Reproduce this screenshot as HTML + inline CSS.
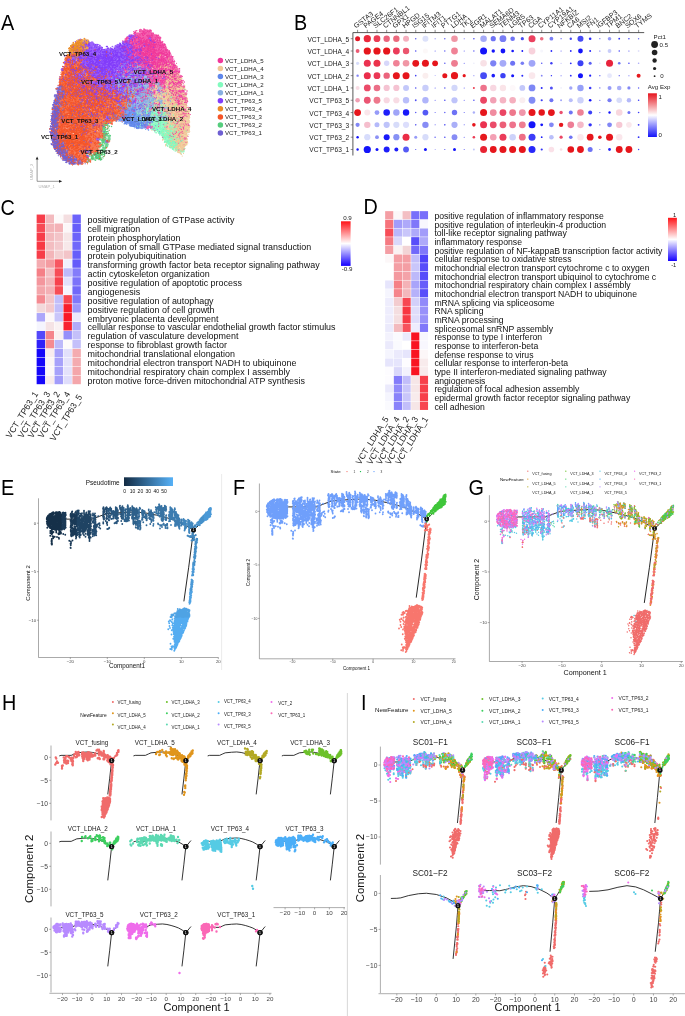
<!DOCTYPE html>
<html><head><meta charset="utf-8"><title>Figure</title>
<style>html,body{margin:0;padding:0;background:#fff}svg{display:block}text{font-family:"Liberation Sans",sans-serif}</style>
</head><body>
<svg width="685" height="1016" viewBox="0 0 685 1016">
<defs>
<linearGradient id="gB" x1="0" y1="0" x2="0" y2="1"><stop offset="0" stop-color="#e6141e"/><stop offset="0.5" stop-color="#ffffff"/><stop offset="1" stop-color="#1414fa"/></linearGradient>
<linearGradient id="gC" x1="0" y1="0" x2="0" y2="1"><stop offset="0" stop-color="#ff1418"/><stop offset="0.5" stop-color="#ffffff"/><stop offset="1" stop-color="#1400ff"/></linearGradient>
<linearGradient id="gE" x1="0" y1="0" x2="1" y2="0"><stop offset="0" stop-color="#132b43"/><stop offset="1" stop-color="#56b1f7"/></linearGradient>
</defs>
<rect width="685" height="1016" fill="#fff"/>
<text transform="translate(1.05 30) scale(0.9 1)" font-size="22">A</text>
<text transform="translate(294 30) scale(0.9 1)" font-size="22">B</text>
<text transform="translate(0.6 214.6) scale(0.9 1)" font-size="22">C</text>
<text transform="translate(363.4 213.8) scale(0.9 1)" font-size="22">D</text>
<text transform="translate(1 495) scale(0.9 1)" font-size="22">E</text>
<text transform="translate(232.9 495) scale(0.9 1)" font-size="22">F</text>
<text transform="translate(468.5 495.1) scale(0.9 1)" font-size="22">G</text>
<text transform="translate(2.1 710.1) scale(0.9 1)" font-size="22">H</text>
<text transform="translate(361.1 710) scale(0.9 1)" font-size="22">I</text>
<g id="pB">
<path d="M352.9 155.5V32.6H644.2" stroke="#444" stroke-width="0.9" fill="none"/>
<path d="M357.6 32.6v-2.8M367.29 32.6v-2.8M376.98 32.6v-2.8M386.67 32.6v-2.8M396.36 32.6v-2.8M406.05 32.6v-2.8M415.74 32.6v-2.8M425.43 32.6v-2.8M435.12 32.6v-2.8M444.81 32.6v-2.8M454.5 32.6v-2.8M464.19 32.6v-2.8M473.88 32.6v-2.8M483.57 32.6v-2.8M493.26 32.6v-2.8M502.95 32.6v-2.8M512.64 32.6v-2.8M522.33 32.6v-2.8M532.02 32.6v-2.8M541.71 32.6v-2.8M551.4 32.6v-2.8M561.09 32.6v-2.8M570.78 32.6v-2.8M580.47 32.6v-2.8M590.16 32.6v-2.8M599.85 32.6v-2.8M609.54 32.6v-2.8M619.23 32.6v-2.8M628.92 32.6v-2.8M638.61 32.6v-2.8M352.9 38.7h-2.2M352.9 51.01h-2.2M352.9 63.32h-2.2M352.9 75.63h-2.2M352.9 87.94h-2.2M352.9 100.25h-2.2M352.9 112.56h-2.2M352.9 124.87h-2.2M352.9 137.18h-2.2M352.9 149.49h-2.2" stroke="#444" stroke-width="0.6" fill="none"/>
<g font-size="7" fill="#222">
<text transform="translate(356.1 28.6) rotate(-38)">GSTA3</text>
<text transform="translate(365.79 28.6) rotate(-38)">PAGE4</text>
<text transform="translate(375.48 28.6) rotate(-38)">SLC26F1</text>
<text transform="translate(385.17 28.6) rotate(-38)">CTNNBL1</text>
<text transform="translate(394.86 28.6) rotate(-38)">GPX1</text>
<text transform="translate(404.55 28.6) rotate(-38)">HPGD</text>
<text transform="translate(414.24 28.6) rotate(-38)">ISG15</text>
<text transform="translate(423.93 28.6) rotate(-38)">IFITM3</text>
<text transform="translate(433.62 28.6) rotate(-38)">IFIT1</text>
<text transform="translate(443.31 28.6) rotate(-38)">PTTG1</text>
<text transform="translate(453 28.6) rotate(-38)">LDHA</text>
<text transform="translate(462.69 28.6) rotate(-38)">TK1</text>
<text transform="translate(472.38 28.6) rotate(-38)">EGR1</text>
<text transform="translate(482.07 28.6) rotate(-38)">MALAT1</text>
<text transform="translate(491.76 28.6) rotate(-38)">SEMA6D</text>
<text transform="translate(501.45 28.6) rotate(-38)">TENM3</text>
<text transform="translate(511.14 28.6) rotate(-38)">LGR5</text>
<text transform="translate(520.83 28.6) rotate(-38)">TP63</text>
<text transform="translate(530.52 28.6) rotate(-38)">CGA</text>
<text transform="translate(540.21 28.6) rotate(-38)">CYP11A1</text>
<text transform="translate(549.9 28.6) rotate(-38)">CYP19A1</text>
<text transform="translate(559.59 28.6) rotate(-38)">NFKBIZ</text>
<text transform="translate(569.28 28.6) rotate(-38)">CA6</text>
<text transform="translate(578.97 28.6) rotate(-38)">MSI2</text>
<text transform="translate(588.66 28.6) rotate(-38)">FN1</text>
<text transform="translate(598.35 28.6) rotate(-38)">IGFBP3</text>
<text transform="translate(608.04 28.6) rotate(-38)">TPM1</text>
<text transform="translate(617.73 28.6) rotate(-38)">BNC2</text>
<text transform="translate(627.42 28.6) rotate(-38)">SOX6</text>
<text transform="translate(637.11 28.6) rotate(-38)">TYMS</text>
</g>
<g font-size="6.6" text-anchor="end" fill="#222">
<text x="349.2" y="41.7">VCT_LDHA_5</text>
<text x="349.2" y="54.01">VCT_LDHA_4</text>
<text x="349.2" y="66.32">VCT_LDHA_3</text>
<text x="349.2" y="78.63">VCT_LDHA_2</text>
<text x="349.2" y="90.94">VCT_LDHA_1</text>
<text x="349.2" y="103.25">VCT_TP63_5</text>
<text x="349.2" y="115.56">VCT_TP63_4</text>
<text x="349.2" y="127.87">VCT_TP63_3</text>
<text x="349.2" y="140.18">VCT_TP63_2</text>
<text x="349.2" y="152.49">VCT_TP63_1</text>
</g>
<circle cx="357.6" cy="38.7" r="2.5" fill="#e11928"/>
<circle cx="367.29" cy="38.7" r="3.6" fill="#eb283c"/>
<circle cx="376.98" cy="38.7" r="3.4" fill="#eb3c55"/>
<circle cx="386.67" cy="38.7" r="3.2" fill="#eb647d"/>
<circle cx="396.36" cy="38.7" r="3.2" fill="#eb697d"/>
<circle cx="406.05" cy="38.7" r="3" fill="#f5afbe"/>
<circle cx="415.74" cy="38.7" r="0.7" fill="#5050f2"/>
<circle cx="425.43" cy="38.7" r="3" fill="#dce1fa"/>
<circle cx="435.12" cy="38.7" r="0.5" fill="#5050f2"/>
<circle cx="444.81" cy="38.7" r="0.7" fill="#5050f2"/>
<circle cx="454.5" cy="38.7" r="3.3" fill="#f096a5"/>
<circle cx="464.19" cy="38.7" r="0.5" fill="#5050f2"/>
<circle cx="473.88" cy="38.7" r="0.8" fill="#5050f2"/>
<circle cx="483.57" cy="38.7" r="3.3" fill="#a5aaf8"/>
<circle cx="493.26" cy="38.7" r="2.6" fill="#6e73f5"/>
<circle cx="502.95" cy="38.7" r="3.4" fill="#787df5"/>
<circle cx="512.64" cy="38.7" r="2.3" fill="#6e73f5"/>
<circle cx="522.33" cy="38.7" r="1.6" fill="#464bf5"/>
<circle cx="532.02" cy="38.7" r="3.5" fill="#eb415f"/>
<circle cx="541.71" cy="38.7" r="1.8" fill="#ee6e82"/>
<circle cx="551.4" cy="38.7" r="1.9" fill="#787df5"/>
<circle cx="561.09" cy="38.7" r="0.6" fill="#5050f2"/>
<circle cx="570.78" cy="38.7" r="1.2" fill="#4646f5"/>
<circle cx="580.47" cy="38.7" r="3" fill="#464bf5"/>
<circle cx="590.16" cy="38.7" r="1.3" fill="#2828fa"/>
<circle cx="599.85" cy="38.7" r="0.6" fill="#6464f5"/>
<circle cx="609.54" cy="38.7" r="1.8" fill="#969bf8"/>
<circle cx="619.23" cy="38.7" r="0.9" fill="#3232f8"/>
<circle cx="628.92" cy="38.7" r="0.7" fill="#3232f8"/>
<circle cx="638.61" cy="38.7" r="0.7" fill="#6e6ef5"/>
<circle cx="357.6" cy="51.01" r="1.9" fill="#eb5a73"/>
<circle cx="367.29" cy="51.01" r="3.6" fill="#e6161c"/>
<circle cx="376.98" cy="51.01" r="3.6" fill="#e6161c"/>
<circle cx="386.67" cy="51.01" r="3.6" fill="#e6161c"/>
<circle cx="396.36" cy="51.01" r="3.4" fill="#eb3c5a"/>
<circle cx="406.05" cy="51.01" r="3.2" fill="#eb556e"/>
<circle cx="415.74" cy="51.01" r="0.8" fill="#5050f2"/>
<circle cx="425.43" cy="51.01" r="2.5" fill="#fcf8f8"/>
<circle cx="435.12" cy="51.01" r="0.5" fill="#5050f2"/>
<circle cx="444.81" cy="51.01" r="0.7" fill="#5050f2"/>
<circle cx="454.5" cy="51.01" r="3.4" fill="#f08296"/>
<circle cx="464.19" cy="51.01" r="0.5" fill="#5050f2"/>
<circle cx="473.88" cy="51.01" r="0.7" fill="#5050f2"/>
<circle cx="483.57" cy="51.01" r="3.5" fill="#1414fa"/>
<circle cx="493.26" cy="51.01" r="1.7" fill="#1414fa"/>
<circle cx="502.95" cy="51.01" r="2.4" fill="#1414fa"/>
<circle cx="512.64" cy="51.01" r="1.3" fill="#1414fa"/>
<circle cx="522.33" cy="51.01" r="0.9" fill="#1414fa"/>
<circle cx="532.02" cy="51.01" r="3.4" fill="#f8d2dc"/>
<circle cx="541.71" cy="51.01" r="1.5" fill="#f6f6fc"/>
<circle cx="551.4" cy="51.01" r="0.9" fill="#2828fa"/>
<circle cx="561.09" cy="51.01" r="0.5" fill="#5050f2"/>
<circle cx="570.78" cy="51.01" r="0.9" fill="#2828fa"/>
<circle cx="580.47" cy="51.01" r="2.4" fill="#1414fa"/>
<circle cx="590.16" cy="51.01" r="1" fill="#2828fa"/>
<circle cx="599.85" cy="51.01" r="0.6" fill="#5050f2"/>
<circle cx="609.54" cy="51.01" r="1.9" fill="#c8cdfa"/>
<circle cx="619.23" cy="51.01" r="0.7" fill="#3232f8"/>
<circle cx="628.92" cy="51.01" r="0.6" fill="#5050f2"/>
<circle cx="638.61" cy="51.01" r="0.9" fill="#e1e1fa"/>
<circle cx="357.6" cy="63.32" r="1.6" fill="#d7dcfa"/>
<circle cx="367.29" cy="63.32" r="3.5" fill="#eb3250"/>
<circle cx="376.98" cy="63.32" r="3.5" fill="#eb324b"/>
<circle cx="386.67" cy="63.32" r="2.7" fill="#d7d7fa"/>
<circle cx="396.36" cy="63.32" r="3.3" fill="#f08296"/>
<circle cx="406.05" cy="63.32" r="3.3" fill="#f096a5"/>
<circle cx="415.74" cy="63.32" r="3.4" fill="#e6161c"/>
<circle cx="425.43" cy="63.32" r="3.5" fill="#e6161c"/>
<circle cx="435.12" cy="63.32" r="2.9" fill="#e6161c"/>
<circle cx="444.81" cy="63.32" r="0.8" fill="#6464f0"/>
<circle cx="454.5" cy="63.32" r="3.4" fill="#ee7d91"/>
<circle cx="464.19" cy="63.32" r="0.5" fill="#5050f2"/>
<circle cx="473.88" cy="63.32" r="0.8" fill="#ebebfa"/>
<circle cx="483.57" cy="63.32" r="3.3" fill="#f8e1e6"/>
<circle cx="493.26" cy="63.32" r="3.1" fill="#7d82f5"/>
<circle cx="502.95" cy="63.32" r="3.4" fill="#a5aaf8"/>
<circle cx="512.64" cy="63.32" r="2.5" fill="#6e73f5"/>
<circle cx="522.33" cy="63.32" r="1.8" fill="#787df5"/>
<circle cx="532.02" cy="63.32" r="3.4" fill="#a0a5f8"/>
<circle cx="541.71" cy="63.32" r="0.8" fill="#5a5af5"/>
<circle cx="551.4" cy="63.32" r="1.2" fill="#3c3cf5"/>
<circle cx="561.09" cy="63.32" r="0.5" fill="#aaaaf8"/>
<circle cx="570.78" cy="63.32" r="0.9" fill="#2828fa"/>
<circle cx="580.47" cy="63.32" r="3" fill="#3c41f5"/>
<circle cx="590.16" cy="63.32" r="1.5" fill="#5a5ff5"/>
<circle cx="599.85" cy="63.32" r="0.7" fill="#dcdcfa"/>
<circle cx="609.54" cy="63.32" r="3.5" fill="#e8233c"/>
<circle cx="619.23" cy="63.32" r="1.3" fill="#6e73f5"/>
<circle cx="628.92" cy="63.32" r="0.8" fill="#4646f8"/>
<circle cx="638.61" cy="63.32" r="0.8" fill="#aaaaf8"/>
<circle cx="357.6" cy="75.63" r="1.2" fill="#8282f5"/>
<circle cx="367.29" cy="75.63" r="3.5" fill="#eb2d4b"/>
<circle cx="376.98" cy="75.63" r="3.4" fill="#eb3755"/>
<circle cx="386.67" cy="75.63" r="3.2" fill="#eb647d"/>
<circle cx="396.36" cy="75.63" r="3.5" fill="#e6161c"/>
<circle cx="406.05" cy="75.63" r="3.5" fill="#e6161c"/>
<circle cx="415.74" cy="75.63" r="0.8" fill="#3c3cf0"/>
<circle cx="425.43" cy="75.63" r="3" fill="#faeeee"/>
<circle cx="435.12" cy="75.63" r="0.4" fill="#5050f2"/>
<circle cx="444.81" cy="75.63" r="2.5" fill="#e6161c"/>
<circle cx="454.5" cy="75.63" r="3.6" fill="#e6161c"/>
<circle cx="464.19" cy="75.63" r="1.6" fill="#e6161c"/>
<circle cx="473.88" cy="75.63" r="0.6" fill="#9696f6"/>
<circle cx="483.57" cy="75.63" r="3.4" fill="#464bf5"/>
<circle cx="493.26" cy="75.63" r="1.8" fill="#1e1efa"/>
<circle cx="502.95" cy="75.63" r="2.7" fill="#3c41f5"/>
<circle cx="512.64" cy="75.63" r="1.5" fill="#1414fa"/>
<circle cx="522.33" cy="75.63" r="1" fill="#2828fa"/>
<circle cx="532.02" cy="75.63" r="3.3" fill="#fae8ec"/>
<circle cx="541.71" cy="75.63" r="0.9" fill="#8282f5"/>
<circle cx="551.4" cy="75.63" r="0.7" fill="#2828fa"/>
<circle cx="561.09" cy="75.63" r="0.5" fill="#5050f2"/>
<circle cx="570.78" cy="75.63" r="0.9" fill="#2828fa"/>
<circle cx="580.47" cy="75.63" r="2.5" fill="#1414fa"/>
<circle cx="590.16" cy="75.63" r="1.1" fill="#1e1efa"/>
<circle cx="599.85" cy="75.63" r="0.6" fill="#5050f2"/>
<circle cx="609.54" cy="75.63" r="2.4" fill="#e6e8fc"/>
<circle cx="619.23" cy="75.63" r="0.6" fill="#5050f2"/>
<circle cx="628.92" cy="75.63" r="0.5" fill="#5050f2"/>
<circle cx="638.61" cy="75.63" r="2" fill="#e6191e"/>
<circle cx="357.6" cy="87.94" r="2" fill="#f8dce4"/>
<circle cx="367.29" cy="87.94" r="3.4" fill="#eb4b69"/>
<circle cx="376.98" cy="87.94" r="3.3" fill="#eb6e87"/>
<circle cx="386.67" cy="87.94" r="3.1" fill="#f5c3d2"/>
<circle cx="396.36" cy="87.94" r="3.1" fill="#f5c3d2"/>
<circle cx="406.05" cy="87.94" r="3" fill="#c3c8fa"/>
<circle cx="415.74" cy="87.94" r="0.8" fill="#5050f2"/>
<circle cx="425.43" cy="87.94" r="3.2" fill="#c8cdfa"/>
<circle cx="435.12" cy="87.94" r="0.5" fill="#5050f2"/>
<circle cx="444.81" cy="87.94" r="0.8" fill="#6464f0"/>
<circle cx="454.5" cy="87.94" r="3.1" fill="#d2d7fa"/>
<circle cx="464.19" cy="87.94" r="0.5" fill="#5050f2"/>
<circle cx="473.88" cy="87.94" r="1" fill="#eb3c50"/>
<circle cx="483.57" cy="87.94" r="3.3" fill="#ee738c"/>
<circle cx="493.26" cy="87.94" r="3.2" fill="#f8d7e1"/>
<circle cx="502.95" cy="87.94" r="3.2" fill="#fae4e8"/>
<circle cx="512.64" cy="87.94" r="3" fill="#fdf8fa"/>
<circle cx="522.33" cy="87.94" r="2.9" fill="#c3c8fa"/>
<circle cx="532.02" cy="87.94" r="3.4" fill="#7d87f5"/>
<circle cx="541.71" cy="87.94" r="1" fill="#2828fa"/>
<circle cx="551.4" cy="87.94" r="1.5" fill="#5050f5"/>
<circle cx="561.09" cy="87.94" r="0.9" fill="#f0f0fc"/>
<circle cx="570.78" cy="87.94" r="1.7" fill="#a0a5f8"/>
<circle cx="580.47" cy="87.94" r="3.2" fill="#96a0f8"/>
<circle cx="590.16" cy="87.94" r="1.3" fill="#3c3cf8"/>
<circle cx="599.85" cy="87.94" r="0.6" fill="#5050f2"/>
<circle cx="609.54" cy="87.94" r="2" fill="#969bf8"/>
<circle cx="619.23" cy="87.94" r="2.3" fill="#aaaff8"/>
<circle cx="628.92" cy="87.94" r="1.6" fill="#8287f5"/>
<circle cx="638.61" cy="87.94" r="0.7" fill="#5a5af5"/>
<circle cx="357.6" cy="100.25" r="2.3" fill="#f0a0b4"/>
<circle cx="367.29" cy="100.25" r="3.4" fill="#eb5573"/>
<circle cx="376.98" cy="100.25" r="3.4" fill="#ee788c"/>
<circle cx="386.67" cy="100.25" r="3.1" fill="#f8d7e1"/>
<circle cx="396.36" cy="100.25" r="3.1" fill="#f8dce4"/>
<circle cx="406.05" cy="100.25" r="3.2" fill="#b9befa"/>
<circle cx="415.74" cy="100.25" r="0.9" fill="#5050f2"/>
<circle cx="425.43" cy="100.25" r="3.2" fill="#afb4fa"/>
<circle cx="435.12" cy="100.25" r="0.5" fill="#5050f2"/>
<circle cx="444.81" cy="100.25" r="0.8" fill="#5050f2"/>
<circle cx="454.5" cy="100.25" r="3.1" fill="#bec3fa"/>
<circle cx="464.19" cy="100.25" r="0.5" fill="#5050f2"/>
<circle cx="473.88" cy="100.25" r="0.8" fill="#5a5af5"/>
<circle cx="483.57" cy="100.25" r="3.4" fill="#eb4664"/>
<circle cx="493.26" cy="100.25" r="3.2" fill="#f2a0b4"/>
<circle cx="502.95" cy="100.25" r="3.3" fill="#f5b4c3"/>
<circle cx="512.64" cy="100.25" r="3.3" fill="#f5afbe"/>
<circle cx="522.33" cy="100.25" r="3" fill="#faeef0"/>
<circle cx="532.02" cy="100.25" r="3.4" fill="#828cf5"/>
<circle cx="541.71" cy="100.25" r="1.1" fill="#3c3cf5"/>
<circle cx="551.4" cy="100.25" r="2" fill="#6e73f5"/>
<circle cx="561.09" cy="100.25" r="1" fill="#a0a5f8"/>
<circle cx="570.78" cy="100.25" r="2" fill="#b9befa"/>
<circle cx="580.47" cy="100.25" r="3.2" fill="#cdd2fa"/>
<circle cx="590.16" cy="100.25" r="1.3" fill="#1414fa"/>
<circle cx="599.85" cy="100.25" r="0.6" fill="#5050f2"/>
<circle cx="609.54" cy="100.25" r="2.1" fill="#787df5"/>
<circle cx="619.23" cy="100.25" r="2.8" fill="#d7dcfa"/>
<circle cx="628.92" cy="100.25" r="2.2" fill="#b4b9fa"/>
<circle cx="638.61" cy="100.25" r="0.8" fill="#3c3cf8"/>
<circle cx="357.6" cy="112.56" r="3.4" fill="#e6161c"/>
<circle cx="367.29" cy="112.56" r="3" fill="#fae6eb"/>
<circle cx="376.98" cy="112.56" r="2.4" fill="#969bf8"/>
<circle cx="386.67" cy="112.56" r="3.3" fill="#1e1efa"/>
<circle cx="396.36" cy="112.56" r="3.2" fill="#a0a5f8"/>
<circle cx="406.05" cy="112.56" r="3.2" fill="#1919fa"/>
<circle cx="415.74" cy="112.56" r="0.7" fill="#5050f2"/>
<circle cx="425.43" cy="112.56" r="2.9" fill="#555af5"/>
<circle cx="435.12" cy="112.56" r="0.5" fill="#5050f2"/>
<circle cx="444.81" cy="112.56" r="0.7" fill="#5050f2"/>
<circle cx="454.5" cy="112.56" r="2.7" fill="#6e73f5"/>
<circle cx="464.19" cy="112.56" r="0.5" fill="#5050f2"/>
<circle cx="473.88" cy="112.56" r="1.2" fill="#aaaff8"/>
<circle cx="483.57" cy="112.56" r="3.5" fill="#e6161c"/>
<circle cx="493.26" cy="112.56" r="3.4" fill="#f08ca0"/>
<circle cx="502.95" cy="112.56" r="3.4" fill="#eb4664"/>
<circle cx="512.64" cy="112.56" r="3.4" fill="#ee788c"/>
<circle cx="522.33" cy="112.56" r="3.4" fill="#f096aa"/>
<circle cx="532.02" cy="112.56" r="3.5" fill="#e6161c"/>
<circle cx="541.71" cy="112.56" r="3.2" fill="#e6161c"/>
<circle cx="551.4" cy="112.56" r="3.4" fill="#e6161c"/>
<circle cx="561.09" cy="112.56" r="1.7" fill="#eb506e"/>
<circle cx="570.78" cy="112.56" r="2" fill="#6e73f5"/>
<circle cx="580.47" cy="112.56" r="3.3" fill="#ee8296"/>
<circle cx="590.16" cy="112.56" r="2" fill="#3c41f8"/>
<circle cx="599.85" cy="112.56" r="0.6" fill="#5050f2"/>
<circle cx="609.54" cy="112.56" r="1.2" fill="#1414fa"/>
<circle cx="619.23" cy="112.56" r="3.3" fill="#f8d7de"/>
<circle cx="628.92" cy="112.56" r="1.5" fill="#6e73f5"/>
<circle cx="638.61" cy="112.56" r="0.8" fill="#3c3cf8"/>
<circle cx="357.6" cy="124.87" r="2.1" fill="#8287f5"/>
<circle cx="367.29" cy="124.87" r="3.2" fill="#f5becd"/>
<circle cx="376.98" cy="124.87" r="2.5" fill="#b4b9fa"/>
<circle cx="386.67" cy="124.87" r="3.1" fill="#bec3fa"/>
<circle cx="396.36" cy="124.87" r="3.1" fill="#d7dcfa"/>
<circle cx="406.05" cy="124.87" r="3.1" fill="#dcdefc"/>
<circle cx="415.74" cy="124.87" r="0.8" fill="#5a5af0"/>
<circle cx="425.43" cy="124.87" r="3.2" fill="#878cf5"/>
<circle cx="435.12" cy="124.87" r="0.5" fill="#5050f2"/>
<circle cx="444.81" cy="124.87" r="0.8" fill="#5050f2"/>
<circle cx="454.5" cy="124.87" r="3.1" fill="#aaaff8"/>
<circle cx="464.19" cy="124.87" r="0.5" fill="#5050f2"/>
<circle cx="473.88" cy="124.87" r="1.8" fill="#e6161c"/>
<circle cx="483.57" cy="124.87" r="3.5" fill="#eb3250"/>
<circle cx="493.26" cy="124.87" r="3.4" fill="#eb4b69"/>
<circle cx="502.95" cy="124.87" r="3.4" fill="#ec5f78"/>
<circle cx="512.64" cy="124.87" r="3.4" fill="#ee738c"/>
<circle cx="522.33" cy="124.87" r="3.4" fill="#ee7d91"/>
<circle cx="532.02" cy="124.87" r="3.5" fill="#1414fa"/>
<circle cx="541.71" cy="124.87" r="1.4" fill="#1414fa"/>
<circle cx="551.4" cy="124.87" r="2.4" fill="#8287f5"/>
<circle cx="561.09" cy="124.87" r="2.2" fill="#e6161c"/>
<circle cx="570.78" cy="124.87" r="3.3" fill="#ee7d96"/>
<circle cx="580.47" cy="124.87" r="3.3" fill="#f5b9c8"/>
<circle cx="590.16" cy="124.87" r="1.7" fill="#3232f8"/>
<circle cx="599.85" cy="124.87" r="0.6" fill="#5050f2"/>
<circle cx="609.54" cy="124.87" r="2.4" fill="#8287f5"/>
<circle cx="619.23" cy="124.87" r="3.2" fill="#f6c8d4"/>
<circle cx="628.92" cy="124.87" r="2.8" fill="#fae8ec"/>
<circle cx="638.61" cy="124.87" r="0.9" fill="#3c3cf8"/>
<circle cx="357.6" cy="137.18" r="1.2" fill="#1414fa"/>
<circle cx="367.29" cy="137.18" r="3.1" fill="#d7dcfc"/>
<circle cx="376.98" cy="137.18" r="1.9" fill="#8c91f5"/>
<circle cx="386.67" cy="137.18" r="3" fill="#1919fa"/>
<circle cx="396.36" cy="137.18" r="3.1" fill="#8791f5"/>
<circle cx="406.05" cy="137.18" r="3.5" fill="#eb2d46"/>
<circle cx="415.74" cy="137.18" r="1.5" fill="#969bf8"/>
<circle cx="425.43" cy="137.18" r="3.1" fill="#d7dcfa"/>
<circle cx="435.12" cy="137.18" r="0.8" fill="#6e6ef5"/>
<circle cx="444.81" cy="137.18" r="0.8" fill="#5050f2"/>
<circle cx="454.5" cy="137.18" r="2.9" fill="#878cf5"/>
<circle cx="464.19" cy="137.18" r="0.5" fill="#5050f2"/>
<circle cx="473.88" cy="137.18" r="1.3" fill="#eb3c55"/>
<circle cx="483.57" cy="137.18" r="3.5" fill="#e6191e"/>
<circle cx="493.26" cy="137.18" r="3.3" fill="#f3a0b4"/>
<circle cx="502.95" cy="137.18" r="3.5" fill="#eb3c5a"/>
<circle cx="512.64" cy="137.18" r="3.3" fill="#cdd2fa"/>
<circle cx="522.33" cy="137.18" r="3.4" fill="#ee6e87"/>
<circle cx="532.02" cy="137.18" r="3.5" fill="#3c3cf8"/>
<circle cx="541.71" cy="137.18" r="0.9" fill="#1e1efa"/>
<circle cx="551.4" cy="137.18" r="2.3" fill="#b9befa"/>
<circle cx="561.09" cy="137.18" r="1.6" fill="#eb4664"/>
<circle cx="570.78" cy="137.18" r="1.8" fill="#6e73f5"/>
<circle cx="580.47" cy="137.18" r="3.2" fill="#fae8ec"/>
<circle cx="590.16" cy="137.18" r="3.4" fill="#e6161c"/>
<circle cx="599.85" cy="137.18" r="1.8" fill="#e6161c"/>
<circle cx="609.54" cy="137.18" r="3.5" fill="#e6161c"/>
<circle cx="619.23" cy="137.18" r="3.2" fill="#fae6eb"/>
<circle cx="638.61" cy="137.18" r="0.9" fill="#3232f8"/>
<circle cx="357.6" cy="149.49" r="1.2" fill="#1414fa"/>
<circle cx="367.29" cy="149.49" r="3.6" fill="#1414fa"/>
<circle cx="376.98" cy="149.49" r="1.5" fill="#1414fa"/>
<circle cx="386.67" cy="149.49" r="3" fill="#1e1efa"/>
<circle cx="396.36" cy="149.49" r="2" fill="#1e1efa"/>
<circle cx="406.05" cy="149.49" r="2.9" fill="#555af5"/>
<circle cx="415.74" cy="149.49" r="0.6" fill="#5050f2"/>
<circle cx="425.43" cy="149.49" r="1.5" fill="#1414fa"/>
<circle cx="435.12" cy="149.49" r="0.4" fill="#5050f2"/>
<circle cx="444.81" cy="149.49" r="0.6" fill="#5050f2"/>
<circle cx="454.5" cy="149.49" r="1.5" fill="#1414fa"/>
<circle cx="464.19" cy="149.49" r="0.5" fill="#5050f2"/>
<circle cx="473.88" cy="149.49" r="1" fill="#c3c8fa"/>
<circle cx="483.57" cy="149.49" r="3.5" fill="#e82332"/>
<circle cx="493.26" cy="149.49" r="3.4" fill="#e6161c"/>
<circle cx="502.95" cy="149.49" r="3.5" fill="#e6161c"/>
<circle cx="512.64" cy="149.49" r="3.5" fill="#e6161c"/>
<circle cx="522.33" cy="149.49" r="3.5" fill="#e6161c"/>
<circle cx="532.02" cy="149.49" r="3.5" fill="#2828fa"/>
<circle cx="541.71" cy="149.49" r="1.1" fill="#3232f8"/>
<circle cx="551.4" cy="149.49" r="2.8" fill="#fae1e8"/>
<circle cx="561.09" cy="149.49" r="1.3" fill="#fadce4"/>
<circle cx="570.78" cy="149.49" r="3.3" fill="#e6161c"/>
<circle cx="580.47" cy="149.49" r="3.4" fill="#e6161c"/>
<circle cx="590.16" cy="149.49" r="2.5" fill="#6e73f5"/>
<circle cx="599.85" cy="149.49" r="0.5" fill="#5050f2"/>
<circle cx="609.54" cy="149.49" r="1.4" fill="#2828fa"/>
<circle cx="619.23" cy="149.49" r="3.4" fill="#e6161c"/>
<circle cx="628.92" cy="149.49" r="3.4" fill="#e6161c"/>
<circle cx="638.61" cy="149.49" r="0.7" fill="#4646f8"/>
<text x="653.6" y="38.6" font-size="6.1" fill="#222">Pct1</text>
<circle cx="654.6" cy="44.5" r="3.4" fill="#222"/>
<circle cx="654.6" cy="52.5" r="2.8" fill="#222"/>
<circle cx="654.6" cy="60.5" r="2.2" fill="#222"/>
<circle cx="654.6" cy="68.5" r="1.6" fill="#222"/>
<circle cx="654.6" cy="76.2" r="0.9" fill="#222"/>
<text x="659.6" y="46.6" font-size="6.1" fill="#222">0.5</text>
<text x="660.2" y="78.3" font-size="6.1" fill="#222">0</text>
<text x="647.8" y="88.5" font-size="6.1" fill="#222">Avg Exp</text>
<rect x="648" y="93.3" width="8.9" height="43.7" fill="url(#gB)"/>
<text x="658.6" y="98.8" font-size="6.1" fill="#222">1</text>
<text x="658.6" y="136.9" font-size="6.1" fill="#222">0</text>
</g>
<g id="pC">
<rect x="36.65" y="214.55" width="8.44" height="8.46" fill="#f73d49"/>
<rect x="45.59" y="214.55" width="8.44" height="8.46" fill="#f3babe"/>
<rect x="54.53" y="214.55" width="8.44" height="8.46" fill="#fdfafa"/>
<rect x="63.47" y="214.55" width="8.44" height="8.46" fill="#f4dee0"/>
<rect x="72.41" y="214.55" width="8.44" height="8.46" fill="#6c62fa"/>
<rect x="36.65" y="223.51" width="8.44" height="8.46" fill="#f74a55"/>
<rect x="45.59" y="223.51" width="8.44" height="8.46" fill="#f3b5b9"/>
<rect x="54.53" y="223.51" width="8.44" height="8.46" fill="#f4b2b7"/>
<rect x="63.47" y="223.51" width="8.44" height="8.46" fill="#fcf7f8"/>
<rect x="72.41" y="223.51" width="8.44" height="8.46" fill="#675dfa"/>
<rect x="36.65" y="232.46" width="8.44" height="8.46" fill="#f73d49"/>
<rect x="45.59" y="232.46" width="8.44" height="8.46" fill="#f3babe"/>
<rect x="54.53" y="232.46" width="8.44" height="8.46" fill="#f3c4c8"/>
<rect x="63.47" y="232.46" width="8.44" height="8.46" fill="#f6e6e7"/>
<rect x="72.41" y="232.46" width="8.44" height="8.46" fill="#6c62fa"/>
<rect x="36.65" y="241.42" width="8.44" height="8.46" fill="#f83844"/>
<rect x="45.59" y="241.42" width="8.44" height="8.46" fill="#f3bdc1"/>
<rect x="54.53" y="241.42" width="8.44" height="8.46" fill="#f3c9cd"/>
<rect x="63.47" y="241.42" width="8.44" height="8.46" fill="#f7e8e9"/>
<rect x="72.41" y="241.42" width="8.44" height="8.46" fill="#7168fa"/>
<rect x="36.65" y="250.37" width="8.44" height="8.46" fill="#f73d49"/>
<rect x="45.59" y="250.37" width="8.44" height="8.46" fill="#f3b5b9"/>
<rect x="54.53" y="250.37" width="8.44" height="8.46" fill="#f3cfd1"/>
<rect x="63.47" y="250.37" width="8.44" height="8.46" fill="#f3c4c8"/>
<rect x="72.41" y="250.37" width="8.44" height="8.46" fill="#675dfa"/>
<rect x="36.65" y="259.32" width="8.44" height="8.46" fill="#f4abb0"/>
<rect x="45.59" y="259.32" width="8.44" height="8.46" fill="#f49ca1"/>
<rect x="54.53" y="259.32" width="8.44" height="8.46" fill="#f75761"/>
<rect x="63.47" y="259.32" width="8.44" height="8.46" fill="#f0effd"/>
<rect x="72.41" y="259.32" width="8.44" height="8.46" fill="#655bfa"/>
<rect x="36.65" y="268.28" width="8.44" height="8.46" fill="#f58087"/>
<rect x="45.59" y="268.28" width="8.44" height="8.46" fill="#f3bfc3"/>
<rect x="54.53" y="268.28" width="8.44" height="8.46" fill="#f74d57"/>
<rect x="63.47" y="268.28" width="8.44" height="8.46" fill="#bdb9fa"/>
<rect x="72.41" y="268.28" width="8.44" height="8.46" fill="#847cfa"/>
<rect x="36.65" y="277.24" width="8.44" height="8.46" fill="#f4969d"/>
<rect x="45.59" y="277.24" width="8.44" height="8.46" fill="#f3b5b9"/>
<rect x="54.53" y="277.24" width="8.44" height="8.46" fill="#f7424d"/>
<rect x="63.47" y="277.24" width="8.44" height="8.46" fill="#e2e0fb"/>
<rect x="72.41" y="277.24" width="8.44" height="8.46" fill="#7b72fa"/>
<rect x="36.65" y="286.19" width="8.44" height="8.46" fill="#f4a6ab"/>
<rect x="45.59" y="286.19" width="8.44" height="8.46" fill="#f4b0b5"/>
<rect x="54.53" y="286.19" width="8.44" height="8.46" fill="#f74d57"/>
<rect x="63.47" y="286.19" width="8.44" height="8.46" fill="#f5f5fe"/>
<rect x="72.41" y="286.19" width="8.44" height="8.46" fill="#7168fa"/>
<rect x="36.65" y="295.14" width="8.44" height="8.46" fill="#f58a91"/>
<rect x="45.59" y="295.14" width="8.44" height="8.46" fill="#f3c4c8"/>
<rect x="54.53" y="295.14" width="8.44" height="8.46" fill="#c2befa"/>
<rect x="63.47" y="295.14" width="8.44" height="8.46" fill="#f74752"/>
<rect x="72.41" y="295.14" width="8.44" height="8.46" fill="#8077fa"/>
<rect x="36.65" y="304.1" width="8.44" height="8.46" fill="#f2d9db"/>
<rect x="45.59" y="304.1" width="8.44" height="8.46" fill="#f3c9cd"/>
<rect x="54.53" y="304.1" width="8.44" height="8.46" fill="#c2befa"/>
<rect x="63.47" y="304.1" width="8.44" height="8.46" fill="#f81f2c"/>
<rect x="72.41" y="304.1" width="8.44" height="8.46" fill="#9d97fa"/>
<rect x="36.65" y="313.06" width="8.44" height="8.46" fill="#aca6fa"/>
<rect x="45.59" y="313.06" width="8.44" height="8.46" fill="#fcf7f8"/>
<rect x="54.53" y="313.06" width="8.44" height="8.46" fill="#c9c6fa"/>
<rect x="63.47" y="313.06" width="8.44" height="8.46" fill="#f91927"/>
<rect x="72.41" y="313.06" width="8.44" height="8.46" fill="#ebeafc"/>
<rect x="36.65" y="322.01" width="8.44" height="8.46" fill="#f5f5fe"/>
<rect x="45.59" y="322.01" width="8.44" height="8.46" fill="#f5e3e5"/>
<rect x="54.53" y="322.01" width="8.44" height="8.46" fill="#faf2f3"/>
<rect x="63.47" y="322.01" width="8.44" height="8.46" fill="#f82431"/>
<rect x="72.41" y="322.01" width="8.44" height="8.46" fill="#b1abfa"/>
<rect x="36.65" y="330.97" width="8.44" height="8.46" fill="#5448fa"/>
<rect x="45.59" y="330.97" width="8.44" height="8.46" fill="#f5858c"/>
<rect x="54.53" y="330.97" width="8.44" height="8.46" fill="#faf0f1"/>
<rect x="63.47" y="330.97" width="8.44" height="8.46" fill="#968ffa"/>
<rect x="72.41" y="330.97" width="8.44" height="8.46" fill="#c4c0fa"/>
<rect x="36.65" y="339.92" width="8.44" height="8.46" fill="#2f21fa"/>
<rect x="45.59" y="339.92" width="8.44" height="8.46" fill="#f58a91"/>
<rect x="54.53" y="339.92" width="8.44" height="8.46" fill="#bdb9fa"/>
<rect x="63.47" y="339.92" width="8.44" height="8.46" fill="#fdfafa"/>
<rect x="72.41" y="339.92" width="8.44" height="8.46" fill="#c4c0fa"/>
<rect x="36.65" y="348.88" width="8.44" height="8.46" fill="#1607fa"/>
<rect x="45.59" y="348.88" width="8.44" height="8.46" fill="#f9edee"/>
<rect x="54.53" y="348.88" width="8.44" height="8.46" fill="#a7a1fa"/>
<rect x="63.47" y="348.88" width="8.44" height="8.46" fill="#e2e0fb"/>
<rect x="72.41" y="348.88" width="8.44" height="8.46" fill="#f4abb0"/>
<rect x="36.65" y="357.83" width="8.44" height="8.46" fill="#1607fa"/>
<rect x="45.59" y="357.83" width="8.44" height="8.46" fill="#fbf5f5"/>
<rect x="54.53" y="357.83" width="8.44" height="8.46" fill="#a7a1fa"/>
<rect x="63.47" y="357.83" width="8.44" height="8.46" fill="#e4e2fb"/>
<rect x="72.41" y="357.83" width="8.44" height="8.46" fill="#f4abb0"/>
<rect x="36.65" y="366.79" width="8.44" height="8.46" fill="#1607fa"/>
<rect x="45.59" y="366.79" width="8.44" height="8.46" fill="#fcf7f8"/>
<rect x="54.53" y="366.79" width="8.44" height="8.46" fill="#a7a1fa"/>
<rect x="63.47" y="366.79" width="8.44" height="8.46" fill="#e4e2fb"/>
<rect x="72.41" y="366.79" width="8.44" height="8.46" fill="#f4a6ab"/>
<rect x="36.65" y="375.74" width="8.44" height="8.46" fill="#1607fa"/>
<rect x="45.59" y="375.74" width="8.44" height="8.46" fill="#f8ebec"/>
<rect x="54.53" y="375.74" width="8.44" height="8.46" fill="#a29cfa"/>
<rect x="63.47" y="375.74" width="8.44" height="8.46" fill="#dfddfb"/>
<rect x="72.41" y="375.74" width="8.44" height="8.46" fill="#f4a6ab"/>
<g font-size="8.94" fill="#111">
<text x="87.6" y="223">positive regulation of GTPase activity</text>
<text x="87.6" y="231.96">cell migration</text>
<text x="87.6" y="240.91">protein phosphorylation</text>
<text x="87.6" y="249.87">regulation of small GTPase mediated signal transduction</text>
<text x="87.6" y="258.82">protein polyubiquitination</text>
<text x="87.6" y="267.77">transforming growth factor beta receptor signaling pathway</text>
<text x="87.6" y="276.73">actin cytoskeleton organization</text>
<text x="87.6" y="285.69">positive regulation of apoptotic process</text>
<text x="87.6" y="294.64">angiogenesis</text>
<text x="87.6" y="303.59">positive regulation of autophagy</text>
<text x="87.6" y="312.55">positive regulation of cell growth</text>
<text x="87.6" y="321.5">embryonic placenta development</text>
<text x="87.6" y="330.46">cellular response to vascular endothelial growth factor stimulus</text>
<text x="87.6" y="339.42">regulation of vasculature development</text>
<text x="87.6" y="348.37">response to fibroblast growth factor</text>
<text x="87.6" y="357.32">mitochondrial translational elongation</text>
<text x="87.6" y="366.28">mitochondrial electron transport NADH to ubiquinone</text>
<text x="87.6" y="375.24">mitochondrial respiratory chain complex I assembly</text>
<text x="87.6" y="384.19">proton motive force-driven mitochondrial ATP synthesis</text>
</g>
<g font-size="8.7" fill="#222" text-anchor="end">
<text transform="translate(38.5 394) rotate(-58)">VCT_TP63_1</text>
<text transform="translate(50.5 394) rotate(-58)">VCT_TP63_3</text>
<text transform="translate(60.3 394) rotate(-58)">VCT_TP63_2</text>
<text transform="translate(70.5 394) rotate(-58)">VCT_TP63_4</text>
<text transform="translate(82.5 397) rotate(-58)">VCT_TP63_5</text>
</g>
<rect x="341" y="221.3" width="9.6" height="44.6" fill="url(#gC)"/>
<text x="343.2" y="220.2" font-size="6.2" fill="#222">0.9</text>
<text x="341.8" y="271.4" font-size="6.2" fill="#222">-0.9</text>
</g>
<g id="pD">
<rect x="385.15" y="211.15" width="8.18" height="8.16" fill="#f49ea4"/>
<rect x="393.83" y="211.15" width="8.18" height="8.16" fill="#fcf7f8"/>
<rect x="402.51" y="211.15" width="8.18" height="8.16" fill="#f3bfc3"/>
<rect x="411.19" y="211.15" width="8.18" height="8.16" fill="#786ffa"/>
<rect x="419.87" y="211.15" width="8.18" height="8.16" fill="#786ffa"/>
<rect x="385.15" y="219.81" width="8.18" height="8.16" fill="#f6737b"/>
<rect x="393.83" y="219.81" width="8.18" height="8.16" fill="#a29cfa"/>
<rect x="402.51" y="219.81" width="8.18" height="8.16" fill="#aea9fa"/>
<rect x="411.19" y="219.81" width="8.18" height="8.16" fill="#8077fa"/>
<rect x="419.87" y="219.81" width="8.18" height="8.16" fill="#f8f7fe"/>
<rect x="385.15" y="228.48" width="8.18" height="8.16" fill="#f74d57"/>
<rect x="393.83" y="228.48" width="8.18" height="8.16" fill="#bab6fa"/>
<rect x="402.51" y="228.48" width="8.18" height="8.16" fill="#c9c6fa"/>
<rect x="411.19" y="228.48" width="8.18" height="8.16" fill="#aea9fa"/>
<rect x="419.87" y="228.48" width="8.18" height="8.16" fill="#a29cfa"/>
<rect x="385.15" y="237.15" width="8.18" height="8.16" fill="#f57a82"/>
<rect x="393.83" y="237.15" width="8.18" height="8.16" fill="#dad8fa"/>
<rect x="402.51" y="237.15" width="8.18" height="8.16" fill="#ffffff"/>
<rect x="411.19" y="237.15" width="8.18" height="8.16" fill="#584efa"/>
<rect x="419.87" y="237.15" width="8.18" height="8.16" fill="#aea9fa"/>
<rect x="385.15" y="245.81" width="8.18" height="8.16" fill="#f49ea4"/>
<rect x="393.83" y="245.81" width="8.18" height="8.16" fill="#faf2f3"/>
<rect x="402.51" y="245.81" width="8.18" height="8.16" fill="#f2d4d6"/>
<rect x="411.19" y="245.81" width="8.18" height="8.16" fill="#7168fa"/>
<rect x="419.87" y="245.81" width="8.18" height="8.16" fill="#8077fa"/>
<rect x="385.15" y="254.47" width="8.18" height="8.16" fill="#fcf7f8"/>
<rect x="393.83" y="254.47" width="8.18" height="8.16" fill="#f49ea4"/>
<rect x="402.51" y="254.47" width="8.18" height="8.16" fill="#f49ea4"/>
<rect x="411.19" y="254.47" width="8.18" height="8.16" fill="#c2befa"/>
<rect x="419.87" y="254.47" width="8.18" height="8.16" fill="#4f43fa"/>
<rect x="385.15" y="263.14" width="8.18" height="8.16" fill="#ffffff"/>
<rect x="393.83" y="263.14" width="8.18" height="8.16" fill="#f49ea4"/>
<rect x="402.51" y="263.14" width="8.18" height="8.16" fill="#f49ea4"/>
<rect x="411.19" y="263.14" width="8.18" height="8.16" fill="#c9c6fa"/>
<rect x="419.87" y="263.14" width="8.18" height="8.16" fill="#584efa"/>
<rect x="385.15" y="271.81" width="8.18" height="8.16" fill="#ffffff"/>
<rect x="393.83" y="271.81" width="8.18" height="8.16" fill="#f4999f"/>
<rect x="402.51" y="271.81" width="8.18" height="8.16" fill="#f4a3a9"/>
<rect x="411.19" y="271.81" width="8.18" height="8.16" fill="#bdb9fa"/>
<rect x="419.87" y="271.81" width="8.18" height="8.16" fill="#584efa"/>
<rect x="385.15" y="280.47" width="8.18" height="8.16" fill="#e6e5fc"/>
<rect x="393.83" y="280.47" width="8.18" height="8.16" fill="#f58087"/>
<rect x="402.51" y="280.47" width="8.18" height="8.16" fill="#f4b2b7"/>
<rect x="411.19" y="280.47" width="8.18" height="8.16" fill="#a9a4fa"/>
<rect x="419.87" y="280.47" width="8.18" height="8.16" fill="#675dfa"/>
<rect x="385.15" y="289.13" width="8.18" height="8.16" fill="#f5f5fe"/>
<rect x="393.83" y="289.13" width="8.18" height="8.16" fill="#f5858c"/>
<rect x="402.51" y="289.13" width="8.18" height="8.16" fill="#f3b8bc"/>
<rect x="411.19" y="289.13" width="8.18" height="8.16" fill="#b6b1fa"/>
<rect x="419.87" y="289.13" width="8.18" height="8.16" fill="#584efa"/>
<rect x="385.15" y="297.8" width="8.18" height="8.16" fill="#eeedfd"/>
<rect x="393.83" y="297.8" width="8.18" height="8.16" fill="#f3cccf"/>
<rect x="402.51" y="297.8" width="8.18" height="8.16" fill="#f74752"/>
<rect x="411.19" y="297.8" width="8.18" height="8.16" fill="#d3d0fa"/>
<rect x="419.87" y="297.8" width="8.18" height="8.16" fill="#918afa"/>
<rect x="385.15" y="306.47" width="8.18" height="8.16" fill="#eeedfd"/>
<rect x="393.83" y="306.47" width="8.18" height="8.16" fill="#f4dee0"/>
<rect x="402.51" y="306.47" width="8.18" height="8.16" fill="#f83641"/>
<rect x="411.19" y="306.47" width="8.18" height="8.16" fill="#dfddfb"/>
<rect x="419.87" y="306.47" width="8.18" height="8.16" fill="#9891fa"/>
<rect x="385.15" y="315.13" width="8.18" height="8.16" fill="#eeedfd"/>
<rect x="393.83" y="315.13" width="8.18" height="8.16" fill="#f4dee0"/>
<rect x="402.51" y="315.13" width="8.18" height="8.16" fill="#f73b46"/>
<rect x="411.19" y="315.13" width="8.18" height="8.16" fill="#dfddfb"/>
<rect x="419.87" y="315.13" width="8.18" height="8.16" fill="#9891fa"/>
<rect x="385.15" y="323.79" width="8.18" height="8.16" fill="#ebeafc"/>
<rect x="393.83" y="323.79" width="8.18" height="8.16" fill="#f3babe"/>
<rect x="402.51" y="323.79" width="8.18" height="8.16" fill="#f7525c"/>
<rect x="411.19" y="323.79" width="8.18" height="8.16" fill="#eeedfd"/>
<rect x="419.87" y="323.79" width="8.18" height="8.16" fill="#8077fa"/>
<rect x="385.15" y="332.46" width="8.18" height="8.16" fill="#f3f2fd"/>
<rect x="393.83" y="332.46" width="8.18" height="8.16" fill="#fafafe"/>
<rect x="402.51" y="332.46" width="8.18" height="8.16" fill="#ebeafc"/>
<rect x="411.19" y="332.46" width="8.18" height="8.16" fill="#f91422"/>
<rect x="419.87" y="332.46" width="8.18" height="8.16" fill="#f8f7fe"/>
<rect x="385.15" y="341.12" width="8.18" height="8.16" fill="#ebeafc"/>
<rect x="393.83" y="341.12" width="8.18" height="8.16" fill="#fafafe"/>
<rect x="402.51" y="341.12" width="8.18" height="8.16" fill="#ffffff"/>
<rect x="411.19" y="341.12" width="8.18" height="8.16" fill="#f91422"/>
<rect x="419.87" y="341.12" width="8.18" height="8.16" fill="#f8f7fe"/>
<rect x="385.15" y="349.79" width="8.18" height="8.16" fill="#f5f5fe"/>
<rect x="393.83" y="349.79" width="8.18" height="8.16" fill="#ebeafc"/>
<rect x="402.51" y="349.79" width="8.18" height="8.16" fill="#e6e5fc"/>
<rect x="411.19" y="349.79" width="8.18" height="8.16" fill="#f91422"/>
<rect x="419.87" y="349.79" width="8.18" height="8.16" fill="#fcf7f8"/>
<rect x="385.15" y="358.45" width="8.18" height="8.16" fill="#e6e5fc"/>
<rect x="393.83" y="358.45" width="8.18" height="8.16" fill="#e6e5fc"/>
<rect x="402.51" y="358.45" width="8.18" height="8.16" fill="#fdfcff"/>
<rect x="411.19" y="358.45" width="8.18" height="8.16" fill="#f91422"/>
<rect x="419.87" y="358.45" width="8.18" height="8.16" fill="#f8ebec"/>
<rect x="385.15" y="367.12" width="8.18" height="8.16" fill="#fdfcff"/>
<rect x="393.83" y="367.12" width="8.18" height="8.16" fill="#dad8fa"/>
<rect x="402.51" y="367.12" width="8.18" height="8.16" fill="#f3f2fd"/>
<rect x="411.19" y="367.12" width="8.18" height="8.16" fill="#f91422"/>
<rect x="419.87" y="367.12" width="8.18" height="8.16" fill="#f8ebec"/>
<rect x="385.15" y="375.78" width="8.18" height="8.16" fill="#fdfcff"/>
<rect x="393.83" y="375.78" width="8.18" height="8.16" fill="#847cfa"/>
<rect x="402.51" y="375.78" width="8.18" height="8.16" fill="#c2befa"/>
<rect x="411.19" y="375.78" width="8.18" height="8.16" fill="#f6e6e7"/>
<rect x="419.87" y="375.78" width="8.18" height="8.16" fill="#f7404b"/>
<rect x="385.15" y="384.45" width="8.18" height="8.16" fill="#ebeafc"/>
<rect x="393.83" y="384.45" width="8.18" height="8.16" fill="#918afa"/>
<rect x="402.51" y="384.45" width="8.18" height="8.16" fill="#c9c6fa"/>
<rect x="411.19" y="384.45" width="8.18" height="8.16" fill="#f6e6e7"/>
<rect x="419.87" y="384.45" width="8.18" height="8.16" fill="#f7404b"/>
<rect x="385.15" y="393.12" width="8.18" height="8.16" fill="#f5f5fe"/>
<rect x="393.83" y="393.12" width="8.18" height="8.16" fill="#8982fa"/>
<rect x="402.51" y="393.12" width="8.18" height="8.16" fill="#c9c6fa"/>
<rect x="411.19" y="393.12" width="8.18" height="8.16" fill="#f8ebec"/>
<rect x="419.87" y="393.12" width="8.18" height="8.16" fill="#f7404b"/>
<rect x="385.15" y="401.78" width="8.18" height="8.16" fill="#fafafe"/>
<rect x="393.83" y="401.78" width="8.18" height="8.16" fill="#8982fa"/>
<rect x="402.51" y="401.78" width="8.18" height="8.16" fill="#c2befa"/>
<rect x="411.19" y="401.78" width="8.18" height="8.16" fill="#f6e6e7"/>
<rect x="419.87" y="401.78" width="8.18" height="8.16" fill="#f74550"/>
<g font-size="8.66" fill="#111">
<text x="434.4" y="218.9">positive regulation of inflammatory response</text>
<text x="434.4" y="227.56">positive regulation of interleukin-4 production</text>
<text x="434.4" y="236.23">toll-like receptor signaling pathway</text>
<text x="434.4" y="244.9">inflammatory response</text>
<text x="434.4" y="253.56">positive regulation of NF-kappaB transcription factor activity</text>
<text x="434.4" y="262.23">cellular response to oxidative stress</text>
<text x="434.4" y="270.89">mitochondrial electron transport cytochrome c to oxygen</text>
<text x="434.4" y="279.56">mitochondrial electron transport ubiquinol to cytochrome c</text>
<text x="434.4" y="288.22">mitochondrial respiratory chain complex I assembly</text>
<text x="434.4" y="296.88">mitochondrial electron transport NADH to ubiquinone</text>
<text x="434.4" y="305.55">mRNA splicing via spliceosome</text>
<text x="434.4" y="314.22">RNA splicing</text>
<text x="434.4" y="322.88">mRNA processing</text>
<text x="434.4" y="331.54">spliceosomal snRNP assembly</text>
<text x="434.4" y="340.21">response to type I interferon</text>
<text x="434.4" y="348.88">response to interferon-beta</text>
<text x="434.4" y="357.54">defense response to virus</text>
<text x="434.4" y="366.2">cellular response to interferon-beta</text>
<text x="434.4" y="374.87">type II interferon-mediated signaling pathway</text>
<text x="434.4" y="383.53">angiogenesis</text>
<text x="434.4" y="392.2">regulation of focal adhesion assembly</text>
<text x="434.4" y="400.87">epidermal growth factor receptor signaling pathway</text>
<text x="434.4" y="409.53">cell adhesion</text>
</g>
<g font-size="8.6" fill="#222" text-anchor="end">
<text transform="translate(389 419) rotate(-58)">VCT_LDHA_5</text>
<text transform="translate(400 419) rotate(-58)">VCT_LDHA_4</text>
<text transform="translate(409.5 419) rotate(-58)">VCT_LDHA_2</text>
<text transform="translate(418.5 419) rotate(-58)">VCT_LDHA_3</text>
<text transform="translate(428.5 419) rotate(-58)">VCT_LDHA_1</text>
</g>
<rect x="668" y="217.8" width="8.9" height="43.2" fill="url(#gC)"/>
<text x="672.9" y="216.8" font-size="5.8" fill="#222">1</text>
<text x="671.2" y="267.4" font-size="5.8" fill="#222">-1</text>
</g>
<g id="pA">
<path transform="scale(0.5)" d="M270 72h0m0-5h0m4 5h0m2-4h0m4 3h0m1-3h0m0-7h0m4 12h0m1-5h0m0-5h0m3 10h0m0-6h0m2-4h0m3 4h0m0-5h0m1 10h0m4-5h0m1 5h0m0-10h0m3 11h0m1-5h0m4 4h0m5 0h0m10 14h0m-4-4h0m0-6h0m-1 10h0m-3-4h0m-2 5h0m0-11h0m-4 0h0m0 11h0m-1-6h0m-3-4h0m-1 5h0m-1 4h0m-3-5h0m-1 5h0m-4 1h0m-1-9h0m0 4h0m-4-5h0m0 9h0m-1-4h0m-4-1h0m0-5h0m-1 11h0m-4-5h0m0 4h0m-1-9h0m-3 9h0m-1-5h0m0-5h0m-5 11h0m0-5h0m0-6h0m-4 0h0m-1 11h0m0-6h0m-4 1h0m-1 5h0m-5-11h0m-3 5h0m-6 15h0m9 6h0m6-6h0m4-6h0m5 11h0m1-11h0m0 6h0m4-5h0m1 5h0m4-4h0m1 4h0m3 5h0m0-10h0m2 6h0m4-1h0m0 4h0m4 1h0m0-6h0m1-5h0m4 6h0m1 6h0m0-12h0m3 6h0m2-5h0m0 9h0m4-9h0m1 9h0m0-3h0m4-5h0m0 3h0m1 5h0m3-5h0m0-3h0m0 9h0m4 1h0m1-7h0m1-4h0m3 10h0m1-11h0m0 7h0m5 4h0m10 14h0m0 4h0m-5-13h0m-1 8h0m0-4h0m-3 6h0m-1-6h0m0-5h0m-1 14h0m-4-10h0m-1 6h0m0 4h0m0-14h0m-4 10h0m0-10h0m-1 5h0m-4 9h0m0-14h0m0 11h0m-4-10h0m0 9h0m0-5h0m-5 1h0m0-5h0m-1 10h0m-4-6h0m0 9h0m0-14h0m0 11h0m-4-9h0m0 3h0m0 9h0m-1-3h0m-5 3h0m0-8h0m0-5h0m-4 9h0m0-10h0m0 4h0m-4-3h0m-1 4h0m-1 5h0m-4 0h0m0-5h0m0-4h0m-4 4h0m-1-4h0m-5 0h0m0 4h0m-4-5h0m0 6h0m-5 4h0m-4 4h0m-1-14h0m-4 15h0m4 9h0m5-4h0m4 9h0m0-5h0m5-4h0m0-5h0m5 6h0m6 4h0m3 0h0m1-10h0m0 4h0m4 10h0m0-5h0m1-9h0m5 10h0m0-5h0m3 1h0m1 3h0m4 4h0m1-3h0m1-5h0m3-4h0m0 9h0m0 4h0m1-10h0m4 6h0m0-5h0m1-5h0m4 4h0m1 6h0m4-10h0m1 10h0m0-5h0m5-1h0m0 6h0m3-5h0m1 6h0m5-1h0m0-10h0m0 4h0m0 9h0m4-8h0m0 9h0m1-5h0m3-4h0m1 4h0m5 5h0m5 10h0m-5 4h0m0-10h0m-1 5h0m-4-3h0m-1 3h0m0-8h0m-3 5h0m0 9h0m-1-5h0m-4 0h0m0-6h0m0 11h0m-5-6h0m-1 6h0m0-10h0m-3 9h0m0-8h0m-1 5h0m-4-2h0m0 6h0m-1-10h0m-4 0h0m0-4h0m-5 0h0m0 9h0m-1 4h0m0-8h0m-4 0h0m-1 8h0m0-3h0m-3 0h0m-2-5h0m-4 8h0m0-3h0m-1-7h0m-3-3h0m0 9h0m-1 4h0m-4 0h0m-6-13h0m-5 4h0m-13 5h0m-10-9h0m-1 9h0m-3 1h0m0-6h0m-6 10h0m-9-5h0m15 10h0m19 9h0m14-9h0m1 4h0m3 5h0m10-4h0m0-6h0m1 10h0m4-9h0m0 9h0m1-4h0m4 4h0m0-5h0m1-5h0m3 6h0m1-5h0m1 8h0m3-12h0m0 9h0m1 3h0m0-8h0m3-1h0m1 5h0m1 6h0m4-6h0m1 5h0m4-9h0m0 4h0m5-3h0m3 4h0m2 4h0m4-13h0m0 4h0m1 9h0m3-4h0m2-5h0m3 10h0m1-10h0m4-1h0m1 10h0m5 11h0m-6-6h0m-4 1h0m0 3h0m-5 1h0m-1-5h0m-3 1h0m0 3h0m-1 5h0m-4-10h0m-5 2h0m-9 3h0m-1 5h0m-1-9h0m-4 0h0m0 4h0m-4-5h0m-9 1h0m-2 4h0m-4 1h0m-1-4h0m-3 3h0m0-5h0m-5 12h0m-1-12h0m-8 10h0m-2-10h0m-4 11h0m-4 0h0m-6-6h0m-5-4h0m-4 5h0m-10 5h0m0-10h0m10 18h0m6 1h0m8-5h0m4 6h0m10-5h0m6 0h0m0 4h0m4 0h0m0-5h0m9 6h0m1-6h0m9 6h0m10 4h0m15-9h0m0 4h0m4 5h0m1-10h0m3 0h0m1 4h0m4-3h0m1 10h0m0-6h0m4 4h0m0-8h0m1 4h0m4 6h0m0-10h0m5 5h0m1 13h0m-1-4h0m-4 0h0m-5 9h0m0-10h0m-5 1h0m0 9h0m-4 0h0m0-5h0m-2-5h0m-14 6h0m-19 4h0m-10 1h0m-18-10h0m-5 5h0m0-6h0m-15 2h0m-24 23h0m19-1h0m20-8h0m5 3h0m3-3h0m6 9h0m5-4h0m5 4h0m5-10h0m0 4h0m4-3h0m1 4h0m10 4h0m9-5h0m32 6h0m1 9h0m-5 5h0m-28 0h0m-4-10h0m-15 1h0m-1 5h0m-28 18h0m9 2h0m1 2h0m4 1h0m29 0h0m19-4h0m4-10h0m6 10h0m4 4h0m9-5h0m-14 16h0m-14 3h0m-9 1h0m-43-14h0m43 18h0m29 5h0m4-1h0" stroke="#f0389a" stroke-width="7.2" stroke-linecap="round" fill="none" stroke-opacity="0.8"/>
<path transform="scale(0.5)" d="M319 110h0m4 24h0m5 0h0m28 15h0m-23-14h0m0 29h0m5-1h0m0-5h0m4-4h0m5 5h0m6 5h0m3-6h0m5 0h0m6 19h0m-5 1h0m-1-5h0m-3 4h0m-5 0h0m-10-5h0m-1 5h0m-4-4h0m0 4h0m-4 1h0m0-6h0m-2-5h0m-8 10h0m-10-5h0m-1 5h0m-4 0h0m-9 1h0m4 3h0m4 11h0m6-9h0m0 8h0m1-4h0m3 5h0m6-9h0m0 4h0m0 4h0m4-4h0m1-5h0m3 1h0m1 4h0m0 4h0m4 2h0m0-7h0m0-4h0m5 10h0m6-5h0m3 4h0m15-3h0m4 4h0m1 14h0m-5-5h0m0 6h0m-5-5h0m-5-1h0m-8 1h0m0 5h0m-1-11h0m-5 5h0m0 5h0m-4-8h0m0 8h0m-4 0h0m-1-10h0m-1 5h0m-3 6h0m0-10h0m-1 4h0m-5-4h0m-4 0h0m-5 8h0m0-7h0m-1 4h0m-13 5h0m9 4h0m9 10h0m5-9h0m0 4h0m6-5h0m3 1h0m0 9h0m5-9h0m1 9h0m4 0h0m0-5h0m1-4h0m3-1h0m1 5h0m1 4h0m3 1h0m0-5h0m1-5h0m4 10h0m1-5h0m0-5h0m4 0h0m0 9h0m0-5h0m5-3h0m1 10h0m0-5h0m4-1h0m0-5h0m6 10h0m0 14h0m0-5h0m-1-4h0m-5 10h0m-1-10h0m-3-1h0m0 4h0m-1 10h0m-4-8h0m0-5h0m-1 9h0m-4 0h0m0-10h0m0 4h0m-4 6h0m0 4h0m-1-14h0m0 6h0m-5 5h0m0-10h0m0 4h0m-4 6h0m-1-11h0m-1 5h0m-3-5h0m-1 5h0m0 9h0m-3-4h0m-6-6h0m-43 1h0m48 19h0m4 1h0m1-5h0m4-5h0m0 6h0m1 3h0m3-3h0m0 4h0m1-10h0m5 14h0m4-9h0m0 5h0m5-10h0m1 5h0m4-1h0m1 5h0m5 5h0m0-14h0m0 9h0m0-3h0m4-5h0m1 13h0m0-10h0m0 19h0m-1-5h0m-4 6h0m-1-5h0m-4 1h0m-1 3h0m0 6h0m-4-14h0m-1 14h0m0-10h0m-5-1h0m0 11h0m0-14h0m0 9h0m-4-1h0m0 6h0m-4-14h0m0 9h0m-10-9h0m0 4h0m-6 0h0m10 24h0m1-9h0m8 0h0m1 5h0m0 4h0m4-6h0m0-3h0m2 9h0m4 0h0m0-5h0m1-4h0m3 8h0m1-8h0m4 0h0m1-4h0m0 14h0m-1 4h0m-4 5h0m0-5h0m-1 10h0m-4-1h0m0-5h0m-1-4h0m-4 10h0m-1-10h0m0 4h0m-3 5h0m-1-5h0m-11 1h0m16 10h0m4-1h0" stroke="#f0c896" stroke-width="7.2" stroke-linecap="round" fill="none" stroke-opacity="0.8"/>
<path transform="scale(0.5)" d="M257 201h0m-21 0h0m2 10h0m8 5h0m5 5h0m6-9h0m0 8h0m3-4h0m1 6h0m5-5h0m0-5h0m4 3h0m1 5h0m19 0h0m13 6h0m-3 9h0m-1-9h0m-1 4h0m-3 0h0m0 5h0m-5-10h0m-1 5h0m-9 1h0m-5 4h0m0-5h0m-4-4h0m-1 5h0m0 4h0m-4-5h0m0 6h0m-1-11h0m-3 5h0m0 9h0m-1-13h0m-1 9h0m-4-4h0m0 8h0m0-14h0m-1 11h0m-3-10h0m-2 5h0m0 4h0m-9 0h0m-10-5h0m-4 5h0m-10 0h0m24 5h0m6 0h0m4 0h0m1 5h0m3-1h0m6 6h0m0-5h0m4-5h0m1 5h0m0 5h0m4-10h0m0 10h0m1-6h0m4 6h0m1-10h0m0 4h0m3 0h0m1 10h0m0-14h0m0 9h0m5 1h0m4-4h0m1 8h0m0-13h0m3 5h0m1 3h0m1-8h0m4 4h0m5-1h0m-20 11h0m-8 0h0" stroke="#5f87eb" stroke-width="7.2" stroke-linecap="round" fill="none" stroke-opacity="0.8"/>
<path transform="scale(0.5)" d="M342 196h0m-25 6h0m-22 19h0m0-5h0m4-4h0m6 9h0m4-6h0m4 6h0m10 0h0m9 9h0m-4-4h0m0 13h0m-6 0h0m0-4h0m-4 4h0m0-3h0m-4-11h0m0 5h0m-1 5h0m-4 4h0m0-3h0m-1-10h0m-4 5h0m-1 5h0m0 3h0m-3 0h0m-5-13h0m-19 0h0m8 15h0m0 3h0m19 5h0m6-4h0m1 5h0m3 4h0m0-5h0m1-5h0m4 6h0m1-4h0m0 8h0m4-9h0m1 5h0m4-1h0m1-5h0m0 10h0m3-10h0m9 10h0m12-9h0m-1 14h0m-5-1h0m-4 6h0m0-5h0m-5 5h0m-4-1h0m-1 6h0m-4-9h0m-2 4h0m-3 5h0m0-14h0m-1 5h0m0 4h0m-4-6h0m0 6h0m-5-5h0m-5 0h0m0-4h0m19 15h0m1 4h0m3 4h0m1-5h0m0 10h0m4-4h0m0 4h0m5-13h0m1 8h0m3 4h0m0-3h0m2-6h0m4 15h0m-4 0h0m-2 5h0m-4-4h0m-4-2h0m28 15h0" stroke="#82fabe" stroke-width="7.2" stroke-linecap="round" fill="none" stroke-opacity="0.8"/>
<path transform="scale(0.5)" d="M271 134h0m3-5h0m21 11h0m-15-5h0m-4 3h0m-1-3h0m-1 8h0m-4 1h0m-8 4h0m-2-5h0m-4-4h0m-10 5h0m-4-9h0m-5 13h0m-6 10h0m5 5h0m6 1h0m0-5h0m4-6h0m1 11h0m10-6h0m0-5h0m3 5h0m1-5h0m0 11h0m4-5h0m6-6h0m4 10h0m4-4h0m5 3h0m6-9h0m0 6h0m4-1h0m0-5h0m1 11h0m24 13h0m-1-4h0m-5-6h0m-9 10h0m-9-5h0m-5 0h0m0-4h0m-1 10h0m-9-9h0m0 4h0m-5 0h0m-4 4h0m-4-4h0m-1 5h0m-6 0h0m-4-4h0m-1-5h0m0 9h0m-14-5h0m-4-1h0m0 6h0m-1-10h0m-10 5h0m10 9h0m11 1h0m4 10h0m10-11h0m0 9h0m5-8h0m4 0h0m0 4h0m1 4h0m4 0h0m4 2h0m5-6h0m1 5h0m0-10h0m4 9h0m2-3h0m4 4h0m5 0h0m3 1h0m1-7h0m19 16h0m-1 4h0m-13-5h0m0-3h0m-4 0h0m0 5h0m-1 3h0m-5-5h0m0-3h0m-4 9h0m0-5h0m-1-5h0m-4 5h0m-1 3h0m-5 2h0m-3-5h0m-1-4h0m0 8h0m-4-5h0m0-4h0m0 9h0m-6 1h0m-4-5h0m-1-6h0m-4 1h0m-4 9h0m-16 15h0m14-5h0m6-5h0m9 0h0m5 5h0m0-6h0m1 11h0m4-5h0m0 6h0m5-6h0m0 4h0m5-9h0m9 4h0m6-4h0m23 5h0m4 0h0m1 23h0m-6-4h0m-3-10h0m-2 6h0m-9 8h0m-3-9h0m-20 5h0m-5-10h0m-1 10h0m-4 1h0m-1-11h0" stroke="#87afe1" stroke-width="7.2" stroke-linecap="round" fill="none" stroke-opacity="0.8"/>
<path transform="scale(0.5)" d="M260 72h0m6 1h0m33 3h0m-38 1h0m-4 6h0m-2 4h0m-3-1h0m-5-1h0m-63 1h0m-5 1h0m-10-1h0m-18 14h0m13 2h0m6-1h0m0-10h0m4 10h0m0-10h0m5 1h0m1 5h0m0 4h0m3-11h0m1 6h0m0 4h0m4-10h0m1 12h0m1-6h0m3 5h0m0-10h0m0 4h0m5 0h0m0 7h0m4-6h0m2 5h0m4 0h0m6 0h0m4-1h0m5 0h0m4 1h0m4 1h0m1-6h0m4-5h0m1 6h0m0 4h0m5-5h0m0 4h0m0-8h0m4 9h0m1-10h0m4 5h0m0 4h0m1-10h0m3 6h0m1-4h0m5-1h0m1 10h0m3 0h0m1-6h0m9 5h0m4 0h0m10-10h0m5 25h0m-14 4h0m-5-4h0m-5 1h0m-4-1h0m-1 4h0m-3-14h0m-1 5h0m-5 1h0m-1 4h0m-4-4h0m0-5h0m0 8h0m-4-9h0m0 4h0m-2 6h0m-4 1h0m0-10h0m0 4h0m-4 0h0m0-5h0m-1 10h0m-3-4h0m-1-6h0m-1 9h0m-4-3h0m0-6h0m-1 10h0m-4-4h0m-1-6h0m0 9h0m-3-3h0m-1-4h0m0 9h0m-4-1h0m0-5h0m-1-4h0m0 13h0m-4-9h0m-1-4h0m0 9h0m-3-5h0m0 9h0m-1-3h0m0-11h0m-4 10h0m-1-4h0m0-5h0m-4 9h0m0-6h0m-1-2h0m-4-1h0m0 9h0m0-5h0m-5 5h0m0-5h0m0-5h0m-4 10h0m-1-10h0m0 6h0m-4 4h0m0-10h0m0 4h0m-1 10h0m-4-13h0m-1 5h0m0 4h0m-3 1h0m-2-6h0m-3 1h0m-1-6h0m0 11h0m-4-2h0m-6 1h0m-4 1h0m-15 9h0m5-5h0m4 1h0m0 3h0m1 7h0m5-6h0m0-5h0m3 1h0m2 4h0m8-5h0m1 14h0m5-13h0m0 8h0m1-3h0m3 4h0m0-5h0m1-4h0m5 13h0m0-5h0m0-5h0m3 6h0m1 3h0m1-13h0m0 6h0m4-1h0m0-5h0m0 9h0m4-4h0m1 5h0m1-9h0m3 8h0m0-4h0m1-5h0m4 0h0m1 5h0m0 9h0m0-5h0m4 5h0m0-5h0m1-4h0m3-5h0m1 10h0m0-6h0m4 1h0m0 4h0m5-8h0m0 4h0m1 9h0m0-4h0m4-5h0m0-5h0m1 14h0m0-4h0m4 0h0m0 4h0m0-10h0m1-3h0m3-1h0m1 14h0m1-4h0m0-5h0m3 1h0m0-5h0m1 13h0m1-5h0m3-8h0m0 4h0m1 5h0m4 0h0m0-5h0m0 8h0m1-13h0m4 5h0m1 5h0m0 4h0m5-10h0m4 10h0m0-5h0m0-8h0m5 4h0m5 5h0m5-9h0m4 4h0m9 0h0m11 9h0m18 10h0m-14 4h0m-14-4h0m0-6h0m-4 11h0m-1-10h0m-1 6h0m-4 4h0m0-5h0m-5 4h0m-4-9h0m-1 10h0m-5-11h0m-4 2h0m-5 9h0m-4 0h0m-6-10h0m-4 1h0m0 4h0m-4-5h0m-5 10h0m-1-4h0m-1-6h0m-3 6h0m0 4h0m-1-9h0m-4 0h0m0 9h0m-1-4h0m-4-2h0m0-5h0m-5-3h0m0 14h0m0-10h0m-1 5h0m-3-6h0m-1-3h0m0 9h0m-1 4h0m-3-9h0m-1 4h0m-4 1h0m0-5h0m-1 10h0m-4 0h0m-1-4h0m0-5h0m-3 4h0m-1-9h0m0 13h0m-1-9h0m-3 10h0m-1-9h0m0-5h0m-4 13h0m0-10h0m-1 7h0m-8-2h0m0-4h0m-2 10h0m0-14h0m-5 9h0m0 4h0m-5 1h0m0-10h0m-3 10h0m-1-9h0m-4 8h0m-2-5h0m-4-4h0m-20 0h0m1 20h0m16-5h0m4 0h0m1 5h0m8 4h0m1-4h0m4-5h0m0 4h0m5-4h0m5 4h0m5-3h0m8 8h0m1-10h0m5 11h0m1-11h0m3 1h0m1 9h0m3-5h0m2 5h0m4 1h0m0-14h0m1 7h0m3 1h0m1-4h0m1 9h0m3-4h0m1 4h0m4 1h0m0-14h0m1 9h0m0-5h0m4 8h0m1-9h0m0 6h0m4-5h0m0 4h0m1 6h0m3-1h0m1-9h0m5 4h0m0-5h0m4-3h0m1 4h0m5 5h0m4 4h0m0-4h0m15-6h0m0 9h0m1-12h0m3 9h0m5 0h0m0-5h0m4 9h0m2-9h0m48 0h0m-44 19h0m-10-5h0m-5-1h0m-9 2h0m-9 4h0m-6 0h0m0-4h0m-1 8h0m-3-10h0m0 11h0m-9 0h0m-1-4h0m0-6h0m-4 1h0m-1 8h0m-4-4h0m-1 5h0m0-11h0m-3 10h0m-1-5h0m0-4h0m-4 4h0m-1 6h0m-1-10h0m-3 10h0m-5-11h0m0 6h0m-5 0h0m0-5h0m-1 10h0m-3-6h0m-1 6h0m-1-9h0m-4 8h0m-1-9h0m-4-1h0m-1 6h0m-5 0h0m-7 4h0m-7-4h0m-4 5h0m-4 0h0m-14-9h0m9 22h0m9-8h0m10 3h0m5 1h0m8-5h0m6 5h0m4 6h0m0-5h0m1-5h0m10 0h0m5 4h0m0 4h0m4 1h0m5-10h0m5 10h0m0-5h0m0-6h0m10 11h0m4-4h0m5-5h0m0 9h0m4-6h0m6 2h0m4 0h0m19-1h0m4-4h0m39-1h0m-48 20h0m-5 4h0m-8-8h0m-10-2h0m-5 5h0m-1-4h0m-5 8h0m-5-4h0m-51-5h0m-6 5h0m-10 0h0m-8 10h0m23 5h0m14-6h0m1 12h0m9 0h0m0-10h0m19 4h0m20-5h0m39 1h0m-55 14h0m-8 0h0m-1 13h0m-4-5h0m0-4h0m-20 1h0m-24 13h0m24 6h0m20-10h0m-38 23h0m-11 11h0m16 9h0m14-5h0m3 0h0m16 5h0m-39 20h0m1 10h0" stroke="#823cfa" stroke-width="7.2" stroke-linecap="round" fill="none" stroke-opacity="0.8"/>
<path transform="scale(0.5)" d="M175 86h0m0-4h0m-4 0h0m-7 0h0m0 4h0m-4-4h0m0 5h0m-5-1h0m-14 15h0m4 0h0m1-11h0m0 6h0m4 0h0m1-4h0m3 9h0m1-10h0m0 5h0m5 1h0m0-7h0m0 11h0m5-6h0m1-4h0m4 5h0m4 0h0m-9 9h0m-10 5h0m-4-3h0m0 4h0m-6-5h0m0 4h0m-3-5h0m-5 6h0" stroke="#eb8c28" stroke-width="7.2" stroke-linecap="round" fill="none" stroke-opacity="0.8"/>
<path transform="scale(0.5)" d="M156 119h0m-1-13h0m-14 9h0m0-5h0m-6 5h0m-3 4h0m-1 15h0m1-5h0m4 0h0m0-5h0m4 10h0m5-4h0m5-1h0m1 5h0m4-10h0m1 6h0m4-1h0m0-5h0m5 10h0m28 0h0m-10 10h0m-8 4h0m-1-9h0m0 4h0m-9-4h0m-5 4h0m-4-8h0m0 8h0m-5-3h0m-5-5h0m-1 13h0m0-5h0m-3-4h0m-1 10h0m-1-5h0m-3 1h0m0-10h0m-1 14h0m0-11h0m-5 6h0m0-5h0m-5 4h0m-1 6h0m-4 15h0m0-6h0m5-4h0m1 10h0m4-5h0m0-5h0m1 10h0m0-14h0m4 3h0m1 6h0m0 5h0m5-1h0m0-5h0m4 4h0m5 2h0m0-10h0m0 4h0m5-4h0m5 9h0m3-5h0m2 4h0m4-8h0m1 9h0m3-1h0m1-4h0m4 5h0m1-9h0m0 5h0m5 0h0m5-1h0m3-1h0m5-4h0m4 1h0m10-1h0m45 11h0m-48 8h0m-2-4h0m-3 10h0m-16-5h0m-4 4h0m-4-9h0m-1 9h0m-4-4h0m0-4h0m-1 8h0m-3-10h0m-1 5h0m-5-3h0m-1 8h0m-4-9h0m-1 4h0m-4 1h0m0-5h0m-4 10h0m-1-5h0m0-5h0m-4 6h0m0 4h0m0-10h0m-4 4h0m-2 6h0m-3-6h0m0-3h0m-1 9h0m-4-5h0m-2-5h0m0 9h0m-4 1h0m-1-9h0m0 3h0m-4-3h0m-5 23h0m1-6h0m4 1h0m1 4h0m9-8h0m0 9h0m1-5h0m4 6h0m0-5h0m0-5h0m4 4h0m0 4h0m2-9h0m3 10h0m0-5h0m1-5h0m4 0h0m4 0h0m2 10h0m4 1h0m0-6h0m5 5h0m0-6h0m0-5h0m5 1h0m0 9h0m4-8h0m1 10h0m4-10h0m0 9h0m0-5h0m5 0h0m0 4h0m4-8h0m0 9h0m10-10h0m1 11h0m0-6h0m4 0h0m1 5h0m5-11h0m3 6h0m2-4h0m3 10h0m0-6h0m10 5h0m0-5h0m0-5h0m4 4h0m2-4h0m3 10h0m6-4h0m4 5h0m6-10h0m3 10h0m0-11h0m11 10h0m-5 10h0m-1 4h0m-8 0h0m0-5h0m-1-5h0m-5 11h0m0-5h0m-5 4h0m-3-9h0m-6 1h0m0 8h0m-5-10h0m0 10h0m0-5h0m-4 1h0m-1 4h0m-1-9h0m-2 10h0m-1-10h0m-1 5h0m-3 4h0m-1-4h0m0-5h0m-4 5h0m-1 5h0m-1-11h0m-3 6h0m-1 4h0m0-10h0m-4 10h0m-1-4h0m-4-5h0m-1 10h0m0-5h0m-3 0h0m-1-5h0m0 9h0m-4-4h0m0-5h0m-1 9h0m-4-4h0m-2 4h0m-3-10h0m-1 11h0m-4-11h0m0 7h0m-1 4h0m-4-9h0m-1 9h0m-3-10h0m-2 4h0m-4 6h0m0-5h0m0-6h0m-4 5h0m0-5h0m-1 10h0m-4-8h0m0 9h0m0-5h0m-5 0h0m0 4h0m-1-9h0m-3 5h0m-1 4h0m-1-9h0m-4 10h0m0-5h0m0-6h0m-4 11h0m0-6h0m0-5h0m-5 5h0m-10 10h0m5 1h0m4 4h0m1 5h0m4-6h0m0-3h0m1 9h0m4-5h0m1 6h0m0-10h0m3-2h0m1 7h0m1 3h0m3-5h0m1-5h0m1 11h0m3-1h0m0-9h0m1 6h0m4-1h0m0 4h0m1-9h0m5 4h0m0 7h0m3 0h0m1-6h0m0-5h0m4 5h0m0-5h0m1 9h0m5-10h0m0 11h0m0-5h0m3-6h0m1 7h0m0 3h0m5 2h0m0-10h0m4 0h0m1 4h0m0 5h0m5-10h0m1 5h0m0 4h0m3-3h0m5-1h0m0-5h0m0 9h0m5-4h0m5-5h0m1 5h0m0 4h0m3-5h0m1-5h0m0 12h0m4-5h0m1 5h0m0-12h0m5 1h0m0 9h0m3-10h0m1 6h0m1 4h0m4 1h0m0-5h0m0-5h0m5 9h0m1-4h0m3 0h0m6-4h0m4-1h0m1 6h0m-5 18h0m-1-9h0m0 4h0m-4 1h0m0-5h0m-5 5h0m0-5h0m-1 10h0m-4 0h0m0-10h0m-5 5h0m-4 0h0m0-4h0m-2 8h0m-4-5h0m-5-5h0m-4 10h0m0-5h0m0-5h0m-4 1h0m0 9h0m-1-5h0m-4 6h0m0-11h0m-1 6h0m-4 4h0m0-10h0m-5 6h0m0 4h0m-1-8h0m-3 7h0m-1-8h0m-4 10h0m0-6h0m0-5h0m-5 6h0m-1 4h0m0-10h0m-4 9h0m0-8h0m-1 5h0m-3-5h0m0 9h0m-1-5h0m-4-4h0m0 4h0m-1 6h0m-4-1h0m-1-5h0m0-5h0m-4 11h0m0-6h0m-2-5h0m-3 9h0m-1-3h0m0-5h0m-4 5h0m0-5h0m0 9h0m-4 0h0m-1 4h0m0-14h0m-1 6h0m-3 5h0m-1-5h0m-1-5h0m-3 5h0m0 4h0m-1-10h0m-1 14h0m-2-9h0m-6 9h0m-1-9h0m-3 5h0m-6 14h0m9-3h0m1 4h0m4 4h0m1-13h0m0 9h0m0-5h0m4 5h0m1-5h0m3-1h0m1 6h0m0 4h0m1-14h0m4 10h0m0-5h0m5 5h0m0-5h0m1-5h0m3 5h0m1 5h0m0-10h0m3 0h0m1 4h0m1 6h0m4 0h0m0 4h0m1-9h0m0-5h0m3 0h0m1 4h0m1 6h0m0 4h0m4-4h0m0-5h0m0-5h0m4 9h0m1 5h0m0-14h0m4 10h0m0-5h0m1-5h0m3 4h0m1-3h0m1 9h0m4 0h0m0 4h0m1-9h0m0-5h0m3 14h0m0-14h0m0 4h0m5 10h0m1-9h0m0-5h0m4 4h0m0-3h0m0 9h0m0 4h0m5-4h0m0-10h0m1 6h0m0 8h0m4-10h0m1-3h0m0 9h0m4-5h0m5-1h0m4 1h0m1-4h0m3-1h0m6 0h0m-24 29h0m-4 0h0m-1-10h0m-1 4h0m-3 2h0m0-5h0m-2 9h0m-4-11h0m0 7h0m-4 0h0m0-6h0m0 9h0m-4-8h0m-1 4h0m-4-5h0m-1 10h0m0-14h0m0 9h0m-4 5h0m-1-9h0m0-5h0m-5 10h0m0 4h0m-4-5h0m0 4h0m-4-5h0m-1-4h0m-4 4h0m0-5h0m-1 10h0m-4 1h0m0-10h0m-1-4h0m0 9h0m-4-9h0m-1 8h0m0-5h0m-4-3h0m0 13h0m0-10h0m-1 5h0m-3-3h0m0-5h0m-1 14h0m0-5h0m-4-1h0m-1-3h0m-4 3h0m0-8h0m-1 4h0m-4 1h0m0 9h0m-1-5h0m-4-4h0m0 4h0m-4-4h0m4 10h0m0 8h0m5 6h0m0-5h0m0-5h0m3-1h0m1 9h0m1-4h0m3-5h0m1 11h0m0-5h0m5 0h0m0-5h0m1 10h0m3-10h0m0 4h0m1 5h0m4-13h0m1 3h0m0 10h0m0-5h0m4-4h0m0 4h0m1 6h0m4 0h0m0-5h0m0-5h0m5 5h0m0-5h0m1-4h0m0 13h0m3 0h0m1-6h0m4 6h0m1-4h0m0-5h0m4 5h0m0 5h0m1-11h0m3 5h0m1-4h0m4 4h0m0 4h0m2-8h0m0-4h0m3 4h0m1 4h0m1 5h0m3-10h0m1-3h0m1 13h0m4-10h0m4 1h0m4 5h0m1-6h0m9 9h0m-18 10h0m0-5h0m-5 11h0m0-5h0m-1-5h0m-4 5h0m-1 4h0m0-10h0m-4 1h0m0 9h0m-1-4h0m-4 1h0m-1-6h0m0 11h0m-3-7h0m0-5h0m-1 11h0m-5 0h0m0-5h0m0-4h0m-3 8h0m-1-8h0m0 3h0m-4 5h0m-1-9h0m-1 5h0m-4 0h0m0-6h0m0 11h0m-4-1h0m-1-9h0m0 4h0m-4 6h0m0-5h0m0-5h0m-4 5h0m-1-5h0m0 9h0m-5-9h0m0 9h0m-1-4h0m-3-5h0m-1 6h0m-1 4h0m-3-1h0m-4 0h0m-2-4h0m0-6h0m-4 1h0m-1 5h0m1 9h0m19 5h0m1-5h0m4 5h0m0-5h0m5 5h0m0-5h0m0 9h0m5-8h0m0 4h0m0 4h0m4-9h0m0 11h0m0-6h0m5 6h0m1-10h0m0 5h0m3-1h0m0-5h0m1 10h0m4 0h0m0-6h0m11 1h0m3-4h0m5-2h0m2 6h0m3-4h0m6 5h0m-20 13h0m-5-4h0m-4 4h0m-1-4h0m-4 5h0m-1-5h0m0 9h0m-4-10h0m-4 10h0m0-5h0m-1-5h0m-9 10h0m-10-5h0m-1-5h0" stroke="#f55528" stroke-width="7.2" stroke-linecap="round" fill="none" stroke-opacity="0.8"/>
<path transform="scale(0.5)" d="M212 249h0m1 20h0m-5-5h0m0-4h0m0-5h0m-1 27h0m11-4h0m0-5h0m-4 16h0m-1 3h0m-5 5h0m-24 15h0m10-5h0m4 4h0m10-8h0m-10 14h0m-13-1h0" stroke="#55cd7d" stroke-width="7.2" stroke-linecap="round" fill="none" stroke-opacity="0.8"/>
<path transform="scale(0.5)" d="M122 177h0m-1-5h0m-5 5h0m-5 15h0m6-9h0m4-1h0m5 10h0m1-9h0m0 4h0m22 1h0m6 0h0m43 8h0m-37 11h0m-39 0h0m-1-11h0m-4 0h0m0 6h0m-1 4h0m-3-9h0m-1 4h0m-1 6h0m0 13h0m0-4h0m6-1h0m0 6h0m5-11h0m62 21h0m-63-5h0m0 9h0m-4 0h0m0-10h0m-4 6h0m-1-6h0m-4 0h0m0 4h0m-1 6h0m0 10h0m0 9h0m1-14h0m3 1h0m1 3h0m0 9h0m1-4h0m51 5h0m24-5h0m-19 10h0m-4-1h0m-39 11h0m-9-14h0m-4 13h0m-2-3h0m-4-6h0m0 5h0m-1 5h0m1 9h0m1 5h0m0-10h0m3 6h0m0-5h0m2 10h0m3-10h0m1 10h0m14-14h0m-4 23h0m-1-5h0m-9 10h0m-4-9h0m-1 3h0m-4-5h0m13 16h0m1 4h0m4-5h0m0 9h0m0-3h0m5-5h0m0 8h0m1-4h0m3 6h0m5-1h0m30-10h0m9 1h0m-19 19h0m0 4h0m-9-9h0m-1 9h0m0-5h0m-4-4h0m0 4h0m-4 0h0m-1-3h0m-1 8h0m-9-10h0" stroke="#6e5fd2" stroke-width="7.2" stroke-linecap="round" fill="none" stroke-opacity="0.8"/>
<path transform="scale(0.25)" d="M576 116h0m-34 14h0m5-7h0m12 4h0m8 6h0m8-4h0m4 5h0m5-3h0m6-6h0m7 0h0m16 8h0m22 15h0m-1-7h0m-6 3h0m-2-1h0m-17 1h0m-10 3h0m-8-2h0m-18-3h0m-3-6h0m-15 10h0m-5-3h0m-7 1h0m-22 0h0m-15 11h0m19 3h0m13-1h0m1 1h0m4-2h0m9-5h0m1 5h0m1-1h0m2-4h0m5-1h0m1 14h0m1 0h0m2-7h0m1 6h0m7-12h0m1 10h0m7 3h0m3 0h0m3-5h0m7-9h0m3 9h0m4 3h0m5-11h0m1 8h0m2 4h0m5-3h0m2 4h0m41 13h0m-8 2h0m-7-7h0m0-1h0m-8 1h0m-8 5h0m-5 1h0m-4-1h0m-2-9h0m0 3h0m-2-6h0m0 13h0m-2-10h0m-3-1h0m-1 9h0m-2-3h0m-4 4h0m-1-12h0m-1 0h0m-3 8h0m-6 6h0m-1-12h0m-2 5h0m-1 4h0m-1 3h0m0-2h0m-2-10h0m-1 6h0m0-1h0m-3-5h0m-6 2h0m-3 5h0m-1-5h0m-2 5h0m-1-6h0m-3 9h0m0-5h0m-8-7h0m-2 11h0m-2-9h0m-12 0h0m-7 7h0m-1 1h0m-2-8h0m-8-1h0m-15 0h0m-4 2h0m-8 18h0m5-1h0m25 3h0m7 4h0m6-5h0m10 3h0m12 2h0m1 0h0m1 1h0m8-5h0m8-6h0m1 11h0m4-13h0m5 3h0m3-1h0m2 8h0m0 4h0m4 0h0m5-13h0m1 9h0m0-1h0m0-1h0m2-6h0m0 4h0m4 0h0m0 7h0m7-8h0m1 8h0m5-6h0m2 1h0m15 3h0m2-9h0m2 0h0m3 7h0m0-5h0m9 6h0m0-2h0m9-3h0m3 7h0m11 12h0m-1 2h0m-14-10h0m-16 2h0m-5 3h0m-6-5h0m-16 12h0m0-5h0m-2-3h0m0 8h0m-4 1h0m-3-10h0m-1 9h0m-3-8h0m-3 6h0m-1-1h0m-3-3h0m-3-2h0m-2-1h0m-1 4h0m-3-6h0m-3 8h0m-3-2h0m-11-7h0m-5 7h0m-1-2h0m-2-3h0m-2 6h0m0 4h0m-5 0h0m-1-3h0m-1 0h0m-5-10h0m-3 12h0m-2-4h0m0-1h0m-4 1h0m-12-2h0m-16 7h0m-1-9h0m-4-4h0m-3 14h0m-9-2h0m9 13h0m25-8h0m0 8h0m1 1h0m3-8h0m7 9h0m3-6h0m7-5h0m0 2h0m1 6h0m1 1h0m3 0h0m2-6h0m4-1h0m1-3h0m0 4h0m7-3h0m4 11h0m0-7h0m2 3h0m1 2h0m1-1h0m2-5h0m1 1h0m2 8h0m2-10h0m0 2h0m8 7h0m1-2h0m4-2h0m1 2h0m4-7h0m1 1h0m1 0h0m0 3h0m2 4h0m4-7h0m0 9h0m1-10h0m3 6h0m3-8h0m3 11h0m0-10h0m4 4h0m3 4h0m4 2h0m0-10h0m1 4h0m0 3h0m2 3h0m4-8h0m1-3h0m5-1h0m3 6h0m1-2h0m1 0h0m5 0h0m5 7h0m4 2h0m0-5h0m2 1h0m10-9h0m0 9h0m2-5h0m5 7h0m-6 16h0m-7-6h0m-2-5h0m-15 10h0m-7-8h0m-2 10h0m-5-10h0m-3 9h0m-2 2h0m-1-8h0m-13 1h0m-2-5h0m-5 6h0m-1 6h0m-1-12h0m-2 8h0m0-10h0m-3 10h0m0 4h0m0-7h0m-2-1h0m-4 1h0m-8-1h0m-3-3h0m-1-1h0m-2-1h0m-12 10h0m-7-4h0m-2-1h0m-2-5h0m-3 1h0m-6 11h0m-21-13h0m-3 6h0m-2-3h0m-2 1h0m-9 0h0m-5-3h0m-4 12h0m-17 10h0m6 1h0m9-7h0m20 12h0m4-4h0m5-9h0m14 1h0m0 4h0m1 1h0m7 3h0m5 2h0m7-12h0m3 12h0m0-8h0m7-2h0m1 10h0m0-5h0m1 7h0m5-5h0m1 5h0m0-8h0m6 4h0m2-2h0m6-6h0m3 8h0m6-1h0m2 0h0m0-1h0m5-1h0m2 4h0m3 2h0m1-1h0m6 0h0m6 0h0m3-4h0m3 1h0m2-8h0m0 11h0m3-7h0m8-2h0m2 9h0m5-11h0m2 12h0m1 0h0m0-2h0m1 2h0m9-6h0m0-6h0m1 1h0m11 7h0m10-5h0m4 17h0m0 1h0m-5 5h0m-3-5h0m-9-3h0m-3 9h0m0-3h0m-15-6h0m-4 4h0m-2-3h0m-1 7h0m-3-9h0m-1 10h0m-2-8h0m-13-5h0m-1 5h0m-1 4h0m-6 4h0m-2-6h0m-3 5h0m-4-2h0m-10-9h0m-1 0h0m-10 9h0m-2-2h0m-5-3h0m-3 7h0m-2-2h0m-3-7h0m-2 1h0m-32 4h0m-4-6h0m-66-2h0m-1 7h0m22 16h0m15 3h0m10 3h0m16-1h0m10-10h0m10 11h0m15 0h0m3-9h0m21 2h0m18-6h0m0 10h0m13-5h0m2 3h0m1-3h0m9-5h0m1 2h0m2 10h0m11-9h0m3 9h0m4-12h0m2 13h0m8-1h0m11-2h0m1 1h0m4-4h0m4-1h0m0-6h0m12 5h0m1 8h0m7-9h0m-5 15h0m-5 5h0m-1-3h0m-1 1h0m-7-8h0m-9 14h0m-11-7h0m-2-7h0m0 8h0m-2-6h0m0 5h0m-2-5h0m-1 9h0m-1-2h0m-1-7h0m-9 4h0m-3 0h0m-10 8h0m-10-13h0m-9 11h0m-2-8h0m-5 2h0m-15 0h0m0-2h0m-5-3h0m0 8h0m-6 4h0m-5-10h0m-7 9h0m-8-4h0m-15-7h0m-20 6h0m-15 1h0m-33-4h0m-12-1h0m-32 11h0m57 6h0m24 2h0m31-7h0m27 14h0m9-6h0m9 4h0m0-11h0m4 13h0m3-11h0m1-2h0m4 11h0m6-7h0m0 2h0m8-6h0m11 2h0m3 4h0m5 5h0m3-5h0m1-2h0m6 3h0m1-1h0m1 5h0m4-10h0m1 0h0m5 10h0m3-2h0m4 3h0m0-4h0m4 1h0m1-1h0m3-2h0m3 2h0m3-9h0m0 5h0m1 7h0m2-6h0m3 7h0m6 0h0m14-4h0m17 19h0m-5-6h0m-16 7h0m-5-9h0m-12-3h0m-1 2h0m-1 5h0m-11-1h0m-10 4h0m-15-9h0m-1 7h0m-12 4h0m-8-7h0m-4-1h0m-2-4h0m-7-2h0m-1 11h0m-1-4h0m-2 4h0m-10-9h0m-1 7h0m-3 3h0m-24-9h0m-13 9h0m-3-9h0m-4 0h0m-8-1h0m-19 10h0m-2-11h0m-15 7h0m-8-7h0m-20 9h0m0 6h0m1 1h0m4 10h0m39-7h0m12 9h0m1-8h0m28-4h0m4-1h0m18 5h0m1 7h0m6 1h0m0-5h0m10 4h0m15 1h0m8-12h0m16 0h0m1 11h0m1 1h0m28-12h0m5 10h0m3-9h0m6 3h0m0-6h0m3 1h0m16 11h0m4 2h0m0-6h0m16 21h0m-5-9h0m-27-5h0m-4 10h0m-1-3h0m-7-2h0m-3 6h0m0-7h0m-4 1h0m-4 7h0m-3 0h0m-2-11h0m-1 13h0m-1-7h0m-1-3h0m-1 3h0m-4 0h0m-22 3h0m-50-3h0m-7-3h0m-3 5h0m-24-2h0m-2 3h0m-23-8h0m-1 9h0m-21 2h0m-7-3h0m-20-8h0m-20 19h0m37 1h0m23-6h0m25 8h0m37 5h0m9-6h0m17 3h0m15-2h0m25-8h0m1 3h0m8 8h0m13-8h0m7-1h0m3 2h0m8 5h0m2 3h0m2-6h0m0-1h0m1 8h0m14-8h0m5-4h0m9 0h0m16 2h0m-23 19h0m-9 0h0m0-4h0m-7 7h0m-3-6h0m-3 2h0m-8-2h0m0 9h0m-1-14h0m-2 1h0m-2 3h0m-5 3h0m-29 7h0m-47-3h0m-28-2h0m-30-5h0m-19-3h0m-10 8h0m-4 0h0m-3-9h0m34 21h0m17-3h0m3-3h0m56 1h0m11 12h0m35-3h0m10-4h0m6-1h0m6-5h0m2 4h0m6 8h0m10 1h0m3-9h0m7 5h0m9-1h0m8 2h0m12 5h0m-3 6h0m-6-2h0m0 9h0m-2-8h0m-11-3h0m-6 11h0m-9-7h0m-3 7h0m-19-1h0m-40-5h0m-12 0h0m-14 3h0m0 3h0m-68-8h0m-17 21h0m18-8h0m7 4h0m14 3h0m25-8h0m1 8h0m2 2h0m23-2h0m57-2h0m28-4h0m17 2h0m1 6h0m22-1h0m0-1h0m-15 7h0m-22 7h0m-3 3h0m-7-12h0m-21 14h0m-26-5h0m-4-2h0m-41 1h0m-11-3h0m-118 4h0m104 16h0m43-8h0m52 10h0m15-8h0m30-4h0m7 10h0m16-6h0m-28 23h0m-7-8h0m-4 8h0m-8-3h0m-60-7h0m-47 25h0m70 1h0m33-12h0m7 6h0m1 3h0m28-6h0m3 2h0m0 8h0m14 8h0m-17 0h0m-19 4h0m-4-5h0m-6 7h0m-8-3h0m-48-7h0m-97-1h0m46 17h0m13-2h0m4 10h0m79-12h0m25 4h0m1 1h0m9-2h0m0 20h0m-28 18h0m6-9h0m8 10h0m4 14h0m-20 3h0m-32-4h0m31 6h0m6 5h0m6-4h0m21 7h0m-21 21h0" stroke="#f0389a" stroke-width="6" stroke-linecap="round" fill="none"/>
<path transform="scale(0.25)" d="M675 238h0m-37-8h0m-2-2h0m1 26h0m34 0h0m7-11h0m3 15h0m-19-1h0m-27 17h0m19 9h0m1-8h0m23-3h0m18 5h0m-1 19h0m-9-5h0m-2 7h0m-1-7h0m-32-6h0m-2 10h0m-24 6h0m15-1h0m31 3h0m6-3h0m1 14h0m1-7h0m7-6h0m3 10h0m4-8h0m11 5h0m11 5h0m2 4h0m-11 5h0m-6 4h0m-3 3h0m-3-10h0m-12 5h0m-1-1h0m-4-5h0m-3 8h0m-88-5h0m26 17h0m40 4h0m21-4h0m13 6h0m2-10h0m2 5h0m11-3h0m1-1h0m8 8h0m2-2h0m8-2h0m8-5h0m-2 14h0m0-2h0m-4 6h0m-21 0h0m-5 3h0m-3 0h0m0-5h0m-1-1h0m-4 10h0m-2-3h0m-4-5h0m-9-2h0m-3 2h0m0 1h0m-8 7h0m-29-9h0m-9 0h0m-15 6h0m-11 0h0m27 18h0m5-11h0m3 3h0m11-3h0m3 5h0m14 6h0m6-6h0m1-3h0m18 3h0m6 0h0m9 0h0m4 6h0m4-14h0m8 12h0m0-2h0m26-10h0m-11 20h0m-19 9h0m-4-9h0m-3 0h0m-6 4h0m-7 3h0m-3-7h0m-7-1h0m-3-4h0m-1 6h0m-1 6h0m-2-8h0m-3 10h0m-1-14h0m-2 10h0m0-10h0m-4 6h0m-9-5h0m-3 2h0m-19 9h0m-4 2h0m-3-10h0m-8 6h0m-31 2h0m7 17h0m29-3h0m9-2h0m0-5h0m7-3h0m4 4h0m4-1h0m11 3h0m10-7h0m1 1h0m3 7h0m1-2h0m18 6h0m1-6h0m1 2h0m2-1h0m2-1h0m11-3h0m0-3h0m4 5h0m2 9h0m11-2h0m8-1h0m2-1h0m11-1h0m1-6h0m-9 25h0m-7-1h0m-2-3h0m-3 2h0m-10-8h0m-5 10h0m-3-3h0m-9-3h0m-5 4h0m-3 1h0m-4-10h0m0-2h0m-6 7h0m-4 2h0m-27 1h0m0 4h0m0-14h0m-19 2h0m-3 2h0m-13-4h0m-16 10h0m-5 6h0m3 1h0m21 11h0m21-7h0m14 2h0m2-3h0m8 2h0m11-1h0m1 7h0m0-7h0m4 1h0m5-1h0m2 8h0m2-6h0m8-3h0m4-5h0m7 4h0m7 0h0m7 9h0m3-1h0m0-3h0m3-1h0m10-6h0m2 1h0m5 7h0m6 1h0m-7 16h0m-12-12h0m-3 8h0m-2-3h0m-1 3h0m-2 2h0m-2-1h0m-3-6h0m-7 10h0m-3-2h0m-12-8h0m-1 0h0m-5-3h0m0 13h0m-2-12h0m-2 0h0m-1 4h0m-1 8h0m-4-12h0m-4 6h0m-5-7h0m-4 12h0m-1-12h0m0 12h0m-3-5h0m-1-5h0m-1 3h0m-10 0h0m-2-2h0m-11 2h0m-35 1h0m-29 13h0m44 6h0m50-2h0m8 1h0m3-7h0m5 10h0m2-8h0m1 9h0m3-1h0m8-8h0m2 3h0m1 7h0m0-11h0m1 2h0m1-5h0m0 13h0m12-1h0m0-1h0m2-5h0m0-1h0m2 8h0m3-8h0m0 4h0m21 5h0m8-5h0m-15 17h0m-3 2h0m-2-6h0m-6 2h0m-8-6h0m-3 0h0m-9 8h0m-6-6h0m-2 3h0m0-5h0m-10 4h0m0-5h0m-1 12h0m-1-8h0m-17 1h0m-2 7h0m0-8h0m-2-3h0m-22 8h0m-1 1h0m-2 15h0m20-5h0m19-6h0m4 12h0m8-3h0m0-5h0m1 3h0m6-1h0m1 6h0m13-8h0m10 1h0m5 6h0m2-9h0m6 2h0m2-1h0m9 20h0m-5-9h0m-10 9h0m-1-1h0m-5-1h0m-1 1h0m-9-1h0m-3 2h0m0-3h0m-6 1h0m-2 3h0m-1-8h0m-10-2h0m-1 8h0m-1-5h0m-2-1h0m-27 8h0m-25-2h0m-61-8h0m86 23h0m6-6h0m8 1h0m4 3h0m4-6h0m7 4h0m9-2h0m0 10h0m6 2h0m6-12h0m2 7h0m6-2h0m1-7h0m3 4h0m1 8h0m1-1h0m9 0h0m2-8h0m6 1h0m1 8h0m10-10h0m1 8h0m-12 18h0m-4-1h0m-1-8h0m-4-4h0m-1 7h0m-3 0h0m-7 5h0m-1-11h0m-4 9h0m-5 3h0m-1-7h0m-1-3h0m-1 2h0m-2 3h0m-4 4h0m-13-11h0m-3 11h0m-9-11h0m-9 11h0m-12 4h0m26 9h0m2-2h0m13-6h0m3 12h0m4 0h0m7-6h0m0 1h0m2-2h0m5-2h0m4 4h0m1-7h0m4 9h0m1-8h0m3 4h0m11 6h0m3-9h0m-1 14h0m-4 8h0m-13-7h0m-1 10h0m-1-5h0m-1-4h0m-7 8h0m-3-9h0m-3 10h0m-3-5h0m-1-1h0m-2-3h0m0 3h0m-2-5h0m0 9h0m0-1h0m0 3h0m0-10h0m-4-3h0m-2 5h0m-1 6h0m-7-3h0m-41-4h0m12 23h0m3-11h0m18-1h0m10 7h0m14 5h0m2-10h0m7 8h0m1-7h0m3 3h0m1 6h0m7-6h0m0 6h0m1-6h0m4 7h0m8-3h0m3-7h0m4-4h0m-11 15h0m-1 12h0m-2-12h0m-13 2h0m-4 12h0m-4-12h0m-3-1h0m-1 2h0m0 8h0m-3-10h0m-11 2h0m-1-3h0m8 16h0m5 1h0m23 1h0m-6 14h0" stroke="#f0c896" stroke-width="6" stroke-linecap="round" fill="none"/>
<path transform="scale(0.25)" d="M594 377h0m-12 2h0m17 32h0m-39 8h0m-9-5h0m-41 1h0m-34-7h0m80 26h0m85-6h0m4 9h0m-41 10h0m-12 0h0m-20-3h0m-15-7h0m-20 10h0m0-8h0m-2 1h0m-6-3h0m-11 12h0m-15-6h0m-2 6h0m-19-6h0m-25 18h0m1-5h0m31 5h0m11 2h0m8-2h0m6-1h0m2-5h0m2-1h0m3 1h0m17 6h0m2-3h0m0 1h0m10 2h0m52-11h0m46 9h0m7 9h0m-24 1h0m-20 3h0m-12 0h0m-4-4h0m-6 1h0m-20 6h0m-4-1h0m-4 1h0m-23-5h0m-3-2h0m-10 11h0m-4-3h0m-5 3h0m-1-12h0m-4 2h0m-3 7h0m-1 1h0m0 2h0m-3-8h0m0-6h0m-16 1h0m-12 13h0m-23-6h0m-11 1h0m-3-1h0m27 11h0m36 7h0m0-6h0m8 3h0m12 6h0m3 0h0m1-7h0m5-1h0m6 5h0m7-10h0m0-1h0m3 11h0m3 2h0m1-5h0m2-1h0m2 7h0m8-4h0m2-1h0m2 4h0m0-10h0m5 9h0m4-6h0m1-2h0m4-3h0m15 10h0m6-5h0m20 17h0m-41 5h0m-3-7h0m-2-4h0m-2-2h0m-5 8h0m-12 3h0m-2-11h0m-2 6h0m-2-2h0m-1-2h0m-12 8h0m0-6h0m-4 7h0m-7-3h0m-5-2h0m-2-1h0m24 10h0m3 3h0m1-3h0m46 10h0m18-4h0m26 12h0" stroke="#5f87eb" stroke-width="6" stroke-linecap="round" fill="none"/>
<path transform="scale(0.25)" d="M574 343h0m110 30h0m-74 11h0m74 24h0m-41 3h0m-84-3h0m22 21h0m4 5h0m12-14h0m30 0h0m17 5h0m3-5h0m45 1h0m-42 19h0m-4 8h0m-4-11h0m-18 2h0m-25-2h0m-22 5h0m-29-4h0m58 16h0m3 0h0m15 2h0m1 5h0m16-3h0m7 5h0m1-7h0m6 3h0m1-5h0m4-3h0m3 3h0m31 6h0m-27 8h0m-24 1h0m-6-2h0m-7 3h0m-17 4h0m-4-6h0m-12 11h0m-49-7h0m-21 8h0m35 2h0m45-2h0m5 1h0m9 0h0m9 8h0m13-1h0m0 2h0m1-10h0m24 7h0m5 3h0m45 14h0m-18-6h0m-45 3h0m-18 8h0m-3-1h0m0-1h0m-3-4h0m-15-5h0m-4 3h0m-52 5h0m51 11h0m2-6h0m12 6h0m14-4h0m10 5h0m11-6h0m9 11h0m3 0h0m8-2h0m0 1h0m20-7h0m22-5h0m-9 21h0m-14-3h0m-3-2h0m-3 8h0m-10-5h0m-1-3h0m-1 3h0m-3 4h0m-3 6h0m0-14h0m-1 14h0m-2-6h0m-1-6h0m-2 3h0m-5-5h0m-3 10h0m-7 0h0m-1 3h0m0-12h0m-1 11h0m-4-8h0m-2-4h0m-10 5h0m-6-5h0m-6 6h0m-5-4h0m30 16h0m1 6h0m3 5h0m0-10h0m4 4h0m1-3h0m2 6h0m3-1h0m10-9h0m1 5h0m2 2h0m5 4h0m6-7h0m6 9h0m1-6h0m3 4h0m0-5h0m10 7h0m2-13h0m11 6h0m2 19h0m-6 3h0m-1-12h0m-11 12h0m-6-3h0m-3 0h0m-4 1h0m-4 0h0m-4-6h0m-2 3h0m-1-3h0m-4-6h0m-2 11h0m-2-5h0m-11 5h0m-3 3h0m13 15h0m2-12h0m3 4h0m2 0h0m3-6h0m3 12h0m2-8h0m2-2h0m3-1h0m1 3h0m0 9h0m0-8h0m6-5h0m3 11h0m4-6h0m4 3h0m0 2h0m-2 10h0m-4-3h0m-1 5h0m-8-2h0m-1-4h0m-1 11h0m-2-10h0m-1 8h0m-8-4h0m-3-3h0" stroke="#82fabe" stroke-width="6" stroke-linecap="round" fill="none"/>
<path transform="scale(0.25)" d="M522 262h0m-35 2h0m-7-7h0m0 24h0m53-3h0m53 3h0m31 0h0m-6 14h0m-14-3h0m-38 7h0m-11-4h0m-11 4h0m-11-4h0m-2 4h0m-28-10h0m-49 24h0m35-3h0m7-1h0m0 5h0m33-10h0m9 10h0m5-9h0m15-4h0m13 8h0m3-4h0m32 1h0m13 23h0m-2-13h0m-12 7h0m-5-8h0m-2 13h0m-14-8h0m-23 0h0m-1 2h0m-1 2h0m-10 5h0m-2-11h0m-17-2h0m-7-1h0m-8 1h0m-11 9h0m-11 0h0m-1 0h0m2 14h0m16 3h0m1-7h0m25 4h0m1-3h0m1 2h0m8 2h0m2-10h0m3 14h0m14-1h0m0 1h0m7-2h0m24-6h0m45-4h0m1 6h0m36 10h0m-22 5h0m-39-6h0m-32 3h0m-11 7h0m-6-6h0m-10-1h0m-1-3h0m-5 9h0m-8-6h0m-10 8h0m-10 0h0m-2 0h0m-2-12h0m-4 3h0m-6 8h0m-30 2h0m9 2h0m23 6h0m9 5h0m3-3h0m11 3h0m3-12h0m1 13h0m1-10h0m5 7h0m1 1h0m3-1h0m1-9h0m1-1h0m5 4h0m8 6h0m0-8h0m6 11h0m7-4h0m6-7h0m1 10h0m3-7h0m5 6h0m0 1h0m2-1h0m9-11h0m3 5h0m6 0h0m1 2h0m24 5h0m5-6h0m12 0h0m33 11h0m-76-1h0m-2 4h0m-7 2h0m-1-1h0m0 4h0m-5-9h0m-2 2h0m-10 6h0m-1 3h0m-9-12h0m-2 12h0m-6-3h0m-3-7h0m-11 7h0m-10-7h0m-8 4h0m-9-5h0m-8 1h0m-3 10h0m-3-6h0m-3-5h0m0 1h0m-8 1h0m-36 0h0m25 21h0m48-3h0m5 1h0m0 3h0m8-8h0m7 1h0m3 2h0m3 0h0m20 6h0m5-6h0m2 9h0m7-9h0m0-5h0m4 3h0m2 11h0m11-4h0m6-1h0m0 2h0m20 2h0m1-2h0m5-8h0m8 11h0m30-9h0m-30 14h0m-11-3h0m-13 13h0m-20-12h0m-18 0h0m-12 2h0m-4 5h0m-2-3h0m-13-3h0m-12 11h0m-8-2h0m-11-5h0m-4 3h0m-18-5h0m-21 15h0m35 6h0m7-3h0m55 2h0m1-2h0m2 0h0m9-8h0m7 12h0m7-1h0m2-4h0m6 5h0m25-3h0m39 20h0m-38-5h0m-14-8h0m-27 13h0m-19-5h0m-4-9h0m-3 14h0m-10-7h0m-2 2h0m-2 2h0m33 16h0m6-7h0m2 5h0m6-9h0m28 12h0m16-10h0m19 1h0m42 20h0m-37-7h0m-108 9h0m0 5h0m20 11h0m20-7h0m64-5h0m-27 15h0" stroke="#87afe1" stroke-width="6" stroke-linecap="round" fill="none"/>
<path transform="scale(0.25)" d="M527 141h0m-9 5h0m-198 15h0m198-6h0m84 7h0m18 7h0m-24 10h0m-40-11h0m-11 6h0m-19 4h0m-9-1h0m-12-10h0m0 6h0m-1-8h0m-5 14h0m-2 0h0m0-1h0m-16-1h0m-1-4h0m-124 1h0m-2 3h0m-30 7h0m1 0h0m1 2h0m6 5h0m21-7h0m5 10h0m1-2h0m8 0h0m13-8h0m29 7h0m17-5h0m3 0h0m2 8h0m11-2h0m16 2h0m3-10h0m16 2h0m2-6h0m5 1h0m5 8h0m3-3h0m1 6h0m8-1h0m3-2h0m0 2h0m4-10h0m2-1h0m14 12h0m12-3h0m30 2h0m11-9h0m2 3h0m15-1h0m-4 22h0m-28-9h0m-1 0h0m-4 1h0m-11 3h0m-3-1h0m-13 8h0m-3-3h0m-8-5h0m-14 7h0m-2-6h0m-4 3h0m-4-4h0m-4 5h0m-23 3h0m-4-7h0m-3 4h0m-5-3h0m-5-5h0m-1 11h0m-1-12h0m-1 3h0m-5 5h0m-12 4h0m-8 0h0m-4-1h0m-3 0h0m-6 2h0m-6-6h0m-7-4h0m-5 5h0m-1-1h0m0-5h0m-5 10h0m-2-10h0m-3 6h0m-1 2h0m-1-5h0m-14 1h0m-8 4h0m-9-2h0m-18-3h0m-9-1h0m-19-3h0m0 4h0m0 8h0m-43 15h0m35-1h0m0-5h0m5 4h0m5-1h0m12-8h0m4-2h0m3 4h0m6 7h0m1-2h0m8-9h0m3 2h0m7 6h0m1-2h0m4-3h0m1 0h0m2-2h0m9 11h0m17-6h0m5 7h0m15-4h0m0-1h0m13 4h0m1-13h0m4 10h0m1 0h0m0-3h0m3-2h0m0 9h0m1-14h0m1 5h0m1 6h0m7 0h0m7-10h0m1 3h0m3 4h0m5-3h0m2-3h0m1 2h0m1 7h0m0-5h0m6-6h0m1 11h0m2 2h0m0-5h0m3 1h0m1 4h0m3-12h0m2 13h0m10-14h0m2 11h0m0-5h0m1 0h0m4 5h0m1-1h0m12 3h0m3-3h0m6-3h0m1 4h0m0-8h0m4 7h0m21-9h0m46 16h0m-5 12h0m-17-3h0m-2-7h0m-11 3h0m-5 5h0m-22-4h0m-4 6h0m-3-9h0m-5-3h0m-2 6h0m-4 5h0m-6-6h0m-12-5h0m-6-1h0m-1 8h0m-1-6h0m-3 3h0m-7-6h0m-16 11h0m0-5h0m0-1h0m-1 2h0m-2-3h0m-1-2h0m-2 10h0m0-6h0m-1 3h0m-5-6h0m-4 3h0m-2 8h0m-3-10h0m-2 6h0m0-2h0m-4 1h0m-2-3h0m-1 2h0m-4-2h0m-2-2h0m0 1h0m-1 3h0m-1-1h0m-3 4h0m-1-8h0m-8-1h0m-2 1h0m-3 6h0m-2-6h0m-2 11h0m-1-5h0m0-2h0m0 4h0m-2-1h0m0-7h0m-2-2h0m-9 12h0m-1-5h0m0 4h0m-1-7h0m0 9h0m-5-11h0m-3-2h0m-1 0h0m-1 7h0m-2 1h0m-1 3h0m-4-1h0m-2-2h0m-1-8h0m-2 1h0m0 6h0m-10 3h0m-8-3h0m0 2h0m-9-3h0m-3-3h0m-2 2h0m-2-5h0m-4 5h0m-11-4h0m-1 5h0m-2-6h0m-1 6h0m-9 6h0m-16-2h0m3 16h0m6-9h0m26-1h0m25 10h0m23 0h0m0-11h0m1 8h0m3-4h0m4 1h0m2-5h0m3 10h0m1-3h0m11-7h0m1 6h0m3-4h0m3 2h0m3 5h0m2 4h0m0-6h0m17-6h0m4 11h0m0-5h0m1-3h0m2-3h0m2 4h0m0 5h0m3-7h0m1-1h0m3 3h0m6-5h0m2 11h0m0 2h0m1-7h0m1 4h0m1-4h0m0-1h0m1-4h0m5-1h0m1 10h0m3 1h0m1-5h0m0 3h0m0-10h0m5 2h0m12 7h0m5-6h0m2-3h0m4 4h0m1 4h0m7-1h0m3 2h0m11-6h0m7-3h0m17 2h0m5 1h0m2-2h0m4 13h0m2-13h0m29 0h0m1 2h0m28-3h0m11 28h0m-13-8h0m-3 4h0m-11 0h0m-25-7h0m-13 9h0m-4 2h0m-3-7h0m-10-4h0m-6 10h0m-7-4h0m-10 6h0m-2-5h0m-12-6h0m-11-2h0m-7 10h0m-1-2h0m-1-8h0m-3 10h0m-8-4h0m-1-4h0m-2 3h0m-2 5h0m-2 3h0m-1-6h0m-2-2h0m0-1h0m-4-5h0m-1 2h0m-1 2h0m-6 0h0m-2 3h0m-1-3h0m-11 9h0m-1-13h0m-8 5h0m-14 2h0m-2 4h0m-8-10h0m0 7h0m0-1h0m-2 1h0m0-4h0m-4 3h0m-2-6h0m-15 3h0m0 1h0m-1 5h0m-4 4h0m-3-1h0m-3-4h0m0-8h0m-1 2h0m-1 9h0m0-5h0m-5-4h0m0-1h0m-5 10h0m0 1h0m-5-1h0m-2-7h0m-1-5h0m-12 2h0m-1 3h0m-2 2h0m-26 4h0m-2-8h0m-6 5h0m-31 4h0m-3 14h0m33-9h0m6 2h0m3 4h0m10 5h0m14-7h0m4-2h0m8 5h0m3-7h0m8 0h0m5 10h0m11-9h0m3 0h0m2 2h0m5-2h0m3 4h0m4 4h0m2 1h0m2-11h0m2 5h0m2 0h0m0 2h0m4-4h0m0 3h0m7 4h0m6-11h0m1 13h0m2-13h0m0 1h0m1 10h0m2 3h0m1-9h0m3 2h0m2-2h0m0 1h0m1 5h0m5-2h0m4 2h0m1-11h0m1 1h0m9 12h0m3-11h0m7-1h0m2 5h0m5-1h0m2 8h0m2-5h0m0 4h0m30 2h0m9-13h0m2 4h0m10 1h0m11 1h0m1 3h0m15 1h0m0-3h0m4-4h0m18 1h0m78 14h0m-34-1h0m-16 0h0m-7-3h0m-11 8h0m-1-5h0m-24 3h0m-4 4h0m-15-6h0m-10 6h0m-15-7h0m-3 2h0m-3-4h0m-5 12h0m-2-5h0m-6 4h0m-2-11h0m-13 5h0m-6-1h0m-3 3h0m-2-5h0m-1 6h0m-9-8h0m-1 10h0m0-5h0m-1 6h0m-11-1h0m-3-11h0m-1 2h0m-1 3h0m-1 7h0m-4-1h0m-5-2h0m0-7h0m-1 2h0m-3 6h0m-1-10h0m-10 7h0m-3-4h0m-6 3h0m-2 0h0m-12-3h0m0 9h0m-11-3h0m-7 2h0m-30 0h0m-61 3h0m-23 9h0m42-6h0m20 6h0m2-8h0m6 1h0m2 13h0m0-9h0m10 1h0m13 5h0m2 3h0m20 0h0m1-2h0m12-5h0m1 3h0m2-6h0m1-2h0m6-1h0m5 11h0m1 2h0m4-6h0m8-2h0m14 3h0m2-4h0m5 1h0m11 6h0m11-8h0m12-4h0m3 10h0m1 4h0m2-1h0m8-10h0m2 8h0m6 3h0m5-1h0m1-10h0m5 8h0m4 1h0m8-3h0m1-2h0m6-6h0m7 13h0m6-2h0m4-3h0m3-7h0m10 0h0m22-1h0m10 20h0m-29 7h0m-6-12h0m-21 2h0m-22 1h0m-4 8h0m-26-1h0m-2-6h0m-1-3h0m-10 2h0m-2-1h0m-2-1h0m-1 0h0m-9 8h0m-7-3h0m-2 6h0m-2-7h0m-6-4h0m0 9h0m-8-11h0m-8 1h0m-3 12h0m-9-2h0m-1-7h0m-1 8h0m-19-7h0m-2 9h0m-13 0h0m-14-4h0m-3-8h0m-5 4h0m-11-4h0m-2 8h0m-1-1h0m-8-6h0m-4 5h0m-18-3h0m-7 3h0m-38-5h0m34 20h0m5-5h0m8 10h0m4-8h0m2 5h0m22-9h0m10 0h0m6 6h0m2 6h0m41-8h0m0 8h0m3-6h0m6 3h0m0-6h0m1 1h0m9-1h0m3 1h0m16 5h0m35-10h0m5 0h0m11 12h0m12-9h0m13 3h0m9 1h0m5 0h0m1 3h0m21-3h0m8 1h0m19-8h0m23 23h0m-30-7h0m-19 5h0m0 8h0m-5-4h0m-2-2h0m-18-8h0m-29 8h0m-7 2h0m-3 3h0m-18-6h0m-8-2h0m-14-2h0m-4 8h0m-28 3h0m-1-10h0m-4 7h0m-18 2h0m-3-9h0m-11 9h0m-5-7h0m-9 2h0m-4-3h0m-1 3h0m-7-2h0m-7 6h0m-2-8h0m-25 6h0m-3-6h0m-1 8h0m-26-3h0m-31 18h0m22-12h0m25 11h0m12 3h0m9-5h0m2-7h0m2-1h0m3 9h0m3 1h0m1-11h0m6 3h0m0 1h0m1 3h0m28-3h0m6 1h0m2-1h0m1 4h0m2-1h0m2-4h0m9 5h0m1 5h0m14 1h0m4-1h0m2-8h0m14-5h0m7 3h0m14 4h0m28-3h0m9 3h0m4 5h0m9-7h0m11-5h0m17 11h0m19-9h0m25 12h0m84-13h0m-24 23h0m-97-7h0m0 12h0m-4-3h0m-15 2h0m-5 0h0m-16-5h0m-21 4h0m-17-8h0m-11 4h0m-2 0h0m-10 3h0m-27-7h0m-8 0h0m-8 2h0m-8 1h0m-6 4h0m-14-3h0m-9 1h0m-2-1h0m-3 6h0m-33-7h0m-34-3h0m79 15h0m19-3h0m17 6h0m5 0h0m3 1h0m0 6h0m9-8h0m6-6h0m3 5h0m11 5h0m7-5h0m12-3h0m8-1h0m7-1h0m23 3h0m2 5h0m10 6h0m100-4h0m3 18h0m-43-13h0m-58 4h0m-8-4h0m-15 11h0m-10 3h0m-27-14h0m-7 6h0m-6 6h0m-10-7h0m-1-5h0m-34 5h0m-6-5h0m-6 7h0m-100-5h0m85 26h0m11 0h0m6-6h0m23-7h0m11 0h0m3 4h0m1-4h0m19 1h0m3 5h0m5-2h0m0 1h0m80 7h0m47-9h0m19 11h0m8-9h0m-127 20h0m-18 2h0m-16-2h0m-64 4h0m-4-5h0m13 13h0m14-4h0m80 4h0m48 12h0m-23 8h0m-4-7h0m-37 3h0m-78 6h0m-25-5h0m-28 9h0m42 9h0m25 0h0m2-7h0m14 5h0m15 11h0m-1 6h0m-24-5h0m-44-2h0m0 4h0m-26-3h0m-42-5h0m54 18h0m25 6h0m3-8h0m22 23h0m-19 1h0m-16 3h0m3 18h0m12 40h0m-24 7h0" stroke="#823cfa" stroke-width="6" stroke-linecap="round" fill="none"/>
<path transform="scale(0.25)" d="M316 164h0m1-2h0m4 1h0m5-4h0m11-5h0m9 14h0m-20 11h0m-2-2h0m-1-4h0m-1 5h0m-4-7h0m-2-1h0m-2 3h0m-5-4h0m-1 5h0m-2 5h0m-3-2h0m0-5h0m-8 4h0m-2-6h0m-18 24h0m3-3h0m2 2h0m3-10h0m1 5h0m4-5h0m2-2h0m0 2h0m4-2h0m1-1h0m1 0h0m1 3h0m0 9h0m1 1h0m7-9h0m1 3h0m1 3h0m9-8h0m1 9h0m7 1h0m2-6h0m13 15h0m-6 6h0m-9-2h0m-5-6h0m-4-4h0m-2 1h0m0 2h0m-1 11h0m-2-4h0m-5-10h0m-6 6h0m-4-3h0m-1 10h0m-5-6h0m-1-4h0m-2 2h0m-2-5h0m-4 9h0m-1 5h0m-8 9h0m2 4h0m12-4h0m7-6h0m5-1h0m1 3h0m9 10h0m12-8h0m-49 16h0" stroke="#eb8c28" stroke-width="6" stroke-linecap="round" fill="none"/>
<path transform="scale(0.25)" d="M345 175h0m-25 14h0m106 19h0m-46-8h0m-51 3h0m-18 5h0m-29 2h0m10 13h0m4-5h0m4 3h0m3-6h0m13 9h0m110 0h0m-92 1h0m-56 1h0m0 4h0m-15 3h0m-9 17h0m11-8h0m17-2h0m7 11h0m0-7h0m30 1h0m8-3h0m21 3h0m-33 11h0m-3 5h0m-14-3h0m-9 10h0m-14-10h0m-7 1h0m-17 7h0m1 9h0m5-4h0m3 7h0m0-3h0m2 1h0m2-1h0m1 9h0m3-3h0m2-9h0m4 2h0m2 5h0m5-7h0m2 8h0m1 4h0m2-12h0m3 1h0m3-2h0m6 4h0m6 0h0m3 4h0m2-4h0m1-1h0m14-4h0m16 3h0m1 6h0m16 3h0m19 0h0m32-7h0m25 13h0m-7 7h0m-26 3h0m-39-7h0m-10-5h0m-29 4h0m-3 0h0m-6-4h0m-2 12h0m-4 0h0m-2-8h0m-11 7h0m-7 0h0m-2-3h0m-2 5h0m-7-5h0m-1-3h0m-7-4h0m-14 6h0m-5 14h0m1 0h0m15 3h0m4 3h0m3-12h0m1 0h0m3 13h0m1-5h0m10-4h0m1 2h0m8 2h0m9 4h0m3-5h0m40-4h0m3 6h0m1-2h0m6 3h0m7-10h0m6 8h0m21 3h0m27 2h0m26-8h0m-17 13h0m-2 5h0m-39-6h0m0 11h0m-3-3h0m-8-4h0m-3-6h0m-15 2h0m-3 0h0m0 3h0m0 3h0m-13-3h0m-1 2h0m-21 6h0m-3-2h0m0-8h0m-5 5h0m-2-9h0m-3 0h0m-2 6h0m0 7h0m-2-8h0m-4-1h0m-1 5h0m-1 0h0m-7-4h0m-2 9h0m-5 0h0m-3-11h0m-1 5h0m-8-2h0m-8-6h0m-4 11h0m-5-2h0m-6-4h0m-3-1h0m-2 10h0m-3-6h0m-1 14h0m4-2h0m0 4h0m6 1h0m1 1h0m8 2h0m2-9h0m1-1h0m4 0h0m6 8h0m4-5h0m0 5h0m2-7h0m2-3h0m0 1h0m2 1h0m9 7h0m3-7h0m2-2h0m2 12h0m1-9h0m5 7h0m2 3h0m10-4h0m1 3h0m1-3h0m2-2h0m7 4h0m5-9h0m3 1h0m11 4h0m0 4h0m2 1h0m6-8h0m4 1h0m4-2h0m3 1h0m4 8h0m6-2h0m1 1h0m1-3h0m3 0h0m6 4h0m7-2h0m12-10h0m3 7h0m101 11h0m-14-3h0m-15 5h0m-17-6h0m-20 4h0m-22-4h0m-6 4h0m-2 5h0m-5 5h0m-2-7h0m-6 5h0m-13 2h0m-9-1h0m-1-12h0m-8 8h0m-18-3h0m0 8h0m-4-12h0m-10 3h0m-2-3h0m-5 12h0m-1-5h0m-2 1h0m-8-6h0m-2 9h0m-5-11h0m0-1h0m0 12h0m-1-1h0m-5-4h0m0 5h0m-3-2h0m-3 3h0m-4-3h0m-1-9h0m-5 11h0m-5-6h0m-1 7h0m-1-10h0m-2-3h0m-3 0h0m-4 9h0m-11-3h0m-1-2h0m-1-5h0m0 12h0m-5-9h0m-9-3h0m-8 12h0m-14-2h0m27 8h0m10 8h0m0-11h0m1 0h0m2 5h0m3-4h0m4 8h0m2 0h0m4 4h0m7-11h0m7 6h0m2 2h0m4-10h0m1 14h0m3-8h0m6 6h0m1-10h0m8 5h0m6 0h0m3 6h0m2-9h0m3 1h0m1 2h0m2-2h0m1 6h0m4-10h0m1 3h0m3 2h0m1-6h0m0 12h0m4 1h0m8-8h0m0-1h0m3 5h0m8 5h0m2-1h0m0-5h0m5-6h0m4 12h0m1-3h0m14-5h0m12 4h0m12-3h0m6-5h0m2 12h0m4-1h0m2 0h0m19-1h0m7-7h0m3 9h0m53 0h0m0 3h0m-5 7h0m-2 0h0m-12 1h0m-8-10h0m-5 3h0m-37 6h0m-2-4h0m-8 7h0m-1-6h0m-6 5h0m-6-7h0m-1 8h0m-2-11h0m-1 8h0m-1-9h0m-7 8h0m-2 4h0m-11-12h0m0 13h0m-5 1h0m-4-5h0m0 3h0m-9-5h0m-10-4h0m-1 4h0m-2-6h0m-6 3h0m-3-4h0m-6 11h0m-1-3h0m-1 1h0m-12-6h0m-1 8h0m0-10h0m0 11h0m-5-5h0m-7 4h0m-1 1h0m-2-3h0m-1 4h0m-4-5h0m-3 1h0m-1-5h0m-2 0h0m-2-4h0m-4 9h0m-13-9h0m0 2h0m-7 4h0m-2 3h0m-6-5h0m-6 4h0m-6-4h0m-3 7h0m-3-3h0m-5-2h0m-4 3h0m-1-8h0m-7 1h0m-18 20h0m1 4h0m6 1h0m3-12h0m1 6h0m22 0h0m2-3h0m6 1h0m12 10h0m3-14h0m1 0h0m3 10h0m0-10h0m7 11h0m6-9h0m1 2h0m4 4h0m4 0h0m2-8h0m10 14h0m5-12h0m3 1h0m5 7h0m4 3h0m3-11h0m5-2h0m1 14h0m6-9h0m8-2h0m2 10h0m4-1h0m2 2h0m7-14h0m4 10h0m2-8h0m2 10h0m1 0h0m1-4h0m22-2h0m11 2h0m3-4h0m7 2h0m1 4h0m6-3h0m3 1h0m13 3h0m0-4h0m1-2h0m1-1h0m5 0h0m7 1h0m4 1h0m5-4h0m50 12h0m2-1h0m-21 3h0m-14 0h0m-27 0h0m-26 1h0m-11 3h0m-9 5h0m-2 4h0m0-4h0m0-1h0m-1-3h0m-3-2h0m0-1h0m-7-3h0m-3 12h0m0-3h0m-5-2h0m-1 4h0m-5 1h0m0-3h0m-9-2h0m0-4h0m-3 5h0m-4 1h0m-4 0h0m-4-3h0m-3 7h0m-1-2h0m-3-8h0m-1 4h0m-9-4h0m-2 4h0m-4-6h0m-1 9h0m-4-1h0m-10-2h0m-4-1h0m-6-5h0m0 2h0m-2 5h0m-12-1h0m-11 0h0m-4-3h0m-1 7h0m-1-5h0m-6-4h0m-3-2h0m-4 12h0m-3 0h0m-2-6h0m-2 1h0m-1 1h0m0-2h0m-6-1h0m-3 1h0m-7 3h0m-6-2h0m-6-3h0m-7 4h0m-18 19h0m24 0h0m13-12h0m6 1h0m1 3h0m8 2h0m1-2h0m1 8h0m7-4h0m6 6h0m1-6h0m3-3h0m0 6h0m7-8h0m2 4h0m2-5h0m3 8h0m2-1h0m4 2h0m3-5h0m4-2h0m6 9h0m1-9h0m4-3h0m1-1h0m2 9h0m1-3h0m4-2h0m0 5h0m0-8h0m6 10h0m3-3h0m3 1h0m1-9h0m1 3h0m0 3h0m4 5h0m1-1h0m2 1h0m2-2h0m3-4h0m2 3h0m3-1h0m4 4h0m2-10h0m1 0h0m1 3h0m0 6h0m1-9h0m1 2h0m3 4h0m1-5h0m3-1h0m4 8h0m4-7h0m13 4h0m0 7h0m3-5h0m3-7h0m5 2h0m2 2h0m3-4h0m7 1h0m11 1h0m10 4h0m3 6h0m3-8h0m7 4h0m1 2h0m1-7h0m1-4h0m1 13h0m17-7h0m2 0h0m3 8h0m2-4h0m35-10h0m2 5h0m4-1h0m-24 11h0m-18 5h0m-6 5h0m-18-10h0m-6 5h0m0 8h0m-9-9h0m-4 2h0m-6-6h0m-1 5h0m-1 5h0m-10-6h0m-8 3h0m-7-6h0m-7 9h0m-4-5h0m0-3h0m-10-1h0m-6 13h0m0-7h0m-2-2h0m-2-3h0m-1 0h0m-2 12h0m-17-6h0m-9 5h0m-3-2h0m-1-3h0m-5 1h0m-2 3h0m-3 2h0m-2-8h0m-3-5h0m-5 7h0m-2 3h0m-2-3h0m-4 1h0m-1-7h0m0 9h0m-3-8h0m-7 7h0m-1 2h0m-3-4h0m-5 0h0m0 1h0m0-5h0m-3-1h0m-1 8h0m-1-7h0m-3 5h0m0-2h0m-2 6h0m-3-7h0m-5-4h0m0 4h0m-1 2h0m-4-5h0m-8 6h0m-1-4h0m-4 3h0m0 1h0m-8 3h0m-3 0h0m0-11h0m-1 12h0m0-1h0m-2-1h0m-5-5h0m-2-3h0m-5 5h0m-1-2h0m-8 1h0m-7-3h0m-4-1h0m2 17h0m2 4h0m19-1h0m3-1h0m3 5h0m3-8h0m1 0h0m2 0h0m2 1h0m1 9h0m8-14h0m2 12h0m3-6h0m3 5h0m4-6h0m2 7h0m2-8h0m6 9h0m1-9h0m1 6h0m3-10h0m0 2h0m4 3h0m2-2h0m0 6h0m0-8h0m8 5h0m0-3h0m5 6h0m3 0h0m3 2h0m6 3h0m1-5h0m0 3h0m1 0h0m3-10h0m0 2h0m1 6h0m1-10h0m7 14h0m3-10h0m4 8h0m8 1h0m1-2h0m2 0h0m3-5h0m19 7h0m1-13h0m13 11h0m6-8h0m1-3h0m1 9h0m1-2h0m14-6h0m6 2h0m2 7h0m1 4h0m1-1h0m3 1h0m2 0h0m0-10h0m1 5h0m3-5h0m3 2h0m2-4h0m1 1h0m2 2h0m20 1h0m2 7h0m1-13h0m9 3h0m10 10h0m17-6h0m-14 12h0m-9 5h0m0 3h0m-3-7h0m-4 5h0m-5 4h0m-10-4h0m-47 1h0m-5-8h0m-17 5h0m0 2h0m-2-6h0m-2 7h0m-21-6h0m-10-4h0m-9 8h0m-1-4h0m-2-4h0m-2 6h0m-2 7h0m-4-13h0m-1 12h0m-1-8h0m0-5h0m-1 8h0m0-8h0m-6 2h0m-2 6h0m-1-4h0m-2 7h0m-5-4h0m-3 4h0m-1-1h0m-3 0h0m-1 1h0m0-6h0m-5 2h0m-1-2h0m-1-5h0m-3 8h0m-2-5h0m-1 3h0m-5-3h0m-2 4h0m-6 4h0m-3-7h0m0-2h0m-1 9h0m-1-4h0m-3-7h0m-3 11h0m-1-6h0m-3 8h0m-4-12h0m0 1h0m-1 0h0m-1 5h0m-1 5h0m-2-7h0m-1 8h0m-8-10h0m0-2h0m-1 12h0m-2 1h0m-2-7h0m-8 1h0m-4 5h0m0 1h0m-8-12h0m-1 12h0m8 10h0m12 1h0m2-10h0m2 11h0m5-3h0m9-1h0m0-3h0m1 1h0m3 0h0m3 9h0m3-4h0m7 1h0m1 1h0m5-9h0m2 8h0m1-11h0m0 9h0m1 3h0m2-10h0m7-2h0m0 3h0m2 5h0m9-8h0m0 3h0m2 6h0m0 2h0m1-1h0m4-6h0m0 3h0m1-5h0m0 1h0m1 6h0m1 1h0m7-10h0m6 7h0m2 1h0m1-4h0m8-4h0m3 4h0m4 6h0m1-3h0m2-2h0m6 1h0m1 6h0m7 0h0m1-1h0m0-10h0m1 12h0m7-12h0m3 9h0m4 1h0m2 2h0m6-13h0m4 6h0m0-4h0m45 12h0m2-8h0m2-4h0m7 1h0m13 0h0m0 13h0m-52 7h0m-1 5h0m-10 1h0m-2-9h0m-10-5h0m-2 1h0m-12 10h0m0-8h0m-7 3h0m-6 7h0m-1-8h0m0 4h0m-1 5h0m-1-6h0m0-7h0m-8 9h0m-2 2h0m-1-4h0m-6 0h0m0-7h0m-3 5h0m-1-2h0m0 1h0m-3 3h0m-8-4h0m-2 4h0m-3-5h0m0-3h0m-8 13h0m-12-8h0m-2 3h0m-6 0h0m-5 2h0m-2 1h0m0-7h0m-3 0h0m-6-3h0m-4 10h0m-1 1h0m-6-2h0m0-7h0m-4 5h0m0-4h0m-4 4h0m-3 5h0m-1 0h0m-19-11h0m-2 7h0m-20 12h0m7 6h0m1-3h0m7-8h0m7 13h0m5-14h0m5 13h0m0-9h0m0 3h0m3-2h0m5 9h0m5-8h0m2 7h0m1-2h0m2-9h0m8 10h0m3-3h0m9 2h0m0-11h0m8 8h0m5 1h0m2 2h0m2-2h0m4 4h0m2-13h0m2 10h0m2 2h0m0-5h0m1-6h0m8 11h0m3 2h0m0-7h0m6 5h0m0-7h0m0 6h0m2-8h0m1-1h0m2 11h0m6-6h0m0 3h0m0 4h0m3-1h0m2-12h0m5 9h0m5 1h0m0-5h0m5-6h0m0 2h0m0 7h0m1 4h0m11-7h0m16 6h0m15-4h0m42-4h0m-18 20h0m-15 5h0m-10-7h0m-10-2h0m-10 7h0m-4-3h0m-19-9h0m-4 13h0m-1-11h0m-1 4h0m0-5h0m-1 5h0m-4-6h0m-2 14h0m0-9h0m0 3h0m-9-6h0m-1 5h0m-4-2h0m-6 6h0m-5-7h0m-1 2h0m-1-4h0m0 4h0m-3 4h0m-2-5h0m-1 7h0m-7-9h0m-8 6h0m-1-9h0m-9 1h0m-6-1h0m-4 8h0m-1 2h0m-1 3h0m-2-1h0m-1-5h0m-4-3h0m-1 2h0m-1 5h0m-1-9h0m-1 9h0m-1-1h0m-2-3h0m0-5h0m-1 0h0m-3 5h0m-4-3h0m0-3h0m-3 10h0m-3-6h0m-7-2h0m-6 9h0m-1-7h0m-3 5h0m-8-6h0m-4-2h0m1 21h0m12 2h0m2-3h0m10 4h0m2-9h0m0 3h0m3-5h0m2 6h0m5 7h0m1-13h0m0 9h0m2 1h0m2 2h0m0 2h0m4-14h0m4 3h0m2 7h0m0-6h0m3 9h0m1-5h0m4 1h0m4-3h0m1-2h0m1-4h0m1 4h0m3-1h0m0-3h0m1 11h0m3-10h0m0 2h0m2 7h0m2-1h0m2-7h0m2 4h0m1 0h0m1 4h0m2-1h0m1 2h0m6 1h0m2-9h0m0 3h0m3 7h0m4-13h0m2 13h0m2-6h0m4-4h0m5 7h0m0 3h0m7-8h0m1 4h0m3-7h0m1 4h0m1 3h0m0-9h0m0 4h0m2 3h0m3-2h0m4 8h0m11-2h0m3-1h0m6 0h0m4-10h0m9 10h0m9-4h0m17 1h0m11-3h0m16 21h0m-63-8h0m-4 8h0m-9-8h0m0-2h0m-3 6h0m-1 0h0m-7 1h0m-3-6h0m-1 10h0m-2-8h0m-2-3h0m0 13h0m0-7h0m-3-1h0m-4 3h0m-1-3h0m-1 0h0m-1 7h0m-4 2h0m-7-8h0m-1 0h0m-1 1h0m0 7h0m-9-14h0m-4 12h0m-2 2h0m-1-10h0m-5 5h0m0 5h0m-8-7h0m-1-7h0m0 12h0m-1-8h0m-2 9h0m0-9h0m-2 0h0m-3 4h0m-3 0h0m-1 6h0m-1-7h0m-2 1h0m-2 1h0m-2 0h0m-6-3h0m-1 4h0m-2-2h0m-5 1h0m-1-3h0m-4-1h0m-1 4h0m-1-2h0m-9 3h0m-15-8h0m-4 11h0m2 11h0m0 3h0m14-12h0m1 2h0m3 2h0m2-1h0m11 9h0m2 2h0m3-2h0m4-4h0m5-6h0m2 11h0m2-7h0m4 0h0m4 5h0m0-8h0m1 2h0m1 5h0m2 1h0m1-6h0m6-1h0m2 8h0m2 2h0m2-3h0m3-9h0m1 8h0m3-7h0m3 1h0m2-1h0m2-3h0m3 10h0m4-10h0m0 12h0m2-11h0m3 11h0m0-9h0m2-1h0m4 9h0m2-7h0m3 1h0m0-5h0m3 0h0m0 1h0m2 1h0m5 3h0m1 0h0m1 3h0m1 1h0m1 5h0m0-8h0m4 1h0m1-2h0m4-4h0m2 5h0m0 2h0m0-4h0m8 2h0m24-6h0m45 21h0m-31-3h0m-5 10h0m-27-1h0m-6-12h0m-2 5h0m-7 3h0m-3 6h0m-1-14h0m-5 2h0m-1-1h0m-4 12h0m-1-6h0m-5-4h0m-14 11h0m-5-5h0m-2-3h0m-4 1h0m-3 2h0m-4-8h0m-1 13h0m-1-8h0m-12-5h0m-4 3h0m-7 6h0m-1-5h0m-4-2h0m-1 5h0m-6 2h0m0 2h0m-2-8h0m-2 9h0m-8-3h0m-30-2h0m19 15h0m8 4h0m3-10h0m3 8h0m1 1h0m1-1h0m9 4h0m1-4h0m4 1h0m11-11h0m11 1h0m1 2h0m4 5h0m6-8h0m2 4h0m5 9h0m1-10h0m1 5h0m4-7h0m1 11h0m10-7h0m4 4h0m2-2h0m1 2h0m5-4h0m6 9h0m6-5h0m29 0h0m8-3h0m13 3h0m-16 11h0m-13 2h0m-10-4h0m-15 3h0m-7 3h0m-2-4h0m-17 2h0m-10-6h0m-1 13h0m-1 0h0m-2-11h0m-6 9h0m-4-12h0m0 14h0m-5-10h0m0 6h0m-3 0h0m-15-6h0m-1 3h0m-3-2h0m-24-5h0m-5 2h0m15 13h0m11 2h0m16-2h0m4 3h0m13 5h0m31 4h0m1-4h0m7-7h0m17 3h0m0-1h0m51 1h0m-41 14h0m-12 2h0m-6-5h0m-4 5h0m-11-1h0m-15 0h0m-1 10h0m-28-7h0m-2-3h0" stroke="#f55528" stroke-width="6" stroke-linecap="round" fill="none"/>
<path transform="scale(0.25)" d="M446 506h0m-15-9h0m-10 14h0m7 7h0m6 15h0m-2 1h0m-1-8h0m-10 1h0m-3 2h0m-1 5h0m3 15h0m-8 10h0m-4-1h0m-1 4h0m-5-6h0m-5 19h0m1 2h0m4-3h0m9-3h0m0 6h0m5-7h0m2 5h0m-6 14h0m-4 9h0m-19 0h0m-10 13h0m4 3h0m5-1h0m11 0h0m4 1h0m5-12h0m2-1h0m0 6h0m8 6h0m0 5h0m0 5h0m-2-6h0m-10 2h0m-4 3h0m-3-7h0m-2 12h0m-7-6h0m-2 8h0m-1-2h0m-1-7h0m-1-2h0m-1 0h0m-1 11h0m-1-14h0m-1 6h0m-10 4h0m-14-1h0m8 11h0m4-3h0m11 0h0m2 9h0m4-10h0m6 0h0m4 2h0m3 3h0m3 4h0m0-7h0m4 5h0m-54 10h0m-5 1h0" stroke="#55cd7d" stroke-width="6" stroke-linecap="round" fill="none"/>
<path transform="scale(0.25)" d="M319 266h0m-13 7h0m16 4h0m-25 40h0m-42 0h0m16 24h0m-21 6h0m-11 1h0m-5 7h0m-5 10h0m5 4h0m15-4h0m2 8h0m0-5h0m4-3h0m14 7h0m38-6h0m93-6h0m-79 24h0m-70 1h0m-1-6h0m-6 9h0m-2-9h0m-3 7h0m-6-6h0m-6 0h0m-7 0h0m-3 22h0m11-10h0m13 3h0m0 2h0m13 0h0m9-6h0m125 8h0m-72 18h0m-74-2h0m-6-6h0m-1 1h0m-4 3h0m0-4h0m-5 8h0m-5-3h0m-4-8h0m-1 4h0m-1 7h0m-5 16h0m2-12h0m1 7h0m4-3h0m1 4h0m1-4h0m2 7h0m2 1h0m72 11h0m-61-3h0m-2-3h0m-2 2h0m0 3h0m-2 3h0m-1-11h0m-2 8h0m-1-1h0m0 6h0m-1-12h0m-2 4h0m-2 7h0m-7-3h0m-1 7h0m2 13h0m1-3h0m5-6h0m0 4h0m1 4h0m1-8h0m1-2h0m1 2h0m1 2h0m1-7h0m0 14h0m2-10h0m1 1h0m4-2h0m1 6h0m1-7h0m13 9h0m86-10h0m-62 27h0m-39-6h0m-2 5h0m-5 0h0m-2-5h0m0-3h0m-3 9h0m-1-3h0m0-7h0m0-3h0m-2 4h0m-5-1h0m-5 0h0m-2 11h0m0 15h0m1-14h0m3 5h0m0 9h0m2-14h0m0 11h0m2-8h0m1 7h0m0-5h0m1 0h0m0 8h0m2-8h0m0 8h0m0-3h0m2-10h0m0 3h0m3 11h0m1-14h0m0 11h0m3-9h0m2 12h0m3-13h0m1 11h0m57 1h0m25-5h0m95 14h0m-70-6h0m-109 8h0m-4 2h0m-1 1h0m0-1h0m-4-7h0m-1 9h0m0-5h0m-4 1h0m-2 4h0m-2 0h0m-4-1h0m-1-10h0m-3 7h0m-2 3h0m4 8h0m2 1h0m2 0h0m3 5h0m3-10h0m1 10h0m2 3h0m1-2h0m7-2h0m0-1h0m2-5h0m107 5h0m2 5h0m86 12h0m-172-1h0m-27-2h0m-9 3h0m0-10h0m0 13h0m-4-14h0m-2 4h0m-7 8h0m0-5h0m-1-3h0m-1 1h0m-1-3h0m13 19h0m5-1h0m6-5h0m3 13h0m19 1h0m-9 8h0m-8 0h0m-8-7h0m0 2h0m-3 1h0m0-3h0m-1 8h0m-1 4h0m-1-3h0m-4-9h0m-6 20h0m1 3h0m6-7h0m8 4h0m0-3h0m0 6h0m1-3h0m4-3h0m1 10h0m0-12h0m0 2h0m2 10h0m1 2h0m0-13h0m1 13h0m4-10h0m1 9h0m2-9h0m1 5h0m8-4h0m14-1h0m-5 22h0m-2 1h0m-5-10h0m-3-2h0m0 11h0m-2 2h0m-3-2h0m-1-3h0m-2-3h0m-3 6h0m-1-3h0m-3-8h0m-2 9h0m-1-8h0m-2 4h0m-2 3h0m0-3h0m-1 7h0m-1 1h0m-1-13h0m-2 6h0m6 14h0m2 0h0m3 8h0m1-10h0m4 10h0m0-2h0m1-2h0m0 3h0m1 2h0m2-10h0m1 9h0m1-13h0m1 13h0m3-9h0m2 10h0m3-6h0m1-2h0m2 6h0m8-2h0m8-1h0m80 12h0m-60 0h0m-18-2h0m-7 6h0m-8-3h0m-2 1h0m-1-2h0m-1 4h0m-8 3h0m-1-9h0m-4-4h0m13 25h0m4-10h0m1 10h0m2-6h0m1-2h0m0 9h0m2 1h0m1-9h0m2 1h0m5 6h0m3 1h0m1 3h0m2-5h0m3 4h0m4-5h0m0 2h0m1-3h0m0-3h0m1 6h0m4-4h0m3 2h0m7 2h0m0-3h0m7 2h0m1 1h0m13-5h0m-21 16h0m-2 2h0m-1 3h0m-3 0h0m-1-10h0m-1 8h0m-3-4h0m-20 0h0" stroke="#6e5fd2" stroke-width="6" stroke-linecap="round" fill="none"/>
<path transform="scale(0.25)" d="M535 126h0m2 7h0m4-7h0m32 0h0m0 7h0m5-9h0m25-2h0m0-1h0m1 1h0m1 6h0m7 11h0m-4 2h0m-2-6h0m-2 14h0m0-6h0m-5-2h0m-8-1h0m-3 3h0m-3-1h0m0 1h0m-15-7h0m-29 9h0m-8 2h0m-2 2h0m-22 2h0m22 5h0m4-4h0m4 10h0m2 0h0m18 2h0m3-9h0m0 9h0m5-11h0m2 1h0m2-1h0m7 5h0m8 2h0m1 4h0m0-1h0m1 1h0m0-2h0m1-2h0m2-1h0m18-7h0m3 10h0m1 2h0m1-3h0m1 3h0m1-5h0m5-9h0m6 2h0m2-1h0m1 7h0m0 4h0m1-3h0m0-8h0m4 0h0m5 9h0m3-9h0m8 14h0m0 2h0m-4 3h0m-7-3h0m-6 11h0m-2-8h0m-6 6h0m-1-1h0m-3-7h0m-7 1h0m-5 10h0m0-1h0m-4 1h0m-2-13h0m-1 4h0m-5 5h0m-2-6h0m-6 9h0m-1-8h0m-4-3h0m-5 10h0m-3 2h0m-2-2h0m-1-12h0m-16 11h0m-14 1h0m0-2h0m-12-1h0m-1-2h0m-6 5h0m-1-12h0m-7 6h0m-7 0h0m-13-3h0m42 16h0m1 4h0m6-8h0m4 8h0m0 4h0m8-4h0m0-6h0m8 3h0m1-2h0m3 10h0m1-10h0m2 1h0m9-1h0m0 1h0m4-3h0m1 7h0m1 5h0m3 0h0m4-11h0m0 9h0m0-5h0m3-1h0m3-3h0m1 2h0m1 4h0m0-1h0m1-1h0m1 0h0m7 8h0m0-14h0m6 1h0m3 0h0m3-1h0m15 3h0m3-1h0m8-2h0m4 3h0m4 6h0m4 0h0m14 14h0m-8-3h0m-3 7h0m-2-9h0m0 4h0m-2 7h0m-1-1h0m-5-2h0m-2-5h0m-4 7h0m-16-4h0m-1-1h0m-8-2h0m-2 6h0m-1-7h0m-2-2h0m-2 9h0m-1 1h0m0-11h0m-9 9h0m-2-7h0m-3-4h0m-1 7h0m0-6h0m-1 9h0m-2-3h0m-4-6h0m-3 1h0m0 9h0m0 2h0m-5-2h0m-2-3h0m-2 4h0m-1-12h0m-1 4h0m-1-2h0m-1 8h0m-3-4h0m-1 8h0m-2-12h0m-1 4h0m-5-4h0m-3 9h0m-2-5h0m-2-3h0m-15 9h0m-6-4h0m0 3h0m-3-4h0m-1 6h0m-2-12h0m-10 12h0m-16-10h0m-2 8h0m2 18h0m28-5h0m11 1h0m14 0h0m1-4h0m4 3h0m1-1h0m6-4h0m0-1h0m0 4h0m1 2h0m1-2h0m0-6h0m1 4h0m6 5h0m0-5h0m3 0h0m1-5h0m8 1h0m2 1h0m1-2h0m1 11h0m3-11h0m0 4h0m1 4h0m7 4h0m3 0h0m3 1h0m3-2h0m1-11h0m4 0h0m1 13h0m0-1h0m1-9h0m5 1h0m5 9h0m0 1h0m1-8h0m0-3h0m2 3h0m1-6h0m2 2h0m5-1h0m1 10h0m1-7h0m5 0h0m1 1h0m6 4h0m8-9h0m0 13h0m5-5h0m6-7h0m6 5h0m9 10h0m-2 2h0m-17 0h0m-1-1h0m-1-2h0m-6 5h0m-5 7h0m-4-2h0m-1-3h0m0-6h0m0 8h0m-1 1h0m-3 4h0m-2-11h0m-3 6h0m-7 5h0m-3-8h0m-12 0h0m-1 7h0m-2-11h0m-1 5h0m0-5h0m-4 4h0m-3 4h0m0-10h0m-3 9h0m-2-9h0m-9 3h0m-2-1h0m-2-2h0m-5 5h0m-5 1h0m-2-4h0m-9 5h0m-1-1h0m-1 4h0m-4-7h0m-5 9h0m-5-3h0m-22-8h0m-2 6h0m-3-6h0m-3 6h0m-3 1h0m0 4h0m10 10h0m2 2h0m1-9h0m7 4h0m7-3h0m7 2h0m3-1h0m1 6h0m0-8h0m4 1h0m4 13h0m1-10h0m9-3h0m1 9h0m2-4h0m2 5h0m10-11h0m1 7h0m1 3h0m0-1h0m6 1h0m1-2h0m6 4h0m6-12h0m2 7h0m2 1h0m13-4h0m0 6h0m5 3h0m4-11h0m12 4h0m5 1h0m0 7h0m5-5h0m5-1h0m3-8h0m2 0h0m4 4h0m3 7h0m7 3h0m2-12h0m0 4h0m6 16h0m-3-4h0m-4 11h0m-21-13h0m-5 0h0m-5 4h0m-2-1h0m-6 3h0m0 3h0m-2-9h0m0 10h0m-9-7h0m-16 10h0m-1-10h0m-1-3h0m-1 0h0m-1 8h0m-2 0h0m-6-5h0m-1 8h0m-1-7h0m-2 4h0m-5-1h0m-2 4h0m-2-9h0m-11-2h0m-2 0h0m-9 2h0m-12 4h0m-21 5h0m-4-1h0m-5 0h0m-13-8h0m-5 11h0m-11-8h0m-13 12h0m5 8h0m9-3h0m6 2h0m9-8h0m35 4h0m7-4h0m1 2h0m13 2h0m10-5h0m5 8h0m12-6h0m5 8h0m5-4h0m2-4h0m1 0h0m3 11h0m1-12h0m10 10h0m1-8h0m3 4h0m0 3h0m8-6h0m2-1h0m6 4h0m2-5h0m12 10h0m0-10h0m13 4h0m5 3h0m0-1h0m6-5h0m4 2h0m1 8h0m10-13h0m14 9h0m-1 5h0m-7 4h0m-12 9h0m-6-4h0m-6-6h0m-3 5h0m-3-3h0m0-1h0m-6 1h0m-3-1h0m-2 0h0m-1 5h0m-10-1h0m-2-7h0m0-1h0m-3 12h0m-12-10h0m0 9h0m-1-7h0m-2 7h0m-12-4h0m-5 3h0m-7-10h0m-2 4h0m-21 9h0m-7 1h0m-15-14h0m-39 8h0m-7-3h0m-1 2h0m-9 5h0m-10-8h0m-12-2h0m-20 0h0m-35 17h0m60-1h0m9 3h0m21 2h0m58-7h0m11 6h0m9 4h0m6 2h0m7-1h0m8 2h0m4-7h0m37 0h0m7-4h0m15 8h0m3 1h0m8 2h0m0-3h0m2 3h0m13-2h0m15-7h0m-4 16h0m-6-3h0m-6 5h0m-10-3h0m-15-1h0m-1 4h0m-8 5h0m-1-13h0m0 3h0m-6 5h0m-6 6h0m-8-12h0m-7 3h0m-3 8h0m-4-5h0m-3-1h0m-1 5h0m-2-11h0m0-1h0m-18 7h0m-9-1h0m-8-6h0m-5 3h0m-6 6h0m-13 3h0m-31 2h0m-10-9h0m-23-1h0m-10 7h0m-8-10h0m-3 7h0m-44-6h0m64 23h0m9 3h0m0-1h0m12 2h0m12-8h0m31-3h0m23 8h0m11 0h0m1-7h0m13-2h0m14 6h0m3-3h0m13-4h0m9 5h0m7 4h0m7-9h0m15-1h0m1 5h0m8 8h0m6-10h0m6-3h0m7 4h0m4-4h0m7 5h0m-9 10h0m-26 13h0m-8-7h0m-2-5h0m-2 6h0m-11-2h0m-16-5h0m-3 5h0m-40 0h0m-3 8h0m-7-1h0m-8-4h0m-4 6h0m-16 0h0m-9-1h0m-12 0h0m-29-7h0m-143 23h0m101 0h0m22-14h0m14 12h0m22-9h0m3 11h0m2-13h0m9 4h0m11 4h0m23-8h0m3 3h0m15 6h0m32 3h0m3-12h0m5 2h0m3 4h0m8-1h0m16 0h0m8 6h0m6-7h0m17 5h0m15-8h0m9 16h0m-16 0h0m-2-3h0m-11 6h0m0-1h0m-24 8h0m-14-9h0m-42 1h0m-18 0h0m-19 1h0m-5 3h0m-7 2h0m-4-6h0m-28 6h0m-6-4h0m-7 8h0m12 4h0m1 9h0m19-11h0m2 10h0m26-10h0m8 7h0m23-4h0m53-1h0m31-2h0m13 6h0m3-6h0m10 4h0m1 22h0m-6-4h0m-6 2h0m-2-11h0m0 8h0m-2 3h0m0-2h0m-3 1h0m-2 3h0m-15-3h0m-6 4h0m-3-10h0m-29 5h0m-23 4h0m-12 1h0m-20-8h0m-4 6h0m-15 0h0m-9-2h0m-46-10h0m-50 8h0m99 11h0m20 9h0m32-1h0m5-3h0m21 5h0m13 0h0m22-13h0m19 1h0m15 4h0m1-1h0m20-5h0m3 9h0m-11 8h0m-16 5h0m-17-5h0m-14-2h0m-6 0h0m-2 3h0m-15 6h0m-35 3h0m-41-3h0m-13-9h0m-7 7h0m-5 4h0m-82 17h0m10-12h0m122 12h0m13-1h0m11-11h0m31 4h0m3 5h0m27 3h0m3-7h0m19 1h0m4-3h0m6 1h0m2-3h0m8 1h0m1 3h0m-48 12h0m-105 5h0m-10 14h0m52 5h0m69-8h0m13-3h0m15 4h0m8 7h0m1 0h0m2 3h0m-1 0h0m-5 1h0m-22 8h0m-56 3h0m52 8h0m9-1h0m5 2h0m11 1h0m-13 14h0m-16-1h0m-4 3h0m-1-6h0m-7 10h0m-1 9h0m17 4h0m3-6h0m5 3h0m10-1h0m10 6h0m2 0h0m4 2h0m8-8h0m-30 14h0m-7 11h0m29-1h0" stroke="#f0389a" stroke-width="4.8" stroke-linecap="round" fill="none"/>
<path transform="scale(0.25)" d="M675 232h0m-30 20h0m47 0h0m14 11h0m-26-1h0m-15 7h0m-7-1h0m-10-4h0m-6-1h0m-34 7h0m16 14h0m73-3h0m4-5h0m7-1h0m1 15h0m-9 3h0m-28 3h0m-4-7h0m-7 0h0m-11 4h0m-57 16h0m12-7h0m45 7h0m31 1h0m8-9h0m5 11h0m20-5h0m16 20h0m-11-6h0m-10-2h0m-13 5h0m-3-4h0m-8 6h0m-1 2h0m-11-1h0m-5-2h0m-2-3h0m-28 2h0m-11 10h0m10 9h0m31-8h0m3-3h0m1-2h0m10 7h0m3 7h0m42-11h0m14 24h0m-8-6h0m-4 1h0m-6-7h0m-5 6h0m-2 7h0m-9-11h0m-1 11h0m-1-5h0m-5-5h0m-2 10h0m-4-13h0m-5 10h0m-5-4h0m-1 3h0m-3-8h0m0 8h0m-1 0h0m-6-7h0m-3 12h0m-3-6h0m-35-4h0m-21 7h0m-23 8h0m43 4h0m17 1h0m0 3h0m9-3h0m6 2h0m0-3h0m1-8h0m4 1h0m8 11h0m0-9h0m1-1h0m5 12h0m0-1h0m1-8h0m2 0h0m10 9h0m5-3h0m10-4h0m2 2h0m26 4h0m-12 3h0m-6 0h0m-12-1h0m-2 7h0m-5-7h0m0 3h0m-29-3h0m0 2h0m-1 12h0m-36-3h0m-2-10h0m-16 9h0m-9 2h0m-12-2h0m23 16h0m20 1h0m16-6h0m1-3h0m9-1h0m4 2h0m1 10h0m5-2h0m3-10h0m1 1h0m2 5h0m9-4h0m21 4h0m1-1h0m4 2h0m5-3h0m0-2h0m4-1h0m0-1h0m1 3h0m2 9h0m1 6h0m-1 8h0m-4-3h0m-2 4h0m-11 0h0m-5-3h0m-10-1h0m-4 3h0m-2-11h0m0 4h0m0-1h0m-2-5h0m-2 4h0m-3 3h0m-3 0h0m-1-7h0m-5 3h0m-2-1h0m-5-1h0m-5 7h0m-4-5h0m-1 0h0m-14 4h0m-10-1h0m-1 2h0m-52 16h0m2-3h0m52-2h0m0-2h0m14 6h0m9-3h0m6 0h0m3 7h0m7-11h0m1 10h0m3 1h0m4 2h0m3-1h0m1-12h0m3 10h0m2 0h0m1-4h0m0-5h0m1 10h0m0-10h0m3 6h0m1 0h0m2-6h0m4 8h0m4 2h0m2-9h0m0-1h0m4 8h0m2 0h0m1-5h0m6 1h0m2 8h0m23-13h0m1 0h0m13 24h0m-6 4h0m-17-7h0m-10 3h0m-1 2h0m-2-3h0m-1-8h0m-5 7h0m-16 6h0m-4-4h0m-8-10h0m-7 6h0m-2-6h0m-1 13h0m0-2h0m-1-5h0m-4 5h0m-1 2h0m-9-3h0m-7-6h0m-2 3h0m-1 4h0m-12-9h0m-3 11h0m-22-3h0m-22 0h0m-25 7h0m37 7h0m31 0h0m10-6h0m8 6h0m5-6h0m4 3h0m1 0h0m2 1h0m10 0h0m6 2h0m3-7h0m5 2h0m4 3h0m5-4h0m0 7h0m1-4h0m1 8h0m2-2h0m2-8h0m0-1h0m1 7h0m3-2h0m1-3h0m1 8h0m0-11h0m7 3h0m3 6h0m2-1h0m3-10h0m16 8h0m7 2h0m5 5h0m-11 3h0m-3 6h0m-7 5h0m-19 0h0m-1-4h0m-3-1h0m-1 3h0m-4-7h0m-1 2h0m-2 5h0m-1 0h0m0-10h0m-5 12h0m-3-7h0m-2-3h0m-5 0h0m-2 5h0m-9 5h0m-6-14h0m-19 4h0m11 17h0m20 1h0m3 3h0m1 4h0m0-5h0m3 4h0m6-3h0m4-10h0m15 14h0m9-5h0m6-2h0m9 5h0m2 10h0m-4-3h0m-2 2h0m-8-2h0m-2 0h0m-1 0h0m-1-4h0m-3 5h0m-1-5h0m-1 14h0m-7 0h0m-1-5h0m-1 1h0m-2 0h0m-1-6h0m-7-4h0m-16 2h0m-17 6h0m-9 3h0m-50 16h0m72-1h0m5-6h0m4 4h0m0-2h0m5 4h0m0 3h0m2-7h0m3-1h0m4 8h0m7-11h0m4 10h0m3-13h0m2 2h0m3 12h0m4-4h0m1-1h0m1 2h0m3-4h0m9-3h0m1 9h0m0-12h0m1 9h0m0-5h0m13 24h0m-8-5h0m-9-3h0m-6 0h0m-3 3h0m0-5h0m-1 0h0m-3 10h0m-3-1h0m-3 1h0m-3-5h0m-3 3h0m-1-5h0m-2 4h0m-3 3h0m-11-13h0m-12 4h0m-5 8h0m-14 1h0m-14-11h0m23 14h0m5 12h0m11-1h0m5-12h0m0 12h0m5-9h0m8 6h0m1-10h0m2 4h0m4 2h0m4-2h0m3 8h0m7 1h0m5-8h0m15 19h0m0 4h0m-2-2h0m-3-7h0m-4-4h0m-1 10h0m-3 2h0m-1-9h0m0-1h0m-2 2h0m-3-1h0m-1 1h0m-1-1h0m-13-1h0m-2 12h0m0-1h0m0-2h0m-4 3h0m-2-1h0m-1-12h0m0-1h0m-1 3h0m-1 6h0m-5-8h0m-4-1h0m-1 14h0m-3-8h0m-5 5h0m-5 0h0m-5-10h0m-24 2h0m50 18h0m3 4h0m1-5h0m1 4h0m4 1h0m1 4h0m2-5h0m3-7h0m3 7h0m1 2h0m1-6h0m0 1h0m10 7h0m3-13h0m0 8h0m0-7h0m3 9h0m10-1h0m3-7h0m-12 23h0m-7-6h0m-1 5h0m-1 5h0m-2-8h0m-3-4h0m-2-2h0m0 4h0m-5 7h0m0-3h0m-3-1h0m-3 1h0m-5-5h0m-2-1h0m-3 3h0m-2 0h0m-4-1h0m-5-1h0m-6-2h0m27 15h0m3 8h0m4 3h0m2-4h0m13 6h0" stroke="#f0c896" stroke-width="4.8" stroke-linecap="round" fill="none"/>
<path transform="scale(0.25)" d="M555 381h0m57 12h0m-13 26h0m-20-2h0m-10-3h0m-4 3h0m-37-10h0m-10 12h0m-1-11h0m3 17h0m52-3h0m15 6h0m-14 19h0m-24-9h0m-15 9h0m-3-8h0m-7 10h0m-20-10h0m-3 2h0m-20-5h0m-36 15h0m9 9h0m37-4h0m2 8h0m4-8h0m5 4h0m8-2h0m6 2h0m9 0h0m7-6h0m5-1h0m7 1h0m27 8h0m0-7h0m3 0h0m7-5h0m12 12h0m86-9h0m-36 12h0m-16 8h0m-52-6h0m-21-2h0m-4 13h0m-1-12h0m-3 5h0m-1 5h0m-8-1h0m-2 2h0m-8 0h0m-3-7h0m-12 7h0m0-5h0m-5-4h0m-1 0h0m-1 0h0m-14-3h0m-2 7h0m-9-1h0m-7-5h0m-9 9h0m-1-7h0m0-1h0m12 17h0m19-4h0m8 12h0m2-11h0m2 1h0m6 2h0m0-1h0m3 9h0m1-6h0m1 7h0m0-10h0m2 1h0m2 3h0m0-5h0m0 8h0m1-2h0m0-6h0m2 11h0m3-2h0m0-7h0m0 5h0m2 3h0m1-12h0m0 11h0m1-11h0m8 7h0m3 3h0m3-1h0m0-1h0m11 0h0m0 5h0m2-10h0m1 10h0m2-1h0m10-12h0m22 12h0m16-6h0m75 1h0m-82 17h0m-22-7h0m-4 7h0m-10-6h0m-6 1h0m-1-2h0m-4 8h0m-3-9h0m0 6h0m-5 7h0m0-14h0m-7 1h0m-3 1h0m-1 8h0m-6 0h0m-5-9h0m-17-1h0m-1 3h0m-10-2h0m41 15h0m45 7h0" stroke="#5f87eb" stroke-width="4.8" stroke-linecap="round" fill="none"/>
<path transform="scale(0.25)" d="M739 358h0m-55 31h0m-37 0h0m-69 0h0m30 7h0m34 0h0m65 22h0m-51 0h0m-31 1h0m-69 6h0m21-3h0m16 11h0m1-2h0m19 3h0m15-11h0m23 1h0m2 7h0m-18 5h0m-30 7h0m-17-1h0m-29 12h0m47-4h0m8 8h0m3-5h0m12-1h0m27 1h0m-1 20h0m-6 2h0m-1-2h0m-5 2h0m-7 1h0m-7-4h0m-5 2h0m-1 4h0m-15 1h0m-37-13h0m-15 16h0m3 6h0m35 6h0m32-12h0m7 6h0m6 5h0m1-9h0m0 4h0m0-3h0m3 7h0m5-1h0m4-8h0m7 9h0m6-3h0m1-3h0m2 6h0m3-5h0m2 5h0m27 10h0m-2 6h0m-6-9h0m0 3h0m-11 1h0m0-1h0m-13-6h0m-2 4h0m-8 1h0m-6 7h0m-9-5h0m-2-2h0m-12 1h0m0-4h0m-4-1h0m-2-2h0m-6 13h0m-20-5h0m-47 2h0m73 18h0m1-13h0m0 3h0m3 1h0m6 7h0m9-4h0m6 4h0m1-1h0m1-9h0m1 8h0m3 0h0m0-3h0m2 8h0m10-7h0m12-7h0m6 2h0m3 4h0m12 4h0m7-6h0m11 12h0m-9 7h0m-15-6h0m-3 1h0m-6-3h0m-8 8h0m-11-5h0m-9 7h0m-10-3h0m-1-4h0m-1-1h0m-3 6h0m-2 3h0m-4-2h0m3 6h0m23 11h0m2-8h0m0 11h0m0-3h0m0-3h0m3-7h0m9 8h0m1-5h0m27 6h0m27 7h0m-4 5h0m-30 6h0m-6-10h0m-2-1h0m-5 11h0m-4-7h0m-2 8h0m-5-5h0m-3-1h0m-2 1h0m-4-7h0m-5 7h0m9 6h0m2 2h0m2 8h0m16 1h0m2-6h0m10 6h0m2-6h0m2 1h0m2-2h0m0 2h0m2 4h0m11-6h0m-2 23h0m-8 1h0m-10-10h0m-1 2h0m-1 7h0m-1-12h0m0 3h0m-1-3h0m0 10h0m-2 1h0m-6-5h0m10 11h0m5 3h0m23-4h0m1 11h0m4-9h0" stroke="#82fabe" stroke-width="4.8" stroke-linecap="round" fill="none"/>
<path transform="scale(0.25)" d="M479 247h0m19 7h0m71-1h0m7-7h0m-26 15h0m-7 4h0m-4-10h0m-34 21h0m12 6h0m20-11h0m16 11h0m7-7h0m2 4h0m31 6h0m-23 0h0m-6 1h0m-12 0h0m-2 5h0m-14 4h0m-7 2h0m-11 0h0m-31-5h0m-11 7h0m-12-6h0m-1 21h0m21-2h0m19-3h0m11-4h0m21 6h0m5-5h0m2 6h0m1-5h0m1 1h0m2-1h0m5 5h0m29 1h0m29 0h0m16-6h0m4-5h0m30 13h0m-73 0h0m-9 14h0m-18-7h0m-1 6h0m-13-2h0m-4-1h0m-4-7h0m-4 7h0m-11-10h0m-4 9h0m-8-1h0m-4-2h0m-81-3h0m28 21h0m10 0h0m0-5h0m12 2h0m8-5h0m39 10h0m6-2h0m16-8h0m11 8h0m3-7h0m5 6h0m15-3h0m6 3h0m9-4h0m16 3h0m1-2h0m14-2h0m8 9h0m1-11h0m4 3h0m4-1h0m8 7h0m-1 10h0m-13-5h0m-3 5h0m-23 8h0m-18-12h0m-3 6h0m-1 2h0m-3-4h0m-5-3h0m-8 7h0m-6-7h0m-7 10h0m-4-7h0m-1 2h0m-6 4h0m-2 2h0m-1-5h0m-12-6h0m0 4h0m-9 1h0m-14-2h0m-8 8h0m-19 1h0m-2-10h0m20 22h0m1-11h0m12 1h0m3 3h0m1 2h0m5 7h0m5-10h0m1 2h0m17 5h0m3 2h0m8-4h0m0-3h0m8 3h0m5-6h0m12 0h0m4 1h0m1 5h0m6 6h0m8-3h0m56-1h0m9 2h0m-51 14h0m-9 1h0m-1-10h0m-29 0h0m-7 5h0m-5 1h0m-10 3h0m-5-2h0m-7-2h0m-20 6h0m-4-2h0m-7-3h0m-24-2h0m-5 7h0m44 14h0m2-2h0m5-3h0m0 2h0m7-5h0m27 9h0m4-6h0m2-3h0m3-2h0m0-1h0m3 9h0m4-4h0m9-6h0m1 6h0m6 8h0m10-1h0m30-3h0m22 1h0m22 4h0m-5 12h0m-17-12h0m-10 7h0m-7-6h0m-2 3h0m-26 0h0m-6-1h0m-13-1h0m0 5h0m-7-5h0m-7 4h0m-9 2h0m-1-4h0m-10 5h0m-9-8h0m-22 1h0m-13 11h0m-6-6h0m-17 12h0m23 10h0m13-12h0m13 1h0m3 9h0m8-9h0m12 4h0m2-2h0m0-5h0m7 10h0m3-3h0m3-7h0m1 10h0m6-5h0m11-5h0m3 0h0m5 9h0m27 4h0m3-2h0m24-9h0m14 16h0m-38 4h0m-1-3h0m-15 6h0m-37-9h0m-18 11h0m-1-10h0m-30 8h0m50 12h0m11-3h0m8 10h0m40-3h0m36-2h0m-55 13h0m-10-3h0m-20-2h0m-7 1h0m-24-2h0m-5 0h0m64 19h0m10 13h0m-115-2h0m73 22h0m64-1h0m-17 18h0" stroke="#87afe1" stroke-width="4.8" stroke-linecap="round" fill="none"/>
<path transform="scale(0.25)" d="M525 145h0m-3 3h0m-10-3h0m-197 14h0m215-1h0m29 1h0m46 1h0m12 10h0m-9-3h0m-73 5h0m-2 7h0m-26-14h0m-14 8h0m-9 3h0m-3-2h0m-2-1h0m-86 5h0m-3-1h0m-8 1h0m-1 1h0m-7-3h0m-17 2h0m-27-6h0m-36 20h0m23-3h0m12-2h0m13 2h0m11-9h0m2 0h0m2 9h0m2-7h0m5 6h0m21 2h0m2-2h0m12-8h0m2 3h0m27 11h0m6-1h0m15-6h0m0-2h0m7 3h0m8-7h0m3 5h0m1 5h0m3-3h0m5 6h0m0-5h0m11 5h0m2-10h0m1 4h0m4 3h0m5-5h0m0 6h0m12-12h0m2 10h0m3 4h0m13-3h0m0-3h0m17 6h0m11-9h0m-16 12h0m-15 6h0m-4-8h0m-2 0h0m-3 11h0m0-5h0m0 8h0m-5-12h0m-3 9h0m-9-7h0m-5 2h0m-2-5h0m-8 5h0m-4-2h0m-1-3h0m-7 4h0m-6-1h0m-5 7h0m-7-1h0m-14-9h0m-13 5h0m-5 7h0m-3-7h0m-3-3h0m-5 0h0m-16-1h0m-11 2h0m-2 9h0m-7-5h0m-2-3h0m-10 6h0m-2-1h0m-7-3h0m-8-2h0m-2 2h0m-1 2h0m-5 3h0m-2-1h0m-2-10h0m-5 7h0m-17 1h0m-3 3h0m-3 0h0m-6-4h0m-21 6h0m-10 13h0m8-5h0m1-5h0m13 8h0m6 4h0m2-3h0m14-4h0m6 6h0m4-11h0m12 4h0m4-1h0m5 6h0m5 2h0m3-1h0m2-2h0m11 0h0m0-7h0m0 3h0m2 2h0m0-5h0m4 6h0m5 1h0m1-10h0m1 7h0m14 7h0m1-7h0m5 5h0m3-8h0m12 9h0m3 0h0m9-8h0m3 3h0m2-7h0m3 8h0m5-4h0m21 9h0m1-3h0m0-1h0m1-3h0m0-1h0m4 3h0m0-1h0m2 4h0m0-8h0m3 1h0m1-5h0m7 1h0m14 13h0m5 0h0m13-12h0m6 5h0m1-3h0m14 7h0m16 2h0m9-9h0m6-3h0m43 5h0m19 14h0m-34-1h0m-39 5h0m-3 3h0m-5-6h0m-13 7h0m-2-1h0m-5-8h0m-5 7h0m-1-6h0m-4 7h0m-8-10h0m-7 12h0m-1-14h0m-5 10h0m-1-4h0m-2 3h0m-4-4h0m-8 8h0m0-6h0m-5-7h0m-8 14h0m0-6h0m-3 5h0m0-1h0m0-7h0m-1 1h0m-4-6h0m-3 3h0m0-1h0m-3 9h0m-5-1h0m0-6h0m0 9h0m0-2h0m-3 1h0m-1-12h0m-2 4h0m0 9h0m-2-6h0m-1-4h0m-1-3h0m-2 9h0m-1 2h0m-2-10h0m-1 9h0m-2-10h0m-6 1h0m-1 2h0m-4 8h0m-9-7h0m-4-2h0m0 7h0m-4 1h0m-4-7h0m-3 8h0m-5-11h0m-2 4h0m-1 9h0m-2-8h0m-5 0h0m-1 0h0m-7 5h0m0-4h0m-6 5h0m-1-8h0m-12 9h0m-2-4h0m-1-6h0m-7 0h0m-1 1h0m-6 10h0m-9-5h0m-5 2h0m-2 0h0m-2 1h0m-3-10h0m-11 6h0m-2 4h0m-16-10h0m-14 10h0m-14 17h0m16-4h0m2-6h0m1 5h0m23-7h0m2 5h0m2 5h0m23-5h0m2-1h0m5 7h0m7-9h0m10-1h0m2 8h0m6-10h0m1 3h0m0-2h0m2 10h0m0-11h0m4 13h0m5-9h0m0 9h0m3 1h0m4-2h0m4 2h0m2-4h0m4-1h0m2-8h0m2 10h0m0-11h0m4 13h0m1-3h0m1-8h0m1 10h0m0-10h0m3 7h0m1 4h0m5 1h0m1-11h0m1 3h0m9 0h0m2 3h0m1-5h0m2-4h0m0 13h0m1-13h0m0 7h0m2 3h0m2-1h0m2-1h0m3 2h0m2 3h0m2-10h0m2 10h0m0-1h0m5-8h0m2 10h0m1-11h0m2 0h0m3-1h0m1 6h0m5 3h0m0-1h0m2-10h0m2 2h0m3 1h0m2 4h0m4-1h0m4-2h0m1-1h0m0 8h0m3 0h0m2-9h0m3 0h0m2 7h0m6-3h0m4 2h0m1 1h0m3 1h0m7-2h0m14 1h0m22-8h0m0 13h0m7-8h0m4 6h0m3-11h0m1 12h0m5-6h0m10-3h0m14-4h0m18 18h0m-80-3h0m-37 3h0m-5 11h0m0-1h0m-5-13h0m-8 3h0m-1 2h0m-6 0h0m0 3h0m-1 0h0m-2 6h0m-2-10h0m-8 8h0m0 1h0m-1-12h0m-8 4h0m-2 8h0m0-5h0m0 2h0m-2-2h0m-3 0h0m0-6h0m0 8h0m-6-9h0m-3 13h0m-4-9h0m-2 7h0m-6-11h0m0 1h0m-1-1h0m-1 12h0m-2-5h0m0 1h0m-7 1h0m-1-5h0m-1 4h0m-3 3h0m-3 0h0m0-5h0m-1-4h0m-4 3h0m-1-2h0m-6 5h0m-3-9h0m-5 2h0m-9 9h0m0-11h0m-7 5h0m-1 2h0m0-5h0m-7 5h0m-1-5h0m-2 12h0m-3-1h0m-3-1h0m0-1h0m-2-5h0m-6-5h0m-6 3h0m0-3h0m-32 1h0m-28 8h0m15 16h0m13-9h0m10 10h0m1-12h0m6 8h0m4-1h0m5 0h0m6-4h0m8-3h0m12 2h0m1 0h0m1 9h0m4-7h0m6 2h0m4-5h0m11 7h0m8-3h0m2-3h0m2 4h0m2 7h0m7-13h0m3 3h0m1 11h0m5-11h0m0 2h0m0 9h0m4 0h0m0-13h0m3 12h0m1-3h0m0-10h0m4 1h0m6 1h0m4 2h0m4 5h0m15-2h0m3 1h0m5-8h0m4 2h0m6-2h0m1 8h0m14-2h0m5 1h0m0-6h0m32 4h0m7-1h0m33-2h0m1 10h0m24-4h0m36 17h0m-9-2h0m-10 2h0m-9 1h0m-5-3h0m-11 3h0m-4-8h0m-36 6h0m-10-7h0m-7 3h0m-12 5h0m-5-7h0m-10 5h0m-25-7h0m-1 1h0m-2 3h0m-9 4h0m-2-1h0m0-1h0m0-7h0m-9 12h0m0-3h0m-6-1h0m-3-5h0m-6 8h0m-5-8h0m-1 11h0m-18-12h0m0 11h0m-8-7h0m-3-6h0m-2 10h0m-4-9h0m-3 1h0m-1 8h0m-2 1h0m-3-4h0m-9-5h0m-1 0h0m-7 2h0m-25 10h0m-2-3h0m-8-9h0m-5 6h0m-19 2h0m-3-6h0m-4-2h0m-9 8h0m-5-5h0m-1-1h0m-22 19h0m23-8h0m21 2h0m24 6h0m4 3h0m14-8h0m23 9h0m4-9h0m11 7h0m5-2h0m0 1h0m10-2h0m2 5h0m2-10h0m5 9h0m1-1h0m1-8h0m5-2h0m7 5h0m6 0h0m2-1h0m3 3h0m25-7h0m8 6h0m4 7h0m9-4h0m3-9h0m44 12h0m0-11h0m4 2h0m15-1h0m5-1h0m2 12h0m20-5h0m4-8h0m3 0h0m8 14h0m10-3h0m2 17h0m-5-10h0m-18 6h0m-10-7h0m-8 9h0m-12-4h0m-15 6h0m-19-4h0m-11-9h0m-6 1h0m-4-1h0m-1 12h0m-21-1h0m-14-1h0m-3 1h0m0-1h0m-4-9h0m-4 4h0m-14 6h0m-5-9h0m-5 2h0m-13-1h0m-5 7h0m-1 4h0m-3-11h0m-10 8h0m-17 3h0m-7-3h0m-4 2h0m-16-12h0m-10 3h0m-16 7h0m-2-2h0m-10 3h0m-13-3h0m-4 3h0m-10 0h0m-1-12h0m-5 4h0m-5 3h0m-29 21h0m37-7h0m10 1h0m11-3h0m24 0h0m7 3h0m0-6h0m1 9h0m15 2h0m2 2h0m5-9h0m1 4h0m15-4h0m1-1h0m0 4h0m4 6h0m6 0h0m2-4h0m0 3h0m1-1h0m7-8h0m6-3h0m7 13h0m1-7h0m10 3h0m2-2h0m16-3h0m9 1h0m51-4h0m16 0h0m2 11h0m14-13h0m3 10h0m4 4h0m20-9h0m9-3h0m33 0h0m-45 14h0m-44 3h0m-14 2h0m-13 1h0m-27 5h0m-9-6h0m-15-2h0m-6 4h0m-12-2h0m-5-4h0m-4 4h0m-4-5h0m-1 3h0m-1 10h0m-9-10h0m-1 6h0m-10-5h0m-1 6h0m-19 2h0m-11-10h0m0 4h0m-5-3h0m-16 8h0m-9-8h0m-22 7h0m-7 0h0m0 8h0m6 10h0m21-5h0m6 3h0m27-9h0m2-1h0m27-2h0m2 8h0m2 0h0m1-6h0m2 2h0m6 10h0m3-4h0m13-6h0m11 10h0m8-12h0m8 5h0m2 5h0m11-2h0m6-9h0m2 5h0m2-3h0m3 8h0m8-8h0m8 7h0m4-2h0m3-5h0m5 5h0m4 0h0m4 5h0m1-5h0m15 4h0m4 0h0m3-2h0m1-10h0m14 13h0m6-4h0m24-3h0m15-6h0m-44 16h0m-3 5h0m-14-2h0m-5 8h0m-4-2h0m-5-8h0m-21 1h0m-3 6h0m-2-2h0m-4 4h0m-11-2h0m-13-4h0m-3 7h0m-11-6h0m-15 1h0m-5-4h0m-12 1h0m-4 8h0m-1-11h0m-7 3h0m-6 6h0m-10 3h0m-8-1h0m-8-11h0m-18 6h0m-3 3h0m-13-8h0m-8 8h0m-35-9h0m-3 3h0m70 17h0m11 4h0m2 2h0m1-4h0m8-2h0m3 0h0m12 5h0m5-11h0m4 5h0m5-2h0m4 7h0m13-4h0m7 7h0m39-6h0m3 2h0m12 2h0m14-10h0m2 3h0m4 5h0m3-8h0m11 9h0m1-10h0m2 2h0m29 8h0m14-8h0m6 21h0m-30-2h0m-32-5h0m-8 10h0m-1-6h0m-33-3h0m-6 1h0m-9 9h0m-12-11h0m-25 1h0m-19 4h0m-15 3h0m-4-5h0m-8 5h0m-1-3h0m-21 7h0m-17 11h0m26 1h0m12 0h0m1-1h0m25-9h0m7 12h0m1-2h0m18-1h0m11-5h0m20-3h0m7 12h0m23-11h0m2 6h0m137-1h0m-145 22h0m-72-11h0m-22 10h0m-14-11h0m-61 7h0m13 9h0m66-3h0m23 6h0m3-1h0m23 8h0m2-4h0m-16 19h0m-53-13h0m-53 11h0m-9-1h0m28 7h0m9 12h0m31-8h0m25-3h0m29 10h0m27 1h0m-91 3h0m-5 8h0m-27-5h0m21 23h0m73 1h0m11 2h0m-35 2h0m-32-1h0m-22 9h0m38 35h0m-3 29h0m-12 32h0" stroke="#823cfa" stroke-width="4.8" stroke-linecap="round" fill="none"/>
<path transform="scale(0.25)" d="M313 164h0m6-7h0m14 3h0m7 15h0m-2 1h0m-11-5h0m0-4h0m-4 6h0m-2-2h0m-3 0h0m-2-3h0m0 10h0m-6-5h0m0-8h0m-6 2h0m-1 4h0m-2 2h0m-1 0h0m-18 20h0m2-7h0m1 1h0m1-2h0m1 7h0m1-7h0m1 2h0m1-5h0m2-1h0m0 3h0m1 7h0m0-11h0m3 2h0m2 11h0m1-5h0m0 2h0m2-8h0m1 7h0m1-4h0m5-5h0m0 10h0m1-3h0m1 6h0m1-11h0m2 1h0m0-3h0m1 5h0m1 9h0m1-12h0m2 6h0m1 5h0m17-13h0m10 5h0m-14 10h0m-12 7h0m-3 0h0m-5-6h0m-5 11h0m-3 1h0m-1-8h0m0-2h0m-3 7h0m-1-10h0m-4 4h0m-3 1h0m-7-3h0m-4 10h0m-5-7h0m-5 9h0m15 5h0m3 3h0m6-3h0m9 2h0m11-1h0m4-1h0m-12 14h0m-21-2h0m-5 4h0m-20-1h0m31 14h0" stroke="#eb8c28" stroke-width="4.8" stroke-linecap="round" fill="none"/>
<path transform="scale(0.25)" d="M336 190h0m-14 14h0m-12 1h0m-5 4h0m-13 10h0m7 2h0m53-1h0m30 1h0m-3 9h0m-39 6h0m-8 2h0m-17-5h0m-32 6h0m-11-10h0m-4 4h0m-1 4h0m-5 15h0m18-3h0m3-1h0m0 4h0m15-9h0m3 7h0m19-1h0m69 20h0m-17-8h0m-4-4h0m-8 2h0m-12 10h0m-31-4h0m-6-4h0m-14-4h0m-1 11h0m-3-2h0m-14 1h0m-23 17h0m13-5h0m1-7h0m3 7h0m1-3h0m0-2h0m5 7h0m2-1h0m3-10h0m2 6h0m7 7h0m1-12h0m2 1h0m0 1h0m1 5h0m1-4h0m0 7h0m4-4h0m1 7h0m8-6h0m3 6h0m2-12h0m1 8h0m0 1h0m3-7h0m7 6h0m4-6h0m24-2h0m28 9h0m57 6h0m-67 5h0m-16 2h0m-6-1h0m-1-4h0m-13 6h0m-2 3h0m-5-11h0m-5 4h0m-3 1h0m-17-5h0m-6 9h0m-12-8h0m-2 3h0m-1 2h0m0-6h0m-7 2h0m-5 10h0m-3-2h0m-3-9h0m-13 9h0m0-1h0m-9-5h0m13 18h0m6-1h0m1-7h0m12 6h0m0-5h0m0 3h0m3-2h0m3-2h0m1 6h0m2 6h0m4-3h0m3 4h0m1-1h0m0-5h0m2 0h0m2 0h0m12 2h0m23-2h0m21-7h0m21 10h0m37-6h0m54-2h0m4 11h0m-14 10h0m-6 2h0m-47 2h0m-21-1h0m-21-2h0m-17 2h0m-20-12h0m-5 13h0m-5-5h0m-1 3h0m-13 2h0m-8-13h0m-5 7h0m-10 1h0m-1-7h0m-1 6h0m-6-2h0m0-2h0m-3 6h0m0-6h0m-8 2h0m0-2h0m-25 23h0m18-10h0m4 4h0m1 4h0m7-2h0m5-2h0m5-5h0m6 13h0m2 1h0m1-7h0m1 1h0m5-3h0m3 1h0m2 5h0m0-10h0m11 1h0m3 5h0m1-7h0m3 2h0m19 11h0m1-1h0m2 2h0m1-1h0m13-11h0m3 10h0m7-11h0m1 12h0m0-8h0m2-2h0m3 2h0m3 1h0m13 0h0m2 5h0m10 0h0m22-8h0m34 6h0m39-3h0m-8 23h0m-14-7h0m-18 3h0m-15 2h0m-13-3h0m-1 2h0m-10 0h0m-11-4h0m-5-3h0m-4-1h0m-2 5h0m-4-5h0m-3 9h0m-7-2h0m-5-3h0m-2 4h0m-23-11h0m-2 11h0m-3-1h0m-1-7h0m-23 0h0m0 3h0m-17 4h0m-7 4h0m-9-1h0m0-5h0m-8-7h0m-3 11h0m-14-1h0m-6-8h0m-17 7h0m-3 1h0m14 15h0m6-1h0m0 3h0m3 1h0m7-14h0m4 8h0m12-5h0m2 4h0m2-3h0m0 7h0m9-8h0m5-2h0m5 3h0m3 4h0m3-3h0m0 3h0m2-1h0m1-6h0m1 3h0m5 6h0m7-10h0m5 14h0m9-2h0m3 0h0m4 0h0m10-8h0m3 6h0m2-9h0m3 3h0m1 0h0m8 9h0m1-3h0m0 2h0m8-9h0m4 5h0m1-2h0m13-1h0m3 3h0m6 1h0m0-2h0m1-6h0m2 12h0m2-5h0m7-8h0m0 9h0m3 4h0m6-3h0m19-4h0m7 7h0m5-11h0m8 2h0m48 6h0m12-5h0m17 2h0m-9 21h0m-51-3h0m-6 2h0m-3-10h0m-5 3h0m-2 9h0m-3-8h0m-10 0h0m-6-6h0m-8 13h0m-11 1h0m-1-6h0m0 3h0m-11-9h0m-5-2h0m-1 8h0m-4 0h0m-4 0h0m-7 3h0m-2-9h0m-2 12h0m-10-5h0m0-5h0m-7-4h0m-1 6h0m-12-5h0m-2-1h0m-2 11h0m-2-10h0m-12 8h0m0-8h0m-8 12h0m-1-9h0m-3 10h0m-5-11h0m-5 9h0m-2-10h0m-1-2h0m-9 12h0m-2-8h0m-2-4h0m-1 0h0m-6 14h0m-1-11h0m0-2h0m-2 0h0m-2 11h0m0 2h0m-3-3h0m-2-8h0m-2 5h0m-3 6h0m0-11h0m0 3h0m-1 7h0m-3-2h0m-6 1h0m-10-4h0m-2 2h0m-17-2h0m0 1h0m-6 5h0m1 8h0m9 2h0m0-8h0m5 1h0m3 0h0m1 6h0m2 4h0m1-12h0m1 13h0m7-7h0m7 2h0m5 0h0m0 1h0m3-1h0m10 2h0m6-7h0m3 10h0m5-1h0m4-9h0m9 5h0m1 1h0m3-3h0m13 5h0m1-7h0m3 4h0m1 4h0m11-12h0m1 0h0m3 14h0m3-6h0m2 2h0m7-1h0m0 3h0m2-6h0m0-4h0m2 5h0m14 3h0m2 3h0m0-13h0m2 4h0m2-4h0m4 6h0m3-3h0m0 11h0m4-1h0m4-8h0m2-2h0m3 11h0m5-6h0m4-6h0m0 4h0m3 6h0m6-4h0m2-5h0m11 6h0m18-1h0m4-5h0m6 1h0m3 7h0m2-5h0m2 2h0m14-1h0m11-4h0m4 24h0m-42 0h0m-6 1h0m-4-3h0m-2-5h0m-2-1h0m-6 10h0m0-11h0m-6 11h0m-1-3h0m-1-11h0m-2 10h0m-17 4h0m0-11h0m-4 4h0m-2-6h0m-3 10h0m-5 3h0m-12-14h0m-1 13h0m-4-4h0m-2 0h0m-2-5h0m-2 8h0m-1-4h0m-5 2h0m-13-5h0m-3-1h0m-6 7h0m-9-3h0m0 3h0m-3 1h0m0-11h0m-3 11h0m-4-2h0m-5-3h0m-3 6h0m-2 1h0m-2-2h0m-1 0h0m0-3h0m-3 4h0m-4-12h0m0 1h0m-4-2h0m-1 12h0m-1-6h0m-1 7h0m-1-10h0m-1-1h0m-1 1h0m-10 0h0m-1 0h0m-6 10h0m-6-13h0m-7 8h0m-2-6h0m-12 0h0m-3 10h0m-4-12h0m0 7h0m-3 0h0m-7 5h0m-1-5h0m-4 0h0m-5-7h0m-9 0h0m0 24h0m1 0h0m6-3h0m3 5h0m21-1h0m3-4h0m2 6h0m4-10h0m0 12h0m2-11h0m1 11h0m4-3h0m1-7h0m2 9h0m1-1h0m2 1h0m4-12h0m1 10h0m0-1h0m3-4h0m1 2h0m5 1h0m1-9h0m7 11h0m6-9h0m4 2h0m9 5h0m2-9h0m4 14h0m6-6h0m4-6h0m0 11h0m1 0h0m13-3h0m4-6h0m2 10h0m1-4h0m1-9h0m5 6h0m4 6h0m7-2h0m0-1h0m2-3h0m5 2h0m1-4h0m1-4h0m1 12h0m0-3h0m5-9h0m1 2h0m19 9h0m5-6h0m3 7h0m1-2h0m0-1h0m8-2h0m1-7h0m9 2h0m23 7h0m1-2h0m4 5h0m2-3h0m1 3h0m5-2h0m1 0h0m5-1h0m1-5h0m4 4h0m15-8h0m-10 15h0m-4 4h0m-2 7h0m-1-8h0m-2 5h0m-4 5h0m-2 0h0m-4-6h0m-7 2h0m0 4h0m-7-14h0m-5 4h0m-4 5h0m-3 4h0m-1-2h0m-4 2h0m-4-12h0m-7 7h0m-10-4h0m-4 0h0m-2 1h0m-2 9h0m-1-7h0m-20 6h0m0-6h0m-3-2h0m-7-2h0m-3 4h0m-2-7h0m-1 0h0m0 12h0m-7 0h0m-2-1h0m-5 0h0m-3-1h0m-2-7h0m-14 10h0m-3 1h0m-1-1h0m-3 0h0m0-3h0m-1-2h0m0-6h0m-7 10h0m-1 0h0m-1-1h0m-3 3h0m-2-3h0m-2 3h0m-3-13h0m-9 0h0m-2 1h0m-7 1h0m-2-3h0m-4 2h0m-1 6h0m-1 4h0m-2-9h0m-4 9h0m-8-8h0m0 4h0m-13 1h0m0-3h0m-3-1h0m-3 3h0m-2-4h0m-3 6h0m-2 2h0m0-5h0m-3-1h0m-13-2h0m-8-4h0m-10 20h0m2 7h0m13-10h0m2 1h0m18 2h0m0 4h0m2-6h0m2 6h0m5-9h0m5 12h0m3-1h0m3-3h0m4-1h0m5-2h0m2 7h0m0-10h0m9 8h0m2-1h0m11 5h0m4-8h0m4 6h0m0-8h0m2 5h0m5-7h0m0 4h0m4-4h0m1 10h0m2-10h0m3 5h0m2 0h0m7-3h0m3 10h0m3-11h0m1 7h0m0-6h0m6 5h0m4-3h0m3 4h0m22-6h0m4 1h0m1 5h0m0-7h0m1 3h0m2 1h0m1-7h0m6 12h0m1-12h0m9 10h0m20-4h0m10 4h0m4-5h0m20 6h0m7-7h0m2 7h0m22-4h0m49 1h0m-62 11h0m-5-1h0m-11 1h0m-2 2h0m-13 2h0m-10 4h0m-3-1h0m-5-7h0m-3 0h0m-11-4h0m-4 2h0m-13 4h0m-7 2h0m0 4h0m-1-9h0m-2 1h0m-9 8h0m-3-9h0m-3-3h0m-1 2h0m-4 6h0m-6-2h0m0 2h0m-4-1h0m0-5h0m-1 2h0m0 4h0m-4-4h0m-2 10h0m-3 0h0m-1-13h0m-1 5h0m0 4h0m-6-4h0m0-5h0m-3 8h0m-5-6h0m-7 9h0m-1-2h0m-1-7h0m0-1h0m-4 2h0m-2 10h0m-2-11h0m-10 1h0m-1 7h0m0-5h0m-5-1h0m-2-5h0m-2 6h0m-2 7h0m-1-5h0m-1-4h0m-1 9h0m-9 1h0m-1-1h0m-1-1h0m-7-12h0m-19 11h0m-2 3h0m-10-8h0m-7 0h0m-13-5h0m-1 6h0m-1 5h0m-3 13h0m8-3h0m13 0h0m19-1h0m3 2h0m11-6h0m5 11h0m1 1h0m2-10h0m6 7h0m2-3h0m4 2h0m0-10h0m2 7h0m4 4h0m2-8h0m4 7h0m3 4h0m7-11h0m2 10h0m4-2h0m1-11h0m1 3h0m1-1h0m0 8h0m2-10h0m7 11h0m1-2h0m4-1h0m2-1h0m1-7h0m1 11h0m10 0h0m2 1h0m1-3h0m2 5h0m6-6h0m6 3h0m7 2h0m6-6h0m5 2h0m8-1h0m4-2h0m21 0h0m7-2h0m6 10h0m6-3h0m4 16h0m-2-5h0m-24-7h0m-12 14h0m-17-11h0m-3 5h0m-9 0h0m-1-5h0m-3 0h0m-1-1h0m-2 6h0m-8-5h0m0 1h0m-2 9h0m-2-8h0m-18-4h0m-4 0h0m-3 10h0m-2-3h0m-5-3h0m-3 0h0m0-3h0m-2 8h0m-5 2h0m-8-8h0m-5 0h0m-8 3h0m-5 2h0m-1 2h0m-8 0h0m0-10h0m-1 10h0m-1 1h0m-6-10h0m-4-2h0m-9 13h0m-1-12h0m-4 0h0m-1 10h0m-4-1h0m-13 2h0m0-12h0m-4 14h0m-7-7h0m-8 4h0m6 8h0m1 9h0m5 1h0m1-9h0m2 5h0m2-10h0m1 0h0m0 13h0m14 1h0m1-2h0m0-1h0m0-11h0m1 14h0m5-12h0m1 9h0m5-5h0m0 5h0m2 3h0m4-3h0m2 0h0m8-2h0m3 2h0m1 1h0m12-6h0m0-5h0m12 5h0m3 0h0m6 6h0m2-2h0m0-6h0m1 3h0m4-5h0m1 11h0m1-1h0m2-1h0m2-10h0m3 0h0m3 6h0m1-3h0m1-4h0m2 8h0m1-5h0m1 8h0m2 2h0m1-12h0m1 8h0m2-3h0m3 3h0m1 5h0m1 0h0m2-14h0m3 0h0m1 14h0m0-2h0m1-3h0m9-4h0m1-4h0m7 8h0m9-8h0m14 3h0m13-2h0m38 9h0m-41 12h0m-13-4h0m-17 8h0m-8-12h0m-3 4h0m-5-1h0m-4 7h0m-4 1h0m-3-10h0m-2 9h0m-1 0h0m-2-6h0m-1 6h0m-1 3h0m-3-4h0m-2-9h0m-3 10h0m-2-6h0m0 9h0m-1-11h0m-3 5h0m0 7h0m-2-7h0m-1-1h0m0 7h0m-1-6h0m-1 5h0m-1-6h0m-2 1h0m-1 2h0m-3-1h0m-3 5h0m-1-4h0m-1-1h0m-2 0h0m-2-8h0m-1 5h0m-1-3h0m0-1h0m-2 4h0m-1-2h0m-5 10h0m-1-8h0m-4 8h0m0-1h0m-5-12h0m-10 0h0m-3 0h0m-3 8h0m-1 5h0m-3-2h0m-10-8h0m0 4h0m-4 1h0m0 4h0m-1-9h0m0 3h0m-2 2h0m-7 6h0m-6-9h0m-9 5h0m-10-10h0m0 22h0m3 5h0m1-2h0m14 2h0m1-6h0m4-5h0m8 10h0m0-10h0m4 2h0m1 4h0m5-7h0m4 10h0m2-7h0m4-3h0m1 12h0m3-4h0m1 2h0m1 0h0m18-2h0m0-8h0m2 0h0m2 10h0m1-4h0m1-1h0m4-4h0m8 5h0m0-3h0m12 2h0m5-2h0m6 1h0m1 8h0m3-2h0m0-3h0m9 4h0m1-3h0m5 4h0m5-11h0m5 3h0m2 5h0m2-8h0m2 7h0m16-6h0m5 10h0m0-10h0m0 9h0m48 11h0m-5-4h0m-29 10h0m-4-5h0m0-1h0m-20 3h0m-2-2h0m-1-8h0m-4 4h0m-13-2h0m-4 9h0m0-3h0m-3-5h0m-1 5h0m-5-4h0m-1 1h0m-3-5h0m-1 2h0m0 10h0m-3-2h0m-4-10h0m0 13h0m-2-11h0m-2 8h0m-2 0h0m-2-9h0m-2 1h0m-3 1h0m-8 6h0m-3 1h0m0-10h0m0 2h0m-10-2h0m-2 14h0m-1-7h0m0 4h0m-1-7h0m-2 2h0m-8 7h0m-1-13h0m0 11h0m-2-7h0m-4 7h0m-1-11h0m-8 4h0m-1 2h0m-6 0h0m-3 1h0m-2 5h0m-3-12h0m-3 14h0m-1-4h0m-1-9h0m-10 0h0m-3 2h0m-1 9h0m-1 0h0m-9-3h0m-7-9h0m2 16h0m12 4h0m6 4h0m6-2h0m9 3h0m6-1h0m2 1h0m4 0h0m2-7h0m6 2h0m0 8h0m2-10h0m2 1h0m1-3h0m2 12h0m0-1h0m1-1h0m1-11h0m1 6h0m2 2h0m9 3h0m0-11h0m13 14h0m2-11h0m0 8h0m2 1h0m2 0h0m1-7h0m3 2h0m2-2h0m1 8h0m1-11h0m0 12h0m2-5h0m3 4h0m0-5h0m1-1h0m1-5h0m12 8h0m6-3h0m3 5h0m5-9h0m1 1h0m8 9h0m0-7h0m4 5h0m4 3h0m13-13h0m4 9h0m2-1h0m2-4h0m6-4h0m5 0h0m1 3h0m9 7h0m1-3h0m-7 18h0m-8 0h0m-4-10h0m-16 8h0m-13-6h0m0 4h0m-5-5h0m-6 11h0m-3-7h0m0 2h0m-10-7h0m-3 11h0m-2-12h0m-5 10h0m0-2h0m-2 0h0m-2 5h0m-2-2h0m-2 1h0m-2-6h0m-3-3h0m-1-3h0m0 4h0m-4 5h0m-2 4h0m0-5h0m-2-8h0m-11 3h0m-3 5h0m0-3h0m-1 2h0m-1 1h0m-10 5h0m-1-1h0m-1-9h0m-7-2h0m-2 2h0m-1 6h0m-3 3h0m-6-9h0m0 8h0m-4-2h0m-6 3h0m-3-10h0m-4 0h0m0 12h0m-1 0h0m-1-7h0m-4 7h0m-2-10h0m-7-3h0m-5 5h0m-1-5h0m8 16h0m11 5h0m1 0h0m3 2h0m3 4h0m4-9h0m5-1h0m23-2h0m1 0h0m4 0h0m4 0h0m2 5h0m3 2h0m1 0h0m13-7h0m14-1h0m11 13h0m0-5h0m6 0h0m1-3h0m2-5h0m3 12h0m1-12h0m5 13h0m16-13h0m9 11h0m1 1h0m9 0h0m11-12h0m14 18h0m-43-1h0m-19 11h0m-5-3h0m-3 1h0m-19 1h0m-4 1h0m-2-4h0m-2-3h0m-16 6h0m-1-12h0m-1 10h0m0-5h0m-12-5h0m-4 14h0m-11-8h0m-2 1h0m-16 1h0m-4 3h0m-2-10h0m10 16h0m5-1h0m1 6h0m6-4h0m6 10h0m2-10h0m3 1h0m1-3h0m3 10h0m1-6h0m10-1h0m3 8h0m2-1h0m1-11h0m15 13h0m3-4h0m6-7h0m4 7h0m13-4h0m7 4h0m5 0h0m5-3h0m3 6h0m31-7h0m-36 20h0m-2-5h0m-5-5h0m-23 7h0m-11 4h0m-8-6h0m-5-1h0m0-1h0m-1 4h0m-8 5h0" stroke="#f55528" stroke-width="4.8" stroke-linecap="round" fill="none"/>
<path transform="scale(0.25)" d="M438 506h0m-1-3h0m-5-1h0m-6 0h0m-9 3h0m-2 1h0m-1-10h0m-1 16h0m5 1h0m2-2h0m9 2h0m6-1h0m-4 15h0m-3 10h0m-2-11h0m-2 5h0m-4 2h0m-7 4h0m1 8h0m7-4h0m0 9h0m2 4h0m3-2h0m16-10h0m-7 22h0m-9 4h0m-3-11h0m-2 6h0m-2-7h0m-10 12h0m-2 0h0m-6-8h0m6 22h0m1-7h0m1 6h0m0 2h0m5 0h0m2 1h0m4-13h0m-10 27h0m-9-10h0m-10 24h0m8-9h0m1-2h0m2 1h0m5 8h0m3 4h0m6 4h0m-2 8h0m-4-7h0m-2 10h0m-4-11h0m-5 11h0m-3-6h0m-1-6h0m0-2h0m-1 2h0m-1 11h0m-7-5h0m-2 2h0m-1 3h0m-2-1h0m-3-6h0m-12 7h0m0-1h0m-19-10h0m33 22h0m4-7h0m15 2h0m13-2h0" stroke="#55cd7d" stroke-width="4.8" stroke-linecap="round" fill="none"/>
<path transform="scale(0.25)" d="M292 240h0m-27 56h0m-2 12h0m84 10h0m-35 4h0m-21 28h0m-34 2h0m-5-4h0m-21 20h0m3-5h0m11 11h0m32-13h0m32 8h0m86 6h0m-29 11h0m-102-2h0m-30-6h0m-6 5h0m1 14h0m3-1h0m2 7h0m2-11h0m3 3h0m109 11h0m-25 5h0m-74-2h0m-3 8h0m-12 1h0m-4-7h0m-3-1h0m-3 8h0m-6-13h0m-3 6h0m-4 7h0m2 13h0m2-5h0m1-1h0m8 8h0m1-8h0m1 2h0m3-1h0m1 5h0m26 3h0m1-14h0m29 5h0m46 5h0m-83 12h0m-12-2h0m-1 8h0m-1 1h0m-4-8h0m-6 6h0m-4-10h0m-1 12h0m0-3h0m-1-2h0m-1-2h0m-2-6h0m-12 26h0m1-9h0m2 11h0m1-1h0m1-2h0m2 0h0m3-4h0m1-2h0m1 1h0m3 0h0m0 6h0m2 2h0m1-13h0m2 12h0m4-4h0m37 3h0m26 0h0m22-11h0m1 11h0m11-2h0m8-7h0m27 7h0m12 0h0m16-4h0m6 11h0m-33-2h0m-106 0h0m-4 1h0m-8 13h0m-12-1h0m-3-12h0m-4-1h0m-1 10h0m0-5h0m-1 5h0m-1 3h0m-1-3h0m0 4h0m-1-2h0m-3 0h0m0-3h0m-10 0h0m1 9h0m0 1h0m1 6h0m0-5h0m1-3h0m4 11h0m1-10h0m2 2h0m0-5h0m4 10h0m2-1h0m3-5h0m7-4h0m0 2h0m52 8h0m12-4h0m15-5h0m5 3h0m18 6h0m10 10h0m-16 6h0m-95 1h0m-3-1h0m-2-10h0m-4 7h0m0-5h0m-6 10h0m-1-11h0m0 11h0m-1-11h0m0 4h0m-3-5h0m-3 6h0m-10 15h0m6 0h0m1 0h0m4-2h0m0 4h0m4-7h0m1 6h0m0-7h0m5 0h0m5 6h0m1-3h0m4 0h0m71-4h0m37 10h0m12-6h0m21-2h0m-147 13h0m-1 5h0m-5-3h0m-3-2h0m-6 13h0m-2-10h0m-3 8h0m0-2h0m2 9h0m2-2h0m3 1h0m1 4h0m1-2h0m2 1h0m1-5h0m1 6h0m1-6h0m4 7h0m5-2h0m5-5h0m0 11h0m14 2h0m89 9h0m-76-5h0m-5 10h0m-4 2h0m-13-3h0m-5-9h0m0 8h0m-4 0h0m-4-2h0m-2 4h0m-2-12h0m-7 8h0m0 2h0m-2-9h0m-1 10h0m-1-6h0m1 18h0m2 3h0m0 2h0m2-3h0m0 4h0m1 0h0m10-8h0m2-4h0m7 6h0m13 6h0m2-2h0m4 2h0m0-3h0m31-8h0m7 1h0m50 25h0m-79-1h0m-5-12h0m-5 0h0m-7 8h0m-1 1h0m-1-2h0m-6 6h0m-5-13h0m-1 3h0m-9-4h0m-2 6h0m-2-2h0m0 2h0m0-3h0m-2 3h0m-3-3h0m14 15h0m1 11h0m1-3h0m1-2h0m0-7h0m4 2h0m1 8h0m1-2h0m2-9h0m0 9h0m6-9h0m1 10h0m2 1h0m5-3h0m1 2h0m3-7h0m3 3h0m3-4h0m1 11h0m6-10h0m62-1h0m54 21h0m-95-4h0m-2 7h0m-20 2h0m-3 0h0m-3-3h0m-3 0h0m0-3h0m-4-3h0m-2-1h0m-11 3h0m0-2h0m-2 0h0m-6-5h0m-2 5h0m12 15h0m10 0h0m4-2h0m1 2h0m0-3h0m4 0h0m0 11h0m2-1h0m1-12h0m2 2h0m8 5h0m1-4h0m8 6h0m3-2h0m1 0h0m1 1h0m2 0h0m2-3h0m8 2h0m8 7h0m13-13h0m5 7h0m22 6h0m-10 11h0m-12-4h0m-16 1h0m0 2h0m-22-8h0m-5 2h0m-3 5h0m-16-8h0" stroke="#6e5fd2" stroke-width="4.8" stroke-linecap="round" fill="none"/>
<path transform="scale(0.25)" d="M580 118h0m-4 0h0m-38 12h0m3-7h0m30 4h0m12-6h0m12 10h0m25 6h0m-13-1h0m-1 5h0m-10 0h0m-3 0h0m-14-4h0m-1-1h0m-7 4h0m-11 1h0m0-4h0m-32 2h0m-37 24h0m10-9h0m4 10h0m23-1h0m2-4h0m8-4h0m7-2h0m11 7h0m1-10h0m23 2h0m0 11h0m6-1h0m7-7h0m3 5h0m26-2h0m1-2h0m0-1h0m2 9h0m13-3h0m0-6h0m22 23h0m-19-10h0m0 9h0m-1 0h0m-7-7h0m-4-2h0m-6-2h0m-5 11h0m-4-3h0m-1 0h0m0 3h0m-6 0h0m-2-5h0m-6-5h0m-1 8h0m-1-4h0m-4 0h0m-6 0h0m0 4h0m-9 4h0m-2-10h0m0-4h0m-1 14h0m-3-9h0m-4 4h0m-4-7h0m0-1h0m-2 4h0m-1 9h0m0-2h0m-3-3h0m0 2h0m-5 3h0m0-1h0m-1 1h0m-4-9h0m-3-3h0m-3 2h0m-12-1h0m-1 7h0m0 3h0m-21-11h0m-20 24h0m8-1h0m6-3h0m3 1h0m23 3h0m6-6h0m0 9h0m0-3h0m1-8h0m1-1h0m4 8h0m1-7h0m4 10h0m1 1h0m1-14h0m1 0h0m18 12h0m3-7h0m8 8h0m5-3h0m7-3h0m5 2h0m2-7h0m0 9h0m0 3h0m0-5h0m7-4h0m5 4h0m3-1h0m1 4h0m0-11h0m1 3h0m0 4h0m1-5h0m2 0h0m1 7h0m2-1h0m0-8h0m2 7h0m7 3h0m2-11h0m1 5h0m5-2h0m2 0h0m3 0h0m2 6h0m6 3h0m2-5h0m5-6h0m5 4h0m11 15h0m-4-1h0m-3 2h0m-13 3h0m-4 1h0m-3-6h0m-5 6h0m-3-8h0m-3 3h0m-7 4h0m0-3h0m-2-3h0m-3 3h0m-4 3h0m-1 4h0m0-10h0m-2 8h0m0-3h0m-2-4h0m-1-2h0m0 9h0m-6 1h0m-2-8h0m-2 3h0m0-6h0m-4 7h0m-2-1h0m-3 2h0m-1-4h0m-1-1h0m-3-3h0m-2 0h0m-5 13h0m-8-14h0m-6 6h0m-3 7h0m-1 0h0m-3-3h0m-10 0h0m-1-5h0m0 2h0m-5-7h0m-8 0h0m-3 7h0m-10 7h0m-13-9h0m-14 22h0m14-10h0m2-2h0m1 2h0m41-1h0m12 2h0m3 10h0m3-10h0m8 4h0m0 4h0m1 3h0m4-4h0m4-5h0m1 3h0m0-6h0m10 7h0m3 5h0m7-9h0m2 7h0m1-10h0m4 1h0m0-1h0m1 7h0m5-4h0m4 5h0m2-7h0m2 7h0m7-9h0m1 5h0m5 0h0m3 7h0m8-4h0m2-8h0m3 9h0m9-5h0m1-1h0m6 7h0m19 15h0m-11-10h0m-4 13h0m-4-14h0m-6 3h0m-1 4h0m-7-1h0m-4 4h0m-4-1h0m-2 5h0m-2-7h0m-2 5h0m-4-9h0m0 11h0m-1-3h0m-16 1h0m-5 1h0m-2-1h0m-2-11h0m-1 2h0m0-2h0m0 9h0m-1 1h0m-3-11h0m0 9h0m-2 4h0m-2-11h0m0 3h0m-1 0h0m-1-2h0m-7 8h0m-9 1h0m-6-3h0m0-2h0m-1 0h0m-12-5h0m-1 4h0m-2-1h0m-20 9h0m-1-11h0m-2 8h0m-15-4h0m-2-2h0m0-5h0m-5 4h0m-8 1h0m-70-2h0m79 23h0m6 3h0m5-5h0m14-1h0m24 0h0m1-6h0m1 10h0m3-5h0m1 4h0m3 3h0m2-2h0m7-11h0m3 5h0m9 0h0m3-3h0m3-2h0m1 11h0m4-4h0m6-5h0m10-3h0m0 13h0m0-7h0m4-5h0m4 1h0m0-1h0m7 2h0m3 8h0m1-7h0m1-1h0m4 1h0m4 5h0m3-7h0m4 3h0m14 7h0m19-7h0m7 8h0m-13 5h0m-3 9h0m-2-12h0m-11 3h0m-5 0h0m-2 10h0m-4-7h0m-5 0h0m-10-5h0m-4 9h0m-3-4h0m-1-2h0m-4 4h0m-2 4h0m-1-11h0m-3 7h0m-2-2h0m0-5h0m-3 3h0m-5 10h0m-2-5h0m-3-7h0m-1 8h0m-3-9h0m-2 1h0m-4 4h0m0 4h0m-1-4h0m-2-5h0m-2 10h0m0 1h0m-20-7h0m-2 1h0m-11-3h0m-1 7h0m-15-6h0m-8 10h0m-1-3h0m-6-9h0m-3 10h0m-1-5h0m-14-4h0m-33-2h0m-26 21h0m38 1h0m11-5h0m2 9h0m35-2h0m4-5h0m4 9h0m15-5h0m8 0h0m5 3h0m7-9h0m2-2h0m0 4h0m1 7h0m3-8h0m15-4h0m2 0h0m7 11h0m17-4h0m2-3h0m5 3h0m4 2h0m0-7h0m4 2h0m0 9h0m1 1h0m2 0h0m5-4h0m0 2h0m0-6h0m4 0h0m9 2h0m5-1h0m4 6h0m3-8h0m1 1h0m5 0h0m1 5h0m3-6h0m4 9h0m1-5h0m13-3h0m4 9h0m-4 14h0m-8-4h0m0-10h0m-1 11h0m-5-5h0m-7-1h0m-13 3h0m-1 3h0m-16-11h0m-5 13h0m-2-11h0m0 8h0m-6-1h0m-5-6h0m-2 11h0m-2-13h0m-5 5h0m-13 0h0m-3-6h0m0 4h0m-2 0h0m-2-1h0m-1-2h0m-2 1h0m-4 9h0m-1-10h0m-34 4h0m-4 4h0m-16-3h0m-9 4h0m-6-10h0m-33 2h0m-4 5h0m-6-3h0m-22-1h0m-4-1h0m-28 21h0m22-3h0m44-1h0m25 5h0m3 1h0m1-6h0m2 5h0m8 0h0m3-9h0m3 8h0m7 0h0m10 3h0m0-1h0m20-6h0m1 5h0m6 1h0m16-4h0m11 8h0m5-11h0m7 4h0m6-4h0m1 1h0m11 1h0m8-2h0m10 8h0m7-11h0m3 0h0m10 1h0m8 4h0m0-5h0m29 29h0m-8-5h0m-10 5h0m-4-7h0m-10 1h0m-3-5h0m-3 0h0m-1 8h0m-2 2h0m-34-7h0m-4 4h0m-2-3h0m-21 0h0m-6 5h0m0-11h0m-3 0h0m-6 0h0m-7 0h0m-7 4h0m-7 2h0m-10-2h0m-4 6h0m-10-3h0m-42 1h0m-60 16h0m78-7h0m6 8h0m26-11h0m3 8h0m16-4h0m5 10h0m10-7h0m0-6h0m0 2h0m5 0h0m11 0h0m13 10h0m6-10h0m3 7h0m15-8h0m12 12h0m1-6h0m6-5h0m14 1h0m2 1h0m6 1h0m0 4h0m4-7h0m10 17h0m-5-2h0m-1-1h0m-10 8h0m-8-2h0m-8-5h0m-4 2h0m-5 6h0m-12-5h0m-12 0h0m-27 2h0m-14 1h0m-4-6h0m-36 6h0m-13-1h0m-10-6h0m-3 11h0m-8-2h0m-15 3h0m-15-5h0m-7 0h0m-2 17h0m57-7h0m10 5h0m1-7h0m9 9h0m0-11h0m8 10h0m8 1h0m1 2h0m5-13h0m7 8h0m3 6h0m9-6h0m23 0h0m12 1h0m14-9h0m24 12h0m1-9h0m10 8h0m5-10h0m1 11h0m1-2h0m4-3h0m8-7h0m1 8h0m10-8h0m4 3h0m13 9h0m-7 4h0m-3 10h0m-9 2h0m-10-2h0m-2-9h0m-5-2h0m-3 0h0m-4 5h0m0 2h0m-2-4h0m-9 0h0m-19-2h0m-77 3h0m-8-4h0m-3 11h0m-2-11h0m-55 20h0m14 1h0m11 7h0m12-1h0m6-4h0m11-3h0m6 1h0m28-6h0m19 0h0m8 5h0m31 5h0m15-8h0m1-2h0m3 5h0m3 2h0m6-5h0m1 0h0m6 0h0m4 5h0m1-4h0m0 8h0m1 1h0m1 1h0m13-12h0m0-1h0m6 6h0m4-5h0m-11 24h0m-15-9h0m-1 11h0m-12-7h0m-11 4h0m-7 2h0m-116-10h0m-26 4h0m13 18h0m52 6h0m14-6h0m16 2h0m76 2h0m15 12h0m-2-8h0m-21 9h0m-32-7h0m-13-1h0m-123 9h0m-19-5h0m114 9h0m32 13h0m18-8h0m28-5h0m6 7h0m14 1h0m10-3h0m22 3h0m-13 8h0m-14 1h0m-1 0h0m-10 2h0m-7-4h0m-7 5h0m-19 6h0m-46-5h0m-21 7h0m-20-1h0m-4-5h0m94 16h0m5 5h0m11 1h0m25-14h0m2 2h0m11 17h0m-15-3h0m-8 0h0m-19-1h0m-8 14h0m-63-4h0m-54 2h0m135 14h0m11-4h0m1 4h0m22-1h0m-18 13h0m-2-7h0m-1 2h0m-11 5h0m-1 5h0m-11-11h0m-15 5h0m-39 17h0m30-7h0m3 4h0m35-2h0m-22 14h0m39 38h0" stroke="#f0389a" stroke-width="4.8" stroke-linecap="round" fill="none"/>
<path transform="scale(0.25)" d="M688 263h0m-30-3h0m-36 8h0m-3-5h0m15 12h0m35-4h0m18 5h0m7 6h0m10 13h0m-27-2h0m-2-5h0m-2 1h0m-1-4h0m-4 2h0m-124 24h0m103-8h0m15-2h0m2 0h0m1 10h0m6-10h0m12 9h0m5 4h0m12-4h0m9 3h0m10-10h0m9 9h0m-8 9h0m-19 5h0m-3-3h0m-3-6h0m-7 4h0m-18 8h0m-30-12h0m-15 11h0m-11 6h0m8 6h0m14 4h0m12-1h0m20-4h0m6 1h0m27 2h0m36-2h0m2 2h0m-14 16h0m-34-7h0m-2 5h0m-15 2h0m-8-1h0m-3 0h0m-24 0h0m-26 1h0m-21-5h0m45 20h0m13 1h0m8-12h0m7-2h0m4 8h0m4 1h0m26-6h0m0 3h0m5-6h0m4 5h0m3 7h0m12-12h0m22 13h0m-8 14h0m-5 1h0m-11-13h0m-4 0h0m-5 4h0m-2 1h0m-4 0h0m-14 9h0m-2-9h0m-1 0h0m-1-1h0m-6-1h0m-3 4h0m-7-2h0m-8 6h0m-5-11h0m-1 6h0m-12 6h0m-9 2h0m-2-2h0m-13-8h0m-20 9h0m-17-11h0m39 23h0m6-8h0m9 1h0m17 10h0m7-5h0m4-5h0m5 1h0m1-4h0m6 6h0m2-6h0m2 7h0m1 0h0m1 0h0m2-2h0m1 8h0m3-2h0m0-5h0m3-1h0m1 9h0m5-8h0m1-5h0m15 1h0m1 5h0m19 6h0m10 2h0m-14 9h0m0 4h0m-10-10h0m-16 4h0m-3 0h0m0-5h0m-3 6h0m0 4h0m-3 2h0m-1-10h0m0 6h0m-7-5h0m-1-5h0m-6 10h0m-2-6h0m-2-1h0m-1 1h0m0 2h0m-3 5h0m-3-8h0m-3 7h0m-8 2h0m-2-10h0m-4 3h0m-4-2h0m-8 7h0m-9-10h0m-27 4h0m-25 19h0m43-3h0m2 4h0m1-9h0m17 0h0m3 10h0m26-9h0m0 3h0m8 2h0m0 6h0m9 2h0m1-7h0m0-6h0m3 2h0m0 4h0m3 6h0m0-6h0m5-2h0m2-2h0m3 2h0m1 5h0m0 3h0m1-1h0m2-3h0m0-5h0m1 6h0m4 1h0m12 0h0m1 2h0m22 13h0m-23-4h0m-4-3h0m0 3h0m-8-5h0m-5 1h0m-2 6h0m-8-1h0m-6-6h0m-4 10h0m-3-10h0m-5 5h0m-18 3h0m-1 1h0m-13-3h0m-10-4h0m-14-3h0m-9 24h0m26-6h0m5 7h0m5-11h0m12 8h0m8-1h0m1-1h0m22 6h0m1-5h0m1 2h0m7-3h0m4 4h0m1-3h0m0-5h0m0-1h0m1 8h0m1 1h0m13-6h0m4 5h0m9 0h0m6 0h0m11 6h0m-4 5h0m-14-3h0m-20 4h0m-6 4h0m-2-5h0m-7-5h0m-1 5h0m-4-4h0m-13 5h0m-5 8h0m0-5h0m-3-3h0m-18-2h0m-20 11h0m19 2h0m9 4h0m3 1h0m3 3h0m1 0h0m0-6h0m1 10h0m8-12h0m4 10h0m10-8h0m0 9h0m3-13h0m4 7h0m2-4h0m0 2h0m1 3h0m2 0h0m6-2h0m6 0h0m8 2h0m2-2h0m2 2h0m1-7h0m4 3h0m0 8h0m1-4h0m1 0h0m4 4h0m7-5h0m4-6h0m1 0h0m3 23h0m-2 5h0m-6-12h0m-3 7h0m-4 2h0m-6-11h0m-5 8h0m-3-7h0m-2 1h0m-1 11h0m0-5h0m-5-3h0m0-5h0m-4 14h0m-2-5h0m-3-3h0m-7 7h0m-3-2h0m-6-6h0m-4-2h0m-7-1h0m-6 2h0m-4-4h0m-7 5h0m-72-2h0m66 22h0m23-3h0m3 1h0m8-7h0m8 7h0m4 3h0m0-3h0m1-8h0m4 2h0m1 12h0m2-5h0m0 3h0m9 0h0m2-8h0m1 7h0m1-7h0m2 8h0m7-7h0m9-5h0m-2 16h0m-2 4h0m-1-4h0m0 9h0m-7 0h0m-4-4h0m-9 4h0m-2 2h0m-1-8h0m-9 7h0m-3 3h0m-2-6h0m-5 5h0m-1-10h0m-7 1h0m-9 3h0m-5-2h0m-7-5h0m-1 1h0m-8 6h0m32 11h0m6 6h0m1 0h0m0 4h0m2-13h0m4 7h0m0 4h0m13-3h0m6 3h0m3-9h0m2-1h0m1 10h0m0-7h0m2 3h0m15-4h0m0 13h0m-4 0h0m-15 2h0m-2 11h0m-6-13h0m-3 2h0m0 2h0m0 9h0m-1-7h0m0-5h0m-4 11h0m0-2h0m-1-4h0m-2-3h0m-2 7h0m-1 2h0m0-8h0m-1-2h0m-3 7h0m-2-8h0m-10 6h0m0-1h0m0-5h0m-9 6h0m-28-5h0m6 20h0m19-1h0m1-1h0m4-2h0m22-1h0m7 9h0m1-2h0m1 4h0m1-6h0m1 1h0m3-9h0m3 5h0m7 7h0m4-11h0m4 6h0m0 17h0m-8-2h0m-6 1h0m-1 6h0m-19-12h0m-1 0h0m-1 8h0m0-6h0m-2 2h0m-5 3h0m-7-8h0m-10 2h0m42 26h0m6-12h0m3 1h0m-2 21h0" stroke="#f0c896" stroke-width="4.8" stroke-linecap="round" fill="none"/>
<path transform="scale(0.25)" d="M596 362h0m-48 18h0m-70 50h0m10-1h0m44 1h0m23-5h0m15 9h0m6-2h0m-63 3h0m-1 6h0m-9 7h0m-29-12h0m4 18h0m7 4h0m5-2h0m26 5h0m20 0h0m34-10h0m24 3h0m3 7h0m53 10h0m-31-4h0m-15 12h0m-6-9h0m-6 3h0m-2 1h0m-3 1h0m-1-1h0m-4 2h0m-1-9h0m-23 0h0m0-2h0m-7 14h0m-10-6h0m-1 0h0m-1 5h0m-2 1h0m-12-11h0m-2 8h0m-1-10h0m-4 8h0m-5 5h0m-1-5h0m-1 2h0m-1-4h0m-1 7h0m-1-2h0m-7 2h0m-41-2h0m-25-11h0m53 15h0m1 8h0m4-4h0m4 9h0m1-9h0m2 6h0m1-10h0m5 9h0m3 0h0m4-4h0m3 7h0m2-2h0m9 0h0m1 3h0m0-7h0m0 1h0m4 3h0m0-3h0m4 3h0m9-1h0m3-2h0m1 6h0m0-4h0m7 4h0m1-4h0m7-3h0m0-5h0m2 10h0m1-4h0m2 2h0m0-1h0m5-3h0m14 3h0m2-1h0m16-5h0m-17 17h0m-10-2h0m-11 5h0m-2-1h0m-10-4h0m-1 9h0m-7-11h0m-1 10h0m0-10h0m-2 10h0m-1-10h0m-1 7h0m-2-7h0m-4 1h0m-1 5h0m0 4h0m-3-11h0m-1 4h0m-4-1h0m-4 6h0m-7-8h0m-14-1h0m50 17h0m2-2h0m48 1h0" stroke="#5f87eb" stroke-width="4.8" stroke-linecap="round" fill="none"/>
<path transform="scale(0.25)" d="M644 374h0m20 1h0m-30 14h0m-40-10h0m2 18h0m16 8h0m-1 5h0m-14 4h0m23 6h0m43 0h0m5 13h0m29-7h0m3-2h0m-58 22h0m-30-1h0m0 4h0m-21-6h0m-3-3h0m-39 21h0m76-6h0m4 5h0m2 0h0m9-4h0m2 2h0m9 6h0m5-2h0m2-7h0m2-5h0m8 2h0m7 4h0m39 19h0m-44-2h0m-39-8h0m-10 13h0m-8-13h0m-1 2h0m-11 5h0m-27 3h0m8 9h0m14 0h0m11 8h0m7-7h0m9-2h0m17 1h0m1 10h0m2-4h0m7-2h0m1-6h0m5 6h0m2 6h0m26-6h0m4-3h0m22-3h0m-19 27h0m-2-3h0m-8-7h0m-7-4h0m-21 5h0m-5-1h0m-7-3h0m-1 11h0m0-6h0m-14 3h0m0 3h0m-2-5h0m-3 4h0m-27-9h0m-32 1h0m41 17h0m4 3h0m14 2h0m7 2h0m2-11h0m8 3h0m4-3h0m4 4h0m2-1h0m2 10h0m1 0h0m2-10h0m3 5h0m2-2h0m0 1h0m4 3h0m22-1h0m14 4h0m0-1h0m47 1h0m-30 4h0m-13 0h0m-22 7h0m-4-3h0m-1 0h0m-1 2h0m-9 2h0m-1 0h0m-9 3h0m-4-4h0m-7-9h0m-5 5h0m-12 0h0m39 15h0m5 4h0m6-2h0m5-1h0m1-7h0m6 12h0m11-5h0m0-5h0m7 12h0m14-10h0m9 19h0m-14-8h0m-10 6h0m-3-3h0m-8 10h0m-3-3h0m-1-5h0m-2 0h0m-3-5h0m-7 6h0m-7 5h0m-1 3h0m-3-2h0m-9-8h0m0 6h0m7 12h0m1 4h0m3 3h0m7-12h0m2-2h0m1 3h0m0-3h0m0 11h0m4-8h0m1 4h0m12 7h0m1-11h0m1 1h0m4 8h0m1-7h0m5-3h0m29 22h0m-33-2h0m-4 6h0m-6-11h0m-3 5h0m0 4h0m-5-9h0m-3 3h0m-4-2h0m26 12h0m2 3h0m15 2h0" stroke="#82fabe" stroke-width="4.8" stroke-linecap="round" fill="none"/>
<path transform="scale(0.25)" d="M514 233h0m-13 20h0m22 3h0m-66 20h0m57 4h0m9-10h0m24 2h0m40 2h0m82 18h0m-118-6h0m-11 9h0m-9-7h0m-20 0h0m-12 9h0m-5-11h0m0 6h0m-9-1h0m-7 15h0m20-1h0m4 7h0m10-4h0m9-1h0m17 4h0m16-3h0m8-8h0m30 14h0m14-2h0m22-6h0m13-6h0m-10 16h0m-30 11h0m-14-2h0m-1 0h0m-2-7h0m-9 5h0m-17-7h0m-4 8h0m-6 0h0m-4 5h0m-9-10h0m-8 1h0m-8-5h0m-2 0h0m-14 10h0m-1-1h0m-13 5h0m-12-10h0m-3-2h0m-3 1h0m4 24h0m29-3h0m3-4h0m8-5h0m25 12h0m3-1h0m8-6h0m1 5h0m7-5h0m16 3h0m59 15h0m-17 1h0m-25-5h0m-8 3h0m-2 2h0m0-5h0m-26 10h0m-1-6h0m-14 5h0m-13-2h0m-9-8h0m-1 10h0m-1-4h0m-3-9h0m-10 9h0m-2-6h0m-2 5h0m-16 7h0m0 10h0m18-1h0m1 5h0m1 0h0m42-4h0m25 2h0m6-11h0m6 2h0m4 1h0m8 4h0m3 0h0m0 2h0m40-6h0m13 7h0m62 10h0m-57 8h0m-9-8h0m-3-5h0m-18 8h0m-14-9h0m-10 0h0m-1 2h0m0 11h0m-12-10h0m-3 2h0m-8-5h0m-9 3h0m-3 7h0m-2 3h0m-1-8h0m-3 7h0m-22 0h0m-18-6h0m-5-3h0m-7 0h0m-16-3h0m-6 12h0m-4 14h0m10-8h0m28-2h0m1 5h0m30 2h0m9 1h0m5 2h0m2-5h0m0-3h0m2 3h0m3 2h0m6 6h0m7-10h0m6 7h0m5-8h0m11 7h0m13-2h0m3-6h0m58 10h0m29-5h0m-68 17h0m-15-8h0m-13 6h0m-30-2h0m-5-4h0m-8 2h0m-12 1h0m-14 10h0m-32-4h0m-13 4h0m4 15h0m5-11h0m36 2h0m17-2h0m0 4h0m5-1h0m1-4h0m4 9h0m16-4h0m8-6h0m1 4h0m33-2h0m6-3h0m14 6h0m17 5h0m16 13h0m-34-1h0m-37-1h0m-2 6h0m-12-10h0m-5 1h0m-114-2h0m44 19h0m29-6h0m2 3h0m23-1h0m24 7h0m47-6h0m15 13h0m-52 0h0m-49 10h0m-23-7h0m-63 1h0m72 20h0m12 0h0m75-8h0m22 0h0m-56 18h0m29 18h0" stroke="#87afe1" stroke-width="4.8" stroke-linecap="round" fill="none"/>
<path transform="scale(0.25)" d="M548 148h0m-7-9h0m-218 17h0m14 8h0m9-3h0m169-5h0m15 3h0m0 3h0m7-7h0m8-5h0m-36 22h0m-17 3h0m-1-1h0m-136-8h0m-9 12h0m-6-1h0m-39-11h0m-10 25h0m3-6h0m16 0h0m13 0h0m9 1h0m11-3h0m35 5h0m16 6h0m4 0h0m1-12h0m0 8h0m0 3h0m33-3h0m14 3h0m31-9h0m5 10h0m7-8h0m1 7h0m2-9h0m7 6h0m1-2h0m11-1h0m15 6h0m88-4h0m-48 11h0m-2 3h0m-5 1h0m-15 3h0m-22-10h0m-2-1h0m-3 0h0m-5 8h0m-3 5h0m-2-9h0m-1 8h0m-5-5h0m-7 1h0m0-2h0m-3 4h0m-5-1h0m-5-6h0m-7 8h0m-3-7h0m-19 6h0m-9-3h0m-2 6h0m-10-1h0m-4-7h0m-4 6h0m-2-11h0m-9 11h0m-2 0h0m-3-10h0m-1 2h0m-4 7h0m-1 1h0m-1 2h0m-2-11h0m-2 11h0m-3-11h0m-12 5h0m-26-6h0m-2 11h0m-6-9h0m-14-4h0m-18 11h0m-6-7h0m-30 17h0m4-1h0m4 6h0m7-11h0m13 4h0m23-2h0m4 11h0m5 0h0m2-3h0m1-4h0m7 8h0m3-9h0m1 9h0m2-2h0m0-10h0m1 5h0m1 4h0m5-5h0m0 7h0m9-9h0m1 5h0m1-3h0m4-6h0m1 5h0m2-1h0m2 3h0m1-3h0m11 6h0m2 1h0m6 3h0m3-4h0m4-2h0m3 1h0m1-3h0m2 1h0m2 0h0m11 6h0m2-3h0m2-3h0m6-3h0m14 8h0m3-4h0m4 5h0m1-4h0m3-7h0m4-2h0m3 7h0m9-6h0m5 5h0m3 4h0m5-3h0m3 4h0m7-8h0m1 0h0m9 10h0m1-2h0m1-2h0m8-4h0m1-1h0m10 7h0m0 1h0m15-6h0m14 0h0m6 8h0m67 9h0m-56-4h0m-13 10h0m-17-7h0m-15-5h0m-21 8h0m-2 1h0m-2 0h0m-3-3h0m-2-4h0m0 8h0m-7-9h0m-3 6h0m-3-6h0m-6-2h0m-1 2h0m-3-1h0m-1 11h0m-2-1h0m-1 0h0m-5-10h0m-3 2h0m-2 3h0m-1-6h0m-8 8h0m-2-8h0m-1 1h0m-7 11h0m0-2h0m-2-5h0m-5 4h0m-2-1h0m-2 2h0m-10 1h0m-2 2h0m-1-5h0m-5-4h0m0 8h0m-1 1h0m-1-13h0m-1 13h0m-2-11h0m-5 6h0m-2-1h0m-1-7h0m-1 7h0m-2-6h0m-3-2h0m-4 5h0m-1 6h0m-1 2h0m-2-13h0m-2 6h0m0-1h0m-4 9h0m-5-1h0m-1-6h0m-2-3h0m-2-1h0m-11 10h0m-14-10h0m-1 2h0m-4 5h0m-2 3h0m-13-5h0m-7 5h0m-5-6h0m-1 2h0m-9 1h0m-6 3h0m-15-12h0m-18 16h0m3 7h0m22-6h0m0 1h0m8 7h0m12-5h0m21 0h0m0-5h0m3 11h0m0-11h0m6 3h0m0 8h0m0-11h0m1 2h0m3 6h0m4-9h0m3 5h0m2 5h0m2 2h0m10-2h0m1-5h0m3 1h0m8 8h0m1-5h0m2-7h0m3 5h0m1 1h0m5 0h0m1 2h0m1-1h0m1-9h0m3 7h0m2-1h0m4 2h0m2 3h0m2-4h0m1 7h0m2-6h0m14-8h0m7 6h0m0 6h0m4-7h0m2 1h0m0-1h0m8-4h0m4 10h0m2 1h0m1-11h0m5 9h0m5 2h0m1-2h0m5-9h0m0 6h0m1-5h0m6 6h0m1-4h0m10 4h0m3-6h0m5 10h0m3-8h0m4 8h0m1-3h0m11 3h0m16-4h0m1-8h0m16 1h0m3 3h0m32 10h0m6-13h0m1 10h0m18-11h0m-1 21h0m-13-5h0m-1 1h0m-17-2h0m-54 12h0m-4-11h0m-9 2h0m-7 0h0m-11-1h0m-9 3h0m-5 8h0m-3-12h0m-3 6h0m-1 0h0m-5 3h0m-1-9h0m-4 7h0m-1-8h0m-8 5h0m-11-2h0m-2 11h0m0-1h0m-3-2h0m-5 0h0m-1 2h0m-1-8h0m-2-2h0m-2 8h0m-3-11h0m-1 2h0m-1 5h0m-1-2h0m0 9h0m0-10h0m-2 4h0m-3-8h0m0 4h0m-5 5h0m0-1h0m-3 6h0m-6-8h0m-7-2h0m-2 9h0m-2-11h0m-2 4h0m-2-3h0m-3-3h0m0 2h0m-5-2h0m-4 12h0m0-12h0m-1 3h0m0 10h0m-5-6h0m0-7h0m-3 7h0m-1 6h0m-2-10h0m-1 9h0m-10-9h0m-18 6h0m-2-1h0m-1 4h0m0-10h0m-5-2h0m-15 3h0m-22-2h0m-5 12h0m1 11h0m4 0h0m9 0h0m1 4h0m1-4h0m6 2h0m1-11h0m11 0h0m23 12h0m2-10h0m10 4h0m1-1h0m1 5h0m3 4h0m4-14h0m3 0h0m4 10h0m5-4h0m3 2h0m2-1h0m2-2h0m0-3h0m9 0h0m2 11h0m0-11h0m2 5h0m12 0h0m1 5h0m0-1h0m2-2h0m0-8h0m1 5h0m3-1h0m3 9h0m1-1h0m0-11h0m3 2h0m1-4h0m0 8h0m4-1h0m1-7h0m0 8h0m2-8h0m2 0h0m3 6h0m1-1h0m7 6h0m2 1h0m1-5h0m5-4h0m1 6h0m1-8h0m8 0h0m2 3h0m2 4h0m1-8h0m1 13h0m1-11h0m3 4h0m3 1h0m2-1h0m8 1h0m8-2h0m11-3h0m5 1h0m3 6h0m6-2h0m16 6h0m4-6h0m19-3h0m7-4h0m4 1h0m23 9h0m15 0h0m54 3h0m-62 5h0m-59 5h0m-2-1h0m-8 1h0m-6 2h0m-21-7h0m-6 7h0m-20-8h0m-3 7h0m-7-4h0m-3 2h0m-6-6h0m-6 2h0m0-1h0m-1 9h0m-10-1h0m-4-8h0m-4 1h0m-2-2h0m-2 8h0m-6-3h0m-1 3h0m-5 2h0m-4-4h0m-1-2h0m-3 3h0m-7-2h0m-6 1h0m-11 2h0m-15-9h0m-4 0h0m-2 14h0m-14-9h0m0-5h0m-10 3h0m-10 0h0m-23 5h0m-11-8h0m-13 7h0m2 21h0m11-6h0m8-5h0m6-1h0m3 9h0m2-3h0m3-4h0m2-3h0m0 12h0m6 2h0m3-14h0m4 11h0m4-6h0m23 2h0m4-2h0m10-4h0m10 0h0m3 8h0m4-4h0m4-4h0m4 4h0m2-5h0m8 7h0m2 7h0m0-6h0m9-6h0m1 3h0m2 6h0m6-6h0m2-5h0m12 3h0m0 3h0m11-3h0m8 2h0m1-2h0m11 3h0m28 6h0m4-12h0m30 4h0m2 2h0m12-4h0m12 1h0m17 1h0m18 4h0m8 6h0m10-8h0m41 7h0m-102 3h0m-6 9h0m-7 3h0m-35-11h0m-7 6h0m-12-7h0m0 12h0m-11-3h0m-5-1h0m-12-1h0m-1-1h0m-2 6h0m-1-10h0m-7 10h0m-1-9h0m-1 7h0m-7-7h0m-6 7h0m-2-9h0m-2 5h0m-3 6h0m-20-11h0m0-1h0m-2 1h0m-7-2h0m-11 9h0m-19-1h0m-2 5h0m-4-5h0m-1 3h0m-5 2h0m-14-11h0m-6 0h0m-4 3h0m-2-2h0m-2 1h0m-2 10h0m-7-4h0m-14-2h0m-1-4h0m-13 9h0m-17-10h0m-14-2h0m22 17h0m23 2h0m7 4h0m1-2h0m23 5h0m26-8h0m1 3h0m9 2h0m8 2h0m5 2h0m2-12h0m1 11h0m0-5h0m4-7h0m7 0h0m9 1h0m0 1h0m14 2h0m1 8h0m5 1h0m2-1h0m2-10h0m3-1h0m7 11h0m4 2h0m2-14h0m3 8h0m4-8h0m13 0h0m3 2h0m4 11h0m12 0h0m7-12h0m3 11h0m13-12h0m2 13h0m4-6h0m11 3h0m8 4h0m9-3h0m1 1h0m1-6h0m2-5h0m2 10h0m15 1h0m2-3h0m5-4h0m2 3h0m4 2h0m8-4h0m-19 23h0m-24-14h0m-10 4h0m-37 10h0m-1-6h0m0-3h0m-8 2h0m-2 3h0m-12-7h0m-7 3h0m-2-5h0m-16 6h0m-13 2h0m-6-2h0m-5-4h0m-15 10h0m-11-6h0m-12-7h0m-7 1h0m-5 10h0m-1-7h0m-3 7h0m-24-10h0m-4 0h0m0 9h0m-1-9h0m-20 7h0m-45-4h0m0 19h0m15-6h0m21-2h0m17 10h0m13-7h0m11 0h0m2 8h0m10-4h0m4-7h0m10 2h0m1 6h0m9 0h0m3-1h0m3 1h0m2-2h0m13-1h0m3 5h0m11-1h0m11 3h0m1-12h0m9 8h0m1-5h0m3-2h0m3 7h0m13-3h0m9-2h0m4 3h0m7-4h0m5 12h0m1-7h0m1-2h0m9-4h0m12 6h0m16 3h0m11-8h0m19 0h0m1 4h0m16-4h0m35 3h0m-44 19h0m-17-6h0m-34 5h0m-5-7h0m0 6h0m-14 6h0m-21-9h0m-1-3h0m-2-1h0m-2 5h0m-13 2h0m-11 1h0m-3-2h0m0 4h0m-2-1h0m-5-6h0m-4-3h0m-6 3h0m0 9h0m-2-7h0m-11 0h0m-21 9h0m-4-4h0m-4-7h0m0 4h0m0 4h0m-1 1h0m-4-1h0m-13 0h0m-7-7h0m-7 0h0m-19 5h0m-9 2h0m-30-4h0m-2-3h0m-3 12h0m2 3h0m43 4h0m3 3h0m18-10h0m7-1h0m17 13h0m13-9h0m9 8h0m14-12h0m4 6h0m3 0h0m7 7h0m20-8h0m3-3h0m10 8h0m3-3h0m6 3h0m31-3h0m6-3h0m41 21h0m-34-9h0m-65-1h0m-20 9h0m-22 5h0m-11-8h0m-25 7h0m-5-10h0m-5 10h0m-14 0h0m-2-6h0m-39 1h0m-7 0h0m2 13h0m7 7h0m2-8h0m12-2h0m2 8h0m38-4h0m7-3h0m35-3h0m2 10h0m20 0h0m9-2h0m11-8h0m1 7h0m26 5h0m2-3h0m28 0h0m54-6h0m-5 14h0m-10 3h0m-85-1h0m-1-5h0m-44 13h0m-14-10h0m-3 8h0m-9-8h0m-23 6h0m-1-8h0m-53 3h0m-3 8h0m-22-8h0m-45 15h0m82-1h0m15 2h0m41 4h0m6-3h0m22 6h0m7-11h0m23 2h0m6 2h0m18-1h0m9 10h0m-21 5h0m-21 7h0m-5-7h0m-33-4h0m-47 1h0m-85 8h0m-4 17h0m168-9h0m-39 20h0m-53 3h0m-26 14h0m84 6h0m-42 5h0m-24 23h0m12-13h0m64 14h0m41 14h0m-40-6h0m-35 23h0m-13 3h0m-11 0h0" stroke="#823cfa" stroke-width="4.8" stroke-linecap="round" fill="none"/>
<path transform="scale(0.25)" d="M307 162h0m4-2h0m17-2h0m9 0h0m6-2h0m-7 19h0m-8 1h0m-7-4h0m-7 4h0m-1-1h0m-5-3h0m0-7h0m-2 8h0m0 1h0m-2 1h0m-2-4h0m-8-1h0m-12 14h0m2 0h0m3 6h0m3-10h0m4 2h0m0 9h0m1 2h0m1-13h0m1 11h0m1-2h0m3-7h0m2 10h0m3 1h0m3-10h0m1 1h0m1-1h0m0 6h0m3 0h0m1 1h0m2-10h0m5 4h0m8-3h0m2 2h0m2 0h0m-1 19h0m-5-4h0m-2 4h0m0 5h0m-1-11h0m-1 2h0m-5 11h0m-1-3h0m-2-5h0m-2 2h0m-1 2h0m-8-10h0m0 2h0m-1 5h0m-1-1h0m-2-4h0m-1-2h0m0 2h0m-3 11h0m-1-5h0m-1 3h0m-4-8h0m-3 6h0m-6 2h0m-10 3h0m4 12h0m22-8h0m2-1h0m2 12h0m3-9h0m0 2h0m6-6h0m1 9h0m2-10h0m23 6h0m-35 19h0m-3-4h0m-18-5h0" stroke="#eb8c28" stroke-width="4.8" stroke-linecap="round" fill="none"/>
<path transform="scale(0.25)" d="M289 189h0m44 10h0m-38 4h0m-29 19h0m4 0h0m8-4h0m10 4h0m2-5h0m155-2h0m-100 15h0m-20 8h0m-46-12h0m-4 18h0m4 1h0m2 2h0m8 6h0m1 0h0m0-8h0m1-3h0m13 6h0m13-3h0m8-1h0m74-2h0m-57 23h0m-10-7h0m-11 7h0m-2-2h0m-3 6h0m-6-13h0m-7 7h0m-11 1h0m-5-4h0m-1 2h0m-4-7h0m-4 1h0m-8 8h0m-2-7h0m-5 7h0m-1-9h0m-6 23h0m6 4h0m3-1h0m1-7h0m1 8h0m1-12h0m10 1h0m2 12h0m0-8h0m22-4h0m0-1h0m10 5h0m1-5h0m1 10h0m0-7h0m1 8h0m13-5h0m1-4h0m17 9h0m19-6h0m15 2h0m45 2h0m-24 6h0m-18 6h0m-29 6h0m-17 1h0m0-9h0m-11 8h0m-4-10h0m-9-2h0m-1 7h0m-9 2h0m-2-2h0m-5 6h0m-1 0h0m0-9h0m-2 5h0m-1 4h0m-5-1h0m-4 1h0m-3-9h0m-9 10h0m-2-2h0m0-3h0m-1-4h0m0 2h0m-8 1h0m-1 1h0m-2-2h0m-4 6h0m0-8h0m-2-1h0m-1 5h0m-6 4h0m-4 8h0m1 2h0m5-1h0m4-4h0m0 11h0m13-5h0m10-2h0m1-3h0m4 2h0m10 2h0m1-1h0m8-7h0m1 11h0m4 2h0m7-4h0m1-7h0m13 5h0m7-6h0m4 6h0m5-6h0m0 12h0m8 1h0m5-12h0m3-1h0m4 1h0m4 5h0m59-2h0m13 22h0m-5-7h0m-22-5h0m-32 1h0m-24 10h0m-6 3h0m-11-11h0m-6 7h0m-1-5h0m-3-5h0m-3 6h0m-11 2h0m-6 0h0m0 3h0m-1-11h0m-2 7h0m-1 5h0m-1-10h0m-9 10h0m-1-4h0m-1-4h0m-3 4h0m-2-1h0m-1 3h0m-1 2h0m-10 2h0m-3-12h0m-2 1h0m-2 7h0m-2 3h0m-7-12h0m-1 11h0m-6-6h0m-12 8h0m-1 14h0m3-1h0m11-6h0m9 4h0m1-10h0m1 11h0m1-2h0m1-2h0m3 0h0m0-3h0m1 3h0m2 4h0m5-10h0m1 3h0m0-3h0m8 0h0m2 12h0m5-3h0m4-7h0m0-1h0m18 8h0m0-6h0m9 2h0m8 4h0m3-8h0m4 4h0m1-3h0m9 8h0m3-1h0m3-7h0m6-3h0m1 14h0m1 0h0m12-7h0m1 1h0m4 3h0m11 1h0m25-3h0m28-3h0m5 6h0m1-12h0m18 3h0m3 10h0m41-13h0m3 19h0m-36-1h0m-32 3h0m-43 5h0m-4-5h0m-5 2h0m-9-6h0m-12 6h0m-6 3h0m-1-11h0m-1 5h0m-2-1h0m-1-4h0m-8 10h0m0-9h0m-1 8h0m-7-6h0m-4 8h0m-4-2h0m-3 5h0m-1-1h0m-6-9h0m-3 6h0m0 2h0m-3-9h0m-1 0h0m-4 11h0m-1-5h0m-2-2h0m-1 6h0m-3 0h0m-3-12h0m-2 5h0m-2-6h0m-2 0h0m-1 0h0m-4 2h0m-2 9h0m-1 2h0m-1-8h0m-4 3h0m-7-6h0m-8 1h0m-2 9h0m-1-10h0m-1 2h0m-6 10h0m-1-5h0m-7-1h0m-1-5h0m0 9h0m-3-8h0m0 5h0m-5 2h0m-8 10h0m2 8h0m7-2h0m1-12h0m5 12h0m13-7h0m3 4h0m2-4h0m3-1h0m4-2h0m1 3h0m1 8h0m6-6h0m2-1h0m8 2h0m3-2h0m1 8h0m2-14h0m5 7h0m0 5h0m2-10h0m1 10h0m5 0h0m1-2h0m10-4h0m3-3h0m0 5h0m4 5h0m2-7h0m1 3h0m2 1h0m3-10h0m2 10h0m9 3h0m0-11h0m2 2h0m3-4h0m3 12h0m8-9h0m13 7h0m3-9h0m2 10h0m7-7h0m0-3h0m8 8h0m12 5h0m10-1h0m6-8h0m9 7h0m7 0h0m7-7h0m3-1h0m16 3h0m57 0h0m10 7h0m5-14h0m-13 18h0m-11 6h0m-11 4h0m-40 0h0m-6-6h0m-15 0h0m-13 1h0m-9 3h0m-3 2h0m-4 1h0m-9-2h0m-7-3h0m-4-7h0m-3 2h0m-1 5h0m-2 4h0m-10-2h0m-1-5h0m-2 6h0m-1-8h0m-1 8h0m-3-2h0m-1-5h0m-1-4h0m-1 7h0m-6-3h0m-6 3h0m-8-2h0m-4 1h0m-4 4h0m-2 0h0m-4-1h0m-6-8h0m-1-1h0m-3 12h0m0-7h0m-6-3h0m-6 5h0m0 3h0m-2 3h0m-12-11h0m-1 5h0m0 1h0m-4 2h0m-1-1h0m-1-5h0m-1-4h0m-3 2h0m-1 1h0m-3-1h0m-6-2h0m-2 8h0m-4-9h0m-11 11h0m-25-10h0m-1-1h0m0 18h0m8 0h0m7-3h0m5 8h0m2 6h0m1-2h0m3-8h0m1-3h0m1-1h0m1 11h0m1-7h0m4 9h0m2-9h0m5-2h0m6-2h0m1 13h0m0-9h0m5-3h0m1 5h0m2 4h0m6-7h0m5 2h0m6 4h0m12-4h0m8 9h0m8-8h0m5-3h0m1 9h0m0-7h0m5 3h0m1 3h0m4-9h0m5-1h0m5-1h0m2 5h0m1-1h0m0 5h0m8-2h0m6-6h0m3 6h0m5 3h0m3-4h0m0-5h0m1 5h0m3 1h0m3 1h0m4 1h0m4-9h0m0 13h0m12-8h0m6 7h0m1 1h0m5-9h0m10 4h0m4 6h0m4-1h0m1-7h0m13 2h0m7-1h0m0-7h0m19 6h0m10-1h0m-1 22h0m-1-12h0m-8 10h0m-8-5h0m-4 1h0m-6 4h0m-8-7h0m-5 11h0m-3-5h0m-2 1h0m-3-9h0m0 2h0m-1 1h0m-4 9h0m-9-11h0m-7 6h0m0-5h0m-2 9h0m-8-8h0m-7-4h0m-4 3h0m0-3h0m-8 2h0m0 3h0m-3-2h0m-3 2h0m-2-4h0m-2 7h0m-3 6h0m-2-3h0m-1-10h0m-2 6h0m-9 5h0m-1-7h0m-6 4h0m-5-7h0m-8 11h0m-6-9h0m-1 7h0m-1 0h0m-3-6h0m-4 2h0m-1 1h0m-9 1h0m-6 4h0m-1-7h0m-1 0h0m-4-6h0m-4 2h0m-7 11h0m0-5h0m0 3h0m-1-11h0m-1 1h0m-1 7h0m-4 2h0m0 1h0m-1-6h0m-3 3h0m-7-1h0m-4 1h0m-5-3h0m0 1h0m-1-3h0m-9-1h0m0 12h0m0-10h0m-2 9h0m-1-8h0m-3 7h0m-6 1h0m0-9h0m-1-2h0m-5 0h0m-2 8h0m-1-3h0m0-1h0m-7 1h0m-19 7h0m1 9h0m10-4h0m3 2h0m5 7h0m2 0h0m9-2h0m3-9h0m6 4h0m14 2h0m16-3h0m5-1h0m2-4h0m1 0h0m9 11h0m2-4h0m2-4h0m4-3h0m4 7h0m1 7h0m5-14h0m10 3h0m3 10h0m2-8h0m4 3h0m1 2h0m2 3h0m1-4h0m14-4h0m4 6h0m5-6h0m6 2h0m5 1h0m10-2h0m7-1h0m3 6h0m2-10h0m2 6h0m2 6h0m12-13h0m0 11h0m5-3h0m3-6h0m13 11h0m2 0h0m4-5h0m10 4h0m2-2h0m13-3h0m5-2h0m5 4h0m21 4h0m-10 2h0m-17 9h0m0-7h0m-5 8h0m-6 2h0m-1-10h0m-6 5h0m-3-1h0m0 5h0m-5 2h0m0-1h0m-9 2h0m-4-13h0m-10 2h0m-4 6h0m-5 3h0m-1-11h0m-12 13h0m0-14h0m-8 1h0m-1 11h0m0-10h0m0 3h0m-3 5h0m0-9h0m-6 6h0m-4-6h0m-10 6h0m0 3h0m-1-6h0m-8 8h0m0-4h0m-8-3h0m-8 4h0m-1-6h0m-7 2h0m-3 9h0m-3-5h0m-7-7h0m-2 5h0m-1 6h0m-1-11h0m-2 3h0m-3 0h0m-5 3h0m-3-2h0m-3 1h0m0-4h0m0-1h0m-2-1h0m-2 6h0m-2-2h0m0 2h0m-3 4h0m0-9h0m-3-2h0m-8 1h0m0 6h0m-4-7h0m-1 9h0m-2-4h0m-1 7h0m-7-6h0m-12 2h0m-1-4h0m0 8h0m-1-4h0m-2-2h0m0 2h0m-2-2h0m-6 7h0m-4-4h0m-12 5h0m-7-8h0m-6 16h0m4 4h0m2-7h0m5-3h0m3 9h0m4-8h0m1 5h0m8 6h0m5-6h0m1-2h0m6 4h0m1-7h0m8 11h0m11 1h0m2-12h0m2 4h0m1-6h0m0 4h0m1-1h0m2 8h0m0-6h0m4-3h0m1 9h0m3-3h0m2 6h0m3-14h0m4 6h0m2 4h0m1-10h0m1 0h0m1 5h0m4-5h0m11 4h0m0 2h0m0 1h0m1 1h0m2 0h0m2-8h0m4 11h0m4-10h0m4 12h0m1-3h0m7 1h0m2-11h0m6 1h0m3 10h0m2-8h0m2 2h0m1 4h0m10-5h0m2 4h0m21 1h0m5-9h0m2 10h0m4 4h0m3-14h0m0 4h0m6 7h0m3 1h0m6-11h0m2 8h0m1-8h0m8 2h0m8 5h0m5-1h0m8-7h0m0 8h0m6-8h0m3 0h0m0 5h0m6-1h0m8 0h0m5-1h0m7 5h0m1 4h0m11-5h0m2 2h0m16 13h0m-30 2h0m-6-6h0m-15-1h0m-9 8h0m-6-4h0m-14 8h0m-5-10h0m-15-4h0m-1 5h0m-4 4h0m-1-5h0m-9 9h0m-12-5h0m-5 3h0m-10-5h0m-3-6h0m0 12h0m-8-1h0m-4-9h0m-1 7h0m-2 1h0m-2-6h0m-2 7h0m-3-7h0m0 9h0m-4-13h0m-8 8h0m-5 5h0m-2-12h0m-1-1h0m0 2h0m-1 0h0m0 4h0m-1 6h0m-1 0h0m-4-1h0m-1 2h0m-1-10h0m-7 2h0m-2-4h0m-2-1h0m-6 8h0m-2-1h0m0-3h0m-1 8h0m-2-5h0m-1 1h0m-1-1h0m0 3h0m-3-7h0m-4 11h0m-7-10h0m-6 1h0m-3 5h0m-1 2h0m-3 1h0m-1 1h0m-3-2h0m-1-1h0m-1-3h0m-1-6h0m-10 12h0m-10-11h0m0 8h0m-1 1h0m-1-1h0m-3 3h0m-4-12h0m-2 7h0m-8-4h0m-1 3h0m-1 0h0m-2 2h0m-5 0h0m-17 10h0m27-5h0m1 11h0m12-3h0m2 6h0m4-13h0m0 1h0m2 0h0m1 4h0m0 5h0m4-4h0m1 0h0m3 1h0m0 5h0m4-3h0m1-5h0m13 5h0m2 1h0m3-10h0m3 4h0m4 3h0m1-3h0m1 3h0m5 1h0m2-6h0m0 5h0m2-3h0m2 2h0m2-3h0m0 4h0m1 0h0m1-2h0m5-4h0m2 6h0m3-4h0m3 0h0m2-3h0m0 9h0m4-2h0m2 1h0m0-9h0m1 6h0m0 5h0m4-9h0m2 3h0m6 1h0m2 7h0m5-8h0m3 7h0m7-12h0m5 8h0m6-6h0m6 6h0m6 2h0m12 2h0m10-1h0m4-1h0m17-9h0m16 0h0m49 4h0m-41 11h0m-40 7h0m-29 3h0m-5-1h0m-2-10h0m-12 3h0m-9 11h0m0-11h0m0 3h0m-11 2h0m-7-7h0m-6 7h0m-2-1h0m-4 5h0m0-11h0m-6 12h0m-4 1h0m-1-13h0m-2 7h0m-2 1h0m-5 5h0m0-8h0m-3 8h0m0-1h0m-1-8h0m-1 7h0m-2-9h0m-3 4h0m-2 2h0m-1 3h0m-16-1h0m-7-2h0m-2-8h0m-2 1h0m-4 5h0m-5 7h0m-1-4h0m-11 4h0m-1-4h0m-4 0h0m0-2h0m-2 4h0m-10-11h0m-7 13h0m-2-14h0m0 3h0m-2 10h0m-11 6h0m8 5h0m7-3h0m1 8h0m15-4h0m4-9h0m4 0h0m0-1h0m1 8h0m5-2h0m1 5h0m6 1h0m2-3h0m3-2h0m2-3h0m4 2h0m1 6h0m1-3h0m5 3h0m2-5h0m4 5h0m2-10h0m2 8h0m1-6h0m3-1h0m1 11h0m1-4h0m2-8h0m4-1h0m1 1h0m2 2h0m5 2h0m2 5h0m2-7h0m5 1h0m1-4h0m4 11h0m2 2h0m4-6h0m1 0h0m3 6h0m0-9h0m3-2h0m1-3h0m1 5h0m1 5h0m3-2h0m1-4h0m1 10h0m8-3h0m10 2h0m5 1h0m5-11h0m0 4h0m2 1h0m4 2h0m4-6h0m5-1h0m2 0h0m4 9h0m11 0h0m8-6h0m4 8h0m16-14h0m2 24h0m-51 4h0m-1-8h0m0 5h0m-11-10h0m0 11h0m-10-8h0m-2 5h0m-1-4h0m-7 6h0m-2-4h0m-3 8h0m-1-13h0m-2-1h0m-1 5h0m-2 7h0m-4-10h0m-3 4h0m0-1h0m-12 8h0m-3-2h0m-1-4h0m-1 0h0m-2 0h0m-3 7h0m0-8h0m-1 2h0m0 4h0m-1-3h0m0 2h0m-1-5h0m-2-6h0m-5 13h0m-4-11h0m-1 1h0m-2-1h0m-5 7h0m0 4h0m-3-7h0m-1 1h0m-2-4h0m-1-2h0m-3 11h0m-1-3h0m-6-9h0m-1 4h0m-6-3h0m-4 2h0m-4 3h0m-1 7h0m-6-5h0m0-7h0m-17 8h0m0-5h0m-7 1h0m-3-5h0m-2 14h0m-9-3h0m6 5h0m12 8h0m4 4h0m3-11h0m0 1h0m1-2h0m7 8h0m5 4h0m0-4h0m1 3h0m1-8h0m3-3h0m0 13h0m6-12h0m3 0h0m2 2h0m3 2h0m4 5h0m1-6h0m0 8h0m7-6h0m1-4h0m6-2h0m5 7h0m2 4h0m4-9h0m0 3h0m3-5h0m0 12h0m5-4h0m1-4h0m1-5h0m3 1h0m6 4h0m3 0h0m0 9h0m0-11h0m6-1h0m2 8h0m1 0h0m1-5h0m0 1h0m0 5h0m3-4h0m2 3h0m2 1h0m2-4h0m0-5h0m1 4h0m15 3h0m1 4h0m4-10h0m5 1h0m2 6h0m5-8h0m3-2h0m8 6h0m18 3h0m0 3h0m6-10h0m10 0h0m-35 18h0m0-1h0m-1 7h0m-9-11h0m-4 9h0m-5 5h0m-1-2h0m-3 1h0m-1-10h0m-11 10h0m-1-1h0m-6 1h0m-6-12h0m-7 10h0m0-10h0m-5 9h0m-6-1h0m-2 5h0m-1-6h0m-1-2h0m-3 5h0m0-11h0m-1 0h0m-1 5h0m-6-5h0m-1 2h0m-1 9h0m-4-7h0m-2 8h0m-1-3h0m-1-9h0m-1 3h0m-4 10h0m0-5h0m-2 6h0m-5-6h0m0-6h0m-2-2h0m-2 5h0m-2 4h0m-6-3h0m-2 5h0m-1-3h0m-4-4h0m-9-2h0m-4 9h0m-2-5h0m-13-6h0m-2 11h0m-4-6h0m-1 1h0m1 14h0m11 3h0m5-5h0m3-3h0m0 4h0m2 10h0m0-2h0m1-2h0m3-4h0m2-6h0m6 11h0m7-6h0m2 8h0m4-13h0m6 14h0m3-13h0m2 1h0m3 0h0m2 8h0m2 2h0m0 1h0m2-13h0m0 14h0m1-11h0m5 11h0m4-7h0m2-2h0m1-4h0m8 9h0m1 3h0m2-3h0m3-3h0m6 4h0m3-10h0m4 13h0m3-8h0m3 0h0m0-6h0m1 1h0m1 5h0m4 4h0m3-7h0m2-3h0m2 14h0m2-6h0m2 4h0m2-4h0m2-1h0m3-1h0m4 5h0m2 0h0m0-1h0m2 1h0m16-7h0m1-1h0m9 1h0m2 24h0m-18-8h0m-4 8h0m-7-13h0m-7 4h0m-6 8h0m-1-7h0m-14 0h0m-10 6h0m-8-6h0m-7-1h0m-4-2h0m-9 0h0m-3 1h0m0 4h0m-3 0h0m-1-1h0m-1 2h0m-9-6h0m-1 5h0m-8-6h0m-17 10h0m-7-3h0m-4-5h0m-4 6h0m-8-2h0m0-4h0m-3 6h0m-1-8h0m-5 8h0m9 17h0m6-9h0m5 7h0m7-9h0m1 9h0m6-6h0m7 0h0m1 1h0m5 10h0m11-1h0m5-4h0m4 5h0m0-3h0m4-5h0m14-1h0m3-4h0m2 2h0m2 9h0m2-9h0m9-2h0m4 11h0m5 1h0m3-5h0m3-7h0m21 9h0m5-3h0m18-4h0m14 10h0m20 12h0m-20 0h0m-48 0h0m-7-1h0m-7-1h0m-4-7h0m-10 4h0m-4 6h0m-3 3h0m-4-14h0m-3 1h0m0 13h0m-2-8h0m-3 6h0m-2-1h0m0-6h0m-6-4h0m-4 4h0m-6 1h0m-2-5h0m-3 6h0m-4 3h0m-5-7h0m0 9h0m-2-12h0m0 4h0m-14-1h0m-2 1h0m-9 0h0m9 17h0m12-5h0m4 6h0m1 0h0m4 6h0m3-13h0m18 10h0m1 2h0m1-8h0m22 5h0m1-5h0m2 3h0m2-5h0m10 7h0m3-6h0m3 10h0m10-11h0m23 1h0m27 1h0m-66 11h0m-3 1h0m-1 11h0m-38-11h0m-15-1h0m15 15h0" stroke="#f55528" stroke-width="4.8" stroke-linecap="round" fill="none"/>
<path transform="scale(0.25)" d="M423 489h0m19 1h0m-8 18h0m-2 0h0m-12 11h0m2 2h0m1-4h0m13 3h0m-10 8h0m-1 8h0m-8-7h0m-5 25h0m3-3h0m1-9h0m3 5h0m1-7h0m2 2h0m5 2h0m12-4h0m-23 21h0m-2 5h0m-6 2h0m-9-10h0m11 25h0m2-3h0m1 3h0m8-8h0m4 4h0m-2 12h0m-1-3h0m-1 7h0m-15 4h0m-1-13h0m-1 11h0m-7-6h0m-39 20h0m46-1h0m0 4h0m1-14h0m0 13h0m7-5h0m5-5h0m-4 24h0m-2-10h0m-2 3h0m-7-1h0m0 2h0m0 6h0m-8-3h0m0 2h0m0-1h0m-2 2h0m-1 1h0m-4-2h0m-4-3h0m-1 4h0m-2-6h0m-4 1h0m-2-6h0m-3 11h0m0-5h0m-7-6h0m-15 18h0m4 5h0m2-3h0m2 5h0m9-10h0m2 8h0m3-6h0m1 4h0m4-2h0m1 4h0m7-4h0m1-3h0m4 1h0m0 1h0m2 0h0m6-4h0m5 8h0m1-8h0m4 6h0" stroke="#55cd7d" stroke-width="4.8" stroke-linecap="round" fill="none"/>
<path transform="scale(0.25)" d="M355 224h0m-64 71h0m-43 31h0m-2 18h0m79-13h0m27 10h0m-21 11h0m-90 6h0m-1-12h0m-3 13h0m-12 0h0m18 10h0m85-1h0m27-7h0m9 2h0m-111 23h0m-2 3h0m-15-14h0m-3 7h0m-6 6h0m-2 7h0m1 9h0m1-1h0m4-11h0m0 9h0m9-10h0m10-1h0m0 2h0m69 6h0m71-6h0m-113 27h0m-10-8h0m-2 6h0m-3-11h0m-35 2h0m-1 5h0m-5-5h0m-3 3h0m-5 23h0m2-12h0m1 11h0m4-1h0m4-4h0m5 5h0m1-3h0m2 4h0m3-14h0m116 27h0m-14-7h0m-18 6h0m-67-7h0m0 1h0m-17 9h0m-1-11h0m-2 4h0m-10 5h0m-3-2h0m-1-4h0m-2 7h0m0-5h0m-3 0h0m-4 4h0m2 13h0m3 3h0m5-12h0m1 5h0m0 3h0m2-5h0m0 9h0m6-8h0m2-5h0m3 11h0m10-6h0m45 8h0m2-7h0m40 2h0m25-2h0m-38 11h0m-17 2h0m-49-1h0m-18 3h0m-5-6h0m-3 6h0m-2-5h0m-2 2h0m-3 7h0m-3 1h0m-3 1h0m-3 1h0m0-5h0m-1-8h0m0 9h0m-1-2h0m-2 7h0m3 13h0m6 1h0m2-6h0m2 0h0m2-4h0m2 6h0m1-3h0m0 1h0m125-4h0m66 23h0m-41 1h0m-141-7h0m-5 2h0m-2 1h0m-2-8h0m-1 11h0m-1-9h0m-3-2h0m-4 0h0m-2 0h0m-1 6h0m0 6h0m-3-10h0m-3 9h0m-2 0h0m-1-3h0m-1 10h0m2 4h0m1-6h0m3 5h0m2 0h0m2-2h0m1 1h0m0 4h0m0 4h0m2-10h0m3 8h0m1 3h0m4-13h0m61 8h0m51-2h0m-2 16h0m-104 2h0m-2 3h0m-1-9h0m-6 3h0m-4 5h0m-1-1h0m0 2h0m-1-4h0m-1 5h0m-1-8h0m-5 1h0m0-3h0m-1 13h0m0 1h0m1 3h0m0 3h0m1 4h0m2-12h0m1 11h0m2 1h0m1 1h0m2-12h0m1 12h0m0-12h0m5 7h0m3 2h0m0-3h0m2-7h0m34 3h0m83 24h0m-95-5h0m-13-8h0m-1 12h0m-2-1h0m-1-10h0m-1 12h0m-3-11h0m-6 9h0m-2 2h0m-3-5h0m0 2h0m-1 0h0m-1-3h0m-1 6h0m-1-9h0m-1 5h0m-3-5h0m-2 1h0m-1-1h0m9 20h0m3-7h0m1 9h0m0-7h0m2-2h0m1 9h0m1 2h0m0-1h0m2-8h0m1-4h0m1 4h0m2 10h0m1-8h0m5 2h0m1-6h0m2 5h0m6 0h0m6 7h0m2-8h0m3 2h0m40 4h0m22-3h0m41 11h0m-83 5h0m-4-7h0m-20 11h0m0-14h0m-5 2h0m-3 1h0m-1 2h0m-5 5h0m0-5h0m0 9h0m-2-7h0m-2 5h0m-1-1h0m-1 1h0m-6 2h0m0-1h0m-2-13h0m-3 5h0m-1-1h0m0 9h0m-1-13h0m-1 2h0m10 14h0m7 4h0m1 2h0m3-3h0m0 2h0m1 2h0m5 6h0m1-2h0m0-3h0m0 1h0m2-3h0m1 4h0m5-9h0m4 3h0m0-5h0m2 12h0m2-2h0m12-9h0m47 4h0m42 9h0m-32 2h0m-31 9h0m-9 0h0m-6 3h0m-12-2h0m-8 3h0m-1 0h0m-3-5h0m-1 3h0m-3-7h0m0 9h0m-2-5h0m0 4h0m0-3h0m-3-5h0m-3-5h0m-12 8h0m18 10h0m0 1h0m1 0h0m0 6h0m5-10h0m3 8h0m1-7h0m1 5h0m1 4h0m1 3h0m1-11h0m1 5h0m2-5h0m2 12h0m3-9h0m5-2h0m2-3h0m0 8h0m6 3h0m16-1h0m10 9h0m-18 4h0m-10-8h0m-8 8h0m0 2h0m-1-10h0m-13 4h0m-2 0h0" stroke="#6e5fd2" stroke-width="4.8" stroke-linecap="round" fill="none"/>
<g font-size="6.15" font-weight="bold" fill="#111">
<text x="58.9" y="56.3">VCT_TP63_4</text>
<text x="133.5" y="73.9">VCT_LDHA_5</text>
<text x="81" y="84.4">VCT_TP63_5</text>
<text x="118.5" y="82.5">VCT_LDHA_1</text>
<text x="151.9" y="110.9">VCT_LDHA_4</text>
<text x="122" y="121.1">VCT_LDHA_3</text>
<text x="143.5" y="121.1">VCT_LDHA_2</text>
<text x="61.3" y="122.5">VCT_TP63_3</text>
<text x="41" y="138.5">VCT_TP63_1</text>
<text x="80.4" y="153.5">VCT_TP63_2</text>
</g>
<circle cx="220.4" cy="60.5" r="2.75" fill="#f0389a"/>
<text x="225" y="62.7" font-size="6.1" fill="#222">VCT_LDHA_5</text>
<circle cx="220.4" cy="68.56" r="2.75" fill="#f0c896"/>
<text x="225" y="70.76" font-size="6.1" fill="#222">VCT_LDHA_4</text>
<circle cx="220.4" cy="76.62" r="2.75" fill="#5f87eb"/>
<text x="225" y="78.82" font-size="6.1" fill="#222">VCT_LDHA_3</text>
<circle cx="220.4" cy="84.68" r="2.75" fill="#82fabe"/>
<text x="225" y="86.88" font-size="6.1" fill="#222">VCT_LDHA_2</text>
<circle cx="220.4" cy="92.74" r="2.75" fill="#87afe1"/>
<text x="225" y="94.94" font-size="6.1" fill="#222">VCT_LDHA_1</text>
<circle cx="220.4" cy="100.8" r="2.75" fill="#823cfa"/>
<text x="225" y="103" font-size="6.1" fill="#222">VCT_TP63_5</text>
<circle cx="220.4" cy="108.86" r="2.75" fill="#eb8c28"/>
<text x="225" y="111.06" font-size="6.1" fill="#222">VCT_TP63_4</text>
<circle cx="220.4" cy="116.92" r="2.75" fill="#f55528"/>
<text x="225" y="119.12" font-size="6.1" fill="#222">VCT_TP63_3</text>
<circle cx="220.4" cy="124.98" r="2.75" fill="#55cd7d"/>
<text x="225" y="127.18" font-size="6.1" fill="#222">VCT_TP63_2</text>
<circle cx="220.4" cy="133.04" r="2.75" fill="#6e5fd2"/>
<text x="225" y="135.24" font-size="6.1" fill="#222">VCT_TP63_1</text>
<path d="M37.1 158.5V181.3H60" stroke="#444" stroke-width="0.55" fill="none"/>
<path d="M35.7 159.6L37.1 156.4L38.5 159.6ZM59 179.9L62.2 181.3L59 182.7Z" fill="#222"/>
<text x="38.5" y="187.6" font-size="4.1" fill="#b5b5b5">UMAP_1</text>
<text x="33.3" y="180" font-size="4.1" transform="rotate(-90 33.3 180)" fill="#b5b5b5">UMAP_2</text>
</g>
<g id="pEFG">
<path d="M38.5 498.3V657.5H218.5" stroke="#555" stroke-width="0.5" fill="none"/>
<path d="M70.3 657.5v1.6M107.3 657.5v1.6M144.3 657.5v1.6M181.3 657.5v1.6M218.3 657.5v1.6M38.5 523.2h-1.6M38.5 571.7h-1.6M38.5 620.2h-1.6" stroke="#555" stroke-width="0.5" fill="none"/>
<g font-size="4.3" fill="#444">
<text x="70.3" y="663.19" text-anchor="middle">−20</text>
<text x="107.3" y="663.19" text-anchor="middle">−10</text>
<text x="144.3" y="663.19" text-anchor="middle">0</text>
<text x="181.3" y="663.19" text-anchor="middle">10</text>
<text x="218.3" y="663.19" text-anchor="middle">20</text>
<text x="36.1" y="524.75" text-anchor="end">0</text>
<text x="36.1" y="573.25" text-anchor="end">−5</text>
<text x="36.1" y="621.75" text-anchor="end">−10</text>
</g>
<path d="M62.16 520.29L66.6 519.13L92.13 519.13L99.9 516.12L106.19 513.79L122.1 512.53L135.05 511.95L146.15 513.02L156.51 515.15L166.5 517.67L175.38 520.48L184.26 524.66L193.51 530.18" stroke="#111" stroke-width="0.9" fill="none" stroke-linejoin="round"/>
<path d="M193.51 530.18L197.95 526.11L203.5 520.29L206.46 517.38" stroke="#111" stroke-width="0.9" fill="none" stroke-linejoin="round"/>
<path d="M193.51 530.18L188.7 567.24L183.89 601.38" stroke="#111" stroke-width="0.9" fill="none" stroke-linejoin="round"/>
<circle cx="193.51" cy="530.18" r="2.4" fill="#111"/>
<text x="193.51" y="531.34" font-size="3.2" fill="#fff" text-anchor="middle">1</text>
<path transform="scale(0.25)" d="M206 2053h0m1 1h0m2-3h0m4-2h0m1 5h0m1-4h0m6 3h0m0 1h0m2-4h0m1-1h0m2 5h0m1-5h0m1 4h0m1 1h0m2-4h0m0 1h0m2 3h0m0-2h0m2 0h0m0-3h0m1 4h0m0-1h0m0-1h0m2-3h0m0 3h0m2 1h0m2-1h0m1 2h0m6 11h0m-3-3h0m0 4h0m0-5h0m0 8h0m-1-10h0m0 8h0m-1 1h0m0-6h0m-2 7h0m0-6h0m0-5h0m-1-1h0m0-1h0m0 8h0m-1-6h0m0 9h0m0 3h0m-1-8h0m0-5h0m-1 6h0m0-1h0m-1-2h0m0 9h0m0-5h0m-1-7h0m-2 4h0m0-5h0m0 9h0m-1-2h0m-2 5h0m-2 2h0m-1 0h0m0-12h0m0 9h0m0-6h0m-1 1h0m0 8h0m-3-12h0m0-2h0m-1 8h0m0-6h0m-1 12h0m0-14h0m-1 7h0m-1 7h0m0-1h0m0-6h0m-1 4h0m-2 0h0m-3-9h0m0-1h0m0 13h0m-1-2h0m0-11h0m-1-1h0m0 6h0m-2-1h0m0 4h0m0-1h0m-1 5h0m0-10h0m0-2h0m-1 5h0m-1 5h0m-2-3h0m-1-3h0m0-1h0m0-3h0m-1 2h0m0 9h0m0-5h0m0-5h0m0 9h0m-1-10h0m-1 11h0m0-10h0m-1 5h0m0-4h0m-1 4h0m-1-4h0m-1 0h0m-1 5h0m0-1h0m-1 2h0m-2 2h0m-1-1h0m0 3h0m0-5h0m-2 4h0m-3 10h0m0-3h0m1-1h0m0-1h0m0-2h0m1 13h0m1 0h0m1-10h0m1-1h0m0 4h0m0-5h0m0-1h0m0 9h0m1-6h0m0 4h0m1-6h0m0 3h0m1 9h0m3-10h0m0 2h0m0-5h0m1 14h0m0-7h0m0-1h0m0-1h0m1 4h0m1 0h0m0 4h0m0-1h0m0-7h0m1 0h0m2-1h0m0 7h0m0-11h0m1 11h0m1-7h0m0 9h0m0-1h0m1 1h0m0-1h0m0-10h0m1 0h0m0 2h0m1 7h0m0-6h0m1 4h0m0-2h0m0-2h0m1-5h0m2 11h0m1-6h0m0-1h0m0 8h0m0-5h0m1 6h0m0-1h0m0-11h0m0 13h0m1-8h0m2 6h0m1-9h0m0 4h0m1 2h0m0 5h0m1-4h0m0-5h0m1-1h0m0 9h0m0-1h0m1-3h0m1-5h0m1 8h0m0-2h0m1 2h0m1-11h0m0 6h0m0-5h0m2 2h0m0-3h0m0 4h0m1-3h0m0 2h0m0 4h0m1-6h0m0-1h0m0-1h0m1 0h0m0 3h0m1 5h0m1 1h0m0 4h0m0-13h0m1 11h0m0-3h0m1-6h0m1 7h0m0 5h0m1-13h0m1 9h0m1 4h0m0-6h0m0-5h0m0 8h0m1-9h0m1 1h0m0 9h0m0-5h0m0 4h0m0-11h0m1 8h0m0-5h0m1-2h0m0-1h0m0 13h0m0-10h0m0 9h0m1 1h0m0-10h0m2 9h0m1-6h0m0 4h0m0-1h0m0 18h0m-1-9h0m0 3h0m0 2h0m-1-7h0m0 13h0m-1-13h0m0 12h0m-1-12h0m0 3h0m-1-3h0m0 4h0m0 9h0m-1-3h0m-2-3h0m0 2h0m0-5h0m0 9h0m-1-14h0m0 13h0m0-5h0m-1 2h0m0-5h0m0 9h0m0-10h0m0 9h0m0-5h0m0-1h0m-1 1h0m0 2h0m0-5h0m-1 1h0m0 7h0m0-1h0m-1 1h0m0-1h0m-1-6h0m0 4h0m0-5h0m0-5h0m-2 2h0m-2-1h0m0 13h0m-1-5h0m-1-9h0m-1 11h0m-1-9h0m-1 8h0m0-3h0m0-5h0m-1 11h0m0-1h0m0-5h0m0 3h0m-1 4h0m0-14h0m0 4h0m-1 10h0m-1-12h0m0-2h0m-1 12h0m0-6h0m0 3h0m0-1h0m-1 6h0m0-1h0m0-6h0m0 4h0m-1-8h0m0 11h0m-1-2h0m-1-3h0m0 4h0m0-7h0m-1-6h0m-1 4h0m0-1h0m0 4h0m0-5h0m-1 11h0m0-10h0m0 4h0m-1-3h0m0 9h0m-1-3h0m-1 3h0m0-10h0m0 4h0m0-5h0m0 4h0m0-5h0m0 4h0m-1-2h0m0 4h0m0-5h0m0 12h0m-1-14h0m0 13h0m-2-9h0m0 9h0m-1-8h0m0 4h0m0-5h0m0-1h0m0 9h0m-1 1h0m0-2h0m0-11h0m-1 10h0m0-10h0m0 3h0m-1-1h0m0 3h0m-1 4h0m-1-2h0m-1-4h0m-1-3h0m0 3h0m-1 1h0m-1 7h0m-1-11h0m-1 12h0m0 2h0m-1-10h0m-1 10h0m-1-2h0m0 2h0m-1-2h0m0-2h0m0 4h0m0-10h0m-1 2h0m-1-5h0m0 9h0m-1-8h0m2 24h0m3-8h0m0-2h0m1-1h0m1 1h0m0 3h0m1 2h0m0-5h0m3 7h0m1-4h0m1 6h0m0-5h0m0 3h0m0 4h0m0-10h0m1-2h0m0 7h0m1 5h0m0-1h0m0-7h0m4 8h0m1-5h0m0 3h0m1-2h0m1-3h0m0-1h0m0 3h0m1 3h0m0 4h0m1-7h0m0-5h0m1 3h0m1 7h0m0-8h0m1 5h0m0 2h0m1 1h0m0-5h0m0 3h0m0 3h0m0-5h0m1-1h0m1 7h0m0-5h0m0-5h0m0 4h0m0-6h0m1 12h0m0-14h0m0 8h0m1-6h0m1 8h0m0-5h0m0-5h0m0 3h0m0 4h0m1 4h0m0-6h0m0 9h0m0-1h0m1-8h0m1 2h0m0 7h0m0-5h0m1-7h0m1 9h0m1-4h0m0-6h0m1 11h0m0 2h0m2-7h0m0-6h0m0 9h0m0-10h0m0 8h0m1 2h0m0-6h0m1-3h0m0 9h0m0-6h0m0 9h0m1-12h0m0 4h0m1 9h0m0-5h0m1-4h0m0-5h0m1 10h0m1-8h0m1 5h0m0 3h0m0-5h0m1 1h0m1-5h0m0 8h0m0 3h0m1-12h0m1 8h0m0-5h0m1 9h0m0-11h0m1 2h0m0 7h0m0 4h0m1-2h0m0-6h0m1 1h0m0-2h0m0 3h0m1 0h0m0 4h0m1-6h0m0-4h0m1 0h0m0 13h0m-1 4h0m-3 10h0m-1-14h0m-2 3h0m0 8h0m-2-10h0m-1 12h0m-1-12h0m0 9h0m-1-7h0m-2 1h0m-5-3h0m-1 2h0m-2-1h0m0 2h0m-1 0h0m0 6h0m-1-8h0m0 1h0m-2 1h0m-1-4h0m-3 3h0m-1 0h0m-1-3h0m-2 13h0m0-13h0m-1 1h0m0 13h0m-5-3h0m0-6h0m0 8h0m-1-2h0m0-7h0m0 9h0m-4-5h0m-2 1h0m0 19h0m0-11h0m3 1h0m2 2h0m1-1h0m0 3h0m1-5h0m1 2h0m16-4h0m8 4h0m1 3h0m3-6h0m1 5h0m0-5h0m2 1h0m4 2h0m-8 21h0m0-2h0m-1-2h0m-7-3h0m-9-1h0m-5 3h0m-1-1h0m0 4h0m0-2h0m0-5h0m-3-1h0m-3 13h0m0-2h0m-1 10h0m0-3h0m0 4h0m1 4h0m0-1h0m0-1h0m0 4h0m1-9h0m0 14h0m0-3h0m-1 3h0m-1-3h0" stroke="#153049" stroke-width="7.36" stroke-linecap="round" fill="none"/>
<path transform="scale(0.25)" d="M251 2051h0m2 3h0m0-3h0m1 0h0m1 1h0m3 0h0m4 0h0m0-1h0m26-1h0m0-3h0m1-1h0m12 4h0m3-4h0m3 6h0m0 6h0m-1 11h0m0-14h0m0 4h0m0 4h0m-1-4h0m0-1h0m-3 4h0m0-1h0m-1 4h0m0 4h0m-3-13h0m-2 5h0m0 4h0m-1-3h0m-2-4h0m0 6h0m0-5h0m-1-3h0m0 11h0m-4-7h0m0 7h0m-4-5h0m0-7h0m-1 0h0m0 10h0m-1-1h0m0-5h0m-19-1h0m0 3h0m-2-5h0m0 9h0m-1-6h0m-1 4h0m-1 5h0m-1-13h0m0 14h0m0-1h0m-1-5h0m-2-2h0m0 8h0m0-10h0m-1 8h0m-1-3h0m-1 3h0m0-11h0m-1 2h0m0 9h0m0-1h0m-1 10h0m1-3h0m0 9h0m0-1h0m0-10h0m1 11h0m1-6h0m1-2h0m0 2h0m1 4h0m0-10h0m2 12h0m0-5h0m1-1h0m0-2h0m0-1h0m0 9h0m1 0h0m0 2h0m2-4h0m1-5h0m1 5h0m1-7h0m19 9h0m1-2h0m1-9h0m3 4h0m0 6h0m1-7h0m0 9h0m0-1h0m0-10h0m0-1h0m4 12h0m4-5h0m0 3h0m0-2h0m1-6h0m0 4h0m0 4h0m3-11h0m1 10h0m0-5h0m0 4h0m0-1h0m2-6h0m2 6h0m0 1h0m1-8h0m0 7h0m0-5h0m0 9h0m2-6h0m1-2h0m0 8h0m0 17h0m0-11h0m-2-3h0m0 12h0m-1-12h0m0 9h0m0-5h0m0 2h0m0-5h0m0 9h0m0-5h0m-1 3h0m0 4h0m0-5h0m0-6h0m0 9h0m-3-8h0m0-1h0m0 8h0m0 3h0m-1-8h0m0 2h0m-1 5h0m0-10h0m-3 7h0m0-1h0m-1 4h0m0-10h0m0 7h0m-1-6h0m-3 1h0m0 3h0m-1 1h0m-2 7h0m-1-12h0m0 3h0m0 9h0m0-1h0m-3-8h0m0 8h0m-1-3h0m0-10h0m0 13h0m0-5h0m0-6h0m-1 0h0m-21-2h0m0 9h0m0-6h0m0-1h0m0 3h0m0 9h0m-1-9h0m0-5h0m-1 9h0m0 4h0m0-5h0m0-5h0m0 9h0m0-1h0m-1-3h0m0 6h0m-1-7h0m0-7h0m0 4h0m-2 10h0m-1 0h0m0-1h0m0-5h0m0-6h0m-1 8h0m0-9h0m-1 1h0m0-2h0m-1 14h0m0-7h0m0-1h0m-1-6h0m0 14h0m-1-10h0m-1 10h0m0-14h0m0 23h0m0 2h0m1-4h0m0-6h0m0 13h0m0-6h0m2-2h0m1 7h0m0-5h0m0 4h0m0-5h0m0-3h0m1-3h0m0 11h0m0-5h0m1-1h0m0 3h0m0-5h0m0 8h0m1-4h0m0 2h0m1-2h0m1-7h0m0 8h0m0-1h0m1 1h0m1 1h0m1-9h0m0 12h0m1-10h0m0 9h0m1-1h0m19-1h0m1-6h0m2 11h0m0-12h0m2 7h0m0 4h0m0-7h0m1-5h0m0 3h0m1-2h0m2 10h0m6-7h0m0 9h0m1-1h0m2-5h0m1 1h0m0 4h0m0-1h0m0-1h0m1-4h0m4-7h0m1 3h0m1-3h0m1 7h0m-3 18h0m-1-4h0m0 8h0m0-5h0m0 4h0m0-10h0m0 4h0m-1 2h0m-1 4h0m-1 0h0m0-11h0m0 9h0m-3-4h0m-1-4h0m0 2h0m0-1h0m-1-3h0m0-1h0m0 9h0m0-5h0m0 9h0m0-11h0m0 9h0m-1-11h0m0 4h0m0 6h0m-3-6h0m-1-2h0m0 6h0m-1 2h0m0-3h0m-1 0h0m0 7h0m-5-6h0m0 2h0m-1-7h0m0 3h0m0-1h0m0 9h0m0-10h0m-1 6h0m0-5h0m0 3h0m-25-8h0m-1 2h0m-7-1h0m3 20h0m8 3h0m23-3h0m0 7h0m0-5h0m1-2h0m0-5h0m0-1h0m1 11h0m2-4h0m1 5h0m0-5h0m1 5h0m0-6h0m1-6h0m0 8h0m0-6h0m0 3h0m1 7h0m4-12h0m1 8h0m0-5h0m1 3h0m3 0h0m2-2h0m1 7h0m0 3h0m0-14h0m0 4h0m0 9h0m1-8h0m1 6h0m0 1h0m-1 3h0m0 4h0m-1-3h0m0 8h0m0-1h0m-18-8h0m-9 18h0m6 3h0m1 2h0m0 4h0m6-10h0m-6 13h0m-1 6h0m-1-6h0m0 16h0m1 1h0" stroke="#1a3956" stroke-width="7.36" stroke-linecap="round" fill="none"/>
<path transform="scale(0.25)" d="M309 2043h0m1 11h0m0-11h0m0 3h0m1 6h0m0-5h0m3 5h0m1 2h0m0-11h0m0-1h0m0 8h0m13 3h0m8-10h0m0 10h0m0-5h0m9 3h0m1-1h0m8-5h0m0 9h0m1-2h0m0-1h0m2 3h0m1-5h0m0-2h0m1 2h0m1-4h0m3 18h0m0-6h0m-3 10h0m-2-8h0m-1 10h0m-2-2h0m-1-2h0m0 4h0m0-11h0m0 8h0m-4-4h0m0 2h0m-1-5h0m0 4h0m-3 2h0m0-8h0m-1 5h0m0 4h0m0 3h0m0-14h0m-3 14h0m0-5h0m-1 2h0m0-7h0m0-1h0m-2 2h0m-1 3h0m-2-7h0m-4 11h0m0-2h0m-5-9h0m0 6h0m-3 4h0m-1-10h0m-1-1h0m0 9h0m-3 2h0m0-1h0m0-2h0m-3 5h0m-1 1h0m-1-12h0m0-2h0m-1 1h0m-2 5h0m0 7h0m-1-10h0m0 11h0m0-14h0m0 23h0m0 3h0m1-11h0m0 13h0m0-1h0m0-1h0m3-2h0m0-2h0m1-4h0m0 7h0m1-1h0m1-9h0m1 13h0m0-10h0m0 9h0m1-2h0m0 3h0m4-1h0m0-4h0m3 5h0m1-11h0m0 9h0m1-1h0m0 3h0m0-10h0m1 9h0m3 2h0m1-10h0m0 4h0m0-5h0m3 2h0m1-4h0m0 13h0m3-1h0m0-3h0m0 4h0m1-13h0m1 7h0m0 4h0m2-3h0m0-1h0m1 5h0m0-10h0m0 9h0m0-10h0m1 3h0m0-5h0m0 4h0m0 9h0m0-10h0m0 9h0m3-7h0m0-4h0m1 5h0m0 7h0m0-1h0m4-4h0m0-1h0m0-6h0m0 13h0m1-4h0m0 3h0m0-7h0m1 6h0m2-7h0m0 4h0m0 3h0m0-1h0m1-4h0m0-5h0m0-1h0m0 8h0m0-5h0m1 8h0m2-7h0m1-4h0m1 11h0m0-5h0m0-6h0m0 23h0m-1 4h0m0-12h0m-1 6h0m0-5h0m-3 8h0m0-7h0m-1 3h0m-3-5h0m-1 13h0m-3-12h0m0-1h0m0 4h0m-1 5h0m0-5h0m0 9h0m-4-3h0m0-2h0m0-5h0m-1-2h0m0 6h0m-3 1h0m-1 3h0m0-10h0m0 9h0m-1-1h0m0 3h0m0-5h0m-2 4h0m-1-3h0m0-5h0m0 9h0m-1-2h0m-2-2h0m-2-8h0m0 13h0m0-14h0m0 13h0m-1-2h0m-2-4h0m0 4h0m0-8h0m-1 6h0m-1 2h0m0-6h0m-2 8h0m-2-7h0m0 5h0m-3-3h0m-1-5h0m0-1h0m0 9h0m0-1h0m-1 0h0m0-10h0m0 3h0m-3 5h0m-1 4h0m0-11h0m-2 0h0m-2 1h0m0 4h0m0 8h0m0-5h0m0 11h0m0 9h0m0-1h0m1-7h0m3-5h0m1-1h0m0 12h0m0-11h0m3-1h0m0 9h0m0-5h0m0 8h0m1-12h0m0 8h0m0 4h0m4-9h0m0 4h0m0-6h0m1 0h0m0 13h0m0-14h0m4 13h0m0-6h0m1-5h0m2 1h0m1 3h0m0 4h0m0-2h0m0-5h0m1 1h0m0 7h0m2-1h0m1 1h0m1-7h0m1 9h0m2 1h0m0-2h0m0-5h0m2-4h0m3 6h0m0-5h0m0 4h0m1-2h0m0-2h0m3-1h0m1 6h0m0-4h0m0-5h0m4 11h0m0-3h0m0-5h0m1 0h0m0 9h0m0-10h0m0 9h0m1-5h0m0-6h0m2 4h0m0-4h0m1 2h0m0 8h0m0-5h0m0 4h0m0 3h0m1-5h0m2 7h0m1-7h0m0-5h0m1 3h0m0 1h0m6 17h0m-6-7h0m-1 0h0m0 4h0m-3-2h0m-1 6h0m0 4h0m-1-5h0m0-7h0m-1 9h0m0-1h0m0 4h0m-1 1h0m-1 0h0m-1-9h0m0-1h0m0-2h0m0-1h0m-1 2h0m-1-1h0m0 8h0m0-2h0m-1 0h0m0 3h0m-1-3h0m0 3h0m-5-10h0m-3 6h0m-1 0h0m0-5h0m0 4h0m-1 3h0m-2-8h0m0 11h0m-1-2h0m-1-7h0m-1 1h0m-3 0h0m0-1h0m0 8h0m-1-4h0m0 6h0m-1-2h0m0-7h0m-3 6h0m-4 2h0m0-7h0m-3 9h0m0-10h0m-1 10h0m0-14h0m0 13h0m0-10h0m0 4h0m-1 3h0m0 3h0m0-1h0m0-1h0m-1 1h0m0-2h0m-1-9h0m-1 6h0m0-5h0m-1 0h0m0 3h0m-2-2h0m0 1h0m-1-2h0m0-1h0m0 2h0m-1-2h0m0 1h0m0 4h0m0 13h0m0 6h0m0-10h0m1 8h0m4-8h0m3 12h0m0-5h0m0 3h0m1 4h0m0-2h0m0-5h0m1 5h0m2-5h0m1 3h0m0-2h0m9-8h0m0 5h0m4 6h0m6-6h0m8 1h0m0 3h0m1 0h0m0-5h0m0 2h0m0-5h0m1 0h0m0 7h0m2 2h0m1 3h0m2-7h0m0-5h0m1 10h0m0-6h0m0 4h0m0-5h0m1 0h0m0 1h0m4 0h0m1-5h0m-1 20h0m-4-3h0m0 3h0m-1-4h0m0 9h0m0 3h0m0-5h0m0-1h0m-1 1h0m0-1h0m-2-2h0m-13-3h0m-23 3h0m-1-2h0m0-1h0m-1-1h0m41 18h0m0-1h0" stroke="#1f4363" stroke-width="7.36" stroke-linecap="round" fill="none"/>
<path transform="scale(0.25)" d="M429 2033h0m-1 0h0m0 2h0m-1 2h0m0 2h0m0-7h0m0 2h0m-1-5h0m-2 6h0m-1 2h0m-1-4h0m-1 4h0m-7-3h0m0 2h0m0-7h0m0 10h0m0-7h0m-1 0h0m0 1h0m-1 2h0m-40 19h0m8 0h0m33-1h0m0-7h0m0 2h0m1-3h0m0 9h0m0-12h0m3 2h0m0 6h0m1-5h0m0 2h0m0-5h0m0 2h0m8 9h0m0-5h0m0-3h0m1-2h0m0 9h0m0-5h0m0 2h0m0-1h0m1 5h0m0-3h0m0-7h0m0 23h0m0-3h0m-1-2h0m0 3h0m-1-6h0m0 2h0m-3-5h0m-6 13h0m-2-4h0m-1-5h0m0 4h0m0-3h0m0 2h0m0 2h0m-1-6h0m0 11h0m0-7h0m0 4h0m-1-1h0m-19 0h0m-11 4h0m0-5h0m-1 2h0m0 1h0m-1-1h0m-3-6h0m0 4h0m-1-4h0m-4 1h0m0-3h0m0 2h0m-1 2h0m1 10h0m1 9h0m0 2h0m3-8h0m1 2h0m0 2h0m0-7h0m1 2h0m2-1h0m1 2h0m0 2h0m0-3h0m0 9h0m0-5h0m1-1h0m0 2h0m32-4h0m0-5h0m0 2h0m1 6h0m0-7h0m2 5h0m6 8h0m2-9h0m1-4h0m1 1h0m0 4h0m3-2h0m-1 15h0m-1 7h0m-1-5h0m0 2h0m0-3h0m-14 4h0m0-5h0m-15 4h0m-4 2h0m-4 4h0m-3 0h0m-5-9h0m0 4h0m0-7h0m0 2h0m-1 4h0m0 6h0m-1-12h0m0 10h0m-2-6h0m-1-2h0m0 2h0m-4 0h0m-1-3h0m-1 2h0m0-1h0m0-3h0m4 19h0m0 2h0m1 0h0m0-5h0m0 9h0m0-7h0m0 2h0m1 1h0m0-5h0m1 6h0m1 0h0m1-1h0m0 2h0m0-3h0m1-3h0m0 9h0m0-10h0m0 9h0m0-5h0m0 2h0m1-6h0m0 11h0m0-8h0m0 9h0m0-7h0m0 2h0m4 0h0m2-4h0m8 4h0m3-8h0m2 13h0m28-14h0m0 16h0m-43 10h0m-2-1h0m0 4h0m0-7h0m-1 6h0m0-5h0m0-6h0m0 9h0m-1 1h0m0-7h0m0 9h0m0-8h0m0 2h0m0-7h0m-1 4h0m0 2h0m-1 2h0m-1-3h0m-1-3h0m0 11h0m0-3h0m-1-11h0m0 11h0m0-3h0m0 2h0m0 2h0m-1-11h0m-4 9h0m0-3h0m-1 4h0m0-3h0m-1-4h0m0 8h0m1 10h0m1-2h0m0-2h0m4 3h0m1-1h0m0-1h0m0-3h0m0 9h0m1 2h0m1-10h0m0 2h0m1 1h0m4-5h0m0 2h0m0 2h0m1 7h0m-14 4h0" stroke="#244c70" stroke-width="7.36" stroke-linecap="round" fill="none"/>
<path transform="scale(0.25)" d="M480 2023h0m10 16h0m0-7h0m0-7h0m-1 9h0m0 2h0m0-8h0m-1 1h0m0 8h0m0-7h0m-2 7h0m-1 0h0m0 1h0m-1-2h0m-3-5h0m0 2h0m0 4h0m-1-6h0m0 2h0m0 2h0m0-5h0m-1-2h0m0-3h0m-11 10h0m-1-3h0m0 2h0m-3-2h0m-1 7h0m0-5h0m0-5h0m0 6h0m0-5h0m-18 9h0m0-4h0m-1 2h0m-3-7h0m-1 4h0m0 3h0m0 2h0m0-7h0m-4 7h0m0-3h0m-1 0h0m-3 3h0m0 2h0m0 4h0m3 1h0m1 2h0m0-6h0m0 9h0m1 1h0m6-11h0m1 2h0m0 3h0m1-1h0m0 2h0m0 2h0m1 5h0m2-10h0m0 9h0m1-1h0m0-1h0m1-5h0m0 2h0m3 2h0m0-1h0m1-5h0m0 2h0m0 8h0m3-7h0m1 3h0m1-3h0m3 1h0m0-1h0m1-2h0m0-3h0m0 9h0m0-7h0m1 9h0m2-5h0m0-1h0m1-7h0m1 6h0m1 6h0m2-12h0m0 13h0m0-3h0m0 4h0m1-10h0m12 1h0m0-4h0m1 3h0m0-1h0m0 2h0m1-3h0m0 12h0m2-2h0m1-4h0m0-5h0m0 9h0m0-7h0m0-5h0m0 11h0m1-1h0m0-3h0m0-5h0m1 3h0m-1 24h0m0-11h0m-1 0h0m0 11h0m0-12h0m0 4h0m-3 5h0m-1 1h0m0-7h0m0-3h0m-1 0h0m0 9h0m-4-10h0m-8 3h0m0-3h0m-1 1h0m-1-2h0m0 14h0m-2-6h0m-1-7h0m0 4h0m0 2h0m-1-2h0m-3 5h0m0 4h0m0-7h0m-1 3h0m0-3h0m0-7h0m-4 5h0m-3 3h0m0 4h0m-1-9h0m0 11h0m0-1h0m-1-7h0m0 2h0m0 2h0m0 2h0m0-7h0m-4-5h0m-3 1h0m-1 2h0m0-2h0m-1 4h0m-3 4h0m-4-2h0m-1-7h0m0 11h0m0 1h0m0-5h0m-1-4h0m0 11h0m0-5h0m0 14h0m0 1h0m0 2h0m1-10h0m1 10h0m3-11h0m5 6h0m3-1h0m6-3h0m0 2h0m1-4h0m7 3h0m2-3h0m2 1h0m0 2h0m1-3h0m0 6h0m3-5h0m1 4h0m0 9h0m1-13h0m0 13h0m0-10h0m13 10h0m2-10h0m2 1h0m0 21h0m-21-8h0m-1 5h0m0-7h0m-1 4h0m-2 2h0m-2-2h0m-1 1h0m-3 2h0m-23 21h0m2-3h0m0 1h0m-3 3h0" stroke="#29567d" stroke-width="7.36" stroke-linecap="round" fill="none"/>
<path transform="scale(0.25)" d="M511 2021h0m36 14h0m0 2h0m-1-4h0m-3 5h0m0 1h0m-1-1h0m0 1h0m-1-1h0m-2-2h0m-1 0h0m0-1h0m-2-3h0m-1 2h0m-1 1h0m0-1h0m0-3h0m-1 1h0m0 2h0m-2 2h0m-2 0h0m0-3h0m0-6h0m0 3h0m0-5h0m-8 7h0m0 4h0m0-3h0m0 4h0m-4 1h0m-1 0h0m-4-4h0m0-5h0m0 9h0m0-10h0m0 11h0m0-7h0m0-7h0m0 2h0m-1 7h0m0-6h0m-1 6h0m0-7h0m-6 11h0m-1-1h0m-8-3h0m0 5h0m0-7h0m-1 2h0m0 1h0m-1 4h0m0-7h0m0 18h0m0-10h0m0 4h0m1 9h0m0-7h0m0 4h0m1 2h0m0-10h0m7-2h0m0 4h0m0 9h0m1-6h0m0 2h0m8 4h0m0-5h0m0-5h0m0-3h0m0 9h0m0 2h0m0-7h0m1 5h0m0-7h0m0 6h0m3 4h0m1 2h0m0-4h0m0-7h0m1 8h0m1-11h0m2 1h0m0 9h0m0-7h0m0-3h0m1 2h0m6-1h0m1 1h0m1 1h0m0 11h0m0-5h0m0 2h0m0-7h0m0 9h0m0-7h0m0-5h0m1 7h0m1 5h0m2-8h0m0 6h0m1-6h0m0-5h0m1 12h0m1-1h0m1 0h0m1-7h0m1-4h0m0 10h0m3 4h0m0-5h0m0 2h0m0-7h0m0 2h0m0 7h0m1-11h0m0 8h0m3 4h0m0-3h0m0 2h0m1-10h0m0 9h0m0 2h0m0-5h0m1 5h0m0-10h0m0 2h0m2 1h0m0-7h0m0 8h0m0 2h0m1-8h0m0 2h0m1-1h0m0 12h0m-1 14h0m-3-6h0m0-7h0m0-1h0m-1 12h0m0-5h0m0-3h0m0 2h0m0 2h0m-1-3h0m0 9h0m-2-8h0m-1-6h0m0 9h0m-1 0h0m0-3h0m0-5h0m0-1h0m-1 0h0m-4 4h0m-3-4h0m0 2h0m-1 4h0m0 7h0m-3-8h0m0 2h0m0-5h0m0 2h0m-1-2h0m0 9h0m0-11h0m0 9h0m-1 4h0m0-10h0m-7 2h0m-4 0h0m0-5h0m-1 14h0m0-10h0m0 2h0m-4-2h0m0 9h0m-1 0h0m0-5h0m0-5h0m-7 4h0m-1 2h0m0-7h0m0 11h0m-1-9h0m-1 7h0m-7-7h0m0 2h0m-1-4h0m0 11h0m0-10h0m0 17h0m1-2h0m4 11h0m0-5h0m1 4h0m0-3h0m1 0h0m3 1h0m0-8h0m0-3h0m4 8h0m0 1h0m1 5h0m0-1h0m2-12h0m1 12h0m1-6h0m0-7h0m0 2h0m4 1h0m0 9h0m12-11h0m0 2h0m1 2h0m1-2h0m0-1h0m2-1h0m1-1h0m0 13h0m1-7h0m0 2h0m0 2h0m0 2h0m1 2h0m3-9h0m0-3h0m4-1h0m1 1h0m1 4h0m6 1h0m2 4h0m0 9h0m0 6h0m0 2h0m-1-3h0m0 2h0m-2-12h0m-3 8h0m-2-3h0m0 6h0m-1-3h0m0 4h0m0 2h0m0-12h0m0 9h0m0-7h0m-1 2h0m0-6h0m0 9h0m-5-6h0m-1 2h0m-1-5h0m0 9h0m-1-2h0m0 2h0m0-3h0m0 6h0m-1-4h0m0-5h0m-25-3h0m-5 0h0m40 24h0m1-9h0m0 11h0m7-2h0m0-7h0m0 11h0m1-1h0m0 3h0" stroke="#2d608a" stroke-width="7.36" stroke-linecap="round" fill="none"/>
<path transform="scale(0.25)" d="M595 2038h0m-34-3h0m-2-4h0m-3 7h0m-1 12h0m1-6h0m0 9h0m0-5h0m1 2h0m10 0h0m1-2h0m0-5h0m1 4h0m0-7h0m1 9h0m3 1h0m1-7h0m0 4h0m0-1h0m0 4h0m3-2h0m0-3h0m0 8h0m1-8h0m0 9h0m0-1h0m1-7h0m16-4h0m1 10h0m1-2h0m2-1h0m0-1h0m1 6h0m4-13h0m0 2h0m0 1h0m0 2h0m1 0h0m0 2h0m0 2h0m3 1h0m4 3h0m-2 5h0m-1 4h0m-1 3h0m0-1h0m-3 2h0m-1-1h0m0-10h0m0 4h0m-4 1h0m0 2h0m0-5h0m-1 6h0m-2-1h0m0-8h0m-1 0h0m-1 5h0m-8-1h0m0 6h0m0 2h0m-1-5h0m-2-5h0m-1 11h0m0-7h0m0 6h0m-1 2h0m-4-1h0m0-2h0m-4 3h0m-1-9h0m0-3h0m-3 11h0m-1-8h0m0 9h0m-1-14h0m-11 11h0m-1-1h0m0-10h0m0 2h0m0 11h0m0-7h0m-1 8h0m0-2h0m0 5h0m2 11h0m11-5h0m0 1h0m1-5h0m1 5h0m12-6h0m0-3h0m2 2h0m1-2h0m1 11h0m1-1h0m0-7h0m0-1h0m0 9h0m1-6h0m8-3h0m3 0h0m0 4h0m5 0h0m1 4h0m0 2h0m7-5h0m0-7h0m0 13h0m-7 5h0m-4 8h0m-28-7h0m-11-4h0m0 2h0m-1 5h0m0 2h0m0-7h0m-1 10h0m-4-11h0m-1 7h0m-2-8h0m0 2h0m0 6h0m-1 2h0m0-4h0m0 12h0m0 11h0m1-2h0m0-7h0m0 9h0m6-12h0m1 6h0m0-7h0m0 2h0m0 4h0m1 0h0m0-3h0m0 2h0m0 4h0m0-10h0m0 14h0m1-4h0m0-7h0m0 8h0m24-10h0m-24 14h0m-1 0h0m-1 3h0" stroke="#326997" stroke-width="7.36" stroke-linecap="round" fill="none"/>
<path transform="scale(0.25)" d="M636 2018h0m0 6h0m1-5h0m0 2h0m0 2h0m0-5h0m0 6h0m9 0h0m13-1h0m1 1h0m5 13h0m-1-9h0m0 6h0m0-7h0m0 4h0m-1-4h0m0 2h0m0 5h0m-3-8h0m0 2h0m0 9h0m0-8h0m-1 5h0m0-5h0m0-3h0m-2 12h0m0-1h0m-1-4h0m-2 6h0m0-7h0m-2 4h0m0-2h0m-1-1h0m-1 3h0m0 2h0m0-4h0m-4-6h0m0-3h0m-1 0h0m0 9h0m0-5h0m0 9h0m-3-11h0m0 4h0m0-5h0m0 2h0m0 2h0m-1 5h0m0-8h0m0 9h0m-3-6h0m0 5h0m-1-9h0m0 4h0m0-1h0m-3 2h0m-1 4h0m0-8h0m-2 8h0m-2-4h0m0 2h0m-1 1h0m-1-2h0m-2 5h0m-1 0h0m-1-8h0m-6 20h0m7 0h0m0-1h0m1 6h0m0-7h0m0-6h0m6 13h0m2-7h0m0 2h0m0-3h0m0-5h0m0 9h0m0 2h0m1-8h0m0 9h0m4-13h0m3 3h0m0 9h0m1-1h0m0-7h0m1 2h0m0-5h0m2 5h0m0 1h0m1 7h0m0-11h0m4 3h0m1 8h0m0-7h0m0 2h0m0 2h0m3-6h0m1-4h0m0 10h0m4-10h0m0-1h0m4 2h0m0 1h0m1-1h0m0 1h0m1 18h0m-1 8h0m0-6h0m-8-6h0m-1 8h0m0-7h0m0 9h0m0-7h0m-4-1h0m0 9h0m-1-4h0m-1-8h0m-2 10h0m-1-4h0m0-7h0m-1 5h0m-4 2h0m0-7h0m-1 12h0m-6-5h0m-1-7h0m-1 2h0m0 2h0m0 2h0m0-3h0m-18 5h0m0 6h0m0-7h0m0 9h0m0 11h0m1-10h0m31 5h0m0 2h0m0-5h0m0 2h0m1 6h0m1-2h0m2-3h0m0-4h0m1 11h0m0-5h0m0 2h0m0 2h0m1-13h0m2 9h0m1-6h0m0 4h0m0-3h0m0 2h0m8 1h0m0 3h0m1-2h0m0-3h0m0 2h0m0-5h0m1 6h0m0 2h0m0-7h0m4 23h0m-1 0h0m-13 3h0m0-4h0m-1 0h0m-21 2h0m-1-3h0m0 1h0m-18 1h0m-1 7h0m27-3h0m0 14h0m1-11h0m0-1h0m6 0h0m1 6h0m0-8h0m13 3h0m1-2h0m0 2h0m0 9h0m0-7h0m0 2h0m0-7h0m0 2h0m0 2h0m0 2h0m1-5h0m0 2h0m6 10h0m0-13h0m1 9h0m0 4h0" stroke="#3773a3" stroke-width="7.36" stroke-linecap="round" fill="none"/>
<path transform="scale(0.25)" d="M700 2037h0m-1-4h0m0 4h0m-9 2h0m-2-2h0m-1-2h0m-1 2h0m0-3h0m0-1h0m-3 6h0m-1-5h0m-1 1h0m0 2h0m0-8h0m-4 19h0m4 1h0m0-1h0m0-5h0m0 2h0m0 9h0m1-14h0m0 9h0m0-5h0m0 9h0m0-7h0m0-3h0m0 9h0m0 2h0m1-1h0m0 1h0m2-12h0m0 3h0m1 7h0m0-5h0m1-4h0m0-1h0m0 2h0m2 5h0m1 2h0m0-2h0m1-4h0m0 2h0m0 4h0m0-5h0m7-6h0m0 4h0m0 6h0m0-3h0m1 2h0m0 2h0m0 1h0m0 2h0m1-3h0m0-3h0m0 6h0m1 0h0m1-1h0m2-5h0m0 3h0m0 2h0m1 1h0m9 7h0m-1 6h0m0 2h0m0-3h0m0-1h0m-4-7h0m0 8h0m-1 2h0m0-2h0m-1 1h0m-2-10h0m-1 9h0m0-3h0m0 2h0m0-3h0m-1-6h0m0 6h0m0-7h0m-3 7h0m0 4h0m0-1h0m-1-7h0m0 4h0m-8 6h0m0-12h0m0 13h0m-1-9h0m0-5h0m0 6h0m0-5h0m-1 4h0m-2-1h0m0 6h0m0-5h0m-1 9h0m0-5h0m0-1h0m-4-1h0m0 4h0m0-5h0m-1-3h0m-3-2h0m0 3h0m-1 6h0m0 3h0m-1-2h0m0-5h0m-1-1h0m2 15h0m1 4h0m0-7h0m0 11h0m0-12h0m3 1h0m0 4h0m0 8h0m1-10h0m0 1h0m1 1h0m3-6h0m2 5h0m3 2h0m0-1h0m0 2h0m2-4h0m5 8h0m0-12h0m1 7h0m0-3h0m0 4h0m0-5h0m1-2h0m0 9h0m0-8h0m3-2h0m2 0h0m2 6h0m1-1h0m0 9h0m1-12h0m0 4h0m3-1h0m0 9h0m0-14h0m0 2h0m0 11h0m0-12h0m0 9h0m0-7h0m1 1h0m0 9h0m0-13h0m1 3h0m3 7h0m0 2h0m0-8h0m1 8h0m0-5h0m7 3h0m1-1h0m0-1h0m0 4h0m0 2h0m1-2h0m0 1h0m7-4h0m0 12h0m0-1h0m0 4h0m-1 3h0m-6 1h0m0-7h0m0 2h0m0-8h0m-1 10h0m0-5h0m0 9h0m0-14h0m0 2h0m-1 7h0m-1-6h0m-6 4h0m0-3h0m-1 5h0m0-7h0m0 8h0m0-7h0m-1 5h0m0-5h0m0 6h0m-2 2h0m-1-4h0m0-6h0m0 2h0m-1 1h0m0 2h0m-3 6h0m-1-1h0m0-5h0m0-1h0m-1-2h0m0 9h0m0-10h0m-2 3h0m0-5h0m-1 12h0m0-3h0m-1-5h0m0 2h0m-3-4h0m0 9h0m-1-10h0m-23-1h0m8 15h0m16 3h0m0-3h0m0 4h0m4-3h0m0 2h0m8-2h0m1-1h0m1 4h0m2 7h0m0-4h0m1 1h0m0-7h0m0 9h0m0 2h0m0-12h0m0 2h0m0 9h0m0 2h0m0-7h0m1-6h0m0 7h0m7-5h0m1-2h0m0 2h0m-8 13h0" stroke="#3c7cb0" stroke-width="7.36" stroke-linecap="round" fill="none"/>
<path transform="scale(0.25)" d="M734 2081h0m0-5h0m1 6h0m0 1h0m0-5h0m1 4h0m3 1h0m0-1h0m5 1h0m8-4h0m0 1h0m1 2h0m0 1h0m0-3h0m3 2h0m1 1h0m1 0h0m13 11h0m-1 4h0m0-3h0m0-1h0m-3-2h0m-1-3h0m0 9h0m-1-8h0m-3 4h0m0 2h0m0-1h0m0-3h0m-1 5h0m0 2h0m0-1h0m-3 1h0m0-13h0m-1 7h0m0-7h0m0 6h0m0-7h0m-1 1h0m0 2h0m-3 5h0m0 1h0m0-7h0m-1-1h0m0 9h0m0 4h0m0-7h0m0-5h0m-7 9h0m-1-10h0m0 9h0m0 3h0m-1 1h0m0-10h0m0 4h0m-3-3h0m0 2h0m0 2h0m-1 1h0m0-5h0m0 6h0m0-5h0m-1-2h0m0 2h0m-2 3h0m-1-5h0m0 6h0m0 4h0m0-5h0m-1-2h0m5 16h0m1-8h0m3 6h0m0-1h0m0-3h0m0 9h0m1 1h0m1-3h0m7-9h0m0 2h0m1 1h0m0 2h0m0-1h0m2 4h0m1-5h0m1-1h0m0 11h0m0-1h0m1-4h0m0-7h0m0-1h0m2 10h0m0-6h0m1 4h0m1-1h0m0-7h0m3 1h0m0 9h0m1-3h0m0-7h0m0 4h0m0 2h0m0 2h0m1-7h0m0 9h0m0-5h0m0 2h0m3-7h0m0 13h0m0-5h0m0-5h0m1 11h0m2-2h0m1-2h0m0 2h0m1-4h0m1 4h0m2-7h0m1 0h0m1-3h0m0 2h0m0-3h0m2 1h0m1 3h0m-6 12h0m-1 8h0m0-3h0m-1-7h0m0 2h0m0 8h0m0-5h0m0 9h0m-1-6h0m0 2h0m0-8h0m-2 10h0m-1-7h0m0 5h0m-1-6h0m0-3h0m-12 10h0m-1-10h0m0 4h0m0 4h0m-1-2h0m0-5h0m0 9h0m0-7h0m-16 0h0m-1 1h0m0-5h0m0 1h0m-1 6h0m12 21h0m2 0h0m4-13h0m2 2h0m3 12h0m6 0h0m2-6h0m0-3h0m1 4h0m0-7h0m0-1h0m1 9h0m0-3h0m1 3h0m0 2h0m5 1h0m6-2h0m0-1h0m6 16h0m-3-1h0m-9-5h0m0 8h0m-3-1h0m-1-2h0m0-8h0m0 4h0m-7-2h0m-4-1h0m-4-1h0m-1-1h0m-2-1h0m11 17h0m2 0h0m4-2h0m4 1h0" stroke="#4086bd" stroke-width="7.36" stroke-linecap="round" fill="none"/>
<path transform="scale(0.25)" d="M818 2061h0m0 2h0m-1-1h0m0 1h0m-1 0h0m0 6h0m0-5h0m0 2h0m-1 3h0m-1-6h0m0 3h0m-1-2h0m-2 4h0m-13 13h0m1 0h0m0 3h0m2-7h0m0 6h0m2-2h0m0 1h0m0-3h0m1-6h0m1 1h0m0 4h0m0-3h0m1 0h0m0 8h0m1-9h0m0 9h0m0-8h0m0-5h0m1 3h0m0 4h0m0-5h0m1 11h0m0-12h0m0 13h0m0-5h0m1-4h0m0 4h0m0-7h0m0-1h0m0 5h0m1 0h0m0-1h0m0 2h0m1 1h0m0 2h0m1-3h0m1 4h0m0-7h0m0 9h0m1-5h0m0-7h0m0 11h0m0 2h0m1-7h0m0-5h0m0 4h0m1 0h0m0 4h0m0-7h0m0-1h0m-3 14h0m0-1h0m-5 4h0m-1 1h0m-1 0h0m0 2h0m0-6h0m-1-1h0m-1 1h0m-2-1h0m-1 9h0m0-7h0m0-1h0m-1 6h0m-1-7h0m-1 0h0m0 2h0m-1 12h0m-2-12h0m0 1h0m-1 5h0m0-6h0m-2 1h0m-4 3h0m-3 6h0m-1 11h0m5-8h0m3 0h0m6 1h0m-11 57h0m-1-1h0m-5 10h0m0 4h0m1-1h0m0 2h0m1-4h0m0-8h0m1 3h0m0 6h0m0 4h0m1-3h0m0 3h0m1-11h0m0 3h0m0 2h0m1 2h0m1-9h0m-4 28h0m0-3h0m-1-10h0m0 9h0m0-7h0m0 8h0m-1-8h0m0 9h0m-2-10h0m0 2h0m-1 9h0m-1 10h0m0 6h0m0-7h0m1 7h0m0-5h0m0-5h0m2 1h0m1-4h0m0 4h0m0 4h0m0 6h0m2-10h0m1-3h0m-2 14h0m-1 4h0m0-3h0m-1 3h0m0-1h0m0-3h0m0 9h0m-1-7h0m0 2h0m-1 5h0m0-6h0m0 9h0m-1-10h0m-1 2h0m0 8h0m-3 11h0m2 4h0m0-12h0m1 3h0m0 4h0m0 6h0m1-9h0m0 4h0m1-2h0m0-3h0m0 11h0m0-7h0m1 5h0m1-9h0m0-1h0m0 4h0m-2 20h0m-1 3h0m0-14h0m-2 8h0m0-3h0m-5 16h0m0 4h0m1-7h0m0-3h0m0 10h0m1 1h0m1-5h0m1 2h0m0-5h0m0 2h0m0 2h0m0-7h0m0 2h0m1 1h0m0 2h0m1 3h0m0 2h0m0-6h0" stroke="#4590ca" stroke-width="7.36" stroke-linecap="round" fill="none"/>
<path transform="scale(0.25)" d="M844 2034h0m0 3h0m-1-5h0m-2 4h0m-1-1h0m0 2h0m-1-4h0m0 6h0m-1 0h0m-2 0h0m-1-2h0m-11 13h0m0 4h0m1-2h0m1-2h0m0 4h0m3-2h0m0 1h0m1-2h0m0 1h0m1 0h0m0-5h0m0 6h0m1-1h0m1-7h0m0 9h0m0-6h0m0 4h0m1-4h0m0 6h0m1-4h0m0-10h0m0 8h0m1 6h0m0-13h0m1-1h0m0 9h0m0-6h0m1 5h0m0-7h0m0 3h0m0 9h0m1-9h0m1 9h0m0-6h0m0-3h0m2 3h0m0-5h0m0 9h0m1-10h0m1 16h0m-2 1h0m-1 4h0m0-5h0m0 9h0m0-1h0m-3-1h0m0-3h0m-1-3h0m0 4h0m0-7h0m0 4h0m-1 0h0m0 2h0m0 8h0m-3-6h0m0-3h0m0 4h0m-1 0h0m0-8h0m-1 1h0m0 4h0m0-6h0m-1 0h0m0 2h0m0 4h0m-1-2h0m0 9h0m-1-8h0m-1 6h0m0-5h0m0 4h0m-1-6h0m-1 9h0m0-7h0m0 4h0m-1-7h0m-1 4h0m0-5h0m-1 8h0m0 2h0m0 2h0m0-14h0m0 11h0m-1-7h0m0 6h0m0-5h0m0 9h0m0-7h0m-1-5h0m0 4h0m-1-1h0m0 9h0m0-7h0m0-3h0m0 2h0m0 4h0m-1 0h0m0-3h0m0 12h0m1 2h0m0 2h0m0-5h0m1 5h0m0-1h0m1 3h0m0-5h0m0 4h0m0-1h0m0-7h0m1 6h0m1-1h0m0-3h0m0 2h0m0 4h0m1-4h0m1-4h0m0 2h0m0 2h0m0-3h0m1 7h0m0-7h0m0 1h0m1 0h0m0 3h0m1-1h0m0 2h0m0-3h0m1-2h0m0-1h0m1 5h0m0-5h0m1 1h0m0-1h0m2 0h0m0-1h0m1 0h0m-60 194h0m1-1h0m1 15h0m-1-4h0m-1-5h0m0 1h0m0 9h0m0-14h0m-2 14h0m0-5h0m0-3h0m0 2h0m0-7h0m0 4h0m-1 9h0m0-3h0m-1 0h0m-1 11h0m1 1h0m1 5h0m1-13h0m0 6h0m2-1h0m1 3h0m-2 13h0m0-3h0m0 2h0m-2-4h0m0 2h0m-1-2h0m0 4h0m-2 2h0m0-1h0m-2 18h0m1 0h0m0 3h0m1-2h0m1 1h0m0 2h0m0-1h0m1 2h0m1-1h0m0 2h0m0 4h0m-1-2h0m0 9h0m0 1h0m-1-4h0m0-3h0m0-5h0m0 9h0m0-3h0m-1 5h0m-1-6h0m0-3h0m-1 5h0m0-7h0m0 8h0m0-5h0m-1 4h0m0 2h0m0 4h0m0-3h0m-1 4h0m0 9h0m0 2h0m0 2h0m1-6h0m0 2h0m0 6h0m1-2h0m0 2h0m0-14h0m0 11h0m1-3h0m0-7h0m0 4h0m1 5h0m0-8h0m0 4h0m1 0h0m-2 13h0m0 7h0m-1-9h0m0 8h0m0-10h0m-2 13h0m0-5h0m-1-5h0m0 9h0m0-7h0m0-5h0m-1 0h0m-1 5h0" stroke="#4a99d7" stroke-width="7.36" stroke-linecap="round" fill="none"/>
<path transform="scale(0.25)" d="M767 2369h0m-2-1h0m-1 1h0m-4 0h0m0 9h0m0 1h0m0-5h0m1-3h0m1 4h0m0-3h0m0 9h0m1-2h0m0 2h0m0-7h0m0 6h0m1-9h0m0 10h0m1-8h0m0 9h0m0-12h0m0 11h0m-1 4h0m0 4h0m0 1h0m-1 3h0m-1 5h0m-1 1h0m0-7h0m0 6h0m-1-11h0m0 6h0m-1-5h0m0 9h0m-2 12h0m1-6h0m0 9h0m1-6h0m1 6h0m1-11h0m1 6h0m0-3h0m0-3h0m-4 14h0m-48 29h0m1-8h0m2 6h0m5 1h0m1-6h0m2 4h0m1 3h0m2-5h0m0 4h0m0-3h0m1 2h0m1-2h0m1 4h0m1-4h0m3-3h0m1 0h0m0 3h0m1-4h0m1 8h0m0-5h0m0 1h0m1 3h0m1-2h0m0-7h0m0 3h0m1 3h0m1-6h0m0-1h0m0 9h0m0 2h0m1-9h0m0 4h0m0-3h0m1-2h0m0 2h0m3 3h0m1-2h0m1-2h0m0 8h0m0-1h0m3-1h0m1 0h0m1-3h0m1 2h0m0 2h0m1 1h0m0-5h0m2 1h0m2 3h0m2-1h0m0 1h0m-1 5h0m0 9h0m-1-9h0m0 8h0m-1-5h0m-1-1h0m0 10h0m0-5h0m-1-4h0m-1-3h0m-1 6h0m-1-3h0m-1 5h0m-2 3h0m-1-6h0m0 2h0m-1-1h0m0 6h0m0-7h0m0 2h0m0-5h0m-2-2h0m-1-2h0m0 13h0m-1-12h0m-1 6h0m0-3h0m0 2h0m0-5h0m-1 2h0m0-3h0m-1 9h0m0-5h0m-2-2h0m0 11h0m0-7h0m0 2h0m-1 1h0m0-7h0m0 6h0m-1-7h0m0-1h0m0 11h0m-1-5h0m0 6h0m-1-6h0m-1-2h0m-1-3h0m0 4h0m0-3h0m-1 4h0m-1 1h0m0 2h0m-1-1h0m-1 4h0m0-5h0m0-5h0m-1 5h0m-1 0h0m-2-4h0m-1 4h0m0 6h0m-1 0h0m-1-13h0m-1 6h0m0 8h0m-1-2h0m0-3h0m-1 2h0m0-3h0m0-5h0m0 2h0m-2-3h0m0 2h0m-1 6h0m-1-1h0m0-1h0m0 6h0m0-14h0m-2 12h0m-1 1h0m0-3h0m0-7h0m0-1h0m-1 6h0m-1 2h0m0-3h0m0 2h0m-4 1h0m-2-2h0m-4 1h0m-5 5h0m-4-1h0m-6 10h0m3-8h0m1 1h0m1 7h0m2-5h0m5-2h0m6 5h0m1 6h0m1-2h0m2-6h0m1-4h0m1 6h0m0 3h0m1-8h0m2 13h0m0-12h0m1-1h0m0 9h0m0-7h0m0 4h0m0-5h0m1 7h0m0-1h0m1 2h0m0-7h0m0 11h0m0-14h0m0 4h0m1 2h0m0-1h0m1-4h0m0 11h0m0-3h0m1-4h0m0-5h0m0 2h0m2-1h0m1 2h0m0 3h0m1 4h0m0-5h0m1 7h0m0-7h0m0 6h0m0-5h0m0 2h0m1 3h0m0-10h0m3 5h0m1 1h0m1 3h0m1-2h0m0-1h0m0-3h0m1-2h0m0 10h0m1 0h0m0-8h0m1-4h0m0 6h0m2-2h0m0 8h0m1-9h0m0-1h0m0 6h0m1 1h0m0 3h0m1-4h0m0-8h0m2 8h0m1 2h0m1-8h0m1 1h0m1 5h0m1 2h0m0-1h0m2-9h0m1 10h0m1 1h0m0-7h0m1-4h0m1 5h0m1 1h0m1 8h0m0-1h0m1-13h0m0 1h0m1 0h0m0 3h0m1-4h0m0 11h0m1-4h0m0-3h0m2 4h0m1-7h0m1-1h0m0 4h0m-54 13h0" stroke="#4fa3e4" stroke-width="7.36" stroke-linecap="round" fill="none"/>
<path transform="scale(0.25)" d="M712 2474h0m8 0h0m18 0h0m4 0h0m3 0h0m6 0h0m2 0h0m-2 5h0m0-1h0m-1-1h0m0 9h0m-1-8h0m0 6h0m-1 0h0m0-5h0m-1-4h0m0 4h0m0-1h0m-1 4h0m0 3h0m0-1h0m-1 5h0m0-10h0m0 8h0m-2-8h0m0 9h0m0-10h0m-1-2h0m0 9h0m-1-4h0m0 3h0m-1 1h0m0 4h0m0-14h0m-1 11h0m-1 1h0m0-9h0m-1 7h0m0-1h0m0 3h0m0-5h0m-1 2h0m0-5h0m0 4h0m0 4h0m0-11h0m-1 1h0m0 4h0m-1-1h0m0 2h0m0 4h0m0-1h0m-1-6h0m0 7h0m-1-4h0m0-2h0m0 4h0m-1-9h0m0 11h0m-1-10h0m0 12h0m-2-2h0m-1-6h0m0-1h0m-1 6h0m0-6h0m0-1h0m-1-3h0m0 12h0m0-1h0m0-6h0m-1-5h0m0 4h0m0 9h0m-1-13h0m0 6h0m-1-5h0m-1 0h0m0 3h0m0 4h0m-1-3h0m-3 0h0m0-5h0m0 3h0m-1 3h0m0 4h0m-1-2h0m-1-1h0m-1 0h0m0 7h0m0-6h0m-1 5h0m0-10h0m0-1h0m-1 4h0m0 7h0m-2-6h0m0-5h0m-1 10h0m-1-9h0m-1 2h0m0 2h0m-2 7h0m0-1h0m-1-1h0m0-7h0m-1 0h0m-1-5h0m0 9h0m0 3h0m-1-1h0m-1 0h0m0-2h0m-1-9h0m0 9h0m0 3h0m-9-9h0m0-1h0m-1 12h0m-1-1h0m-5-5h0m-2-2h0m-5 5h0m2 7h0m1 11h0m11-3h0m2-7h0m4 9h0m2-11h0m0-1h0m1-1h0m0 8h0m0-2h0m0 4h0m1-1h0m0-5h0m0 3h0m0 3h0m1 0h0m0-5h0m2 4h0m1-9h0m0 7h0m1-3h0m2 4h0m0-8h0m2 8h0m1 4h0m0 2h0m1-9h0m0 4h0m1 1h0m0-8h0m2 9h0m0-1h0m1-7h0m0-3h0m0 13h0m1-3h0m1-3h0m1 6h0m0-7h0m1-6h0m0 13h0m1-7h0m0-6h0m0 8h0m2 4h0m2-11h0m0 4h0m1-4h0m1 1h0m0-1h0m3 12h0m0 1h0m1-1h0m1-9h0m1 2h0m0 4h0m0-5h0m1 1h0m0-1h0m0-1h0m0 4h0m0 4h0m1-9h0m0 9h0m0-11h0m1 8h0m0-1h0m0-6h0m0 9h0m1-1h0m0-2h0m1-1h0m0 7h0m1-5h0m0-6h0m0-1h0m3 3h0m0 8h0m2-6h0m0-7h0m1 5h0m1 5h0m1 3h0m0-12h0m1 5h0m0-2h0m-4 13h0m-1 5h0m-1 2h0m0-7h0m-1 7h0m0-5h0m-1-4h0m-1 7h0m-1 0h0m-3-4h0m-3 6h0m0 2h0m-1-3h0m0-5h0m-1 9h0m0-11h0m-2 4h0m0 8h0m-1-3h0m0-2h0m-3 3h0m-1-3h0m0-1h0m-1 1h0m-1-8h0m0 9h0m0-2h0m-1-4h0m-1 6h0m0-1h0m-2 3h0m0-10h0m0 13h0m0-10h0m0 9h0m-1-1h0m0-5h0m-3 6h0m0-12h0m-1 8h0m0-2h0m-1-3h0m-1 3h0m-1 5h0m0-5h0m0-5h0m0 11h0m-2-3h0m0 4h0m0-14h0m-1 11h0m0-7h0m0 9h0m-1-3h0m0-6h0m-2 9h0m0-6h0m-1-1h0m-2-5h0m0 13h0m-1-1h0m0-6h0m-1 1h0m0-8h0m-1 14h0m-1-2h0m0-5h0m-2 4h0m-1-6h0m-11 2h0m-7 5h0m14 4h0m7 7h0m0-7h0m0 4h0m1 7h0m0-6h0m1 8h0m1-11h0m1 7h0m0 2h0m1-7h0m0 3h0m1-4h0m0 6h0m1-3h0m0-2h0m1 1h0m1 2h0m1 4h0m0-8h0m0-1h0m2-3h0m0 8h0m0-6h0m1 4h0m0-3h0m1 4h0m0 3h0m2 3h0m1 1h0m0-5h0m0 1h0m1-8h0m1 4h0m0 8h0m0-14h0m1 5h0m2-3h0m1 2h0m0 9h0m0-1h0m2 0h0m0-1h0m0-10h0m1 2h0m1 5h0m0-5h0m0 8h0m0 2h0m1-3h0m0 3h0m0-10h0m1 0h0m1 5h0m1-8h0m0 9h0m0 2h0m1 0h0m1-10h0m1 2h0m1 8h0m0-10h0m0 12h0m0-5h0m1 1h0m0-1h0m0-6h0m0 4h0m1 6h0m0-11h0m1 7h0m0 1h0m1 1h0m2-6h0m1-3h0m-9 22h0m0-3h0m-1 1h0m0 2h0m0-5h0m0 4h0m-1 5h0m-1-4h0m-1-6h0m0 11h0m-3-9h0m0 8h0m0-6h0m-1-5h0m-1 2h0m-1 6h0m0-1h0m0-6h0m0-1h0m-1 10h0m-2 1h0m0-1h0m0-5h0m0-5h0m-3 3h0m0 7h0m0-11h0m-1 0h0m0 12h0m-2-4h0m-1 4h0m-1-10h0m-1 3h0m0 4h0m-1 3h0m-1 1h0m-1-12h0m0 12h0m-1-7h0m0-1h0m-1 3h0m0 3h0m0-1h0m-1-3h0m-1-3h0m0 7h0m0-10h0m-2 1h0m0-2h0m0 12h0m-1-10h0m-9 1h0m7 17h0m5 7h0m0-10h0m0 8h0m0-10h0m1 4h0m0-2h0m0 9h0m1-9h0m1-2h0m0 11h0m2-9h0m0 3h0m1-5h0m0 4h0m1-4h0m2 10h0m0 4h0m0-13h0m1 2h0m0 2h0m0-5h0m0 9h0m0-1h0m1-8h0m1 6h0m0-1h0m0 9h0m1-2h0m0-2h0m1-1h0m0-5h0m0 3h0m0 4h0m0 3h0m1-14h0m1 10h0m1-6h0m0 9h0m0-6h0m1 1h0m1-7h0m1-1h0m1 3h0m1 5h0m0-2h0m1-4h0m1 1h0m1-2h0m0 1h0m-6 14h0m0-1h0m-4 0h0m0 4h0m0-1h0m-2 3h0m0 4h0m0-6h0m-1 1h0m-1 1h0m-1 3h0m0-5h0m0-1h0m0 4h0m-1 0h0m0 3h0m-1-7h0m0 8h0m0-1h0m0-10h0m0 8h0m-1 2h0m0 1h0m-1 3h0m-1-10h0m-2-1h0m0 8h0m0-6h0m-2 9h0m0-2h0m-1-10h0m-16 8h0m4 11h0m1 7h0m3-5h0m1-3h0m4 1h0m3 7h0m1 0h0m0-6h0m0 4h0m0 3h0m1-9h0m0 7h0m1-10h0m0 12h0m0-5h0m1 2h0m1-5h0m0-6h0m0 13h0m1-2h0m0-6h0m1 4h0m0-4h0m1-4h0m2 2h0m1-3h0m-10 19h0m-2 4h0m-10-5h0m-6-2h0" stroke="#54acf1" stroke-width="7.36" stroke-linecap="round" fill="none"/>
<circle cx="193.51" cy="530.18" r="2.4" fill="#111"/>
<text x="193.51" y="531.34" font-size="3.2" fill="#fff" text-anchor="middle">1</text>
<text x="85.8" y="485.3" font-size="6.4" fill="#111">Pseudotime</text>
<rect x="124" y="477.3" width="49" height="8.7" fill="url(#gE)"/>
<g font-size="5" fill="#111" text-anchor="middle">
<text x="124.6" y="493">0</text>
<text x="132.5" y="493">10</text>
<text x="140.4" y="493">20</text>
<text x="148.3" y="493">30</text>
<text x="156.2" y="493">40</text>
<text x="164.1" y="493">50</text>
</g>
<text x="127.1" y="667.6" font-size="6.3" text-anchor="middle" fill="#111">Component1</text>
<text x="30.2" y="583" font-size="5.9" text-anchor="middle" transform="rotate(-90 30.2 583)" fill="#111">Component 2</text>
<path d="M221.6 474L221.6 670" stroke="#e6e6e6" stroke-width="0.8" fill="none"/>
<path d="M259.4 483.5V658.8H455.5" stroke="#555" stroke-width="0.5" fill="none"/>
<path d="M292.5 658.8v1.3M332.8 658.8v1.3M373.1 658.8v1.3M413.4 658.8v1.3M453.7 658.8v1.3M259.4 511.4h-1.3M259.4 564.9h-1.3M259.4 618.4h-1.3" stroke="#555" stroke-width="0.5" fill="none"/>
<g font-size="3.4" fill="#444">
<text x="292.5" y="663.33" text-anchor="middle">−20</text>
<text x="332.8" y="663.33" text-anchor="middle">−10</text>
<text x="373.1" y="663.33" text-anchor="middle">0</text>
<text x="413.4" y="663.33" text-anchor="middle">10</text>
<text x="453.7" y="663.33" text-anchor="middle">20</text>
<text x="257.3" y="512.62" text-anchor="end">0</text>
<text x="257.3" y="566.12" text-anchor="end">−5</text>
<text x="257.3" y="619.62" text-anchor="end">−10</text>
</g>
<path d="M283.63 508.19L288.47 506.91L316.28 506.91L324.74 503.59L331.59 501.02L348.92 499.63L363.03 498.99L375.12 500.16L386.4 502.52L397.28 505.3L406.95 508.4L416.62 513L426.7 519.1" stroke="#111" stroke-width="0.9" fill="none" stroke-linejoin="round"/>
<path d="M426.7 519.1L431.54 514.61L437.58 508.19L440.8 504.98" stroke="#111" stroke-width="0.9" fill="none" stroke-linejoin="round"/>
<path d="M426.7 519.1L421.46 559.98L416.22 597.64" stroke="#111" stroke-width="0.9" fill="none" stroke-linejoin="round"/>
<circle cx="426.7" cy="519.1" r="2.3" fill="#111"/>
<text x="426.7" y="520.26" font-size="3.2" fill="#fff" text-anchor="middle">1</text>
<path transform="scale(0.25)" d="M1556 1964h0m1 0h0m1-1h0m48 13h0m-19 2h0m0-4h0m0-1h0m-1 0h0m0 2h0m-3-5h0m0 2h0m-1 4h0m0-1h0m0-6h0m0 1h0m0 4h0m-1-3h0m0 4h0m-3 4h0m-2 0h0m-3 0h0m-5-5h0m-1 1h0m0-4h0m0-1h0m0 6h0m-1-6h0m-3 2h0m0 2h0m0-1h0m0 3h0m0 2h0m-1-5h0m-3 3h0m-1 0h0m0-10h0m0 3h0m0-1h0m-1 2h0m0 2h0m0 4h0m0-1h0m-2 2h0m-2-4h0m-5 4h0m-1 1h0m-4-2h0m-71 1h0m-24 1h0m-2 0h0m-1 0h0m-5 1h0m0-6h0m0 3h0m-1-5h0m-8 8h0m-9-5h0m-1-4h0m0 9h0m0-8h0m0 2h0m0 2h0m0-1h0m-1-8h0m0 7h0m-18 6h0m-1 0h0m-4-5h0m0 5h0m0-8h0m-1 5h0m-8 1h0m-1 2h0m0-1h0m-1-4h0m0-6h0m0 9h0m0-7h0m-13 8h0m-4 1h0m-1-4h0m0 1h0m-23 0h0m-2 3h0m-14 0h0m-1-3h0m0 3h0m-13-1h0m-1-2h0m0 2h0m-1 1h0m-134 15h0m16 0h0m6-3h0m0 3h0m1-3h0m5-1h0m0-1h0m23 2h0m20 2h0m6 0h0m56-11h0m2 12h0m0-14h0m0 3h0m1 3h0m0 4h0m0-9h0m0 12h0m3-2h0m1-1h0m0 1h0m0 2h0m3-9h0m1-4h0m1 4h0m1-2h0m0-1h0m3 12h0m1-9h0m0 2h0m0 4h0m0-10h0m1 1h0m0 9h0m1-10h0m3 6h0m0 2h0m0 5h0m4-4h0m0-6h0m0 11h0m1-7h0m4-3h0m0 2h0m0-6h0m3 9h0m1 5h0m0-4h0m1-8h0m0 2h0m0 3h0m1 5h0m3 0h0m2 2h0m4-2h0m0 2h0m10-2h0m0-11h0m0 12h0m0-7h0m1 4h0m3-3h0m1-6h0m0 1h0m4 5h0m1 4h0m9-11h0m0 2h0m0 2h0m1 0h0m3 5h0m0 3h0m0-9h0m1 9h0m0-1h0m0 2h0m0-8h0m0-1h0m1 0h0m0 5h0m2-5h0m1-2h0m0-1h0m0 6h0m1 0h0m0 3h0m0 1h0m0 2h0m1 0h0m2-2h0m1-4h0m0 1h0m1-8h0m0 1h0m0 13h0m0-7h0m1 2h0m0-8h0m8 3h0m0 4h0m0 4h0m2-7h0m6-4h0m1 10h0m0 1h0m1-6h0m0 2h0m0-8h0m0 1h0m0 6h0m1 3h0m0-5h0m4 0h0m0 6h0m1-5h0m1 1h0m2 1h0m0 3h0m1-7h0m0-1h0m0 6h0m0-1h0m0-8h0m7 9h0m1 0h0m0 1h0m1 0h0m0 2h0m0 2h0m0-11h0m0 6h0m2-6h0m2 10h0m0-12h0m1 12h0m1-12h0m0-1h0m0 2h0m0 5h0m4-4h0m0 4h0m0-6h0m0 11h0m3-7h0m1 7h0m0-6h0m1 4h0m0 4h0m0-9h0m1 1h0m2-6h0m1 4h0m0 7h0m1 0h0m0-10h0m0 13h0m3-7h0m1 3h0m0 2h0m1-1h0m4-6h0m0 7h0m6-10h0m8 6h0m0 3h0m6 3h0m0-3h0m4 2h0m1 1h0m18-9h0m0 5h0m9-1h0m1 2h0m0 1h0m0 2h0m1 0h0m20-10h0m1 1h0m0 4h0m4-9h0m1 0h0m2 2h0m2 12h0m0-6h0m1 3h0m0-9h0m4 5h0m1-5h0m2 0h0m0 9h0m1-8h0m1 9h0m1-4h0m2-8h0m0 14h0m1-9h0m0 5h0m4-7h0m0 2h0m1-5h0m0 14h0m2-11h0m0-2h0m2 12h0m0-6h0m1 1h0m2-4h0m1 1h0m1 2h0m0 2h0m1-9h0m0 4h0m3 6h0m1-1h0m0 2h0m0-11h0m1 11h0m0-10h0m0-1h0m1 4h0m18 8h0m0-1h0m0-10h0m0 12h0m0-11h0m0 12h0m0-10h0m1 3h0m0 1h0m3 5h0m0-3h0m1-6h0m0-4h0m0 1h0m1 9h0m0 1h0m0 1h0m0-10h0m1 2h0m2 3h0m1 7h0m0-1h0m8-6h0m1-3h0m0 8h0m1-12h0m0 4h0m10 23h0m-4-4h0m-1 3h0m0-6h0m0 2h0m-1 3h0m0-9h0m0 8h0m-1-2h0m-2 0h0m-1-2h0m0 3h0m0-7h0m-1 7h0m0 4h0m0-10h0m0 3h0m-1-4h0m0 3h0m-8-2h0m0 3h0m0 4h0m0 1h0m0-10h0m-1 5h0m0 5h0m-1-7h0m-2 11h0m0-1h0m-1-13h0m0 6h0m-4 0h0m0 2h0m0-6h0m0 1h0m-1 4h0m0 1h0m0-6h0m-1 10h0m0-11h0m-3 13h0m0-4h0m-1-9h0m-2 13h0m-21-3h0m0 2h0m-1-8h0m-4-1h0m0 4h0m0-8h0m0 3h0m-1 11h0m-1-4h0m-3-3h0m0 2h0m-1-8h0m-1 13h0m-2-14h0m-1 4h0m-1 4h0m-1-3h0m-7 2h0m0-5h0m-1 7h0m0-9h0m0 3h0m0 2h0m-1 6h0m0 2h0m0-1h0m-1-4h0m-7-8h0m0 8h0m-1-6h0m0-1h0m-7 2h0m-5 5h0m-3 5h0m-2-8h0m-3-2h0m-1 7h0m0-8h0m-1 12h0m-4-2h0m0-10h0m0-1h0m0 7h0m-3 1h0m0-6h0m-1 6h0m0-3h0m-1 8h0m-9 0h0m-3-3h0m-7-3h0m0-1h0m-1-6h0m0 5h0m-3-6h0m0 4h0m-1 0h0m0 7h0m-3-8h0m-1 11h0m0-14h0m-1 9h0m0-8h0m-2 3h0m-11 5h0m0-6h0m-1 1h0m0 2h0m0 5h0m0-10h0m-4 8h0m-2-8h0m0-1h0m0 3h0m-2 4h0m-1-1h0m0 4h0m0-1h0m0-4h0m-1 3h0m0-1h0m0-5h0m0 12h0m-1 0h0m0-9h0m-3 4h0m0-6h0m-1 1h0m0 3h0m0 3h0m0-1h0m0-7h0m-1 7h0m-3-5h0m-1 0h0m-1 9h0m0-9h0m-2 7h0m0-6h0m-1 4h0m0-5h0m-3 3h0m-1-6h0m0 12h0m0-1h0m0 2h0m-1-9h0m0 2h0m0 2h0m0-6h0m-1 9h0m-8 2h0m-1-11h0m-3 6h0m-1-4h0m0 2h0m0 6h0m0-10h0m0 11h0m-1-9h0m-4 0h0m0-4h0m0 12h0m0-11h0m-1 0h0m0 5h0m-8 4h0m0-11h0m-1 3h0m0 4h0m-1 6h0m-7-8h0m-1 9h0m0-10h0m0 3h0m-1 4h0m0 2h0m0-10h0m0 9h0m0-6h0m-3 6h0m-1-12h0m0 2h0m0 2h0m0-1h0m-1 2h0m0 6h0m0 1h0m0-6h0m-3 2h0m-1 3h0m0 3h0m-1-3h0m-4-1h0m-9 0h0m0 3h0m-1-2h0m0-5h0m-1 3h0m0-1h0m0-5h0m-1 3h0m-2-6h0m-1 14h0m0-4h0m-1-10h0m0 1h0m-2 6h0m-1-3h0m-1-4h0m0 9h0m-1-8h0m-3-1h0m0 14h0m0-11h0m-1-3h0m0 14h0m-3-2h0m-1-4h0m-1-6h0m0 1h0m-3-2h0m-1 3h0m0 2h0m0 3h0m-1-2h0m-3 1h0m0 2h0m-1 0h0m0-10h0m0 2h0m0 11h0m-1 1h0m-8-13h0m0 4h0m-1 4h0m0-5h0m-1 8h0m-7-5h0m-1-7h0m0 2h0m0-1h0m0 3h0m0 2h0m-1 6h0m0-11h0m0 13h0m0-8h0m-3 3h0m-1-1h0m-5-8h0m-1 4h0m-3 9h0m-1-1h0m0-10h0m0 11h0m0-6h0m0 1h0m-1-1h0m-35 0h0m-3 7h0m-6 0h0m0-7h0m0 6h0m-9-2h0m-5-9h0m-1 0h0m0 11h0m0-13h0m-1 8h0m-2-2h0m-1 7h0m0-8h0m-1 3h0m-5 5h0m-3-10h0m-1 1h0m0 5h0m0 3h0m-5 0h0m0 1h0m-5-3h0m0-9h0m0 5h0m-10 1h0m0 3h0m-5 0h0m0-1h0m-8-2h0m-1-1h0m0 2h0m0 3h0m0-8h0m-1 7h0m-2-10h0m-1 9h0m0-3h0m-1 6h0m0-4h0m-3 4h0m0-7h0m-1 4h0m0 4h0m-1 0h0m-4-9h0m-4 6h0m-5 3h0m-1-3h0m-4-6h0m-1-4h0m-4 9h0m-1 0h0m-1 4h0m-21-1h0m-1-7h0m-1 5h0m-1 3h0m-2-8h0m-1 4h0m-2-4h0m-1 0h0m0 9h0m-1-10h0m-1 4h0m-1-3h0m-1 5h0m-1 3h0m-5 1h0m-1-1h0m-2-2h0m0-5h0m-1 4h0m0-6h0m-1 5h0m0 2h0m-1-6h0m0 6h0m-1-1h0m-1-5h0m-1 8h0m0-12h0m-1 9h0m0-6h0m0 2h0m-1-4h0m0 4h0m0 1h0m-1-5h0m0 12h0m0-5h0m-1-3h0m-1 1h0m-1-4h0m-1 2h0m-1 3h0m-1 0h0m-1-2h0m0 5h0m-1-9h0m-2 6h0m-1 0h0m0 3h0m-1-7h0m0-1h0m0 8h0m-1-2h0m-2-2h0m-6-3h0m-1 4h0m0 3h0m-1-1h0m0-8h0m-1 6h0m-4-3h0m0 5h0m0 2h0m-2-4h0m-1-1h0m-2 3h0m0 4h0m-1-2h0m0-1h0m-1-1h0m-1 1h0m-2 1h0m-1 0h0m-1 1h0m-11 14h0m1-2h0m0 4h0m2-7h0m1 7h0m0-9h0m0 6h0m1-1h0m0 3h0m0-10h0m0 6h0m1 4h0m0-7h0m1 6h0m1-8h0m1-1h0m0-1h0m2 8h0m0 4h0m2-12h0m2 6h0m1-1h0m0-1h0m1-4h0m1 9h0m0-11h0m2 2h0m1 10h0m0-6h0m1-5h0m0-1h0m0 13h0m2-13h0m0 4h0m0 5h0m1-6h0m1 8h0m1-10h0m1 6h0m1 7h0m0-5h0m0 3h0m1 0h0m3-6h0m1 7h0m0-7h0m1-5h0m0 7h0m1 1h0m1-7h0m1 7h0m1-6h0m3 8h0m1-1h0m0-10h0m0 13h0m1-7h0m0-6h0m0 9h0m1 0h0m0 2h0m1 2h0m1-6h0m0 4h0m0 2h0m1-3h0m0 1h0m1 2h0m0-11h0m2 8h0m0-6h0m1 9h0m1-5h0m0-5h0m2-2h0m0 11h0m1-11h0m1 13h0m0-5h0m1 3h0m0-9h0m0 3h0m1 2h0m0 3h0m0 2h0m1-11h0m0 12h0m1 0h0m0-7h0m0 4h0m0-10h0m1 10h0m1 3h0m0-8h0m0 2h0m1-3h0m0 3h0m0-8h0m3 3h0m1 8h0m0 3h0m0-8h0m0 2h0m1-1h0m2-3h0m0 3h0m1 3h0m1-10h0m0 9h0m2-1h0m0 1h0m0 4h0m0-10h0m1 11h0m1-11h0m0 5h0m3-3h0m2-5h0m0 14h0m21-10h0m1 1h0m1 7h0m0-10h0m4 10h0m1-5h0m0-7h0m4 8h0m1-5h0m2-1h0m1 3h0m1-5h0m0 13h0m4-8h0m0 5h0m1-9h0m1 0h0m0 12h0m4 0h0m0-10h0m1 6h0m0 3h0m3-3h0m1-1h0m0-7h0m1 10h0m4 3h0m0-4h0m0-1h0m2 1h0m1 4h0m1-9h0m0 1h0m1-3h0m3 1h0m2 2h0m3-5h0m0 12h0m1 0h0m4-8h0m0 3h0m1 5h0m5-2h0m0-8h0m2-3h0m2 6h0m0 6h0m1-2h0m0-6h0m3 2h0m0 3h0m1-8h0m0 13h0m0-1h0m1 1h0m0-10h0m0 6h0m3-7h0m0 8h0m1-9h0m0 2h0m4 8h0m0-7h0m1 1h0m0 4h0m0-3h0m2 2h0m3 3h0m0 1h0m0-6h0m4 4h0m0-9h0m1 9h0m8-9h0m1-2h0m0 13h0m4-13h0m1 13h0m1-9h0m2 2h0m1 1h0m0-1h0m0 8h0m1-8h0m0 4h0m1-6h0m12 1h0m20 0h0m1 1h0m1 3h0m0 1h0m0-10h0m0 13h0m0-11h0m0-1h0m1 1h0m0 2h0m1 7h0m2-3h0m10 3h0m0-10h0m0 3h0m1 0h0m0 9h0m1-7h0m0-3h0m8 7h0m0-7h0m0-1h0m1 9h0m0-10h0m0 5h0m0 1h0m4 3h0m1-6h0m13-1h0m0 2h0m0 3h0m0-8h0m1 9h0m0 4h0m1-5h0m0-1h0m0 4h0m0-8h0m8-2h0m0 12h0m0-8h0m1 5h0m0-8h0m0 3h0m1 5h0m2 1h0m0 1h0m0 2h0m1-14h0m0 2h0m1 0h0m0 1h0m0 8h0m3 1h0m0-2h0m2 2h0m13-6h0m1 1h0m1-1h0m3-6h0m0 9h0m1 0h0m4-1h0m0-8h0m0 13h0m1-13h0m8 6h0m1 2h0m0 3h0m0 3h0m0-10h0m1-2h0m8 10h0m1-10h0m0 6h0m1 4h0m0-1h0m0-3h0m4 5h0m0-4h0m0-8h0m1-1h0m11 9h0m1 5h0m0-6h0m0 3h0m1 2h0m0-9h0m0 3h0m1-5h0m0 10h0m3-2h0m0-1h0m0 2h0m0-11h0m6 13h0m4-2h0m0-7h0m1-4h0m0 12h0m0-8h0m1-4h0m2 10h0m1-2h0m0-6h0m0-1h0m1 0h0m0 2h0m0-3h0m3 9h0m5 0h0m0 4h0m1-13h0m0 13h0m0-8h0m0 3h0m1-1h0m14 2h0m1-1h0m3-8h0m1 9h0m4-3h0m1 2h0m4 2h0m0 4h0m1-14h0m0 9h0m0 4h0m0-6h0m2 3h0m1-8h0m0-1h0m1 12h0m0-8h0m0 2h0m10 5h0m1-9h0m2 10h0m0-9h0m1-1h0m1-3h0m0 1h0m4 6h0m0-1h0m4 0h0m0-1h0m1-3h0m0 1h0m3 8h0m2-9h0m0 1h0m1 7h0m0 1h0m1 1h0m18-11h0m2 1h0m7 5h0m1-5h0m6-1h0m1 5h0m2 8h0m1-10h0m0 4h0m2 3h0m3-6h0m0 2h0m0-7h0m0 14h0m0-1h0m1-6h0m9 6h0m0-10h0m0 6h0m1-8h0m0 13h0m12-13h0m0 5h0m1-1h0m0 3h0m1 5h0m0-1h0m4 0h0m0-6h0m1-5h0m4 2h0m0 6h0m0 2h0m0-7h0m1 1h0m2-5h0m1 1h0m0-1h0m1 9h0m0-1h0m8 2h0m1-8h0m0 12h0m1-1h0m0-1h0m0-7h0m0 1h0m0-5h0m3 10h0m0-10h0m1 4h0m0-3h0m1 0h0m0 4h0m1 4h0m1-3h0m2-1h0m0 2h0m1 5h0m0-7h0m3 7h0m0-1h0m0 2h0m0-4h0m1 1h0m0-6h0m0 2h0m1-1h0m0 3h0m0-9h0m0 14h0m48 11h0m0 3h0m-1-3h0m0 2h0m0 1h0m-1-4h0m0 4h0m-3-4h0m-1 0h0m0-4h0m0 9h0m0-8h0m-1 7h0m-8 0h0m0-3h0m-5 0h0m0-1h0m-1 0h0m-2 0h0m-2-5h0m0 3h0m0 2h0m0-7h0m-1 4h0m-8 4h0m0-1h0m0 3h0m0 2h0m0-10h0m0 2h0m-1 2h0m0 3h0m0-4h0m-8-4h0m-1 6h0m0 5h0m0-8h0m-1-6h0m-3 0h0m0 10h0m-1 0h0m0 1h0m0 2h0m0-6h0m-1-6h0m0 6h0m-3-5h0m-1 9h0m0-10h0m-1 13h0m0-12h0m-3 10h0m-4 2h0m-1-8h0m-1-6h0m0 13h0m0-10h0m0 1h0m-1 5h0m-6-9h0m-1 3h0m-1-1h0m0 3h0m-3-4h0m-5 1h0m-1-2h0m-1 0h0m0 11h0m0-8h0m-4 2h0m0 5h0m-1-10h0m-1 12h0m-12-8h0m0 2h0m0-1h0m-1-4h0m0 3h0m-1-1h0m0 4h0m-8-4h0m0-1h0m-2 3h0m-3 6h0m0-6h0m0 3h0m-1-5h0m0 7h0m-2-3h0m-1 2h0m-1-6h0m0-1h0m-1 3h0m0-5h0m0 3h0m-35 6h0m-1-6h0m0 7h0m-8-3h0m-1-4h0m0 6h0m-6-7h0m-12-1h0m-1 6h0m-1 1h0m-18-8h0m0 6h0m0-1h0m-1 0h0m-1 0h0m-6 7h0m0 2h0m-1 0h0m-5-4h0m-1 3h0m-3-1h0m0 2h0m-1-6h0m-2-4h0m-2 8h0m-5-10h0m0 1h0m-1 11h0m-1-2h0m-4-11h0m-4 10h0m0 1h0m0-7h0m-1-3h0m0 5h0m0 1h0m-1 2h0m-4-9h0m-14 8h0m-5 1h0m0-7h0m-4 8h0m0-1h0m0 2h0m-1-8h0m0 2h0m0-1h0m-5 3h0m0 4h0m-3-6h0m-1 4h0m0-3h0m0-1h0m-1 4h0m-5-9h0m-5 0h0m-2-1h0m-2 11h0m-14-11h0m0 11h0m-1-1h0m-1-9h0m-3 12h0m-1-11h0m-14-2h0m-6 1h0m-3 1h0m-10 5h0m-1-2h0m-1-1h0m0 3h0m-5-7h0m-4 2h0m-1-1h0m-3 10h0m-6-9h0m-3 2h0m-1-3h0m-35-1h0m0 3h0m0 11h0m0-10h0m0 2h0m0 4h0m-1-6h0m0-3h0m-1 13h0m-1-14h0m-2 2h0m0 1h0m0 3h0m-4 2h0m0 2h0m-2 3h0m-8-10h0m0 6h0m-1 4h0m-1-12h0m0 13h0m-2-6h0m-1-3h0m0-2h0m-1 2h0m0 1h0m0 2h0m0-1h0m0 2h0m0-8h0m0-1h0m-3 14h0m0-6h0m-1-1h0m0 3h0m0-7h0m0-1h0m-1 2h0m0 7h0m-3 2h0m0 1h0m-1-11h0m0 6h0m0 1h0m-1-9h0m-3 8h0m0-8h0m0-1h0m-1 8h0m0 1h0m0-9h0m0 14h0m-1-9h0m-1 0h0m-2 4h0m0-5h0m-2 2h0m0 3h0m0 2h0m-3 0h0m-1-10h0m-4-1h0m0 13h0m0-1h0m0-7h0m-1 6h0m-3-3h0m-1-1h0m0 2h0m-1-2h0m-2 3h0m-3-6h0m0 5h0m-4 1h0m0 2h0m0 2h0m0-8h0m-1 4h0m0-1h0m-2-3h0m-1 0h0m-1-1h0m0-2h0m-1 11h0m-2-6h0m0 5h0m-1-5h0m0 1h0m-1-5h0m0 3h0m0 1h0m-1-8h0m-1 2h0m-1 10h0m-1 0h0m0 2h0m0-10h0m0 5h0m-1 5h0m0-8h0m0-1h0m-3 9h0m-1-14h0m0 13h0m0-8h0m-1 2h0m-1 6h0m-2-5h0m0-5h0m-1 1h0m0 4h0m0 5h0m-1-7h0m0-2h0m0 1h0m-1 9h0m-4-4h0m-3-1h0m-1-9h0m0 14h0m0-5h0m0-1h0m-1-7h0m-3 11h0m0 2h0m-1-8h0m0 8h0m-1-6h0m-22 6h0m0-7h0m0 5h0m-1 0h0m0-11h0m-2 6h0m-1 1h0m0 3h0m0 1h0m-1-3h0m0-1h0m-1-6h0m0 7h0m-1-5h0m-1 10h0m0-1h0m0-6h0m-1 5h0m0 1h0m0-10h0m-1-3h0m0 12h0m0 2h0m-1-12h0m-1 7h0m0 3h0m-1-4h0m0 1h0m-1 3h0m0-10h0m-1 5h0m0-1h0m0-4h0m-1 7h0m-1 4h0m-1-3h0m0 3h0m-1 0h0m0-4h0m-1-5h0m0 5h0m0 1h0m-1 3h0m-1-9h0m0 5h0m0-1h0m-2 3h0m0-6h0m0 2h0m-1 6h0m0-7h0m-2-1h0m-1 6h0m-1-3h0m0-4h0m-1 1h0m0 5h0m0 2h0m-2-8h0m-1 10h0m-2-14h0m0 13h0m0-9h0m-1-3h0m0-1h0m-1 12h0m-1-9h0m-1 11h0m0-6h0m-1 0h0m0 6h0m0-7h0m-1-7h0m-1 6h0m-1 4h0m0-10h0m0 11h0m-1-3h0m0-8h0m0 12h0m0-11h0m-1 5h0m-1 5h0m-1-8h0m-1 5h0m-2-6h0m-1 6h0m0 2h0m0 2h0m-1-9h0m0 1h0m0 5h0m0-9h0m-1 8h0m-3-2h0m0 8h0m0-1h0m-1-12h0m0 2h0m-1 9h0m0-11h0m0 13h0m0-7h0m-1-7h0m0 12h0m-1-4h0m0 2h0m-1-1h0m0 1h0m0-10h0m-1 7h0m-1 1h0m0-8h0m0 12h0m-1 0h0m-1-11h0m0 13h0m-1-13h0m0 5h0m0 3h0m0 1h0m-2-7h0m0 2h0m-1 6h0m0-10h0m0 1h0m-1 9h0m-3-2h0m0 3h0m-1-12h0m-1 3h0m-1-1h0m0 3h0m-2 5h0m-1 0h0m-1 3h0m-1 1h0m0-11h0m-1 11h0m0-14h0m1 23h0m2-4h0m0 5h0m1 1h0m0 2h0m0-11h0m1 9h0m0 2h0m1 2h0m1-12h0m0-1h0m1 10h0m0 1h0m0 2h0m2-5h0m1-8h0m1 0h0m1-1h0m2 14h0m0-9h0m0 2h0m1-5h0m1-1h0m0 7h0m1 4h0m0-4h0m1 2h0m0-9h0m1 9h0m0-10h0m0 2h0m0 5h0m1 4h0m0-9h0m2 9h0m1-6h0m0 7h0m0-11h0m0 3h0m1 0h0m0-1h0m0-2h0m1 4h0m0 3h0m0 3h0m1 1h0m1-7h0m0-4h0m0 1h0m1 9h0m1-11h0m0 1h0m0 4h0m2 2h0m0 4h0m0-7h0m1 7h0m1-11h0m0 13h0m1-2h0m0-6h0m0 4h0m1 1h0m0 2h0m1-12h0m0 13h0m0-9h0m0 2h0m1 6h0m2-10h0m0 3h0m0 8h0m1-8h0m0 3h0m0 3h0m0-1h0m0-6h0m1 5h0m2 0h0m2-2h0m0 6h0m1 1h0m1-1h0m1 1h0m2-6h0m1 3h0m0-1h0m0 3h0m0-11h0m0 2h0m1 6h0m0 1h0m1 0h0m0-8h0m0-1h0m1 4h0m0 2h0m1-4h0m0 2h0m0-1h0m0 3h0m0 3h0m0 2h0m0-11h0m1 9h0m1-5h0m0 2h0m0 5h0m0-11h0m1 12h0m1-5h0m1 3h0m0 2h0m0-11h0m1-2h0m1 10h0m1 1h0m2-12h0m0 3h0m0 3h0m1 4h0m1 3h0m1 0h0m0-11h0m2 11h0m0-10h0m0 9h0m0-8h0m1 1h0m1 9h0m1-8h0m0 3h0m0 4h0m1-2h0m1 1h0m1-10h0m1 3h0m0 9h0m0-13h0m0 11h0m1-3h0m0-3h0m1 1h0m0 4h0m0-10h0m0 9h0m0-10h0m0 6h0m1-4h0m0 12h0m1-14h0m0 13h0m0-10h0m0 4h0m24-2h0m0 4h0m0 2h0m1 0h0m0-8h0m3 8h0m0 2h0m0-10h0m1 9h0m2-7h0m1-4h0m1 3h0m4 1h0m0 4h0m1-4h0m3 4h0m1-7h0m1 1h0m1 4h0m0 3h0m2-2h0m1 0h0m0 2h0m0-1h0m0-4h0m0 1h0m1 2h0m0-1h0m0 6h0m0-10h0m0-1h0m0 2h0m1 6h0m1 4h0m1-14h0m0 12h0m1-5h0m1-7h0m0 13h0m0-9h0m4 7h0m1 3h0m0-8h0m3 1h0m0-6h0m0 12h0m1-3h0m0-10h0m0 14h0m1-6h0m0-2h0m3 3h0m0 5h0m0-10h0m2 9h0m1-2h0m2-9h0m0 7h0m1-2h0m1-2h0m0 4h0m0-8h0m2 9h0m2 1h0m0 2h0m0-1h0m2-5h0m2 2h0m1 2h0m0-9h0m0 4h0m1 4h0m2-4h0m0 2h0m1 2h0m0-10h0m0 9h0m0 3h0m1-5h0m3-1h0m1 1h0m1-5h0m0 7h0m3-1h0m1 5h0m0-1h0m0-10h0m0 12h0m1-12h0m3 11h0m2 0h0m3 0h0m0-9h0m0 4h0m1-8h0m3 5h0m1 7h0m1-5h0m8-6h0m0 2h0m1-3h0m1 4h0m4 0h0m0-2h0m2 2h0m2 6h0m0 2h0m1-6h0m1 1h0m0-5h0m0-1h0m6 12h0m2-1h0m5-4h0m4-2h0m16 1h0m1-5h0m14 0h0m1 2h0m0 2h0m1 3h0m1-7h0m0 12h0m32-9h0m3-2h0m1-1h0m2 3h0m3-3h0m1 4h0m0-5h0m23 8h0m48-8h0m0 5h0m1 1h0m0-4h0m0 2h0m1 5h0m0-7h0m1 4h0m1-4h0m1-3h0m5 3h0m1 9h0m0-10h0m0 5h0m0 3h0m0-1h0m0-8h0m1 5h0m0 3h0m0-7h0m0 12h0m3-8h0m5 4h0m0-2h0m1 1h0m0-6h0m0 9h0m1-6h0m2 0h0m6-2h0m0 1h0m0 5h0m0-10h0m1 7h0m0 6h0m13-12h0m14 13h0m17-5h0m4-9h0m9 9h0m20-1h0m1-2h0m1 5h0m7 3h0m0-1h0m8 0h0m7-6h0m1 2h0m1 3h0m6 1h0m1 1h0m7-4h0m0 3h0m1-4h0m16 4h0m17-4h0m0 5h0m3-13h0m1 9h0m0-6h0m0 3h0m1-5h0m3 9h0m0-11h0m1 2h0m0 2h0m0 5h0m0 1h0m4-9h0m0 3h0m1 1h0m0 8h0m0-12h0m1 9h0m2-4h0m1-6h0m0 7h0m1 1h0m0-8h0m0 1h0m0 13h0m1-1h0m0-8h0m7-5h0m1 13h0m0-6h0m0 5h0m1-4h0m0-6h0m0 1h0m0 3h0m1 6h0m6-2h0m1-7h0m0 2h0m0 2h0m1-6h0m0 6h0m0 2h0m1 3h0m0-5h0m2-4h0m1 1h0m0-3h0m1 8h0m0-1h0m0-6h0m0 1h0m1 2h0m0 2h0m0-5h0m0 12h0m3-8h0m0 7h0m0-11h0m1 9h0m1-2h0m0-1h0m8 5h0m0-8h0m0 3h0m0 6h0m1-14h0m0 6h0m0 1h0m3-7h0m1 6h0m1 6h0m0 2h0m0-10h0m4 5h0m0 2h0m0-1h0m0 2h0m0 2h0m0-8h0m0-1h0m0 3h0m1 1h0m3-7h0m1 11h0m0-11h0m0 9h0m2-6h0m2 6h0m0 3h0m1-7h0m0 1h0m4 17h0m0 2h0m-1-1h0m-2 3h0m-1-12h0m0 5h0m-1 6h0m-3-7h0m0-6h0m0 9h0m0-6h0m0 2h0m0-1h0m-1 3h0m0-4h0m0 3h0m-1 4h0m0-10h0m-3 6h0m-1 2h0m-1-5h0m0 4h0m0 2h0m-3-8h0m0 7h0m0-8h0m0 12h0m-1 1h0m-1-11h0m-1 6h0m-2-5h0m0-1h0m0 2h0m-1-3h0m-8 8h0m-1 3h0m-1-1h0m0-11h0m0 5h0m0-1h0m0 6h0m-4-2h0m-14-7h0m-1 0h0m-8 5h0m-1 4h0m-1-4h0m0-1h0m0 2h0m0 3h0m0 1h0m0-10h0m0-1h0m0 13h0m-3-10h0m-2-3h0m-8 0h0m-1 1h0m-4 2h0m0-1h0m-32 6h0m0 5h0m-1-1h0m-1 1h0m-6-11h0m0-2h0m-1 7h0m0-5h0m0 2h0m0 1h0m-1-4h0m0 11h0m0-10h0m0 1h0m-15 4h0m-1-6h0m-6 0h0m0 1h0m-2 12h0m-29-12h0m-55 9h0m0-2h0m-1 5h0m0-11h0m0 2h0m0 2h0m0 2h0m0-7h0m-1 0h0m0 5h0m0-7h0m-1 7h0m-1-7h0m-6 12h0m0 1h0m0-9h0m-1 8h0m0-10h0m0 12h0m-1-5h0m0-8h0m0 12h0m-8-3h0m-1-1h0m-115 2h0m-1 0h0m-2 3h0m-36 0h0m-2-14h0m-4 9h0m-8-5h0m-3 5h0m-4-1h0m0-1h0m0-6h0m0 12h0m-1 1h0m0-10h0m0 1h0m0 2h0m0 1h0m0 3h0m0-11h0m0 12h0m0-10h0m-1 6h0m-1-2h0m0-1h0m0 3h0m-2-7h0m0 6h0m-1-6h0m0 2h0m0 3h0m0 4h0m-1-7h0m0 3h0m0 1h0m-1-3h0m0 3h0m-11-3h0m-1 1h0m-1 2h0m0-6h0m-1 12h0m-2-7h0m-1 4h0m0 2h0m0-11h0m-1 8h0m0 3h0m0-8h0m0-1h0m-1 0h0m-2 3h0m0 5h0m0-10h0m-1 6h0m0 4h0m0-1h0m0-8h0m0-1h0m-5 3h0m0 4h0m-1-6h0m-4 6h0m0-5h0m0 2h0m-1 2h0m-3-5h0m-1 10h0m-1-5h0m0 7h0m-2-1h0m-1-10h0m-2 6h0m0 1h0m-3-7h0m0 7h0m0-8h0m-1 8h0m0-8h0m0 3h0m0 2h0m-3-6h0m-1 6h0m0 5h0m-4 2h0m-1-7h0m0-7h0m0 2h0m-1 0h0m-4 5h0m0 5h0m-1-9h0m0 5h0m0 4h0m-3-12h0m-1 0h0m0 11h0m-3-6h0m-1 0h0m0-1h0m0 10h0m-1-10h0m0 9h0m-1-6h0m-2-5h0m-5 4h0m-1 5h0m-1 0h0m0 2h0m0-6h0m0 2h0m-3 4h0m-1 1h0m0-10h0m-6 7h0m-2-10h0m-1-1h0m-1 13h0m0-10h0m0 6h0m-1-4h0m-2 9h0m0-13h0m-2 0h0m-1 7h0m-21 2h0m-1 0h0m0-10h0m-1 12h0m-1-4h0m-2 0h0m-1-2h0m0 1h0m-1-1h0m0 1h0m-1 2h0m0-5h0m0 3h0m0 3h0m-1-9h0m0 4h0m-1 6h0m0-6h0m-1 7h0m0-10h0m0 5h0m-1-3h0m-1 3h0m-1 5h0m0-6h0m-1 2h0m0 1h0m-1-8h0m-1 0h0m-1 4h0m0 7h0m-1-8h0m0 3h0m0 1h0m-1-1h0m0 5h0m-1-7h0m0 9h0m0-12h0m-1 7h0m-1 3h0m0-10h0m-1 0h0m0 5h0m-2 5h0m0-3h0m0-9h0m-1 5h0m-1-1h0m0 2h0m0 4h0m-1-10h0m-1 9h0m0-8h0m-2 8h0m0 5h0m0-10h0m-1 0h0m-1-4h0m-1 9h0m0 4h0m0-10h0m-1 0h0m0 7h0m0-1h0m-1-3h0m0 2h0m0-1h0m-2 5h0m0 2h0m-1-8h0m0-6h0m-1 11h0m-2-10h0m0 13h0m0-8h0m-1 8h0m0-8h0m0 2h0m-1 4h0m0-8h0m-1 3h0m0 4h0m0-9h0m0 12h0m0-10h0m-1 6h0m-1-3h0m0-6h0m-1 13h0m-1 0h0m0-7h0m0 2h0m0-8h0m0 2h0m-1 3h0m-1 1h0m0 6h0m0-1h0m0-6h0m-1 2h0m0 2h0m0-1h0m-1 3h0m-1-9h0m0 1h0m-1 2h0m0-5h0m-1 9h0m-1-7h0m0 11h0m-1-10h0m0 2h0m0 2h0m-2-1h0m0 2h0m-1 3h0m-4-1h0m0-8h0m-1 8h0m-1-6h0m0 2h0m-1 5h0m0-3h0m0-8h0m0 2h0m-2 4h0m-3-7h0m0 5h0m-1-3h0m-2 0h0m-3 8h0m13 15h0m2-1h0m4-4h0m0 9h0m1-2h0m0 1h0m0-8h0m5-4h0m2-1h0m0 14h0m2-13h0m0-1h0m1 3h0m1 0h0m4-3h0m1 4h0m1-2h0m1 1h0m0 1h0m1 7h0m1-9h0m0 3h0m2-1h0m0-1h0m1-1h0m6 3h0m2-2h0m1 8h0m0-10h0m1 13h0m1-13h0m2 11h0m1-9h0m1-3h0m1 0h0m4 5h0m1-5h0m2 1h0m7 1h0m1-2h0m28 9h0m0 2h0m0-6h0m1 0h0m0 1h0m0-3h0m1 8h0m0-2h0m6-1h0m0 4h0m0-5h0m2-5h0m0 6h0m1-4h0m3-4h0m0 12h0m1 2h0m0-10h0m0-1h0m0-2h0m0-1h0m1 10h0m0 3h0m0-8h0m1 3h0m0-4h0m3-2h0m1 11h0m1 1h0m1-4h0m1-2h0m0 2h0m0-6h0m0 3h0m1 4h0m4-10h0m1 1h0m0 4h0m0-5h0m1 3h0m0-1h0m1 1h0m1 1h0m1 0h0m0-2h0m1 5h0m0-6h0m1-1h0m1 12h0m1-2h0m0 3h0m1-6h0m0-8h0m0 12h0m0 2h0m0-10h0m2 0h0m3 9h0m0-8h0m4 6h0m3 1h0m0-8h0m1 4h0m0 6h0m1-9h0m0-2h0m0 9h0m3-7h0m1-2h0m1 8h0m1-9h0m1 11h0m2-4h0m1-6h0m0 5h0m0-1h0m1 1h0m4-6h0m5 10h0m0-3h0m2 0h0m0 4h0m0-1h0m0-4h0m1-6h0m0 2h0m1-2h0m0 2h0m1 2h0m0-5h0m2 9h0m1 1h0m0 3h0m1-4h0m0-1h0m0-8h0m1 2h0m0 11h0m4-13h0m0 5h0m0-1h0m1-3h0m7 10h0m0-8h0m0 4h0m0 5h0m1-4h0m1-1h0m0 3h0m4-10h0m1 10h0m0-10h0m0-1h0m0 13h0m1-4h0m0 4h0m1 0h0m0-9h0m1 2h0m1 4h0m1-1h0m0-3h0m0 2h0m1-7h0m0 12h0m0-11h0m0 4h0m1 7h0m0 1h0m0-5h0m1-1h0m0 3h0m2 2h0m47-11h0m6-2h0m128 0h0m9 0h0m0 3h0m2-3h0m169 0h0m23 6h0m0 2h0m0-8h0m0 2h0m1-1h0m0 4h0m1-1h0m17 4h0m0-6h0m1 10h0m0-11h0m0 4h0m1 1h0m0 4h0m1 2h0m12-11h0m1 5h0m0 6h0m0-11h0m0 4h0m1 8h0m3-11h0m0 9h0m0-2h0m0-9h0m1 2h0m-5 16h0m-1 0h0m-1 4h0m-11-3h0m-2-3h0m-405 12h0m-1-12h0m0 3h0m0 2h0m-2-6h0m-3 4h0m0 3h0m-1 0h0m-1 6h0m0-6h0m0-7h0m-1 6h0m0 7h0m0-10h0m-1 5h0m-4-3h0m0 2h0m-1 2h0m-8-2h0m0-5h0m-6 10h0m0 1h0m0-6h0m0-1h0m-1-6h0m0 2h0m0 4h0m0 3h0m-1-8h0m-2-1h0m-1 13h0m-2-3h0m0 2h0m0-9h0m-1 3h0m0 2h0m0-5h0m-1 6h0m0 3h0m-8-5h0m-7 7h0m-5-12h0m0 5h0m-9 5h0m-1-3h0m0 2h0m0 2h0m-3-12h0m0 13h0m-1-5h0m0-9h0m-1 9h0m0-9h0m0 12h0m-4-10h0m-4 9h0m0 2h0m0-11h0m-1 4h0m-4 8h0m-1-7h0m0-7h0m-1 13h0m0-11h0m0 4h0m-1 0h0m-1-6h0m-1 8h0m-4-3h0m0 3h0m0 2h0m0-1h0m-1-9h0m0 2h0m0 3h0m-6 6h0m0-9h0m0 5h0m-1 1h0m0-8h0m0 3h0m-2 6h0m0 5h0m-1-5h0m-2 4h0m-1-4h0m0-9h0m0 2h0m-1 6h0m0 2h0m-26 2h0m-8-4h0m-9-7h0m0 5h0m-4-2h0m-3-1h0m0 5h0m-1-5h0m-3 6h0m-1-2h0m-9-5h0m-13-1h0m-5 5h0m0-6h0m-1 3h0m-1 3h0m0 4h0m-1-2h0m-2-3h0m-3-1h0m-1 12h0m1 0h0m9 2h0m3 2h0m0 3h0m1 4h0m0-8h0m0 6h0m0-1h0m7-4h0m9 2h0m8 3h0m1 2h0m0 2h0m52-13h0m2 2h0m5-3h0m2 0h0m12 13h0m0-9h0m0-2h0m1 10h0m0-11h0m1 2h0m0 5h0m13-4h0m1 1h0m0 1h0m0-6h0m1 2h0m0 6h0m1-8h0m24 5h0m14 3h0m0-7h0m3 11h0m0-1h0m1-6h0m0 8h0m0-1h0m0 2h0m1-6h0m4 1h0m9-6h0m8-3h0m405 1h0m1 0h0m4 3h0m2 1h0m1 1h0m4-4h0m1 4h0m-440 17h0m-1 1h0m0-7h0m-73 5h0m-7 6h0m-1-1h0m-7-4h0m-75 1h0m-1-9h0m0 12h0m0-9h0m-1 8h0m0-3h0m0 13h0m1-4h0m0-1h0m0 8h0m1-5h0m0 3h0m0 2h0m0-9h0m81 6h0m1 6h0m1-9h0m0 3h0m-1 19h0m-1-1h0" stroke="#6f9ffb" stroke-width="7.36" stroke-linecap="round" fill="none"/>
<path transform="scale(0.25)" d="M1782 1978h0m-11 15h0m2-5h0m1-4h0m0 2h0m0 2h0m1-1h0m1 1h0m0 4h0m0-1h0m0-5h0m1-6h0m1 12h0m0-7h0m0 1h0m1-5h0m0 11h0m1-2h0m0-7h0m2 6h0m1-4h0m0-5h0m0 27h0m-2 0h0m0-12h0m0 4h0m-1 8h0m-1-5h0m0-7h0m-2 1h0m-1 1h0m0 11h0m0-7h0m-1-4h0m0 11h0m0-5h0m-1 6h0m0-6h0m0-5h0m-1-2h0m-1 7h0m0-7h0m-1 1h0m0-1h0m0 4h0m-1 1h0m-1-6h0m0 11h0m0-6h0m0 2h0m-1 5h0m0-7h0m0 4h0m0 2h0m-1-5h0m-1 8h0m0-1h0m0-7h0m-2-3h0m-1 11h0m0-8h0m0 2h0m-2-1h0m0 5h0m0-9h0m-1 8h0m-1-2h0m-1 5h0m-1 0h0m0-3h0m-1 3h0m-1 0h0m-16 14h0m4 0h0m0-3h0m1 3h0m0 1h0m1-3h0m1 0h0m0 2h0m1-4h0m2-5h0m1-1h0m0 3h0m1 6h0m1-2h0m0-7h0m1 1h0m0 9h0m0-7h0m0 4h0m0 2h0m0-10h0m1 1h0m0 10h0m0-12h0m1 0h0m0 4h0m0 9h0m0-5h0m0-7h0m2-2h0m0 9h0m1-4h0m0 6h0m0-10h0m1 4h0m0 2h0m0-1h0m1-5h0m0 9h0m0 4h0m2-3h0m0-10h0m0 11h0m0-7h0m1 3h0m0-7h0m0 11h0m0 2h0m0-1h0m1-12h0m0 4h0m1 1h0m0 8h0m2-6h0m0 4h0m1-11h0m0 10h0m1 1h0m0 1h0m1-9h0m1 6h0m0-7h0m0 9h0m0-12h0m0 11h0m0-7h0m1 7h0m0-1h0m3 0h0m0-10h0m1 1h0m0 3h0m3-2h0m1 3h0m0 1h0m-12 11h0m-2-1h0m0 2h0m-1-3h0m0 2h0m-1 3h0m-2-4h0m-1 0h0m-1 1h0m0 4h0m0-5h0m-1 2h0m-1-2h0m0 4h0m0 2h0m0-3h0m-1 1h0m0-2h0m-1 2h0m0-3h0m-1-2h0m-1 6h0m-1-3h0m0-1h0m-1 9h0m-1-11h0m0 4h0m0 4h0m-1 5h0m0-3h0m0 2h0m0-5h0m-1-4h0m-1 1h0m0 3h0m-1-5h0m0 2h0m0-3h0m-1 4h0m0-4h0m-1 9h0m0-8h0m0 9h0m-1-6h0m-1-4h0m0 2h0m0 6h0m-1-8h0m0 9h0m0 2h0m0 2h0m0-14h0m-1 13h0m0-12h0m-1-1h0m0 4h0m0-3h0m-2 8h0m0-1h0m0 4h0m0-7h0m-1 8h0m-1-10h0m0 6h0m-1 3h0m0-1h0m-1 1h0m0 2h0m0-6h0m-2 0h0m-3 6h0m-9 12h0m3-7h0m1 9h0m3-12h0m0 13h0m2-8h0m2-6h0m2 12h0m3-8h0m1-4h0m1 7h0m4-4h0m1 2h0m1-4h0m0 1h0m-10 13h0m-15 7h0m-2-3h0m-1-3h0m-3-1h0m0 2h0m0-1h0m-1 3h0m-3 8h0m-1-4h0m0 13h0m0 2h0m0 3h0m2-9h0m-2 14h0" stroke="#3fc63a" stroke-width="7.36" stroke-linecap="round" fill="none"/>
<path transform="scale(0.25)" d="M1717 2098h0m-1 1h0m-12-2h0m0 1h0m-1-4h0m0 3h0m-2-1h0m-3 11h0m1-4h0m6 7h0m0-10h0m1 5h0m4 3h0m1-7h0m9 13h0m3 2h0m0 4h0m-1-2h0m0 11h0m-1-13h0m0 11h0m0-5h0m-1 3h0m-1-2h0m-1-4h0m-1 10h0m-2-2h0m-5-9h0m-1 3h0m-2-5h0m-1-1h0m-1 5h0m-5 2h0m-1-1h0m15 16h0m0 2h0m2-8h0m0-1h0m1 8h0m0-5h0m0 3h0m1-2h0m0 4h0m1-7h0m0-1h0m1 4h0m0 20h0m-1 4h0m-1-11h0m0 3h0m-1 7h0m0-11h0m0 7h0m-1-4h0m-1 8h0m-1-1h0m-1-7h0m-1 10h0m0 2h0m0 13h0m0-7h0m1 0h0m0 4h0m0-10h0m0 12h0m1-1h0m1 0h0m0-2h0m0 4h0m0-1h0m1-5h0m0-7h0m1 9h0m0-1h0m0 4h0m-1 16h0m0-1h0m-1-9h0m-2 10h0m0-10h0m0 4h0m-2 0h0m-1 3h0m-2 9h0m2 4h0m1-6h0m0 7h0m0-10h0m1 0h0m0 4h0m0 9h0m1-9h0m0-2h0m1 9h0m0-2h0m2-7h0m-3 23h0m0 3h0m-3-10h0m0 3h0m-1 8h0m-3 0h0m-1 11h0m0-5h0m1 6h0m0-8h0m1 11h0m1-9h0m0 8h0m1-7h0m0-5h0m0 4h0m0-1h0m0 4h0m0-5h0m1-1h0m0 3h0m1 5h0m0-2h0m0-5h0m-3 23h0m-1-5h0m0-5h0m0 4h0m-2 3h0m0-6h0m0 7h0m-1 2h0m0-5h0m0 7h0m-1-1h0m-2 12h0m1 2h0m1-10h0m1 0h0m0 1h0m1 7h0m2-8h0m0 7h0m1 3h0m0-1h0m1-10h0m-3 22h0m0 4h0m-1-2h0m-1-4h0m0 2h0m0-6h0m-2 8h0m0-5h0m-1 7h0m-1-1h0m4 25h0m-1 6h0m0-4h0m-1 6h0m0-7h0m0 3h0m-1-4h0m0-1h0m0 9h0m0-6h0m0-5h0m-1-2h0m0 2h0m-1 11h0m0-4h0m0-5h0m-1-3h0m0 9h0m0 4h0m0-7h0m-1 7h0m-1 8h0m1-5h0m0 4h0m0 8h0m0-11h0m1-3h0m0 9h0m1 5h0m0-5h0m1 2h0m0-7h0m1-4h0m0 4h0m1-2h0m0 3h0m1-2h0m-2 16h0m0-4h0m-1 0h0m0 4h0m-1-2h0m0 12h0m-1-5h0m0 3h0m0-5h0m0-1h0m0-1h0m-1-3h0m0 6h0m-1-1h0m0-5h0m0 4h0m-1-1h0m0 4h0m-1 1h0m0 3h0m-2 12h0m0 2h0m1-12h0m1 14h0m1-13h0m0 8h0m1 0h0m0-5h0m0 9h0m0-2h0m0-1h0m1 0h0m0 4h0m1-9h0m1 2h0m0 3h0m-2 14h0m0-1h0m-1-8h0m0 9h0m0 4h0m-1-12h0m0 7h0m0-1h0m-1 2h0m0-2h0m-1-5h0m-1 3h0m0 1h0m-1-5h0m-1 15h0m0 11h0m1-5h0m0-7h0m1 13h0m0-8h0m1 1h0m0 7h0m1-1h0m0-5h0m1-5h0m1 2h0m-2 11h0m0 3h0m-1 4h0m-1 6h0m0-12h0m-2 12h0m0-10h0m0 3h0m-1-3h0m-1 6h0m1 6h0m-4 27h0m-2-1h0m-1 2h0m-2-1h0m-4-4h0m-2 2h0m-1 3h0m-3-4h0m0-2h0m-1 2h0m0 4h0m-1-8h0m0 3h0m-1-1h0m-1 0h0m0 3h0m0 4h0m-1-3h0m0 3h0m-2 0h0m0-5h0m0 4h0m-2 1h0m0-3h0m-1-1h0m-4 4h0m-1 0h0m-3 0h0m0-1h0m-5-2h0m-9-2h0m-15 20h0m4-1h0m7-1h0m0-1h0m0 3h0m1-1h0m1-6h0m0-1h0m1-3h0m2 11h0m0-1h0m1-9h0m1 3h0m0-6h0m0 8h0m2 4h0m1-3h0m0-3h0m1-5h0m0 9h0m0 3h0m1-10h0m3-4h0m0 12h0m1-8h0m0 4h0m2 4h0m0-10h0m1-1h0m1 11h0m1-9h0m0 4h0m1 6h0m0 1h0m1-3h0m1 0h0m1-1h0m0-4h0m1 3h0m1 1h0m1 1h0m1-5h0m0-1h0m1-2h0m0-1h0m0 4h0m0 8h0m1-1h0m0-6h0m1 4h0m1-8h0m0-2h0m0 13h0m0-5h0m2-1h0m0-3h0m1 4h0m0 3h0m0-1h0m0-5h0m1-1h0m1-1h0m1 2h0m2 3h0m0-7h0m0-1h0m0 13h0m1 0h0m0-1h0m0-1h0m1 0h0m1-12h0m2 10h0m0-10h0m1 12h0m0-11h0m1 1h0m1 4h0m1 3h0m1 5h0m0-5h0m1 1h0m1-3h0m1 0h0m0-6h0m1 0h0m0-1h0m1 20h0m-1 1h0m0 4h0m-1-8h0m-1 12h0m0-14h0m-2 10h0m0-5h0m0 8h0m-1-7h0m-1 1h0m0 3h0m-1-3h0m-1-1h0m-2-6h0m0 12h0m-1 0h0m0-1h0m-1-5h0m0-3h0m-1 7h0m-1-6h0m-1 1h0m-2-2h0m-1 11h0m-1-5h0m-1 0h0m0-1h0m-2 6h0m-2-11h0m-1 3h0m-1 2h0m0-6h0m-1 1h0m0 11h0m0-5h0m-1 1h0m-2-5h0m-1 5h0m0 3h0m-1-3h0m0-2h0m-1 3h0m0 2h0m-2 0h0m0-11h0m-1 10h0m-4-8h0m0 3h0m-1-4h0m0 9h0m0-1h0m-1 1h0m0-1h0m-1-6h0m0 3h0m0 4h0m-1-5h0m-1-6h0m0 2h0m-1 4h0m0-1h0m-1 5h0m-1-11h0m0 7h0m-1 5h0m0-1h0m0-7h0m-1 2h0m0 4h0m0-1h0m-1 5h0m-1-1h0m0-5h0m0-1h0m0-5h0m0 7h0m-1-9h0m0 8h0m0-5h0m-2 4h0m0-7h0m-1 12h0m-1-6h0m-1 4h0m-2-10h0m-2 12h0m-8-5h0m-2-2h0m-2 4h0m-2-6h0m-1 11h0m-1-7h0m-1-1h0m-4 8h0m-1 15h0m9-3h0m1-1h0m8-2h0m5-4h0m0 3h0m1-5h0m0 11h0m2-4h0m2-9h0m0 13h0m0-12h0m1 9h0m2 0h0m0-4h0m1-5h0m1 0h0m0 13h0m1-12h0m0 9h0m0-5h0m0 4h0m1-3h0m1-6h0m1 2h0m2 11h0m0-3h0m1-4h0m0 6h0m1-11h0m1 11h0m1-11h0m0 4h0m0-6h0m0 3h0m1 5h0m0-5h0m0 8h0m1-3h0m2 6h0m0-6h0m0-1h0m0 4h0m1-4h0m0 5h0m1 0h0m1-10h0m0 9h0m0-1h0m1 2h0m0-12h0m0 4h0m2 0h0m1 4h0m1-1h0m1 7h0m0-1h0m0-10h0m1 8h0m1-7h0m0 9h0m0-12h0m1-1h0m1 8h0m0 3h0m0-1h0m0 4h0m2-7h0m0-5h0m1 9h0m2 2h0m0-5h0m1-6h0m1 4h0m0-5h0m0 7h0m1 3h0m0-1h0m2 2h0m0-10h0m0 4h0m2-3h0m0 4h0m0 4h0m1 0h0m0-1h0m1 1h0m1-5h0m0 5h0m1 0h0m0-6h0m0 4h0m1 3h0m0-5h0m2-5h0m0 4h0m-3 13h0m-1-2h0m-2 0h0m-1 2h0m-1-2h0m0-2h0m0 13h0m-1-7h0m0 4h0m0-2h0m-2 6h0m0-7h0m-1 2h0m0-5h0m0 4h0m-2-6h0m0 12h0m0-6h0m0-5h0m-1 1h0m-1 2h0m-1-1h0m-1-1h0m0 8h0m0-10h0m0 9h0m0-10h0m0-1h0m-1 6h0m-1-3h0m-1 1h0m0 7h0m0-6h0m0-5h0m-1 10h0m0 2h0m-1 2h0m0-1h0m0-11h0m-1 3h0m0 9h0m-1-1h0m0-6h0m-3-2h0m-2 0h0m0-1h0m-1 6h0m0-5h0m0-1h0m0 7h0m-1-5h0m0 4h0m-1 0h0m0 4h0m-2-13h0m-2 7h0m0 1h0m-2 0h0m-1-6h0m-2 6h0m0 3h0m0-11h0m-1-1h0m-1 1h0m0-1h0m0 8h0m-1-2h0m-1 5h0m0-4h0m-1 7h0m-1-14h0m-2 6h0m-1-6h0m-1 9h0m-1-2h0m-1 1h0m0-2h0m0-1h0m0 4h0m0 4h0m-2-11h0m0 3h0m-1-1h0m-1 10h0m-1 0h0m0-12h0m0 3h0m-1-3h0m0 4h0m0 3h0m-1 2h0m0-1h0m-6 3h0m-3-5h0m-2-2h0m-6-5h0m-4 11h0m-3-8h0m3 21h0m12-4h0m7 2h0m1 3h0m2 0h0m0-10h0m0 3h0m0-1h0m1 1h0m0 1h0m1 0h0m0-4h0m3 0h0m0 3h0m3 6h0m0-7h0m1 9h0m2-10h0m1 5h0m0 7h0m0-5h0m1-5h0m1 1h0m0 7h0m2-8h0m0 2h0m1 2h0m1 3h0m1-6h0m0 9h0m0-2h0m1-4h0m0-7h0m1 7h0m1 6h0m1-11h0m0 8h0m0-11h0m2 7h0m7 1h0m1 3h0m0-1h0m0-2h0m1 0h0m0 6h0m2-14h0m0 4h0m1 3h0m0-5h0m0-2h0m1 14h0m0-1h0m0-6h0m1-4h0m0-1h0m1 2h0m0-1h0m0 3h0m1-4h0m1 7h0m1-5h0m0 7h0m1 3h0m2-6h0m0 4h0m2-11h0m0 12h0m2-8h0m1 3h0m2-8h0m-7 18h0m0 3h0m-2-1h0m-2-2h0m-1 0h0m0 9h0m-5 1h0m-1 1h0m0-6h0m0-3h0m-1 8h0m-1-8h0m0 3h0m-2-8h0m0 13h0m-1-9h0m0 2h0m0 4h0m-1 1h0m-2-3h0m-2-4h0m0-1h0m-1 1h0m-1 2h0m0 7h0m0-10h0m-2 1h0m-1 1h0m0 9h0m-1-4h0m0-2h0m-1 2h0m0-7h0m-1 5h0m-1 4h0m-1-2h0m0 4h0m-2-11h0m0 2h0m-3 5h0m0-1h0m0-6h0m-1 11h0m0-2h0m-1-1h0m-1-4h0m0-1h0m0-6h0m-1 0h0m0 10h0m-1-3h0m0-1h0m-2 4h0m0-7h0m-1-1h0m-2 8h0m-1 0h0m0-7h0m-1 1h0m-2-1h0m0 8h0m0 2h0m-1-4h0m-2-2h0m0-6h0m-5 12h0m-7-10h0m-9 6h0m23 8h0m1 3h0m1-2h0m0 9h0m0-2h0m1 4h0m1-14h0m1 8h0m0 2h0m1-4h0m0-4h0m1-1h0m0 7h0m1-5h0m0 2h0m2 1h0m0 8h0m0-10h0m1 6h0m0-10h0m1 1h0m0-1h0m1 6h0m1-3h0m1 2h0m0-5h0m0 8h0m3 3h0m0 3h0m0-1h0m1 0h0m0-5h0m0 4h0m0-5h0m2 5h0m1 2h0m0-11h0m0-1h0m3 9h0m1-10h0m0 9h0m2 0h0m0-1h0m1-9h0m1 9h0m0 3h0m0-7h0m0-5h0m1 12h0m0-4h0m1-7h0m0-1h0m1 5h0m1 2h0m1 2h0m1 0h0m2-3h0m0-6h0m1 11h0m0-5h0m0 3h0m0-2h0m1-4h0m1 4h0m0 3h0m1-4h0m2 2h0m2-7h0m-9 21h0m-1-4h0m0 2h0m-1 2h0m0-5h0m0 4h0m-1 5h0m-1-4h0m-1-6h0m0 12h0m-3-8h0m0-2h0m-1-3h0m0 12h0m-1-11h0m-1-1h0m0 9h0m0-1h0m-2 3h0m-1-1h0m0-5h0m0 7h0m-4-10h0m0 9h0m-1 1h0m-3 2h0m0-2h0m0-5h0m-1-6h0m-1 7h0m-1-4h0m-1 7h0m-1 2h0m-1 0h0m-1-3h0m0-5h0m0-1h0m-1 3h0m0 4h0m-1-5h0m-1-3h0m0 7h0m0-10h0m-2 1h0m-1 10h0m0-11h0m-10 2h0m8 18h0m4-5h0m0 11h0m1-9h0m0 11h0m1-1h0m0-10h0m0 2h0m1-1h0m1 10h0m1-13h0m0 13h0m1-10h0m1 2h0m1 0h0m0-5h0m1 0h0m1 11h0m1-10h0m0 9h0m1-4h0m0 3h0m0-6h0m1-3h0m1 5h0m0 1h0m1 5h0m1-7h0m0 9h0m0-5h0m0 4h0m0-2h0m1-10h0m2 14h0m0-3h0m1-2h0m0-5h0m0 4h0m2-8h0m0 1h0m2 2h0m0 4h0m1 2h0m0-7h0m2 2h0m1-3h0m0 1h0m-6 15h0m0-1h0m-1 1h0m-3 0h0m0-1h0m-1 1h0m0 4h0m0-1h0m-1 0h0m0-5h0m-1 1h0m0 12h0m0-5h0m0 4h0m-1-5h0m-1 1h0m-1-3h0m0 7h0m-1-3h0m0 4h0m0-1h0m0-6h0m0-5h0m0-1h0m-1 10h0m0-5h0m0 4h0m0 4h0m0-1h0m-1-11h0m-1 12h0m-2-7h0m-1-1h0m-1 9h0m0-7h0m-2 7h0m-1-10h0m-17 9h0m4 12h0m4 2h0m1-4h0m5 2h0m4 1h0m0-9h0m1 7h0m1 4h0m0-7h0m2-3h0m0 6h0m1 0h0m1-7h0m0 10h0m1-4h0m1-4h0m1 3h0m2-4h0m-6 12h0m-1 2h0m-1-2h0m-1 3h0m-1-2h0m0 8h0m-1-6h0m0-2h0m-1 1h0m-1 11h0m-11-5h0m0-6h0m-7 4h0" stroke="#f8766d" stroke-width="7.36" stroke-linecap="round" fill="none"/>
<circle cx="426.7" cy="519.1" r="2.3" fill="#111"/>
<text x="426.7" y="520.26" font-size="3.2" fill="#fff" text-anchor="middle">1</text>
<text x="330.6" y="473" font-size="4.3" fill="#111">State</text>
<circle cx="347" cy="471.6" r="0.7" fill="#f8766d"/>
<text x="353.5" y="472.9" font-size="3.2" fill="#333">1</text>
<circle cx="360.5" cy="471.6" r="0.7" fill="#00ba38"/>
<text x="367" y="472.9" font-size="3.2" fill="#333">2</text>
<circle cx="374" cy="471.6" r="0.7" fill="#619cff"/>
<text x="380.5" y="472.9" font-size="3.2" fill="#333">3</text>
<text x="356.6" y="669.6" font-size="4.5" text-anchor="middle" fill="#111">Component 1</text>
<text x="249.8" y="572.5" font-size="4.5" text-anchor="middle" transform="rotate(-90 249.8 572.5)" fill="#111">Component 2</text>
<path d="M489.4 495.2V661.5H683" stroke="#555" stroke-width="0.5" fill="none"/>
<path d="M522.1 661.5v1.6M561.9 661.5v1.6M601.7 661.5v1.6M641.5 661.5v1.6M681.3 661.5v1.6M489.4 521.2h-1.6M489.4 571.9h-1.6M489.4 622.6h-1.6" stroke="#555" stroke-width="0.5" fill="none"/>
<g font-size="4.3" fill="#444">
<text x="522.1" y="667.19" text-anchor="middle">−20</text>
<text x="561.9" y="667.19" text-anchor="middle">−10</text>
<text x="601.7" y="667.19" text-anchor="middle">0</text>
<text x="641.5" y="667.19" text-anchor="middle">10</text>
<text x="681.3" y="667.19" text-anchor="middle">20</text>
<text x="487" y="522.75" text-anchor="end">0</text>
<text x="487" y="573.45" text-anchor="end">−5</text>
<text x="487" y="624.15" text-anchor="end">−10</text>
</g>
<path d="M513.34 518.16L518.12 516.94L545.58 516.94L553.94 513.8L560.71 511.36L577.82 510.05L591.75 509.44L603.69 510.55L614.83 512.78L625.58 515.42L635.13 518.36L644.68 522.72L654.63 528.5" stroke="#111" stroke-width="0.9" fill="none" stroke-linejoin="round"/>
<path d="M654.63 528.5L659.41 524.24L665.38 518.16L668.56 515.12" stroke="#111" stroke-width="0.9" fill="none" stroke-linejoin="round"/>
<path d="M654.63 528.5L649.46 567.24L644.29 602.93" stroke="#111" stroke-width="0.9" fill="none" stroke-linejoin="round"/>
<circle cx="654.63" cy="528.5" r="2.3" fill="#111"/>
<text x="654.63" y="529.65" font-size="3.2" fill="#fff" text-anchor="middle">1</text>
<path transform="scale(0.25)" d="M2461 2023h0m7-3h0m3-5h0m221 22h0m-154-11h0m-14 11h0m-5-4h0m-29-3h0m-10-2h0m-3 3h0m-20 7h0m-121-8h0m-105 14h0m57 9h0m20-3h0m20 3h0m9-4h0m20-6h0m12 8h0m4-1h0m1 3h0m52-3h0m58-3h0m2 3h0m5-1h0m174 3h0m9-10h0m7 0h0m-3 20h0m-4-3h0m-107 10h0m-14-4h0m-5-6h0m-2-1h0m-1 3h0m-15 7h0m-15-5h0m-1-7h0m-69 12h0m-18-5h0m-19-6h0m-30 3h0m-8 3h0m-15-6h0m-14 3h0m-5 8h0m-4 1h0m-41-7h0m-3 5h0m-35 2h0m-8-6h0m-188 21h0m72-4h0m62-9h0m131 0h0m0 4h0m0-1h0m2-3h0m2 5h0m1-3h0m5-2h0m0 4h0m0-5h0m0 4h0m1 1h0m26 0h0m1-2h0m0 11h0m9-8h0m1 4h0m9 2h0m1 0h0m1-4h0m4-3h0m4 9h0m0-5h0m1 0h0m1-3h0m0 3h0m12 2h0m144-2h0m5-7h0m6 1h0m0 11h0m23-9h0m28 7h0m29-2h0m33-9h0m-22 15h0m-39 10h0m-4-8h0m-1 4h0m-10-1h0m0-4h0m-10-2h0m-17 0h0m-1 2h0m-1 5h0m0 3h0m-61-6h0m-7 4h0m0 3h0m0-1h0m-8-8h0m-14 8h0m-2-3h0m-29 4h0m-12-8h0m-17 5h0m-26 2h0m-1-6h0m0 3h0m0-6h0m-1 9h0m-8 2h0m-1-7h0m0-1h0m0-2h0m-8 5h0m-1-7h0m0 6h0m-9-5h0m-158 5h0m-7 8h0m0-5h0m0 4h0m-5 1h0m-20-2h0m0-5h0m-4-1h0m-19 5h0m-133 13h0m85 1h0m14 1h0m7 1h0m1 0h0m69-12h0m5 1h0m183 1h0m1 3h0m0 2h0m9 4h0m109-6h0m-301 11h0m-1 0h0m-3 4h0m-7 9h0m-14 0h0m-8-4h0m-15-4h0m-20 0h0m-15 1h0m-3 0h0m-7-3h0m-12 5h0m-47 2h0m-36-5h0m0 11h0m89-2h0m31 6h0m465 1h0m7 5h0m4-3h0m10-5h0m18 18h0m-11 1h0m-10 4h0m-441-9h0m-163 18h0m0-5h0m0 4h0m81 5h0m2-8h0m1 8h0m537 1h0m2-6h0m1-3h0m1 2h0m-3 17h0m-1-1h0m-540 8h0m535 6h0m1 1h0m3 0h0m1 7h0m-2 4h0m0-1h0m-7 21h0m3 5h0m0-10h0m2 0h0m-8 32h0m0 2h0m4 1h0m0-3h0m1-1h0m0 3h0m-2 23h0m-1 1h0m0-10h0m-1 1h0m0-5h0m-1 7h0m-1 4h0m0-3h0m-1 3h0m-2 11h0m3-6h0m3 8h0m-1 10h0m-1 4h0m0-1h0m-1-5h0m-4 6h0m0-1h0m0 21h0m3 9h0m-1-5h0m0 3h0m-1 6h0m0-10h0m0 7h0m0-5h0m-1 11h0m-1-14h0m0 4h0m-1 7h0m0-8h0m-1 7h0m-2 19h0m1-2h0m1 0h0m0-11h0m0 8h0m2-1h0m0 3h0m1 2h0m0-4h0m2-9h0m-4 16h0m-1 1h0m-1 10h0m-1-2h0m0-7h0m-1 1h0m-3 24h0m1-10h0m1 7h0m2-8h0m1 6h0m3-5h0m0-3h0m-3 16h0m0 4h0m-1-4h0m0 8h0m-2 4h0m-1-1h0m-1-5h0m0 7h0m-1-5h0m-1 15h0m1 0h0m0-6h0m0 9h0m3-7h0m-3 14h0m-2-4h0m-27 29h0m9 0h0m0-2h0m4 2h0m15 6h0m0-1h0m-2 6h0m0-5h0m-5 1h0m-2 8h0m0-10h0m0-3h0m-2 3h0m-2 1h0m-1 1h0m-1-4h0m-3 7h0m-1 0h0m0 3h0m-1 0h0m-2-9h0m-1-3h0m-1 10h0m-1-3h0m-1-5h0m0 1h0m-2 11h0m0-14h0m0 13h0m-1 1h0m-1-5h0m-3-2h0m-1 3h0m-9-4h0m0 8h0m-2-3h0m-7 0h0m-26 13h0m3-3h0m4 2h0m2 2h0m11 3h0m3-10h0m0-3h0m1 1h0m0 9h0m1-7h0m1 9h0m0-1h0m0-5h0m2 3h0m1-6h0m0 9h0m3 2h0m1-5h0m0-5h0m1-1h0m0 3h0m0 4h0m2 4h0m0-6h0m1 6h0m1-4h0m0-10h0m1 7h0m6 6h0m1-2h0m3-3h0m3 4h0m1-9h0m1-2h0m0 8h0m1-8h0m0-1h0m3 11h0m3-4h0m3 0h0m1-6h0m0 11h0m0-10h0m1 4h0m4-5h0m4 7h0m0-6h0m2 1h0m2 10h0m-5 10h0m0-3h0m-2 4h0m0 4h0m-1-2h0m-1-11h0m0 13h0m-2-1h0m-1-7h0m0 4h0m0 4h0m-2-5h0m0 6h0m-2-1h0m0-1h0m-1-2h0m0-1h0m0-5h0m0-1h0m-2 7h0m-2-1h0m0 4h0m-1-11h0m0 2h0m-2 7h0m-1-5h0m-1-3h0m-1 10h0m0-11h0m-1 7h0m-2-9h0m-4 12h0m-1 2h0m-1 0h0m0-14h0m-1 9h0m-2 1h0m0-5h0m0 8h0m-1-13h0m-2 4h0m-1-4h0m-1 13h0m-3-7h0m-2 3h0m-2-5h0m0-3h0m-3 11h0m-1-12h0m-5 10h0m-1-4h0m-4 4h0m-9 2h0m0 1h0m-2-11h0m-13 19h0m7-3h0m6 4h0m2 2h0m3 5h0m5-2h0m4-6h0m3 4h0m1-1h0m3-9h0m1 7h0m4-6h0m1 7h0m1-6h0m1 0h0m1 1h0m1-2h0m2 9h0m2 0h0m0-10h0m4 12h0m0-11h0m1 11h0m0-1h0m1-5h0m5 8h0m3-1h0m1-2h0m0-5h0m1 6h0m0-10h0m2 1h0m1 4h0m1 0h0m2-2h0m2 5h0m1-2h0m2 3h0m1-8h0m1 11h0m0-12h0m3 2h0m1 2h0m-7 15h0m-1-6h0m-1 2h0m-2 10h0m-2 2h0m-1-10h0m-1 6h0m-3-6h0m0 10h0m-1-6h0m-1-3h0m-1-4h0m0-1h0m-3 10h0m0 2h0m-5-12h0m-3 8h0m-2-4h0m-4 2h0m-2-1h0m-2 0h0m-1-5h0m-2 8h0m0-5h0m0 7h0m-3 1h0m0-7h0m-3-2h0m-3 3h0m-1 0h0m0-3h0m0 4h0m-1-2h0m-1-3h0m-1 10h0m-20-1h0m15 6h0m2 7h0m1 2h0m0-7h0m3 6h0m1 1h0m2-8h0m1 1h0m2 4h0m1 2h0m0-9h0m1 10h0m0-10h0m0 7h0m2 7h0m0-5h0m1 0h0m0-6h0m2-3h0m2 9h0m3-1h0m0-5h0m1-3h0m0 8h0m2 5h0m0-8h0m2 0h0m1-2h0m0 9h0m1 2h0m0-10h0m1 10h0m1-7h0m3-3h0m1 5h0m2-1h0m1 6h0m1-9h0m0 9h0m6-2h0m1-9h0m-1 12h0m-4 6h0m-2-1h0m-1 0h0m0 3h0m-3 0h0m-3 6h0m-1-14h0m0 7h0m0 3h0m-2-2h0m-2 6h0m0-5h0m-2 1h0m0-10h0m-3 1h0m-3 6h0m0-1h0m-1 4h0m0 2h0m-3-8h0m-1 10h0m-2-14h0m-1 0h0m0 9h0m-2 4h0m-1-11h0m-2 0h0m-1 6h0m-1-1h0m-1 7h0m-1 0h0m0-5h0m0-6h0m0 21h0m2 4h0m1-11h0m2 6h0m1 5h0m0-11h0m2 9h0m5-6h0m2 8h0m3-1h0m2-2h0m0-6h0m3 3h0m1 6h0m2-3h0m0-7h0m4 11h0m0-3h0m1-5h0m0 3h0m2-5h0m0-2h0m0 3h0m-3 10h0m-3 0h0m-1 6h0m-3 7h0m-1-7h0m-2 2h0m-1 5h0m-1 1h0m0-5h0m0 3h0m-2-8h0m0 9h0m0-5h0m-2-2h0m-1 6h0m0-5h0m0-6h0m0 12h0m-1-5h0m-1 5h0m-2-11h0m-3 8h0m-2-1h0m-1-9h0m-1 10h0m0-2h0m-4-5h0m-12 21h0m18 4h0m2-11h0m2 0h0m0 12h0m1-1h0m1-3h0m1-8h0m1 6h0m1-6h0m2 12h0m1-5h0m1-7h0m-6 17h0m-1 4h0m-1-3h0m-1 0h0m0 8h0m-1-3h0m-1-1h0m-1-7h0m-1 2h0m0 2h0m-1 7h0m-1 0h0m-11-1h0m0 6h0m13 1h0" stroke="#f06b6a" stroke-width="5.76" stroke-linecap="round" fill="none"/>
<path transform="scale(0.25)" d="M2461 2021h0m10-3h0m5-2h0m0 4h0m5-7h0m6 9h0m2 0h0m7-7h0m0-2h0m3 10h0m38 14h0m-10 2h0m-2-7h0m-6 7h0m-26-11h0m-8-2h0m0 10h0m-17-2h0m-1 5h0m-10-13h0m-60 12h0m-22-5h0m-22-2h0m-12 2h0m-14-7h0m-1 8h0m-10 0h0m10 9h0m106 8h0m3-1h0m31 2h0m0-5h0m1-7h0m0 2h0m8 0h0m6 2h0m10 3h0m28-4h0m1 9h0m0-8h0m8-3h0m1 4h0m9 3h0m6-1h0m4 1h0m6 3h0m108 3h0m9-7h0m2 5h0m6-11h0m1 2h0m6 6h0m0 2h0m1 1h0m4-4h0m-8 12h0m-1 2h0m-9 0h0m-7-6h0m-7 12h0m-106-12h0m-2 7h0m-3 3h0m-10-2h0m-14-4h0m-24 3h0m-9 1h0m0 5h0m-1-13h0m-5-1h0m-72 4h0m124 19h0m5 5h0m0-2h0m5-1h0m10 0h0m1 0h0m9-7h0m8 9h0m1-11h0m0 1h0m0 9h0m1-7h0m1-1h0m17 6h0m5-4h0m1 0h0m0 9h0m51-6h0m5-2h0m-42 10h0m-1 9h0m-3 2h0m-1-1h0m-1-3h0m-4-4h0m-5 6h0m-5-3h0m0 2h0m-9-4h0m-5-2h0m-5-2h0m-1 3h0m-18 9h0m-3-9h0m-2 5h0m-4-6h0m-49 8h0m-1-4h0m0 4h0m0-1h0m-16 0h0m-16-8h0m41 14h0m73 7h0m1-7h0m18 9h0m2 3h0m9-13h0m4 12h0m1-3h0m0 4h0m6-8h0m-1 10h0m0 8h0m-1-4h0m-17 7h0m-2-3h0m0-3h0m10 23h0m5-12h0m13 4h0m0-1h0m6 21h0m-2-5h0m-3 5h0m-12 0h0m9 18h0m1-7h0m1 2h0m2 1h0m2-9h0m-3 27h0m-5 13h0m5-10h0m2 1h0m-4 20h0m-1-5h0m-1 19h0m-9 35h0m3-5h0m2-1h0m2-1h0m-7 41h0m-1 45h0m-7 3h0m2 1h0m1 20h0m-3 11h0" stroke="#e0951c" stroke-width="5.76" stroke-linecap="round" fill="none"/>
<path transform="scale(0.25)" d="M2467 2024h0m5-5h0m4-4h0m5 2h0m0 1h0m38 1h0m0 4h0m163 15h0m-144 1h0m-1-5h0m-18 0h0m-29 1h0m-3-9h0m-6 6h0m-5 2h0m-18 10h0m8 5h0m61 2h0m138 2h0m2-3h0m4-5h0m4-5h0m4 12h0m4-8h0m9 4h0m-23 8h0m-10 11h0m-8-3h0m-98-9h0m-1 2h0m-5 10h0m-26 0h0m-21 2h0m-19-2h0m-1 2h0m-6-11h0m45 18h0m29 7h0m4-2h0m0 2h0m5-3h0m0-1h0m10-2h0m1-3h0m12 9h0m2 1h0m4-6h0m24 3h0m58-11h0m-29 23h0m-28 6h0m-6-11h0m0 2h0m-4 1h0m-5 6h0m-14-4h0m-5-5h0m-2 1h0m-7-4h0m-1 10h0m0-1h0m-15-2h0m-46-4h0m-31 4h0m-1 15h0m106 7h0m7-12h0m13 11h0m19-3h0m12-10h0m-20 39h0m7 11h0m9 12h0m-2 38h0m1 4h0m-3 11h0m5 6h0m-7 37h0" stroke="#b3a924" stroke-width="5.76" stroke-linecap="round" fill="none"/>
<path transform="scale(0.25)" d="M2471 2007h0m-135 16h0m126-3h0m9-10h0m20 12h0m4-4h0m1-1h0m3 1h0m1 6h0m0-8h0m193 15h0m-6-1h0m-2 0h0m-3 5h0m-143-9h0m-1 12h0m-1-8h0m-14 2h0m-3-3h0m0 1h0m0 9h0m-1-14h0m-20 8h0m-22 3h0m-5-7h0m-15 10h0m-140-10h0m28 11h0m11 13h0m19-8h0m1-1h0m52-4h0m53 12h0m9-10h0m11 10h0m11-2h0m6-2h0m1-3h0m6 5h0m14-5h0m5 8h0m122-1h0m11-3h0m1-6h0m0-1h0m1 10h0m0-7h0m0 2h0m3-5h0m0 9h0m5 1h0m3-9h0m-11 24h0m0-5h0m-3 6h0m0-3h0m-2-1h0m-4-8h0m-1 4h0m-2-4h0m-1 9h0m-4 1h0m-3 3h0m-1-3h0m-1 2h0m-4-2h0m-1-1h0m-5 3h0m-94-12h0m-14 0h0m-15-1h0m-5 11h0m-19 2h0m-9-1h0m-10-2h0m-34-5h0m36 12h0m4 1h0m80-2h0m10 3h0m18-3h0m1 3h0m9 10h0m37-5h0m4-2h0m2 6h0m6-1h0m7-10h0m0 4h0m-47 17h0m0-3h0m-9-3h0m-18 1h0m-6 0h0m-24-2h0m0 14h0m0 4h0m29-1h0m28 6h0m0 25h0" stroke="#6cc12a" stroke-width="5.76" stroke-linecap="round" fill="none"/>
<path transform="scale(0.25)" d="M2361 2023h0m110-11h0m6 5h0m3-4h0m6 9h0m9-10h0m198 9h0m1 2h0m-4 14h0m-4-4h0m-2 5h0m-165-2h0m-1 2h0m-17-5h0m-1-2h0m-92 5h0m-29-4h0m-43 6h0m-20 2h0m86 8h0m26-2h0m3-1h0m10 8h0m25-8h0m58 9h0m14-12h0m130 9h0m1-1h0m11-3h0m6-2h0m1-2h0m-9 15h0m-3-2h0m-2 6h0m-1 4h0m-1 0h0m-3 2h0m-6-11h0m0 5h0m-5 1h0m-1 0h0m-1 1h0m-136 4h0m-4-6h0m-79-4h0m-6-3h0m-13 3h0m-18 1h0m-62 4h0m-11-4h0m212 12h0m28 1h0m33 2h0m1 3h0m53-3h0m4 1h0m8-4h0m-60 15h0m-20 12h0m-42-9h0m14 17h0m44-5h0m0 17h0" stroke="#3ccf5f" stroke-width="5.76" stroke-linecap="round" fill="none"/>
<path transform="scale(0.25)" d="M2229 2024h0m2-1h0m0-5h0m58 6h0m15-4h0m13 4h0m44-1h0m111-11h0m5 7h0m47 4h0m-117 12h0m-4-2h0m0 4h0m-14-12h0m-30 10h0m-2-9h0m-1 12h0m-39-2h0m-5-11h0m0 13h0m0-3h0m-3-3h0m-2-5h0m-3-1h0m-15 10h0m-6 1h0m-13-1h0m-15-11h0m-4 5h0m-6 6h0m-10-4h0m-4-6h0m-140 27h0m29-11h0m13 4h0m24 6h0m14-3h0m15 0h0m46 0h0m24-7h0m18 12h0m4-4h0m6-9h0m1 2h0m7-3h0m20 1h0m0 7h0m1 0h0m4-1h0m1-5h0m23-2h0m0 12h0m1-1h0m13-6h0m5 0h0m8-1h0m0 10h0m2-14h0m5 12h0m0-10h0m5 3h0m23-5h0m0 11h0m13 2h0m60-8h0m53-4h0m9 28h0m-7-4h0m-113 2h0m-6-3h0m-57-9h0m-82 1h0m-77 1h0m-3 8h0m-127 2h0m-20-3h0m-30 2h0m79 8h0m20 9h0m0-2h0m49-2h0m5-6h0m228-3h0m20 2h0m0 1h0m29 1h0m40-4h0m13 2h0m83 10h0m-193 16h0m-9-2h0m-10-7h0m-155 4h0m-10-2h0m-1 6h0m-42-4h0m-9-7h0m-6 2h0m-30 5h0m-12-8h0m-10 13h0m0 4h0m15 3h0m81 3h0m21-6h0m398-2h0" stroke="#5cd9b2" stroke-width="5.76" stroke-linecap="round" fill="none"/>
<path transform="scale(0.25)" d="M2230 2044h0m1 9h0m23 1h0m92-4h0m32 19h0m-7-1h0m-11 0h0m-1-9h0m-32 6h0m-34-3h0m-6 0h0m-12-1h0m-1 5h0m-6 0h0m-3 1h0m-5-12h0m-1 6h0m-27 8h0m0-7h0m-37 4h0m0-2h0m-29-2h0m-8 2h0m-25 5h0m-8-5h0m-21 5h0m-8-6h0m-62 0h0m-22 19h0m14-1h0m37 3h0m1-3h0m3-4h0m23 1h0m6-4h0m0 4h0m4 2h0m4-1h0m1-2h0m1-4h0m9 3h0m0-2h0m0 8h0m3-3h0m2-5h0m0 9h0m1-5h0m7-4h0m23 0h0m2 5h0m5-6h0m5 6h0m10-6h0m2 11h0m22-13h0m48 10h0m3 0h0m6-11h0m2 2h0m27 10h0m2 2h0m3-3h0m1-1h0m4-5h0m1 0h0m66 8h0m1-13h0m3 9h0m5 4h0m14 2h0m-9 0h0m-3 3h0m-59 0h0m-23-3h0m-43 3h0m0-3h0m-16 1h0m-39 9h0m-2 3h0m-11-1h0m-10 2h0m-1-3h0m0-1h0m-8-7h0m-1-2h0m0 11h0m-1 0h0m-14-1h0m0 2h0m-15-6h0m-9 5h0m-1-6h0m-2-2h0m0 6h0m-3-7h0m-16 3h0m-1 1h0m-33 7h0m-5-1h0m-4-6h0m-9 1h0m-5 1h0m-3 3h0m-13-6h0m-4 1h0m-18 1h0m-1 12h0m0-5h0m9 13h0m8-8h0m25 4h0m3 2h0m6 1h0m3-12h0m7 10h0m29 1h0m0 2h0m1 1h0m0-7h0m3-1h0m6 6h0m4 0h0m1-5h0m0 2h0m3-5h0m2 6h0m9 1h0m9-6h0m10 0h0m0-5h0m4 3h0m0 8h0m3-8h0m6 2h0m0-5h0m1 14h0m4-12h0m10-2h0m0 13h0m9-4h0m0 4h0m18-12h0m0 13h0m0-14h0m2 7h0m1 7h0m0-14h0m0 6h0m56 2h0m3-4h0m133-3h0m1 1h0m-191 21h0m0 3h0m-4-8h0m-2 10h0m-1-12h0m0 9h0m0-5h0m0 2h0m-20 6h0m-1 1h0m0-1h0m0-12h0m-1 2h0m-1 5h0m-2-1h0m-3-6h0m-1 12h0m-10-13h0m-10 9h0m-1-9h0m-1 5h0m-3-2h0m-4 2h0m-5-1h0m-1 2h0m0-3h0m-1 0h0m-7 9h0m-6 2h0m-1-2h0m0-3h0m0-7h0m-1 4h0m-7 6h0m0-5h0m0 2h0m-7-8h0m-6 6h0m0 2h0m0-5h0m-2-3h0m0 2h0m-75 5h0m-6-3h0m-4-3h0m26 26h0m7-12h0m20-1h0m8 3h0m25-3h0m0 2h0m2 3h0m2-4h0m1 5h0m0-5h0m3 1h0m7-2h0m0 2h0m4-2h0m3 8h0m7-6h0m0 2h0m8 3h0m20-1h0m6 5h0m11-9h0m2 2h0m1 10h0m3-11h0m0 2h0m1 0h0m19-5h0m-14 15h0m-6 3h0m0 11h0m-1-12h0m-57 1h0m-104 11h0m-2 12h0m3 0h0m534 315h0" stroke="#55cbe4" stroke-width="5.76" stroke-linecap="round" fill="none"/>
<path transform="scale(0.25)" d="M2230 2022h0m0-1h0m29 0h0m2-2h0m28 2h0m13-2h0m0-2h0m1 7h0m33-7h0m1 0h0m17-3h0m6 10h0m112 0h0m21 2h0m-57 7h0m-5 6h0m0-1h0m-52-5h0m-1 5h0m-4 1h0m-6-11h0m-7 1h0m-6 10h0m0-14h0m0 6h0m-1 1h0m-8-5h0m0 4h0m-9-3h0m-1 2h0m0 9h0m-9 0h0m-10-9h0m-1 0h0m-3 7h0m-5-3h0m-20-5h0m-4-1h0m-19 6h0m-2 2h0m-8-11h0m-5 4h0m-4 3h0m-11 5h0m-4-1h0m0-4h0m-58 3h0m-174 14h0m5-2h0m11-1h0m10 0h0m12-4h0m5 10h0m3 2h0m2-11h0m43 2h0m1 0h0m19-5h0m5 10h0m1-5h0m0-3h0m7 4h0m1-6h0m14 12h0m19-7h0m13-1h0m6 9h0m9 0h0m1-2h0m4 0h0m5-7h0m49-1h0m2-3h0m18 10h0m18-4h0m6 0h0m5-3h0m15 4h0m4 0h0m1-7h0m3 8h0m1-8h0m23 2h0m14 6h0m1-4h0m1 5h0m0-1h0m7-7h0m6 0h0m2 10h0m4 3h0m8-14h0m1 7h0m0-1h0m14 4h0m9-6h0m20 1h0m0 1h0m125 18h0m0 1h0m-8-8h0m-44 9h0m-54-4h0m-16 5h0m-18-6h0m-29-1h0m0 3h0m-9-5h0m-1 2h0m-19 4h0m-17-5h0m-1 0h0m-9-4h0m-19 2h0m0 1h0m-21 6h0m-4-4h0m-8-1h0m-20 3h0m0-5h0m-23-2h0m-35 0h0m-3 2h0m-3 11h0m-19-4h0m-5-8h0m-5 11h0m-5-10h0m-13 7h0m-1-8h0m-16 5h0m-2-1h0m-6 0h0m-4 9h0m0-5h0m-6-8h0m-4 8h0m-11 2h0m-3-10h0m-41 3h0m-2 5h0m-8-6h0m-7 7h0m-11 3h0m-5-6h0m-5 6h0m-8-11h0m-9 5h0m-7 2h0m-1 15h0m12-4h0m6 2h0m2-3h0m2 1h0m2 9h0m4 0h0m2-3h0m12-8h0m18 9h0m4-4h0m3-2h0m51 8h0m4-12h0m1 6h0m4-8h0m0 8h0m5-6h0m4 6h0m6 1h0m4 4h0m7 1h0m18-3h0m0-7h0m13-3h0m1 2h0m4 5h0m10 1h0m8-1h0m3 3h0m248-6h0m120 5h0m-368 15h0m-20 4h0m-5-5h0m-10-2h0m-9-4h0m-4-2h0m-10 2h0m-6 5h0m-4-6h0m-10-1h0m-8 3h0m-6 8h0m-1-9h0m-9 2h0m-40 2h0m-6-2h0m-5-3h0m-5 8h0m-5-3h0m-11-7h0m-1 3h0m-11 11h0m0-8h0m-6-1h0m-1-3h0m-9 3h0m24 11h0m1 10h0m4-3h0m10-2h0m9-1h0m0-3h0m7-2h0m14 1h0m42 12h0m3-11h0m20 6h0m18 3h0m18-1h0m2-6h0m1 0h0m4 1h0m1-5h0m4 9h0m14 0h0m8 9h0m-69 5h0m-16-8h0m-21 25h0m20-5h0m15-4h0m65 5h0m-22 10h0" stroke="#4aaef8" stroke-width="5.76" stroke-linecap="round" fill="none"/>
<path transform="scale(0.25)" d="M2245 2022h0m0-3h0m1 3h0m38-3h0m18-5h0m1 8h0m10-1h0m3 0h0m2 1h0m16 1h0m2-2h0m10 2h0m9-4h0m0-3h0m8 5h0m2 3h0m106-11h0m1 6h0m24-6h0m192 21h0m-189-2h0m-13 5h0m-28 0h0m-32-9h0m-19 7h0m-4 1h0m-5-6h0m-19 4h0m-10 2h0m-23-11h0m-3 5h0m-7 4h0m-8-7h0m-14 8h0m-2-6h0m-1-3h0m-4 9h0m-1-1h0m-42 5h0m-4-10h0m-5 0h0m0 9h0m-4-3h0m-4-2h0m-2-7h0m0 13h0m-73 0h0m-75-3h0m-59 3h0m-40 10h0m3 4h0m8-1h0m18-7h0m0 2h0m4 1h0m7-2h0m2-5h0m7 7h0m21-7h0m28 0h0m14 11h0m9-8h0m5 3h0m28 2h0m6-8h0m5 12h0m5-11h0m24 12h0m39-2h0m0-4h0m15 6h0m19-9h0m8 6h0m2-3h0m8 4h0m1 1h0m5 0h0m0 1h0m28-3h0m0-1h0m1 1h0m18 2h0m5-9h0m0 6h0m14-8h0m6 0h0m6 4h0m2 1h0m0-3h0m5 6h0m1-3h0m9 4h0m12-10h0m17 10h0m23-5h0m4-5h0m6 12h0m22 0h0m18-9h0m4 7h0m25-1h0m10-1h0m4-2h0m135 10h0m0 11h0m-5 1h0m-105-4h0m-6-8h0m-34 9h0m-116-1h0m-39-4h0m-5-2h0m0 3h0m-19 0h0m-22-2h0m-1 0h0m-23 1h0m-16-3h0m-64-2h0m-13 12h0m-5-1h0m-5-4h0m-9-1h0m-10-2h0m0 9h0m0-12h0m-6 5h0m-2-7h0m0 10h0m-50-5h0m-3 8h0m-6-10h0m-11-3h0m-27 9h0m-7 1h0m-11-5h0m-9 1h0m-11 5h0m-9-8h0m-9 3h0m-10-6h0m-2 26h0m4-1h0m1-4h0m2-6h0m3 10h0m6-4h0m7-1h0m6 1h0m1 3h0m0-3h0m9 2h0m5 4h0m0-5h0m5-6h0m1 1h0m24 10h0m32 1h0m9-5h0m6 0h0m11-7h0m10 3h0m1 8h0m1-10h0m15 2h0m32 4h0m6 5h0m131-12h0m94 2h0m142 1h0m22 6h0m68-1h0m6-1h0m-29 16h0m-11-8h0m-4 13h0m-29-12h0m-4-1h0m-381-1h0m-1 6h0m-4 6h0m0 2h0m-43-9h0m-4 1h0m-10 1h0m-5-3h0m0 3h0m-5-2h0m-9 2h0m0-5h0m-4 12h0m-47-14h0m-20 7h0m-11 1h0m-4 6h0m-8-9h0m-26 3h0m-5-4h0m26 14h0m1 3h0m2-4h0m14-1h0m16-1h0m10 4h0m65 9h0m2-4h0m15 3h0m8-6h0m40-6h0m1 0h0m6 13h0m1-4h0m401-8h0m17 0h0m-13 18h0m-22-4h0m-395 4h0m-85-3h0m13 19h0m58 6h0m14-2h0" stroke="#b78aff" stroke-width="5.76" stroke-linecap="round" fill="none"/>
<path transform="scale(0.25)" d="M2242 2024h0m43-3h0m-138 12h0m-26 4h0m-82 2h0m-13 0h0m-33 15h0m3 0h0m6-7h0m2 0h0m3-3h0m2 0h0m1 4h0m1-1h0m0-5h0m1 12h0m11-10h0m11-2h0m4 12h0m2 0h0m2-13h0m1 11h0m1-10h0m1 5h0m3 5h0m1-3h0m10-8h0m0 10h0m2 3h0m3-12h0m5 9h0m32 3h0m13-5h0m5-1h0m1 4h0m18-5h0m10-4h0m10 5h0m96 0h0m-58 21h0m-19-1h0m-4-10h0m-1 4h0m-5-5h0m-9 9h0m-30-2h0m-3-5h0m-5 0h0m-3 8h0m-21-5h0m-27 2h0m-8 5h0m-2-8h0m-1 4h0m0-7h0m-1 9h0m-2-10h0m-7 5h0m-1 3h0m-3-1h0m-2-2h0m-3 2h0m-1-3h0m-3 0h0m-1 0h0m-1 8h0m-3-9h0m0 2h0m-7-4h0m-2-1h0m-4 5h0m-1-2h0m-5-1h0m-12 5h0m-11-1h0m0 6h0m2 14h0m4-2h0m12-2h0m0-7h0m4 4h0m1 4h0m5-1h0m1-3h0m3 4h0m3-9h0m1 2h0m3 11h0m11-10h0m2 8h0m0-7h0m0 8h0m2-1h0m0 2h0m2-9h0m0-5h0m4 4h0m2 1h0m2-1h0m2-1h0m1 8h0m12 0h0m25-2h0m3-7h0m21 5h0m27-1h0m34 15h0m-9 3h0m-10 4h0m-44-10h0m0-1h0m-56 9h0m-1-5h0m-6 7h0m-5-2h0m-1-1h0m-3-10h0m-1 12h0m-2-8h0m-1 0h0m-5-3h0m-3 2h0m-3 2h0m-1 9h0m-3-3h0m0 1h0m-4-7h0m-4 0h0m-1 1h0m-2-4h0m-5 3h0m0-1h0m-4 7h0m-10 0h0m-2-5h0m-1-3h0m-2-1h0m15 17h0m5-4h0m2 1h0m2 2h0m1-3h0m3 2h0m2 6h0m1 3h0m2-11h0m4 12h0m1-5h0m2 5h0m2-7h0m2 4h0m1-6h0m4-1h0m10 6h0m2-3h0m1-4h0m9 3h0m3-4h0m1 1h0m37 9h0m6-4h0m13 0h0m15-6h0m34 4h0m17 12h0m-21 0h0m0 4h0m-65-1h0m-7 4h0m-64-4h0m85 30h0m-15 8h0m-14 1h0m-44-10h0m-25-1h0m-6 3h0m-1 9h0m542 311h0" stroke="#ef6ceb" stroke-width="5.76" stroke-linecap="round" fill="none"/>
<path transform="scale(0.25)" d="M1997 2053h0m3 0h0m1-5h0m3 0h0m1 2h0m0 1h0m0 2h0m2 0h0m19 0h0m4-2h0m9-9h0m0 1h0m1-1h0m4 5h0m2-6h0m4 9h0m6-9h0m4 1h0m7 4h0m95 3h0m13 18h0m-28 0h0m-18-11h0m-67 4h0m-2 0h0m-3-5h0m-4 12h0m-2-11h0m-6 7h0m-6 6h0m-3-5h0m-3-1h0m-1 2h0m-1-8h0m-4 8h0m-2-5h0m-2 0h0m-7 8h0m0 1h0m-3-8h0m-5-4h0m-2 8h0m-4 1h0m-2 0h0m-1 0h0m-5-10h0m0 9h0m-2-3h0m0 2h0m0-5h0m-2-1h0m-2 20h0m13 6h0m2-9h0m3-2h0m1 8h0m1-6h0m4-4h0m5 2h0m12 6h0m11-3h0m1-6h0m2 7h0m1 4h0m2-8h0m11 11h0m2-6h0m1-6h0m6 8h0m43 1h0m57-6h0m5-2h0m382 11h0m28-1h0m18-4h0m-539 16h0m0-5h0m-1-2h0m-5 3h0m-2 3h0m-5-3h0m-4-1h0m-1-3h0m0 3h0m-2 0h0m-1 0h0m-1 2h0m-2 5h0m-4-5h0m-4-4h0m-2 7h0m0-3h0m-3 0h0m-1-1h0m-1 4h0m-2-6h0m-7 1h0m-3 0h0m-2-4h0m-6 9h0m-4-7h0m21 12h0m10 4h0m3 7h0m7 1h0m3-12h0m7 7h0m2-6h0m5 5h0m3-1h0m8-4h0m1 4h0m39 6h0m500-11h0m14 18h0m-604 4h0m-14 16h0m7 27h0m1 8h0" stroke="#fb68b6" stroke-width="5.76" stroke-linecap="round" fill="none"/>
<path transform="scale(0.25)" d="M2485 2023h0m53 0h0m149 5h0m-158 9h0m-10-2h0m-39 1h0m-5-3h0m-244 16h0m10-4h0m70 6h0m2-11h0m50 9h0m150 3h0m7 0h0m8-1h0m0-5h0m0 6h0m10-10h0m147 8h0m-19 14h0m-13 1h0m-128-9h0m-40 12h0m-77-10h0m-37 10h0m-6-5h0m-9 1h0m-1-9h0m-39 4h0m-5 7h0m-1-1h0m-17 0h0m-47-8h0m-2 5h0m-13 1h0m-77 6h0m-154 11h0m11-8h0m85 10h0m33-11h0m125 1h0m78 5h0m27 3h0m1-8h0m1 5h0m0-1h0m0 7h0m2-1h0m7-3h0m1 3h0m10-5h0m3 0h0m53 2h0m52-9h0m12 1h0m38 7h0m28 1h0m1-5h0m8 10h0m19-10h0m34 24h0m-28-6h0m-5-7h0m-39 9h0m-5-2h0m-14 4h0m-16-4h0m-22 2h0m-1 4h0m-16-6h0m-16-2h0m-21-2h0m-57 5h0m0 3h0m-9-11h0m0 3h0m-10 0h0m-1-2h0m-9 0h0m-1-1h0m-111 7h0m-86-5h0m-71 3h0m1 24h0m7-10h0m22 8h0m45-1h0m1 1h0m29-7h0m1 2h0m51 2h0m8-5h0m123 2h0m1-1h0m1 1h0m7-6h0m1 8h0m0-5h0m0 4h0m0-7h0m1 4h0m0 4h0m92-8h0m16 0h0m9 6h0m-309 16h0m-1-2h0m-13-4h0m-73 4h0m-5 0h0m-1 1h0m-12-4h0m-85 12h0m7 12h0m77-11h0m8 7h0m6-7h0m7 7h0m2-1h0m13 5h0m64-6h0m401 3h0m41 15h0m-3 5h0m-591-8h0m51 18h0m537-3h0m0 8h0m1-9h0m2 2h0m0 21h0m-1-3h0m0-3h0m-5 2h0m-535 6h0m534 15h0m3-2h0m1-1h0m0 5h0m-1 13h0m-2-8h0m0 4h0m-1 19h0m0-8h0m1-2h0m0 8h0m2-8h0m-3 24h0m-2-7h0m-1 8h0m-3 0h0m0 11h0m1 3h0m1-1h0m1-11h0m0 4h0m1 4h0m-2 16h0m-3-9h0m-1 13h0m0-5h0m-2 15h0m3-2h0m2-1h0m0 2h0m-3 12h0m-2 2h0m0-5h0m-5 25h0m2-1h0m2 2h0m3 3h0m-1 2h0m-1 9h0m-1-12h0m0 8h0m-2-3h0m0 3h0m-1-2h0m-1 7h0m0-1h0m0-2h0m0 19h0m2-10h0m1 1h0m0 9h0m1-5h0m-3 6h0m0 3h0m0 3h0m0 8h0m-1-11h0m-1-2h0m-2 6h0m-1 2h0m-2 15h0m1-3h0m0 8h0m1-7h0m1 7h0m0-5h0m1-6h0m0-1h0m1 5h0m0-1h0m1-3h0m0 14h0m-1 9h0m0-6h0m-1-5h0m-1 13h0m-1-11h0m-1 17h0m1 9h0m1-6h0m0 3h0m0-6h0m-3 15h0m-52 25h0m24 0h0m3-2h0m2 0h0m0-2h0m1 4h0m0-2h0m7 0h0m12 13h0m-2 4h0m-1-2h0m0-11h0m-1 12h0m-1-3h0m0-9h0m-1 1h0m-1 3h0m-6 7h0m-1-2h0m-2-2h0m-2 6h0m-1-6h0m0-6h0m-1 3h0m-1 8h0m0-6h0m-1-7h0m-1 3h0m-1 7h0m0-1h0m0-3h0m-1 2h0m-1 6h0m-1-11h0m-1 7h0m-2 4h0m-1-11h0m-1 0h0m-1 0h0m-2 2h0m0-2h0m0 3h0m-1-4h0m-1 9h0m-1-4h0m-1-3h0m-2-4h0m0 8h0m-3 5h0m-2-1h0m0-2h0m-1-5h0m-1 3h0m-3 2h0m0-3h0m-25 18h0m4 2h0m11 2h0m1-12h0m2 1h0m2 6h0m2-6h0m2 8h0m1-6h0m3 8h0m0-6h0m0-5h0m1 12h0m0-10h0m1 6h0m1 0h0m1-8h0m3 9h0m2-5h0m4-6h0m1 0h0m0 5h0m1-5h0m1 1h0m1-1h0m0 2h0m1 11h0m0-1h0m3 1h0m1-7h0m1 5h0m0-6h0m1-3h0m1-1h0m0 6h0m2-5h0m2 9h0m1 1h0m0-12h0m4 8h0m1-5h0m1-2h0m1-1h0m0 9h0m1 5h0m2-11h0m1 6h0m1 1h0m1 2h0m0-2h0m1-1h0m1 4h0m3-8h0m1 4h0m1-1h0m-3 9h0m-2-1h0m-4 12h0m0-5h0m-1 0h0m-1 5h0m-1 0h0m-3-9h0m-3-2h0m-1 0h0m-6 11h0m0-1h0m-1-10h0m-2 4h0m-2 5h0m-2-5h0m-1 0h0m-1 7h0m0-11h0m0-1h0m0 13h0m-1 0h0m0-10h0m-1-3h0m0 9h0m-1 0h0m0 3h0m-3-3h0m0 3h0m-1-11h0m-1 6h0m0-2h0m0-1h0m-3 9h0m0-5h0m-3-6h0m-1-3h0m-1 4h0m0 4h0m0 4h0m-1 1h0m0-10h0m-1-1h0m-1 6h0m-1 4h0m-2-9h0m-5 1h0m-22-2h0m-4 26h0m3-12h0m18 10h0m1-1h0m0-6h0m0 3h0m1-1h0m0-2h0m2 0h0m0 2h0m2 1h0m0-7h0m1 14h0m0-6h0m2 2h0m1-8h0m3 0h0m1 10h0m1-4h0m2-5h0m0-2h0m0 8h0m1 1h0m0 3h0m2-9h0m3 6h0m2-7h0m4 2h0m0 3h0m2-3h0m1 1h0m3 2h0m1-2h0m1-5h0m0 13h0m0-14h0m0 4h0m2-4h0m0 6h0m1 0h0m0-1h0m1 2h0m0-6h0m1 12h0m0-10h0m0-1h0m1 0h0m0 3h0m0 7h0m2-7h0m1 4h0m1-9h0m0 4h0m1 6h0m0-5h0m3 4h0m0-2h0m2-2h0m1-2h0m1 1h0m-2 12h0m-2 8h0m-3 4h0m-2-13h0m0 8h0m-3 3h0m-1-8h0m-1 2h0m0-1h0m-1-1h0m0 3h0m-2-6h0m0 14h0m-1-6h0m0-5h0m0-2h0m-3 8h0m0 5h0m-1-5h0m-9 2h0m-1-10h0m-1 13h0m0-6h0m-1 1h0m0-7h0m-1 10h0m0-10h0m-1 9h0m-1-2h0m-1-3h0m-3 6h0m0-8h0m-4 9h0m-3-13h0m-1 2h0m-1 2h0m-2-4h0m-1 0h0m-1 11h0m0-6h0m-1-3h0m-3 6h0m-6-1h0m-18 16h0m9-5h0m7 9h0m5-5h0m2 6h0m3-9h0m1-1h0m4 6h0m2-3h0m2 0h0m1 7h0m1-1h0m4-7h0m0-2h0m2 10h0m1-1h0m2-2h0m2-6h0m4 0h0m1-1h0m4 8h0m0-5h0m1-5h0m1 12h0m2-1h0m0-8h0m1 3h0m1 6h0m0-6h0m6-4h0m3 2h0m1 0h0m0-2h0m-7 19h0m-1-2h0m-1 3h0m-1-5h0m-1 3h0m-1 4h0m-4-3h0m0-1h0m-1-2h0m-1-4h0m-3 4h0m0 6h0m-2-2h0m-2 6h0m0-5h0m0 4h0m-3 0h0m-1-11h0m0 9h0m-2 1h0m0-1h0m-1 1h0m-3-5h0m-1-4h0m-1 2h0m-2-5h0m-1 5h0m-1-2h0m-1 1h0m-1-3h0m0 6h0m-1-2h0m-1 8h0m-1-13h0m-1 12h0m-1-1h0m-1-7h0m-1-2h0m-8 14h0m13 13h0m0-6h0m1-4h0m1 1h0m0 4h0m1-6h0m1 8h0m2-2h0m1-2h0m0-5h0m0 11h0m2-3h0m1 3h0m0-1h0m2-2h0m1-1h0m1-8h0m3 7h0m2 1h0m1-3h0m0 8h0m1-14h0m3 1h0m6-1h0m1 5h0m-5 11h0m-3 3h0m-1-3h0m-2 13h0m-1-9h0m-1-3h0m0 9h0m-2 3h0m-1-7h0m0-5h0m-1 3h0m0 5h0m-1-7h0m-3 0h0m-4 0h0m-1-3h0m-3 0h0m-1 2h0m-1 14h0m1 10h0m1-8h0m1 7h0m4-1h0m1-2h0m0 3h0m1-1h0m0-3h0m1 0h0m0 2h0m0-5h0m2 2h0m1 0h0m0-2h0m1 6h0m1-6h0m0-1h0m-5 16h0m-1-3h0m-3 10h0m-3 4h0m0-5h0m-2 3h0m0-1h0m0 3h0m-5-8h0m-4-2h0m-1 4h0m-4-3h0m-6 11h0m18 7h0" stroke="#f06b6a" stroke-width="5.76" stroke-linecap="round" fill="none"/>
<path transform="scale(0.25)" d="M2471 2007h0m-136 9h0m136 3h0m9-1h0m0 5h0m1-9h0m6 10h0m7-9h0m5 1h0m1 1h0m0 4h0m24 3h0m164-1h0m-1 11h0m-1-5h0m-3 9h0m-155 1h0m-3-6h0m-1-6h0m-10 11h0m-13-12h0m-6 3h0m0 2h0m-6-2h0m-4-1h0m-5 9h0m-13-7h0m-9 1h0m-51 6h0m-10-4h0m-70 4h0m-19-4h0m51 18h0m48-8h0m58 2h0m0 3h0m50-2h0m5-3h0m18 10h0m4-1h0m1 1h0m1-9h0m121 10h0m1-2h0m2-5h0m6 3h0m8 5h0m-5 12h0m-4-1h0m-2-6h0m-1 8h0m-7-8h0m-9 6h0m-2 0h0m-1 0h0m-74 3h0m-18-1h0m-6-8h0m-2 2h0m-2 1h0m-1-6h0m-10 5h0m-9-3h0m0 8h0m-5-6h0m-5 2h0m-5-4h0m-1-2h0m-27 2h0m-4-2h0m-64 7h0m-5-6h0m-88-2h0m-17 0h0m174 18h0m4 1h0m27 1h0m24-2h0m11 7h0m4-4h0m1-2h0m15 2h0m7 5h0m4 1h0m2-9h0m0 8h0m14-4h0m5 0h0m1 0h0m10 6h0m38-14h0m5 14h0m-29 11h0m-1 2h0m-1 1h0m-8-11h0m-4 7h0m-7-3h0m-3 2h0m-2 2h0m-3-10h0m-19 6h0m-9-1h0m-1 1h0m-8 1h0m-1 1h0m-2 6h0m0-14h0m-9 5h0m-3 3h0m-5 0h0m0 3h0m-1-1h0m-33-3h0m-7 6h0m-1-3h0m-7-7h0m-14 7h0m-10-9h0m39 20h0m51-2h0m1-1h0m0 2h0m23 4h0m1 0h0m4-5h0m15 5h0m1-4h0m2-2h0m6 0h0m2-1h0m3 4h0m1 1h0m3-3h0m1 9h0m0-5h0m0 2h0m0-7h0m0 2h0m3 5h0m-2 8h0m-1-2h0m-3 4h0m-1-1h0m0 6h0m-15 16h0m13-9h0m3 2h0m0 2h0m1 5h0m5 3h0m11 13h0m-14-5h0m-2-6h0m-7 11h0m16 15h0m4 0h0m-5 17h0m2 1h0m1 13h0m-3 3h0m-2 1h0m-2 23h0m2-5h0m1-3h0m2 8h0m-4 9h0m-7 40h0m-6 107h0m-5 21h0m-3 14h0" stroke="#e0951c" stroke-width="5.76" stroke-linecap="round" fill="none"/>
<path transform="scale(0.25)" d="M2463 2023h0m2 1h0m1-8h0m29 7h0m194 5h0m-1 10h0m-3-12h0m-3 12h0m-159-3h0m-28-9h0m43 18h0m6 1h0m122 8h0m1-3h0m5-10h0m2 12h0m0-8h0m1 8h0m10-12h0m-2 21h0m-5 2h0m-5-7h0m-4 6h0m-5 6h0m-2 1h0m-86-2h0m-19-2h0m-5 1h0m-14-1h0m-1 3h0m-18-12h0m-19 4h0m-13 1h0m28 9h0m33 6h0m4 0h0m16 7h0m13-10h0m4 8h0m2-7h0m54 5h0m1 1h0m8-6h0m0 2h0m6 4h0m3-8h0m2 5h0m1-4h0m5-3h0m3 2h0m-24 21h0m-36-3h0m-7 7h0m-3-12h0m-4 11h0m0-10h0m-9 1h0m-2 12h0m-9-13h0m-18 1h0m-4 10h0m-11-2h0m-52-4h0m91 21h0m4-7h0m14 1h0m4-6h0m1 1h0m15 0h0m-6 24h0m-16 15h0m8 2h0m16-5h0m13 14h0m-14 6h0m10 11h0m-3 15h0m-4 10h0m-3 25h0m4 27h0m-4-6h0m-4 21h0m1 4h0m5-6h0m-4 12h0m0-1h0m-3 1h0" stroke="#b3a924" stroke-width="5.76" stroke-linecap="round" fill="none"/>
<path transform="scale(0.25)" d="M2312 2023h0m144-4h0m39 0h0m29 5h0m165 3h0m-2 2h0m-3 1h0m-141 8h0m-15-9h0m-4 5h0m-57 2h0m-31 0h0m-58 1h0m-13-3h0m-52-5h0m4 14h0m1 7h0m161 0h0m21 4h0m24-12h0m4 4h0m15-1h0m0-4h0m120 13h0m3-1h0m3-1h0m3-8h0m5 6h0m2-2h0m3-4h0m3 0h0m1 5h0m4 4h0m4-5h0m-3 8h0m-9 5h0m0-1h0m-5 8h0m-1-4h0m0-7h0m-1 6h0m-1 1h0m-1-1h0m-1 3h0m-2-8h0m0-1h0m-3 10h0m-1-2h0m-1-2h0m-1 0h0m-3 5h0m-4-6h0m0 2h0m-1-2h0m-1 2h0m-1 2h0m-2 0h0m-1 3h0m-98-8h0m-1 0h0m-9-5h0m-4 7h0m-10-3h0m-9 5h0m-1 1h0m-18-2h0m-10-6h0m-10 10h0m-41-11h0m-56-1h0m15 15h0m88 4h0m28 0h0m29 7h0m8-7h0m43 9h0m1-5h0m3-1h0m36 5h0m9-10h0m4 5h0m2-5h0m4 1h0m1 8h0m1-12h0m0 11h0m5-7h0m8-4h0m6 0h0m-74 21h0m-15 1h0m-20-6h0m-23 0h0m38 26h0m32 17h0m-14-14h0" stroke="#6cc12a" stroke-width="5.76" stroke-linecap="round" fill="none"/>
<path transform="scale(0.25)" d="M2690 2024h0m4 3h0m-3 5h0m-5 7h0m-1-10h0m-5 8h0m-151-1h0m0-1h0m-10-9h0m-69 13h0m-51 0h0m-29-12h0m0 5h0m-24-2h0m-34 12h0m15 5h0m38-7h0m9 4h0m57 10h0m10 0h0m26-10h0m193 10h0m13-6h0m6-3h0m0-3h0m1 0h0m2 12h0m9 2h0m-4-1h0m-2 5h0m-4-5h0m-1 7h0m0 1h0m-9 1h0m-1-9h0m-1 11h0m-2-6h0m-3 0h0m0-5h0m0 9h0m-6-5h0m-3 9h0m-1-7h0m-106 6h0m-9-10h0m-24 6h0m-79-6h0m-66-2h0m27 15h0m39 4h0m108 2h0m101 0h0m0 3h0m0-7h0m3 2h0m5 2h0m4-6h0m6 6h0m-19 15h0m-3-6h0m-5 7h0m-5-3h0m-4 6h0m-84-9h0m-5 2h0m20 12h0m0 8h0" stroke="#3ccf5f" stroke-width="5.76" stroke-linecap="round" fill="none"/>
<path transform="scale(0.25)" d="M2230 2021h0m1 0h0m10 3h0m43 0h0m33-1h0m20-9h0m22 10h0m14-1h0m2 1h0m119-6h0m-58 16h0m0 4h0m-47-13h0m-5 13h0m-10-11h0m-5 1h0m0 6h0m-4-9h0m-11 6h0m-17 1h0m-1-3h0m-10 1h0m-19-3h0m0 4h0m-14-2h0m-9 5h0m-10 0h0m0 2h0m-6-2h0m-4-5h0m0 3h0m-10 4h0m-9-1h0m0 3h0m-4-12h0m-69 13h0m-47-8h0m-25 15h0m11 6h0m12-10h0m15 2h0m11 10h0m2-3h0m94-2h0m10-3h0m0-5h0m19 3h0m1 10h0m17-9h0m1 4h0m18-7h0m15 7h0m10 0h0m19-5h0m15 2h0m3-3h0m1 2h0m1 9h0m9-11h0m1-3h0m12 6h0m5-5h0m5 2h0m7 5h0m2 4h0m1-2h0m10-8h0m10-2h0m9 14h0m29-1h0m6-8h0m39-2h0m20 1h0m2 17h0m-5 0h0m-11 5h0m-26 3h0m-60-13h0m-4 12h0m-6-5h0m-12 0h0m-6-3h0m-13 0h0m-40 2h0m-3 1h0m-19-2h0m-30-4h0m-75-2h0m-1 6h0m-1-4h0m-184 12h0m49 5h0m16 5h0m17 1h0m11-8h0m4 4h0m54 5h0m284-11h0m48 0h0m19 19h0m-168-1h0m-10 1h0m-156-4h0m-17 1h0m-7 11h0m-47-5h0m0-2h0m-10 5h0m-8-2h0m-20-8h0m-10 7h0m-3-2h0m-2 12h0m20 2h0m8-4h0m5 13h0m7-1h0m32-11h0m10 1h0m1 1h0m44 4h0m153-5h0" stroke="#5cd9b2" stroke-width="5.76" stroke-linecap="round" fill="none"/>
<path transform="scale(0.25)" d="M2244 2050h0m59-4h0m58 2h0m4 18h0m-10 0h0m-14-2h0m-24 0h0m0 2h0m-25-6h0m0 6h0m-9-2h0m-8-1h0m0-5h0m-27 7h0m-3 2h0m-2-1h0m-8 1h0m-1-8h0m-3 7h0m-74-2h0m-9-2h0m-30 4h0m-2-4h0m-84 4h0m-34 14h0m27-5h0m3 4h0m10-4h0m4 6h0m50 1h0m23 1h0m5-4h0m5-8h0m8 3h0m7-1h0m9 8h0m14-8h0m0 1h0m5-2h0m3 0h0m5 6h0m9 4h0m0-1h0m2 2h0m53-8h0m6 8h0m33 1h0m3-2h0m6-5h0m6-1h0m13 0h0m29-2h0m5 0h0m35 3h0m11 17h0m-8 1h0m-18-6h0m-165 5h0m-18-8h0m-2 9h0m-4-8h0m0 7h0m-1 3h0m-3-2h0m-5 2h0m-6-12h0m-3 11h0m-1-7h0m-9 7h0m-8-6h0m-11 2h0m-4 7h0m-1-7h0m-6-7h0m0 4h0m-3-3h0m-2 2h0m-13 6h0m-4-9h0m-1 10h0m-26-5h0m-4 8h0m-1-8h0m-10 7h0m-3-1h0m-5 2h0m-7-5h0m-16 3h0m-1-10h0m-8 12h0m-10-1h0m-4 2h0m-4-10h0m-2 14h0m18 9h0m7-7h0m2-5h0m2 7h0m4-7h0m6 10h0m8-3h0m3 4h0m18-11h0m5 8h0m28 5h0m15-5h0m1 4h0m2-11h0m11 9h0m0 4h0m8-13h0m0 4h0m1-5h0m0 11h0m5 2h0m9-1h0m0-12h0m4 3h0m2 6h0m2-2h0m6-7h0m1 9h0m9 0h0m4 0h0m1-4h0m1 6h0m11 1h0m7-4h0m1-8h0m1 11h0m3-10h0m0 13h0m1-13h0m0 9h0m57-3h0m-56 10h0m0 3h0m-4 9h0m-2-11h0m-1 10h0m-4-10h0m-1-3h0m-9 9h0m0 5h0m-4-8h0m-3 1h0m0-1h0m-5-2h0m-2-2h0m-1 2h0m-8 10h0m-2-12h0m-4 2h0m-5 10h0m0-10h0m-1 3h0m-13-7h0m-1 7h0m-3-6h0m-1 8h0m-4 0h0m-5-2h0m0-4h0m-1-3h0m0 2h0m-6-2h0m-9 14h0m0-14h0m0 9h0m-1 1h0m0-3h0m-49 6h0m-1-5h0m-3-4h0m-3 6h0m-5 3h0m-27 0h0m0-3h0m-5 2h0m-3-1h0m0-8h0m10 22h0m3 1h0m7 0h0m20-11h0m50 7h0m21 3h0m1-1h0m1-3h0m12 4h0m1 1h0m0-7h0m0 8h0m1 2h0m0-6h0m0-7h0m4 1h0m0 2h0m0-3h0m30-1h0m0 3h0m5 5h0m2-8h0m2 14h0m0-3h0m13-10h0m15 4h0m-28 15h0m-1 9h0m0-6h0m-1-5h0m-131-2h0m-31 20h0m0 8h0m528 288h0" stroke="#55cbe4" stroke-width="5.76" stroke-linecap="round" fill="none"/>
<path transform="scale(0.25)" d="M2246 2024h0m56-13h0m1 9h0m8-1h0m1-2h0m6 6h0m17-13h0m1 4h0m0 4h0m10 3h0m14 0h0m27-1h0m113 3h0m-25 2h0m-40 6h0m-60 5h0m-5-8h0m-1 1h0m-14 3h0m0 4h0m-10-6h0m-4-3h0m-4 12h0m-24-7h0m-5-6h0m-1-1h0m-4 2h0m-10 6h0m-4-8h0m-2 12h0m0 1h0m-3-3h0m-2 3h0m-3-1h0m-1 0h0m-4-2h0m-9 4h0m-1-2h0m0-10h0m-2 4h0m-3-5h0m-5 0h0m-8 2h0m-7-1h0m-3 8h0m-1-2h0m-4-4h0m0 9h0m0-3h0m-83 3h0m-23-6h0m-6 1h0m-24 4h0m-90 10h0m9-2h0m0 7h0m2-5h0m17-2h0m32 4h0m31 2h0m5-2h0m6-3h0m8 8h0m1-5h0m9-5h0m8 10h0m0-8h0m19 4h0m10 4h0m4-9h0m1-4h0m19 9h0m44-6h0m0 9h0m1-2h0m23 2h0m11-4h0m3-5h0m1 2h0m0-5h0m4-1h0m6 10h0m4-5h0m5 5h0m3-7h0m16 5h0m1-4h0m27-1h0m1-2h0m6 0h0m0 4h0m14 5h0m4-9h0m13 0h0m1 10h0m1-9h0m5 3h0m51 3h0m1 4h0m13-8h0m96-1h0m-56 21h0m-37-1h0m-79-1h0m-16-3h0m-26 2h0m-43-5h0m-29 1h0m-1 3h0m-8-5h0m-16 5h0m-34 5h0m-5-2h0m-19 2h0m-2-5h0m-3 9h0m-4-1h0m-5-3h0m-4-5h0m0-5h0m-1 7h0m0-5h0m-14 7h0m-1-1h0m-9-6h0m-5 12h0m-5 0h0m-3-9h0m-6 6h0m-1-5h0m-4 8h0m-1-13h0m-8 9h0m-4-3h0m-29-3h0m-14 2h0m-3 0h0m-15-1h0m-15 5h0m-12-7h0m-1 23h0m0-3h0m8 1h0m4-6h0m1 1h0m12-1h0m10 10h0m20-4h0m5-5h0m2-2h0m3 7h0m32-5h0m5-2h0m0-1h0m9 0h0m7 2h0m3-3h0m4 7h0m11-3h0m4 4h0m5-2h0m4-1h0m5 4h0m11-1h0m3-8h0m1 10h0m15-7h0m0 2h0m4 8h0m2 0h0m374-1h0m0-7h0m-11 11h0m-347 1h0m-13 9h0m-35 0h0m-9-9h0m-9 9h0m-1-7h0m-3-3h0m-6 2h0m-3-3h0m-2 12h0m-4-12h0m-27 10h0m-5-1h0m-1-6h0m-23 4h0m-2-7h0m-1 3h0m-6 11h0m-6-10h0m-11 3h0m-1-5h0m-4 0h0m-2 6h0m-16 2h0m-24-4h0m3 9h0m13 0h0m5 8h0m11 3h0m24-6h0m4 4h0m5-8h0m1 3h0m43 4h0m2 4h0m0-6h0m3 0h0m11 3h0m1 3h0m3-2h0m0-5h0m10 2h0m10-4h0m2 9h0m7-2h0m13 0h0m9-4h0m1-6h0m0 13h0m19-11h0m6 18h0m-2-5h0m-5 11h0m-2 2h0m-6-1h0m-14-10h0m-43 5h0m-2-2h0m-21 6h0m24 10h0" stroke="#4aaef8" stroke-width="5.76" stroke-linecap="round" fill="none"/>
<path transform="scale(0.25)" d="M2470 2007h0m-239 17h0m9-2h0m5 1h0m2 0h0m12 0h0m25-5h0m18 2h0m1 2h0m8-3h0m2-5h0m23 9h0m0-7h0m19 6h0m6-1h0m110-9h0m4 4h0m216 9h0m-1 9h0m-164-7h0m-7 6h0m-33 6h0m-10-14h0m-9 11h0m-9-9h0m-21 9h0m-11-4h0m-28 5h0m-14-3h0m0-6h0m-6 1h0m-4 4h0m-5 6h0m-4-14h0m0 4h0m-5 6h0m-5-1h0m-9-1h0m-4-5h0m-6 10h0m-1-5h0m-17-4h0m0 3h0m-6 1h0m-4-7h0m-20 4h0m-4 2h0m-14 6h0m-15-7h0m-10 7h0m-9-5h0m-65 4h0m-51-4h0m-1 3h0m-6 0h0m-98 3h0m14 5h0m2 7h0m4-11h0m1 4h0m22 0h0m10-2h0m33 8h0m2 3h0m11-4h0m10-4h0m24 1h0m9-5h0m1-1h0m9 9h0m4 0h0m6-2h0m58-7h0m10 12h0m1-10h0m0 2h0m10 8h0m8-5h0m1 0h0m4-4h0m18 8h0m5-6h0m1 3h0m1-1h0m14-3h0m4-3h0m5 3h0m24 5h0m13-1h0m10-7h0m5 4h0m5 7h0m3-12h0m51 14h0m14-5h0m34-8h0m10 0h0m33 3h0m18-4h0m1 1h0m1 11h0m4-6h0m128 6h0m6-10h0m15-1h0m-21 26h0m-2-11h0m0 13h0m-168 0h0m-11-4h0m0-7h0m0 6h0m-46-3h0m-26-5h0m-3 5h0m-1 2h0m-11-4h0m-18-2h0m-1 2h0m-1-1h0m0 5h0m-96-1h0m-2-1h0m-3-5h0m-37-1h0m-16 1h0m-32 4h0m-1-4h0m-1 2h0m0 11h0m-18-7h0m-5 5h0m0 1h0m-15-8h0m-61-2h0m-34 9h0m-32-4h0m-8 1h0m-19 2h0m-15-5h0m0 17h0m24 4h0m3-2h0m2-1h0m9-3h0m2-4h0m31 6h0m8 1h0m24-2h0m13-7h0m6 0h0m9 3h0m1 0h0m20 7h0m4-10h0m7 1h0m5-1h0m2 4h0m4 8h0m1 0h0m1-5h0m7 6h0m6-9h0m19 4h0m0-3h0m35 6h0m139 0h0m9-8h0m10 10h0m10-13h0m18 2h0m20 0h0m64-2h0m51 2h0m1 8h0m5-9h0m37 0h0m51 4h0m-36 17h0m-28-6h0m-388 12h0m-2-3h0m-1 4h0m-19-1h0m-4-6h0m-5-1h0m-11-6h0m0 6h0m-7-5h0m-3 9h0m-2 0h0m-2-7h0m-4 6h0m-6-7h0m-4 7h0m-4 4h0m-5-12h0m-19 11h0m-32-5h0m-4 0h0m-12 6h0m-16 1h0m-8-2h0m-29-1h0m-3-5h0m19 16h0m13-2h0m2 2h0m15-4h0m5 2h0m1-2h0m59 10h0m13-4h0m1-2h0m71-4h0m5 1h0m1 5h0m4-7h0m170 2h0m9 4h0m-181 20h0m-2-6h0m-13-2h0m-78-3h0m8 27h0m50-11h0m27 1h0" stroke="#b78aff" stroke-width="5.76" stroke-linecap="round" fill="none"/>
<path transform="scale(0.25)" d="M2264 2024h0m20 0h0m-11 15h0m-264 12h0m2 0h0m7-11h0m5 12h0m1 1h0m2-13h0m6 4h0m4 9h0m5-4h0m1 3h0m4-6h0m1 7h0m4-2h0m39-1h0m15 1h0m15-6h0m56 8h0m10-9h0m6 7h0m81 0h0m6-11h0m-4 20h0m-80-3h0m-28 10h0m-1 2h0m-3-14h0m-5 6h0m-23-4h0m-24 7h0m-45-8h0m-4 3h0m-4 9h0m-3-10h0m-1 4h0m-3-3h0m-3-1h0m0 11h0m-3-12h0m-9 12h0m-2-7h0m-2-2h0m-8 7h0m-4-10h0m-2 10h0m-8-4h0m0 4h0m-1-2h0m-1-2h0m-8 4h0m-1-7h0m-5 4h0m-1-3h0m0 2h0m0 4h0m-6-2h0m2 9h0m1 7h0m12-10h0m4 10h0m5 2h0m1-5h0m2 3h0m7-8h0m1 11h0m1-13h0m3 0h0m1 12h0m5-7h0m3 2h0m4-6h0m0-2h0m8 7h0m1-2h0m1 3h0m0-4h0m2 6h0m3-7h0m2 10h0m0-7h0m0-3h0m2 4h0m2 2h0m3 2h0m1-5h0m0-3h0m1 7h0m24-7h0m1-2h0m9 13h0m11-14h0m0 13h0m4 1h0m1-1h0m13-9h0m40 1h0m4-5h0m20 11h0m4-2h0m-34 14h0m-28 1h0m-68-8h0m-1 3h0m-3 2h0m-2-6h0m-1 8h0m-12 0h0m-4 0h0m-1-8h0m-1 0h0m-3 5h0m-5 6h0m-6-7h0m0-2h0m-4-1h0m-1 3h0m-5 10h0m-3-2h0m-9-8h0m-3-3h0m-6 7h0m-3 0h0m8 10h0m6 2h0m2-3h0m8 0h0m3 5h0m3-4h0m0 4h0m0-3h0m4 6h0m5-9h0m2 1h0m5 0h0m2 7h0m7-1h0m5 0h0m1-7h0m7 1h0m2-2h0m5 3h0m131 21h0m-7-4h0m-22 4h0m-41-3h0m-17 7h0m-70-7h0m-1 4h0m-13-1h0m-18-2h0m-1-2h0m-7 17h0m13 7h0m83-8h0m65-6h0m-147 15h0m-1 1h0m-6 22h0m82-5h0m-1 14h0" stroke="#ef6ceb" stroke-width="5.76" stroke-linecap="round" fill="none"/>
<path transform="scale(0.25)" d="M2167 2035h0m-126 3h0m-10 1h0m-15 6h0m0 3h0m7-5h0m3 4h0m5-4h0m7 7h0m2-3h0m3-1h0m2-1h0m8 9h0m2-5h0m1-3h0m3 4h0m4-5h0m1 9h0m5-6h0m60 6h0m66 10h0m-51 1h0m-1-7h0m-22 3h0m-54-5h0m-5 9h0m-4 0h0m-2-7h0m-3 9h0m-3-10h0m0 8h0m-4-7h0m-8 3h0m-4-3h0m-1 4h0m-3 6h0m-5-3h0m-13 1h0m0-11h0m-5 10h0m-5-7h0m-2 10h0m-6 1h0m-2-13h0m-1 19h0m2-5h0m2 7h0m0-3h0m7 0h0m2 3h0m3 5h0m1-9h0m3 11h0m1-4h0m0 4h0m0-5h0m4 5h0m1-9h0m1 8h0m5 0h0m4 1h0m11-14h0m8 3h0m2 8h0m2-4h0m2 6h0m1-12h0m5 6h0m4-3h0m0-1h0m5-1h0m1 5h0m61-2h0m47 2h0m419-7h0m30 26h0m-20-7h0m-20 5h0m-28 1h0m-362-6h0m-45 0h0m-82 5h0m0-8h0m-1 6h0m-3-1h0m-2 8h0m-5-2h0m-1-6h0m-1 8h0m-3-14h0m-1 9h0m-1-3h0m-4-3h0m-2-3h0m-10 11h0m-5-2h0m-3 5h0m-3-1h0m-3-6h0m-5 5h0m-2-3h0m-2 2h0m-1 1h0m-6-10h0m-3 11h0m-8-5h0m-3-2h0m-2-4h0m14 13h0m16 8h0m7-6h0m4 10h0m1-5h0m15-7h0m9 2h0m14 1h0m-27 16h0m-32 8h0m0 26h0m-1 9h0" stroke="#fb68b6" stroke-width="5.76" stroke-linecap="round" fill="none"/>
<circle cx="654.63" cy="528.5" r="2.3" fill="#111"/>
<text x="654.63" y="529.65" font-size="3.2" fill="#fff" text-anchor="middle">1</text>
<text x="499.9" y="480.8" font-size="4.4" fill="#111">NewFeature</text>
<circle cx="527.8" cy="471.2" r="0.65" fill="#f06b6a"/>
<text x="532.2" y="474.8" font-size="3.7" fill="#111">VCT_fusing</text>
<circle cx="527.8" cy="479.1" r="0.65" fill="#e0951c"/>
<text x="532.2" y="484.8" font-size="3.7" fill="#111">VCT_LDHA_5</text>
<circle cx="527.8" cy="486.8" r="0.65" fill="#b3a924"/>
<text x="532.2" y="494.3" font-size="3.7" fill="#111">VCT_LDHA_4</text>
<circle cx="565.8" cy="471.2" r="0.65" fill="#6cc12a"/>
<text x="570.2" y="474.8" font-size="3.7" fill="#111">VCT_LDHA_3</text>
<circle cx="565.8" cy="479.1" r="0.65" fill="#3ccf5f"/>
<text x="570.2" y="484.8" font-size="3.7" fill="#111">VCT_LDHA_2</text>
<circle cx="565.8" cy="486.8" r="0.65" fill="#5cd9b2"/>
<text x="570.2" y="494.3" font-size="3.7" fill="#111">VCT_LDHA_1</text>
<circle cx="600" cy="471.2" r="0.65" fill="#55cbe4"/>
<text x="604.4" y="474.8" font-size="3.7" fill="#111">VCT_TP63_4</text>
<circle cx="600" cy="479.1" r="0.65" fill="#4aaef8"/>
<text x="604.4" y="484.8" font-size="3.7" fill="#111">VCT_TP63_3</text>
<circle cx="600" cy="486.8" r="0.65" fill="#b78aff"/>
<text x="604.4" y="494.3" font-size="3.7" fill="#111">VCT_TP63_5</text>
<circle cx="634.6" cy="471.2" r="0.65" fill="#ef6ceb"/>
<text x="639" y="474.8" font-size="3.7" fill="#111">VCT_TP63_2</text>
<circle cx="634.6" cy="479.1" r="0.65" fill="#fb68b6"/>
<text x="639" y="484.8" font-size="3.7" fill="#111">VCT_TP63_1</text>
<text x="585.1" y="674.5" font-size="7.2" text-anchor="middle" fill="#111">Component 1</text>
<text x="478.6" y="579.5" font-size="6.9" text-anchor="middle" transform="rotate(-90 478.6 579.5)" fill="#111">Component 2</text>
</g>
<g id="pH">
<text x="80.2" y="716.6" font-size="4.85" fill="#111">NewFeature</text>
<circle cx="112.9" cy="702" r="1" fill="#f06b6a"/>
<text x="117.6" y="703.9" font-size="4.45" fill="#222">VCT_fusing</text>
<circle cx="112.9" cy="713.3" r="1" fill="#e0951c"/>
<text x="117.6" y="716.6" font-size="4.45" fill="#222">VCT_LDHA_5</text>
<circle cx="112.9" cy="724.5" r="1" fill="#b3a924"/>
<text x="117.6" y="729.3" font-size="4.45" fill="#222">VCT_LDHA_4</text>
<circle cx="166.9" cy="702" r="1" fill="#6cc12a"/>
<text x="171.6" y="703.9" font-size="4.45" fill="#222">VCT_LDHA_3</text>
<circle cx="166.9" cy="713.3" r="1" fill="#3ccf5f"/>
<text x="171.6" y="716.6" font-size="4.45" fill="#222">VCT_LDHA_2</text>
<circle cx="166.9" cy="724.5" r="1" fill="#5cd9b2"/>
<text x="171.6" y="729.3" font-size="4.45" fill="#222">VCT_LDHA_1</text>
<circle cx="218.6" cy="702" r="1" fill="#55cbe4"/>
<text x="223.9" y="703.2" font-size="4.45" fill="#222">VCT_TP63_4</text>
<circle cx="218.6" cy="713.3" r="1" fill="#4aaef8"/>
<text x="223.9" y="715.5" font-size="4.45" fill="#222">VCT_TP63_3</text>
<circle cx="218.6" cy="724.5" r="1" fill="#b78aff"/>
<text x="223.9" y="728.2" font-size="4.45" fill="#222">VCT_TP63_5</text>
<circle cx="271.5" cy="702" r="1" fill="#ef6ceb"/>
<text x="278.3" y="704.7" font-size="4.45" fill="#222">VCT_2</text>
<circle cx="271.5" cy="713.3" r="1" fill="#fb68b6"/>
<text x="278.3" y="717.4" font-size="4.45" fill="#222">VCT_TP63_1</text>
<path d="M51 745.5V820.4" stroke="#777" stroke-width="0.6" fill="none"/>
<path d="M51 757.3h-1.8M51 780.3h-1.8M51 803.3h-1.8" stroke="#777" stroke-width="0.6" fill="none"/>
<g font-size="6.7" fill="#444" text-anchor="end">
<text x="48" y="759.7">0</text>
<text x="48" y="782.7">−5</text>
<text x="48" y="805.7">−10</text>
</g>
<text x="91.9" y="745.1" font-size="6.3" text-anchor="middle" fill="#222">VCT_fusing</text>
<path d="M59.26 755.92L61.02 755.37L71.2 755.37L74.3 753.94L76.81 752.84L83.15 752.24L88.31 751.96L92.74 752.47L96.87 753.48L100.85 754.68L104.39 756.01L107.93 757.99L111.62 760.61" stroke="#111" stroke-width="0.85" fill="none" stroke-linejoin="round"/>
<path d="M111.62 760.61L113.39 758.68L115.6 755.92L116.78 754.54" stroke="#111" stroke-width="0.85" fill="none" stroke-linejoin="round"/>
<path d="M111.62 760.61L109.7 778.18L107.78 794.38" stroke="#111" stroke-width="0.85" fill="none" stroke-linejoin="round"/>
<circle cx="111.62" cy="760.61" r="2.6" fill="#111"/>
<text x="111.62" y="761.84" font-size="3.4" fill="#fff" text-anchor="middle">1</text>
<path transform="scale(0.25)" d="M396 2999h0m-6 0h0m-87 9h0m2 3h0m1 3h0m6-5h0m2 2h0m0-3h0m14 3h0m5-1h0m2 3h0m5 0h0m7 1h0m6-5h0m3 4h0m2-2h0m0 1h0m8 2h0m14 0h0m1 0h0m5-12h0m2-1h0m6 1h0m1 10h0m0-5h0m1 5h0m2-1h0m2-4h0m1 2h0m2-2h0m3 7h0m0-3h0m9-7h0m0 9h0m0-1h0m0-5h0m53 6h0m0-1h0m4-9h0m2 4h0m0-6h0m-5 17h0m-1-3h0m-1 6h0m0-1h0m-5 4h0m-21 5h0m0-1h0m-1-1h0m-5 2h0m-1 0h0m0-4h0m-3-1h0m0-3h0m-2 0h0m0 8h0m-7-3h0m0 3h0m0-1h0m-2-9h0m-7 2h0m0 2h0m-2-7h0m-1 4h0m-4 2h0m-4-5h0m-2-2h0m-3 1h0m-1 3h0m-15 3h0m0-4h0m-7 5h0m0-1h0m-4 4h0m0-6h0m0 3h0m-4-5h0m-3 5h0m0 3h0m-3-6h0m-1 5h0m-1 4h0m0-5h0m0 4h0m0-5h0m0 3h0m-1 2h0m-1-8h0m-4-4h0m0 7h0m-1 4h0m0-1h0m0 3h0m-3-3h0m0 2h0m-1-9h0m0 9h0m-5-4h0m-2-7h0m-2 8h0m0 4h0m-1-4h0m0-1h0m-1 5h0m0-8h0m-2 0h0m0 6h0m-1-2h0m0-5h0m0 9h0m0-10h0m0 8h0m0-1h0m-2-5h0m-1 3h0m-1 2h0m0-1h0m-1-8h0m-11 4h0m-2-4h0m-2 5h0m-4-1h0m-1-3h0m0 4h0m-1 6h0m-4 1h0m0-14h0m-5 2h0m-2 6h0m-20 5h0m-7-3h0m-4 0h0m-42 5h0m2 4h0m30-4h0m1 11h0m4-10h0m1 4h0m0 4h0m1-5h0m7 9h0m4 1h0m4-14h0m6 6h0m2-2h0m0 9h0m1-10h0m0-2h0m0 9h0m0 4h0m4-12h0m0 8h0m1 3h0m2-11h0m37-1h0m3 8h0m0-6h0m0 9h0m0-10h0m0 4h0m0 8h0m1-12h0m2 3h0m0-2h0m1 2h0m0-1h0m10 3h0m0-1h0m1-4h0m0 1h0m3-1h0m0 9h0m0-10h0m0 4h0m0 4h0m6-6h0m1 1h0m0 4h0m0-5h0m0-1h0m33 1h0m5 0h0m0-2h0m3 5h0m0-1h0m15 2h0m0-2h0m3-2h0m0 4h0m0-6h0m3-1h0m9 0h0m0 12h0m2-8h0m0-2h0m0-1h0m1 5h0m0 3h0m2-6h0m0 11h0m1-1h0m3-12h0m0 9h0m1 0h0m1-1h0m0 1h0m2-5h0m1-3h0m0 6h0m1-3h0m3 3h0m0 2h0m1-2h0m0-1h0m1-3h0m6-2h0m-3 27h0m-3-14h0m0 6h0m-1-4h0m-2 8h0m0-1h0m-4 3h0m0-2h0m0-1h0m-7-6h0m-2-2h0m-141-1h0m-1 12h0m0-5h0m-1-4h0m-1 9h0m-17-5h0m-4 1h0m-1 1h0m0-5h0m-2 5h0m-5-7h0m0 3h0m-3 0h0m0-5h0m-25 6h0m-4-5h0m-3 6h0m-4 6h0m27 16h0m0-11h0m0 4h0m3-5h0m40-1h0m158 7h0m1 2h0m0 4h0m0-9h0m0 7h0m1-4h0m0-5h0m0 4h0m0 4h0m0-1h0m0-5h0m0-1h0m1-2h0m-2 22h0m0-2h0m-1-3h0m0 9h0m0-3h0m-1-5h0m0 9h0m0-1h0m-1 10h0m0-1h0m0-6h0m0 9h0m0 4h0m0-5h0m0-5h0m1 6h0m0-6h0m0 9h0m0-5h0m0-1h0m0 4h0m1-4h0m0 3h0m0-5h0m0-5h0m0 9h0m0-5h0m-1 15h0m-1-2h0m0 4h0m0-5h0m0 9h0m0 4h0m0-10h0m0 4h0m-1-7h0m0 9h0m0-5h0m0 9h0m0-5h0m0-5h0m0 9h0m0-5h0m0 4h0m0-1h0m-1-1h0m-1 13h0m0-1h0m1 0h0m0-6h0m1 3h0m0-1h0m0-2h0m1-1h0m0 3h0m-2 18h0m0-5h0m0 4h0m0 4h0m0-5h0m0 3h0m0-5h0m-1 8h0m0-5h0m0 9h0m0-5h0m0-5h0m0 9h0m0-5h0m0-5h0m0 4h0m0 4h0m-1 2h0m0-5h0m0-5h0m0 9h0m0-5h0m0 3h0m0-1h0m-1 0h0m0 4h0m-1 14h0m0-5h0m0 2h0m1 1h0m0 4h0m0-1h0m0-6h0m0-5h0m0 9h0m1-6h0m0 9h0m0-14h0m0 4h0m0 4h0m1-4h0m0 3h0m0-7h0m-2 24h0m0-5h0m0 9h0m0-10h0m0 4h0m0-5h0m0 4h0m0-5h0m0 9h0m-1 1h0m0-5h0m0-5h0m0 9h0m0 4h0m0-5h0m0-6h0m0 4h0m0-5h0m-1 7h0m0-5h0m0 9h0m0-5h0m0-5h0m0 4h0m0-5h0m0 8h0m0-5h0m-27 23h0m8 0h0m2 1h0m1 0h0m2-1h0m1 1h0m1 0h0m1-1h0m0-3h0m0 4h0m1 0h0m0-1h0m1 0h0m2 0h0m2-2h0m1 2h0m1 1h0m0-1h0m1 1h0m0-1h0m1-12h0m0 13h0m0-14h0m1 1h0m1-1h0m0 2h0m-1 24h0m0-10h0m0 9h0m0-5h0m0-5h0m0 9h0m0-6h0m-1-1h0m0 8h0m0-6h0m0 9h0m0-5h0m0-1h0m-1 2h0m0 4h0m0-5h0m0 4h0m0-5h0m0-5h0m0 4h0m0 4h0m-1-3h0m0-5h0m0 4h0m0-5h0m0 4h0m0 4h0m0-5h0m0 4h0m0-5h0m-1 11h0m0-14h0m0 13h0m0-10h0m0-1h0m0 9h0m0-6h0m-1 3h0m0-6h0m0 9h0m0-5h0m0-1h0m0 9h0m0-10h0m0 9h0m-1-6h0m0 3h0m0-10h0m0 9h0m0-5h0m0 9h0m-1 1h0m0-10h0m0 4h0m0-5h0m0 9h0m0-6h0m0-5h0m-1 2h0m0 4h0m0-5h0m0 9h0m0-1h0m0-5h0m0-5h0m0 8h0m-1 2h0m0-5h0m0-5h0m0 9h0m0-5h0m0 4h0m0-5h0m0-1h0m-1 3h0m0 9h0m0-1h0m0-1h0m-1 0h0m0-10h0m0 8h0m0-5h0m0 4h0m0-1h0m0-5h0m-1 2h0m0 4h0m0 4h0m0-6h0m-1 6h0m0-10h0m0 9h0m0-5h0m0 4h0m0-5h0m0-5h0m0 9h0m0 4h0m-1-11h0m0 4h0m0 4h0m0-10h0m0 13h0m0-10h0m0 9h0m0-5h0m-1 6h0m0-14h0m0 4h0m0 4h0m0 4h0m0-5h0m0 4h0m0-5h0m-1-4h0m0 9h0m0-5h0m0 4h0m0-5h0m0 9h0m0-5h0m0-5h0m0 9h0m-1-6h0m0-5h0m0 9h0m0-5h0m0-1h0m0-1h0m0-1h0m-1 11h0m0-5h0m0-5h0m0 9h0m0-10h0m0-1h0m0-1h0m-1 1h0m0-1h0m0 4h0m0-5h0m0 9h0m0-5h0m-1 7h0m0-10h0m0 9h0m0-5h0m0-1h0m0-1h0m0 9h0m0-5h0m-1 7h0m0-14h0m0 9h0m0 3h0m-1 0h0m0 2h0m-1-3h0m-1 2h0m0-3h0m-1-5h0m0 4h0m-2-2h0m0 2h0m-3 2h0m1 9h0m0 4h0m1 4h0m1 1h0m0-2h0m1-9h0m1 2h0m0 9h0m0-7h0m1 0h0m0 3h0m0 4h0m0-10h0m0 9h0m0-1h0m1-3h0m0 4h0m0-5h0m0-6h0m0 4h0m0-5h0m1 5h0m0-1h0m0-5h0m0 9h0m0 4h0m0-5h0m0-5h0m0 4h0m1 1h0m0 4h0m0-10h0m0 8h0m0-5h0m0-5h0m0 4h0m1 1h0m0-5h0m0 9h0m0-6h0m0-1h0m0 4h0m0-5h0m0 9h0m1-8h0m0 4h0m0-1h0m0 8h0m1 1h0m0-5h0m0-5h0m0 9h0m0-11h0m0 9h0m0-6h0m0-5h0m1 1h0m0 9h0m0-5h0m0 9h0m0-11h0m0 9h0m0-1h0m0-5h0m1-4h0m0 9h0m0-6h0m0 4h0m0-5h0m0-1h0m1 0h0m0-1h0m0-1h0m0 4h0m0 4h0m1 2h0m0-6h0m0-5h0m0 14h0m0-10h0m0 4h0m0 4h0m1-11h0m0 9h0m0-10h0m0 9h0m0 4h0m0-5h0m1 1h0m0 4h0m0-10h0m0 9h0m0-5h0m0-5h0m0 9h0m0-5h0m0-1h0m1 6h0m0-1h0m0-10h0m0 13h0m0-5h0m0-5h0m1-3h0m0 13h0m0-1h0m0-5h0m0-5h0m0 4h0m0-5h0m0 9h0m0-5h0m1 0h0m0-5h0m0 9h0m0 4h0m0-10h0m0-2h0m0 9h0m1-4h0m0-5h0m0 9h0m0-1h0m0 4h0m1-10h0m0 8h0m0-5h0m0-5h0m0 9h0m1 0h0m0-5h0m0-5h0m0 13h0m0-10h0m0 9h0m0-10h0m1 0h0m0 9h0m0-10h0m0 8h0m0 3h0m1 0h0m0-10h0m0-1h0m0 4h0m0-5h0m0 9h0m1-8h0m0 4h0m0-5h0m0 3h0m0-1h0m1 1h0m0-2h0m0-1h0m1 0h0m0 1h0m-4 14h0m-1 0h0m-1 3h0m0-1h0m-1 3h0m0-5h0m0 4h0m0-1h0m-1 4h0m0-5h0m0 9h0m0-6h0m0-5h0m0 9h0m-1-6h0m0 9h0m0-10h0m0 4h0m0-5h0m0 9h0m0-1h0m0-5h0m0 4h0m-1-7h0m0 13h0m0-14h0m0 9h0m0-5h0m0 9h0m0-10h0m-1 5h0m0-1h0m0-5h0m0-1h0m0 13h0m-1-13h0m0 4h0m0 9h0m0-5h0m0-6h0m0 8h0m-1-10h0m0 8h0m0-5h0m0 8h0m0-10h0m-1 1h0m0 9h0m0-1h0m0-10h0m0 4h0m0 9h0m0-14h0m-1 5h0m0 9h0m0-1h0m0-10h0m0 9h0m0-1h0m0-5h0m-1 2h0m0-5h0m0 8h0m0-5h0m0 4h0m0-5h0m-1 3h0m0-5h0m0 4h0m0-5h0m0 9h0m0-10h0m0 9h0m0-5h0m0 9h0m0-14h0m0 9h0m-1-3h0m0 4h0m0-1h0m0 4h0m0-10h0m0-1h0m0 9h0m-1-3h0m0-5h0m0 4h0m0-5h0m0 4h0m0 4h0m0-10h0m0 9h0m0-5h0m0 9h0m-1-11h0m0 7h0m0 4h0m0-5h0m0-1h0m-1-1h0m0-5h0m0 4h0m0 4h0m0-6h0m0 9h0m-1-4h0m0 4h0m0-5h0m0 4h0m0-5h0m0-1h0m0-5h0m0 4h0m-1-3h0m0 4h0m0-5h0m0 8h0m0-5h0m0 9h0m0-10h0m-1 10h0m0-1h0m0-1h0m-1-4h0m0-5h0m0 8h0m-1-9h0m-1 3h0m-1 9h0m-2 1h0m0-8h0m-1 6h0m-1-10h0m0 12h0m0-11h0m0 14h0m3 8h0m0 2h0m1-11h0m0 13h0m1-7h0m0 2h0m2 4h0m0-1h0m0-1h0m0-10h0m1 2h0m0-2h0m0 4h0m1 8h0m0-5h0m0-6h0m1 1h0m0 9h0m0-5h0m0-1h0m0 9h0m0-14h0m0 9h0m0-5h0m0 4h0m1-8h0m0 3h0m0 4h0m0 4h0m0-5h0m0 4h0m1-2h0m0 4h0m0-5h0m0-5h0m0 9h0m1 1h0m0-5h0m0-5h0m0 9h0m0-11h0m0 4h0m0 9h0m0-5h0m0-5h0m1 7h0m0-5h0m0 9h0m0-10h0m0 9h0m0-10h0m0 9h0m0-6h0m1 6h0m0-11h0m0 4h0m0 9h0m0-14h0m0 13h0m0-10h0m1 9h0m0-10h0m0 3h0m0 8h0m0-5h0m0-5h0m1 2h0m0-5h0m0 9h0m0-5h0m0 8h0m0-5h0m0-5h0m0 9h0m0-5h0m0-5h0m0 9h0m1-3h0m0 4h0m0-6h0m0-5h0m0 8h0m0-5h0m1 6h0m0-5h0m0-1h0m0-1h0m0 4h0m1-5h0m0 4h0m1-4h0m0-1h0m0 3h0m1-2h0m-6 14h0m-1 1h0m-1 1h0m-1 2h0m0-2h0m-1 6h0m0-5h0m0 7h0m0-5h0m0-5h0m-1 11h0m0-10h0m0-1h0m-1 2h0m0 9h0m0-5h0m0 4h0m0-5h0m0-5h0m0 8h0m-1-4h0m0 9h0m0-11h0m0 8h0m-1-5h0m-1-4h0m-1 0h0m0 9h0m-1-10h0m-1 1h0m-1 1h0m-3 11h0m9 2h0" stroke="#f06b6a" stroke-width="9.6" stroke-linecap="round" fill="none"/>
<circle cx="111.62" cy="760.61" r="2.6" fill="#111"/>
<text x="111.62" y="761.84" font-size="3.4" fill="#fff" text-anchor="middle">1</text>
<text x="154.8" y="745.1" font-size="6.3" text-anchor="middle" fill="#222">VCT_LDHA_5</text>
<path d="M133.45 755.92L135.22 755.37L145.4 755.37L148.5 753.94L151.01 752.84L157.35 752.24L162.51 751.96L166.94 752.47L171.07 753.48L175.05 754.68L178.59 756.01L182.13 757.99L185.82 760.61" stroke="#111" stroke-width="0.85" fill="none" stroke-linejoin="round"/>
<path d="M185.82 760.61L187.59 758.68L189.8 755.92L190.98 754.54" stroke="#111" stroke-width="0.85" fill="none" stroke-linejoin="round"/>
<path d="M185.82 760.61L183.9 778.18L181.98 794.38" stroke="#111" stroke-width="0.85" fill="none" stroke-linejoin="round"/>
<circle cx="185.82" cy="760.61" r="2.6" fill="#111"/>
<text x="185.82" y="761.84" font-size="3.4" fill="#fff" text-anchor="middle">1</text>
<path transform="scale(0.25)" d="M700 2997h0m-1 2h0m-7-2h0m-5 1h0m-3-5h0m0-1h0m-1 2h0m0 2h0m0 2h0m-54 10h0m6 0h0m5-4h0m9-4h0m5 10h0m6 2h0m4-6h0m3 5h0m4-1h0m6-1h0m1 3h0m2-1h0m5-5h0m0-4h0m0 2h0m2 9h0m0-3h0m0-3h0m0-3h0m3 0h0m0 2h0m0 2h0m1-7h0m1-1h0m0 1h0m2 0h0m0 13h0m0-12h0m2 6h0m0 4h0m0-5h0m1 7h0m0-12h0m0 9h0m1-1h0m0-5h0m1-2h0m0 9h0m1-11h0m3 12h0m1-4h0m2 4h0m0 1h0m1 0h0m1-4h0m0-7h0m0 2h0m0 2h0m0-3h0m0 9h0m1-1h0m0-7h0m1 4h0m0 4h0m2-1h0m0 2h0m0-5h0m3 4h0m1 1h0m1-1h0m1 1h0m1 0h0m42 0h0m2 0h0m2-3h0m1 2h0m0-3h0m0-3h0m1-2h0m2 7h0m0-7h0m1 0h0m0 8h0m1-11h0m-4 14h0m-5 1h0m0 6h0m-1-4h0m-1 2h0m-1 5h0m0-5h0m0 4h0m0-7h0m0 4h0m-1-2h0m0 4h0m-2-3h0m0 3h0m-1 1h0m-1-2h0m-2 3h0m-14 2h0m0 1h0m-1-3h0m-6 2h0m0-3h0m0-1h0m-1 5h0m-2-5h0m0 2h0m0-5h0m-2 2h0m-2 4h0m0-4h0m-1 3h0m-1-4h0m0 4h0m-3 2h0m0-7h0m0-5h0m0 9h0m0-5h0m0 9h0m0-14h0m-2 14h0m0-10h0m0-1h0m0 7h0m-1-3h0m-1-5h0m0-1h0m0 4h0m-3-4h0m-1-1h0m-1 14h0m-2-13h0m-1 2h0m0-1h0m-1 7h0m0-5h0m0 6h0m-2-9h0m-1-1h0m-4 2h0m-4 0h0m-3 3h0m-5-5h0m0 4h0m0-1h0m-6-1h0m-14 8h0m-3-5h0m-24-2h0m-3 2h0m-13-4h0m63 17h0m8 3h0m1-2h0m8-3h0m1 1h0m0-1h0m5 2h0m0 2h0m1-1h0m0 1h0m0 2h0m2 1h0m1-6h0m0 4h0m2-4h0m0 2h0m1-4h0m0 2h0m7 2h0m0-4h0m0 2h0m2 9h0m0 2h0m0-7h0m0 2h0m0-7h0m0 2h0m0 9h0m0-3h0m1-3h0m1-5h0m0 2h0m0 2h0m1-5h0m0 9h0m0 4h0m1-2h0m0-7h0m0 4h0m0 6h0m0-5h0m0-7h0m1 12h0m0-5h0m0-7h0m0 1h0m0 2h0m3 1h0m0-4h0m1 5h0m0-3h0m1-1h0m0 9h0m0-7h0m0 1h0m1 2h0m0-7h0m0 6h0m1-5h0m0 6h0m1-6h0m1 1h0m0 4h0m0 2h0m0-3h0m0-5h0m0 9h0m3-2h0m1 3h0m0 3h0m2-5h0m6-9h0m1 0h0m0 2h0m-8 18h0m0 2h0m0-1h0m0 4h0m-1-10h0m0 4h0m-1-1h0m0 9h0m0-8h0m0 6h0m-1 3h0m-3-3h0m0 2h0m0 1h0m-1 0h0m0-3h0m0 2h0m0-3h0m0 2h0m-7-9h0m-2-1h0m14 16h0m3 12h0m0-7h0m1-4h0m0-1h0m1 0h0m0 11h0m0-7h0m-1 18h0m0-6h0m-1-2h0m0 6h0m0-7h0m0 9h0m-1-3h0m-1 15h0m0 8h0m1-2h0m0 2h0m0-5h0m0 4h0m1-11h0m0 11h0m0-12h0m0 2h0m-1 12h0m-1 0h0m0 8h0m-1-1h0m0-5h0m0 14h0m-2 27h0m0-6h0m-1 3h0m1 7h0m-2 18h0m-2-2h0m-1 11h0" stroke="#e0951c" stroke-width="9.6" stroke-linecap="round" fill="none"/>
<circle cx="185.82" cy="760.61" r="2.6" fill="#111"/>
<text x="185.82" y="761.84" font-size="3.4" fill="#fff" text-anchor="middle">1</text>
<text x="236.9" y="745.1" font-size="6.3" text-anchor="middle" fill="#222">VCT_LDHA_4</text>
<path d="M207.66 755.92L209.43 755.37L219.6 755.37L222.7 753.94L225.21 752.84L231.55 752.24L236.71 751.96L241.14 752.47L245.27 753.48L249.25 754.68L252.79 756.01L256.33 757.99L260.02 760.61" stroke="#111" stroke-width="0.85" fill="none" stroke-linejoin="round"/>
<path d="M260.02 760.61L261.79 758.68L264 755.92L265.18 754.54" stroke="#111" stroke-width="0.85" fill="none" stroke-linejoin="round"/>
<path d="M260.02 760.61L258.1 778.18L256.18 794.38" stroke="#111" stroke-width="0.85" fill="none" stroke-linejoin="round"/>
<circle cx="260.02" cy="760.61" r="2.6" fill="#111"/>
<text x="260.02" y="761.84" font-size="3.4" fill="#fff" text-anchor="middle">1</text>
<path transform="scale(0.25)" d="M991 2998h0m-2-2h0m-9-2h0m3 14h0m1 6h0m0-5h0m0-1h0m3 0h0m2 0h0m0 4h0m0-1h0m1 3h0m3-1h0m3-5h0m0-1h0m6 2h0m1 0h0m2-3h0m1 6h0m1-2h0m2 2h0m0-7h0m3 4h0m0-1h0m44 6h0m3-1h0m3-5h0m1 4h0m1-3h0m0 2h0m0-1h0m0 2h0m1-4h0m0 4h0m0-1h0m1 1h0m1-8h0m-4 11h0m-1 5h0m0-2h0m-1 4h0m0-4h0m-1 4h0m0-5h0m-1 2h0m0-1h0m-1 2h0m0-3h0m0 4h0m0 2h0m0-5h0m-1 1h0m0-3h0m-1 8h0m0 2h0m-1-8h0m-1 9h0m0 1h0m-1-1h0m0-2h0m-1 1h0m-2-2h0m-15 5h0m-8 0h0m-1-1h0m-1-2h0m-1 1h0m0-3h0m0 4h0m-1-8h0m-2 6h0m0 2h0m-2-1h0m0-2h0m-3-6h0m-1 3h0m-1 3h0m-2-9h0m-4 0h0m-1 2h0m-4 5h0m0-3h0m0 8h0m-2-12h0m-1 5h0m-7-3h0m-4-2h0m0 4h0m-6-2h0m24 13h0m1 4h0m2-2h0m0 1h0m3-1h0m8-3h0m1 0h0m0 6h0m0 4h0m1 4h0m0-12h0m0 11h0m1-9h0m1 5h0m1-4h0m0 2h0m1-4h0m1 5h0m0 6h0m0-5h0m3-3h0m0 2h0m1-4h0m0 9h0m0-5h0m0 2h0m0-7h0m0 6h0m1-8h0m0 2h0m0 9h0m2-4h0m1 0h0m1 0h0m0 4h0m5-7h0m0 1h0m5-2h0m1-2h0m1-2h0m-3 29h0m-3-7h0m0-3h0m-1 4h0m0-5h0m0 2h0m0 2h0m0 2h0m0-7h0m0 2h0m-1-1h0m-1 1h0m0 8h0m-4-2h0m8 8h0m1 7h0m0-3h0m0 6h0m-1 8h0m0-5h0m0 6h0m-1 0h0m0-7h0m0 13h0m0-5h0m0-7h0m-1 11h0m0 2h0m0-5h0m-1 10h0m1 0h0m0 2h0m1-6h0m0 2h0m-2 16h0m-1 5h0" stroke="#b3a924" stroke-width="9.6" stroke-linecap="round" fill="none"/>
<circle cx="260.02" cy="760.61" r="2.6" fill="#111"/>
<text x="260.02" y="761.84" font-size="3.4" fill="#fff" text-anchor="middle">1</text>
<text x="310.1" y="745.1" font-size="6.3" text-anchor="middle" fill="#222">VCT_LDHA_3</text>
<path d="M281.86 755.92L283.62 755.37L293.8 755.37L296.9 753.94L299.41 752.84L305.75 752.24L310.91 751.96L315.34 752.47L319.47 753.48L323.45 754.68L326.99 756.01L330.53 757.99L334.22 760.61" stroke="#111" stroke-width="0.85" fill="none" stroke-linejoin="round"/>
<path d="M334.22 760.61L335.99 758.68L338.2 755.92L339.38 754.54" stroke="#111" stroke-width="0.85" fill="none" stroke-linejoin="round"/>
<path d="M334.22 760.61L332.3 778.18L330.38 794.38" stroke="#111" stroke-width="0.85" fill="none" stroke-linejoin="round"/>
<circle cx="334.22" cy="760.61" r="2.6" fill="#111"/>
<text x="334.22" y="761.84" font-size="3.4" fill="#fff" text-anchor="middle">1</text>
<path transform="scale(0.25)" d="M1288 2998h0m-7-2h0m0 2h0m-4-3h0m0-1h0m-25 5h0m-4 0h0m-11 0h0m-19 6h0m0 3h0m6-5h0m1 5h0m0 6h0m4-5h0m2-2h0m3 7h0m1-1h0m1-2h0m2-2h0m10-5h0m5 10h0m24-10h0m0 1h0m1 3h0m0-5h0m0 3h0m3 7h0m0-7h0m0 4h0m0-8h0m3 6h0m1 2h0m1-10h0m0 2h0m0 11h0m1-8h0m0 4h0m1-4h0m0 9h0m2-2h0m1-2h0m0-5h0m2 2h0m0 2h0m0-7h0m0 9h0m3 2h0m4-1h0m0 1h0m2-4h0m1-2h0m0 6h0m1-1h0m1-5h0m0 3h0m0-5h0m1 5h0m3-2h0m46 5h0m1 0h0m1 0h0m1-1h0m1-2h0m0 2h0m0 2h0m0-7h0m0 1h0m1 1h0m0-1h0m0 2h0m2 4h0m0-5h0m0 2h0m0-5h0m0 2h0m1-5h0m0 11h0m0-7h0m0 2h0m0-5h0m0 2h0m0-5h0m0 9h0m1-6h0m0-3h0m0 11h0m1 2h0m0-7h0m-2 8h0m-1 4h0m-1 1h0m-1-4h0m-1 1h0m0 2h0m0-1h0m-1 0h0m0-1h0m0 2h0m0 4h0m-1-4h0m-1 0h0m0 4h0m0-5h0m0-3h0m-1 4h0m0-3h0m0 9h0m0-5h0m0 2h0m-1-5h0m0 9h0m-1-9h0m0 6h0m-1 2h0m0-5h0m0 2h0m0 2h0m-1 0h0m0 4h0m0-7h0m0 2h0m0-3h0m-1 1h0m0-1h0m0 4h0m0 2h0m0 2h0m-1 0h0m-1-3h0m-1 2h0m-17 0h0m-5 1h0m-3 0h0m-1-6h0m0-1h0m-1-1h0m0 7h0m-1 1h0m-2-3h0m-1-3h0m-3-2h0m-2-4h0m0 9h0m0 3h0m-1-10h0m0 11h0m-1-2h0m0-1h0m0-8h0m-3 2h0m-2-2h0m-1 9h0m0-5h0m-2-7h0m-5 9h0m-3-7h0m0 2h0m0-3h0m0 2h0m-5-1h0m-1 5h0m-1-7h0m0 2h0m-5 1h0m-1-2h0m-5 4h0m-4-4h0m-7 0h0m-25 3h0m-3-4h0m-6 1h0m-1 0h0m90 17h0m3-2h0m1 13h0m5-5h0m2-1h0m0-3h0m4 1h0m3 7h0m0 1h0m8-11h0m1-1h0m1-1h0m2-1h0m-12 17h0m-13-2h0" stroke="#6cc12a" stroke-width="9.6" stroke-linecap="round" fill="none"/>
<circle cx="334.22" cy="760.61" r="2.6" fill="#111"/>
<text x="334.22" y="761.84" font-size="3.4" fill="#fff" text-anchor="middle">1</text>
<path d="M51 831.5V906.4" stroke="#777" stroke-width="0.6" fill="none"/>
<path d="M51 843.3h-1.8M51 866.3h-1.8M51 889.3h-1.8" stroke="#777" stroke-width="0.6" fill="none"/>
<g font-size="6.7" fill="#444" text-anchor="end">
<text x="48" y="845.7">0</text>
<text x="48" y="868.7">−5</text>
<text x="48" y="891.7">−10</text>
</g>
<text x="87.8" y="830.9" font-size="6.3" text-anchor="middle" fill="#222">VCT_LDHA_2</text>
<path d="M59.26 841.92L61.02 841.37L71.2 841.37L74.3 839.94L76.81 838.84L83.15 838.24L88.31 837.96L92.74 838.47L96.87 839.48L100.85 840.68L104.39 842.01L107.93 843.99L111.62 846.61" stroke="#111" stroke-width="0.85" fill="none" stroke-linejoin="round"/>
<path d="M111.62 846.61L113.39 844.68L115.6 841.92L116.78 840.54" stroke="#111" stroke-width="0.85" fill="none" stroke-linejoin="round"/>
<path d="M111.62 846.61L109.7 864.18L107.78 880.38" stroke="#111" stroke-width="0.85" fill="none" stroke-linejoin="round"/>
<circle cx="111.62" cy="846.61" r="2.6" fill="#111"/>
<text x="111.62" y="847.84" font-size="3.4" fill="#fff" text-anchor="middle">1</text>
<path transform="scale(0.25)" d="M387 3341h0m0 2h0m3 1h0m7-1h0m1 0h0m2 0h0m73 8h0m0 4h0m0-7h0m-1 3h0m0-3h0m0 11h0m-1-12h0m0 3h0m-1 8h0m0-5h0m0 2h0m0 2h0m0-3h0m-1 4h0m-1-5h0m-1 5h0m-1-3h0m0 2h0m-1 2h0m0-5h0m-1 5h0m-46-7h0m-5 6h0m0-7h0m-1-2h0m-9 2h0m-6-2h0m0 9h0m0-7h0m0 4h0m-7-10h0m-6 13h0m-3-4h0m0-5h0m-11 9h0m-3-2h0m-6-11h0m-3 3h0m-6 5h0m-10-8h0m-2 4h0m-11 0h0m-1-1h0m-1 16h0m39 1h0m0-3h0m4-1h0m0 2h0m11-3h0m15 5h0m0-3h0m10-2h0m2 3h0m6-1h0m4 9h0m1-9h0m1 3h0m0 1h0m2 8h0m7 0h0m10-3h0m2 0h0m14-1h0m2 3h0m0-5h0m0 1h0m1 1h0m0-5h0m0 9h0m0-6h0m1 4h0m0-5h0m0 2h0m1 1h0m0 2h0m0-5h0m0-1h0m1 2h0m0 2h0m0-1h0m0-5h0m1-1h0m1 6h0m0-5h0m0 4h0m0-7h0m2 2h0m1-2h0m1 0h0m1 4h0m1-5h0m1 0h0m0 2h0m0-1h0m0 2h0m1-1h0m-17 13h0m0 1h0m-3 4h0m-3 0h0m-8-2h0m-2 5h0m-7-4h0m0 2h0m-2 3h0m19 12h0m1-1h0m0 2h0" stroke="#3ccf5f" stroke-width="9.6" stroke-linecap="round" fill="none"/>
<circle cx="111.62" cy="846.61" r="2.6" fill="#111"/>
<text x="111.62" y="847.84" font-size="3.4" fill="#fff" text-anchor="middle">1</text>
<text x="156" y="830.9" font-size="6.3" text-anchor="middle" fill="#222">VCT_LDHA_1</text>
<path d="M133.45 841.92L135.22 841.37L145.4 841.37L148.5 839.94L151.01 838.84L157.35 838.24L162.51 837.96L166.94 838.47L171.07 839.48L175.05 840.68L178.59 842.01L182.13 843.99L185.82 846.61" stroke="#111" stroke-width="0.85" fill="none" stroke-linejoin="round"/>
<path d="M185.82 846.61L187.59 844.68L189.8 841.92L190.98 840.54" stroke="#111" stroke-width="0.85" fill="none" stroke-linejoin="round"/>
<path d="M185.82 846.61L183.9 864.18L181.98 880.38" stroke="#111" stroke-width="0.85" fill="none" stroke-linejoin="round"/>
<circle cx="185.82" cy="846.61" r="2.6" fill="#111"/>
<text x="185.82" y="847.84" font-size="3.4" fill="#fff" text-anchor="middle">1</text>
<path transform="scale(0.25)" d="M600 3344h0m10-1h0m14-2h0m0 2h0m1-3h0m8 3h0m11-3h0m5 4h0m9-5h0m25 3h0m1 2h0m3 0h0m25 4h0m-6 11h0m-7 0h0m-3-10h0m0 8h0m-2 0h0m0-12h0m-2 4h0m0-3h0m-5 2h0m0 9h0m0-7h0m0 6h0m0 2h0m-4-11h0m-2 7h0m0 2h0m0 2h0m0-3h0m0 2h0m-3-1h0m-1-4h0m0-1h0m0 2h0m-6 4h0m-1-2h0m0 1h0m-3 1h0m0 2h0m0-1h0m-3 1h0m-4-3h0m0-1h0m0 2h0m-2-7h0m-2 9h0m0-8h0m-1-4h0m0 1h0m-1 0h0m0 2h0m-1 5h0m-1-6h0m0 2h0m-2 6h0m-1-11h0m0 13h0m0-12h0m-3 3h0m0-5h0m0 1h0m-1 3h0m0 9h0m0-8h0m0 2h0m-1 2h0m0-7h0m0 2h0m0 9h0m0-10h0m-2 2h0m0 7h0m0 1h0m-1-10h0m0 9h0m-1-2h0m0-3h0m0 7h0m0-3h0m0-7h0m-2 10h0m0-3h0m-1-1h0m-1 3h0m-1-3h0m-2 4h0m0-3h0m-1-3h0m-2-2h0m-1 2h0m-1-7h0m0 4h0m-2 0h0m0 4h0m-1-8h0m0 2h0m-1 4h0m0 1h0m0 2h0m0-5h0m-6 1h0m-1-1h0m0 2h0m-5-4h0m0-3h0m0 9h0m-1-8h0m-4 1h0m0 9h0m0-3h0m0-3h0m-1 9h0m-1-7h0m0 6h0m0-5h0m-2-4h0m0 1h0m-1-2h0m0 2h0m-1-5h0m0 9h0m-1-5h0m0-1h0m-1-3h0m-6 12h0m-7 1h0m-2-6h0m-2 7h0m-2-5h0m-1-4h0m-3 5h0m0-5h0m-2 3h0m-2 3h0m-1-2h0m-1-1h0m-1 1h0m0 1h0m-4-2h0m-1 1h0m-5 0h0m-3 1h0m-6 0h0m-1 2h0m-28 8h0m5-5h0m6 14h0m16-6h0m1-6h0m0 6h0m9 1h0m1-1h0m3 1h0m2-4h0m0-3h0m1 10h0m0-6h0m2 2h0m2-1h0m0 4h0m2-2h0m0-7h0m9-2h0m1 4h0m2 10h0m0-12h0m0 3h0m1-4h0m1 11h0m2-5h0m0-6h0m0-1h0m9 2h0m3-1h0m0 13h0m0-12h0m1-1h0m4 1h0m10 0h0m3-2h0m4 3h0m3 1h0m1-3h0m1 10h0m1 2h0m4-11h0m0 6h0m1-8h0m2 0h0m1 1h0m0-1h0m10 2h0m1-2h0m0 2h0m8-2h0m2 0h0m0 2h0m4-1h0m3 3h0m0-4h0m1 6h0m2-5h0m1 6h0m11-6h0m3 0h0m0-1h0m6 0h0m0 4h0m7-3h0m2 2h0m3-3h0m0 4h0m11 8h0m5-9h0m2-3h0m-69 19h0m0 4h0m-4-6h0m0 4h0m-14 2h0m0-6h0m-42 4h0m-1 1h0m-6-7h0m-7 5h0m-3-1h0m-9 4h0m-4-7h0m-3 6h0m-2-2h0m-28 2h0m-3-4h0m223 14h0" stroke="#5cd9b2" stroke-width="9.6" stroke-linecap="round" fill="none"/>
<circle cx="185.82" cy="846.61" r="2.6" fill="#111"/>
<text x="185.82" y="847.84" font-size="3.4" fill="#fff" text-anchor="middle">1</text>
<text x="229.9" y="830.9" font-size="6.3" text-anchor="middle" fill="#222">VCT_TP63_4</text>
<path d="M207.66 841.92L209.43 841.37L219.6 841.37L222.7 839.94L225.21 838.84L231.55 838.24L236.71 837.96L241.14 838.47L245.27 839.48L249.25 840.68L252.79 842.01L256.33 843.99L260.02 846.61" stroke="#111" stroke-width="0.85" fill="none" stroke-linejoin="round"/>
<path d="M260.02 846.61L261.79 844.68L264 841.92L265.18 840.54" stroke="#111" stroke-width="0.85" fill="none" stroke-linejoin="round"/>
<path d="M260.02 846.61L258.1 864.18L256.18 880.38" stroke="#111" stroke-width="0.85" fill="none" stroke-linejoin="round"/>
<circle cx="260.02" cy="846.61" r="2.6" fill="#111"/>
<text x="260.02" y="847.84" font-size="3.4" fill="#fff" text-anchor="middle">1</text>
<path transform="scale(0.25)" d="M955 3355h0m-14 2h0m-1-2h0m-19-3h0m0 6h0m-12 0h0m-2-3h0m-1 3h0m-8 1h0m-18 0h0m-73 14h0m6-4h0m1 1h0m2-5h0m3 7h0m3-4h0m0-5h0m1-1h0m1 12h0m1-6h0m1 3h0m0-5h0m1 3h0m1-4h0m0-1h0m1 4h0m3-3h0m12 7h0m0-1h0m0-5h0m0 8h0m0-5h0m2 4h0m0-1h0m0-1h0m0-6h0m2 6h0m1-4h0m1 3h0m0-1h0m0 4h0m0-5h0m1 4h0m2-6h0m0 4h0m0 4h0m0-11h0m1 2h0m1 5h0m4-2h0m0-2h0m0 4h0m0 4h0m1-7h0m2 5h0m1-6h0m1 6h0m0-2h0m0-1h0m0 4h0m0-5h0m2-3h0m0 9h0m0-1h0m1-11h0m2 2h0m0 4h0m1 5h0m0-6h0m1 7h0m0-3h0m0-5h0m2-1h0m0 9h0m0-7h0m0 4h0m3 3h0m0-2h0m0-10h0m0 3h0m2 6h0m2-1h0m0 4h0m0-14h0m0 9h0m0-5h0m0 4h0m0-5h0m2 5h0m0 4h0m0-5h0m1 4h0m0 3h0m0-1h0m13-7h0m1 3h0m0-3h0m3 3h0m0 3h0m0-6h0m0-5h0m0 4h0m0-5h0m1 0h0m1 7h0m0 4h0m0-5h0m0-2h0m1 7h0m0-5h0m4 3h0m0-5h0m0-1h0m2-2h0m0 8h0m1-4h0m0-5h0m1 9h0m0-2h0m3 5h0m0-1h0m0-1h0m4 3h0m0-1h0m3-7h0m0-5h0m2 11h0m0-5h0m1 4h0m1-5h0m1 2h0m2 7h0m2-11h0m2 4h0m5-2h0m2 0h0m0-5h0m1 4h0m0-1h0m1 8h0m0-10h0m0 3h0m1 9h0m0-5h0m0-5h0m1 0h0m2 11h0m6-11h0m0 6h0m4-9h0m0 2h0m-10 20h0m-1-3h0m-12-2h0m-2 3h0m-3 3h0m0 5h0m-1-13h0m-5 0h0m-37 12h0m0-1h0m0-5h0m0-1h0m0 9h0m-1-6h0m-1 1h0m0 4h0m0-3h0m-1-8h0m-1 8h0m0 3h0m0-5h0m-1 0h0m0 4h0m0-10h0m0 8h0m0 4h0m0-10h0m-1 3h0m0 7h0m0-10h0m-1 10h0m-1-12h0m-3 5h0m0-7h0m-2 8h0m-2 3h0m0-5h0m0-1h0m0-1h0m0-1h0m0 9h0m0-5h0m-1 5h0m0-11h0m0 4h0m-2 5h0m0 4h0m0-1h0m0-2h0m-1-8h0m0 9h0m-1-1h0m0-11h0m0 4h0m-2 9h0m0-5h0m0-6h0m0 8h0m0 4h0m0-5h0m-1-5h0m0 9h0m-1-9h0m-1 8h0m0-5h0m0 4h0m-1 2h0m0-1h0m0-1h0m-2 3h0m0-11h0m-1 2h0m0-5h0m0 3h0m0-1h0m0 9h0m-2-1h0m0-5h0m0 9h0m0-10h0m0 9h0m0-6h0m-1-3h0m0-2h0m0 8h0m0-5h0m0 9h0m-1-2h0m0-3h0m-1 2h0m0-10h0m0 9h0m0-5h0m0-5h0m0 8h0m-2-1h0m0-7h0m-1 3h0m-1 9h0m0-5h0m0-2h0m0-5h0m-2 1h0m-8 13h0m-1-11h0m0 4h0m-1 2h0m-1 0h0m-1 5h0m-2-3h0m0-10h0m-1 4h0m0-5h0m0 12h0m-3-3h0m-2-1h0m0 4h0m-2-8h0m0 9h0m-2 1h0m-1-11h0m0-3h0m-2 0h0m-3 4h0m-4 0h0m1 12h0m3 7h0m2-1h0m0-6h0m0-1h0m0 8h0m2-7h0m1 3h0m3 0h0m2 2h0m0-1h0m1-3h0m1 2h0m0-1h0m6 0h0m1 1h0m17 6h0m0-10h0m0 9h0m0-6h0m0-2h0m1 4h0m1 2h0m0-5h0m0 4h0m0-6h0m1 4h0m0-1h0m0 9h0m0-5h0m0 3h0m2-9h0m3 9h0m0-10h0m0 4h0m0 4h0m0-5h0m0-1h0m0 4h0m1 0h0m0-5h0m0 4h0m0-5h0m1 11h0m0-11h0m1 9h0m0 4h0m0-6h0m0 3h0m1-8h0m0 6h0m4-8h0m1 0h0m0 4h0m4-3h0m0 4h0m0-5h0m1 0h0m1 3h0m0 4h0m0-2h0m4-5h0m0 2h0m2 0h0m0 1h0m1 5h0m2 4h0m0-6h0m0-5h0m0 13h0m0-5h0m0-5h0m0 9h0m1-8h0m0 3h0m0 4h0m0-6h0m1 6h0m0-6h0m0 4h0m0 4h0m0-10h0m0 9h0m1-13h0m0 9h0m0 4h0m0-11h0m0 4h0m0-5h0m0 16h0m0-2h0m-3 0h0m127 139h0m3 11h0" stroke="#55cbe4" stroke-width="9.6" stroke-linecap="round" fill="none"/>
<circle cx="260.02" cy="846.61" r="2.6" fill="#111"/>
<text x="260.02" y="847.84" font-size="3.4" fill="#fff" text-anchor="middle">1</text>
<text x="304.5" y="830.9" font-size="6.3" text-anchor="middle" fill="#222">VCT_TP63_3</text>
<path d="M281.86 841.92L283.62 841.37L293.8 841.37L296.9 839.94L299.41 838.84L305.75 838.24L310.91 837.96L315.34 838.47L319.47 839.48L323.45 840.68L326.99 842.01L330.53 843.99L334.22 846.61" stroke="#111" stroke-width="0.85" fill="none" stroke-linejoin="round"/>
<path d="M334.22 846.61L335.99 844.68L338.2 841.92L339.38 840.54" stroke="#111" stroke-width="0.85" fill="none" stroke-linejoin="round"/>
<path d="M334.22 846.61L332.3 864.18L330.38 880.38" stroke="#111" stroke-width="0.85" fill="none" stroke-linejoin="round"/>
<circle cx="334.22" cy="846.61" r="2.6" fill="#111"/>
<text x="334.22" y="847.84" font-size="3.4" fill="#fff" text-anchor="middle">1</text>
<path transform="scale(0.25)" d="M1193 3343h0m2 1h0m1-1h0m1 1h0m5-1h0m1 1h0m0-1h0m1 1h0m26 0h0m7-1h0m2 1h0m9 0h0m4-5h0m56 18h0m-17-12h0m-2 3h0m0 4h0m-8-5h0m-4 2h0m-2 9h0m-4 0h0m0-10h0m-7 6h0m-3 5h0m-1-4h0m-2-2h0m-1-1h0m-3 2h0m-1-2h0m0 7h0m0-6h0m-5-2h0m0-5h0m0 9h0m0-10h0m0 13h0m-5-13h0m0 12h0m0-7h0m-1 1h0m0 4h0m-2-6h0m0 4h0m0-5h0m0 7h0m-1 1h0m0 2h0m-1-1h0m-1-10h0m-1 9h0m0-10h0m-1 6h0m-1 0h0m0-2h0m0 4h0m0-1h0m-2 6h0m0-2h0m0-2h0m-1-4h0m0 8h0m0-10h0m-1 0h0m0 9h0m0-10h0m0 2h0m0-5h0m-1 4h0m0 9h0m0-5h0m-2 5h0m0-1h0m0-1h0m-1-7h0m0 4h0m-1-5h0m-1-3h0m-1 6h0m0-5h0m0 3h0m-1 7h0m0-5h0m-2 8h0m0-5h0m0-1h0m-2-1h0m0-1h0m0-1h0m-3 1h0m-4 2h0m0 4h0m0-5h0m0 4h0m-3-5h0m-1 6h0m0-1h0m0 2h0m-1-12h0m0 7h0m0-1h0m-1 2h0m0 1h0m-1-3h0m0 4h0m0-5h0m0 4h0m0-6h0m-1 7h0m-1-11h0m-2 5h0m0 2h0m0 4h0m0-1h0m-1-7h0m0 8h0m0-5h0m-1 4h0m-1 3h0m0-10h0m0 3h0m-1 1h0m-1-3h0m0 4h0m0-6h0m0 4h0m-1 1h0m-1 5h0m0-6h0m0-5h0m0 4h0m-14 5h0m0-1h0m-1 0h0m0 4h0m-1-1h0m0-1h0m-2-2h0m0 3h0m0-2h0m0 4h0m-1-3h0m0-6h0m-1 4h0m0 4h0m0-10h0m-3 6h0m0-2h0m0 4h0m-1-4h0m0 2h0m-1 1h0m-1 3h0m0-3h0m-1-3h0m0 6h0m-2 0h0m0-6h0m0 3h0m-1 0h0m-2 2h0m0-2h0m-2 0h0m-1 2h0m-1-6h0m-5 5h0m0 2h0m-1-1h0m-2-1h0m-1 0h0m-1 1h0m-2 1h0m0-2h0m-2-1h0m0 1h0m-2-2h0m0-5h0m0 9h0m0-5h0m-8 1h0m-5 1h0m-3-3h0m-2 1h0m0 4h0m-3-5h0m0 3h0m0-1h0m-3 5h0m-2-6h0m-1 0h0m0-1h0m0 2h0m-2 5h0m-2-1h0m-7 11h0m1-7h0m2 5h0m0 7h0m0-5h0m0 4h0m0-10h0m2 1h0m1-3h0m2 4h0m1 7h0m3-5h0m0-5h0m2 12h0m1-2h0m1 2h0m1-14h0m0 9h0m0 4h0m1-4h0m1-7h0m1 6h0m1-8h0m1 1h0m0 9h0m0 3h0m2 0h0m0-5h0m1 1h0m1-3h0m2-5h0m0 4h0m1 9h0m0-8h0m1-1h0m8-2h0m1-1h0m0 4h0m1-3h0m0-1h0m1 0h0m0 12h0m0-10h0m1 1h0m0 4h0m0 4h0m1 1h0m0-6h0m0-6h0m1 0h0m0-2h0m0 14h0m1-1h0m0-11h0m0 4h0m0-6h0m1 10h0m1 3h0m0-6h0m2 2h0m0-6h0m4-1h0m0-1h0m0 4h0m1 0h0m0-5h0m0 4h0m0-2h0m1 0h0m1 7h0m0 2h0m0-5h0m0-5h0m1 8h0m1-5h0m1 9h0m1-7h0m0 3h0m0-2h0m1 2h0m0-5h0m0 9h0m1-10h0m1-2h0m0 12h0m0-5h0m0 4h0m1-7h0m1 9h0m0-3h0m0-10h0m2 2h0m3 8h0m0-10h0m0 4h0m1-4h0m1 2h0m0 4h0m0 7h0m0-14h0m2 5h0m0-2h0m0 9h0m1-8h0m0 9h0m0-1h0m0-7h0m1-5h0m0 12h0m0-1h0m1-10h0m0 3h0m0 3h0m1 4h0m12-9h0m0-1h0m0-1h0m4 0h0m17 3h0m1-2h0m0 1h0m3-2h0m7 2h0m3 3h0m2-3h0m0 2h0m1 1h0m0-2h0m1-2h0m1-1h0m2 3h0m4-1h0m11 0h0m7 4h0m3-3h0m0-1h0m1 6h0m14-7h0m21 8h0m4-4h0m2-5h0m2 0h0m8 8h0m0-5h0m6 6h0m5 5h0m7 0h0m1-4h0m-1 5h0m-7 7h0m-135-1h0m-7 7h0m-1-5h0m-3-7h0m0 9h0m-2-5h0m0-5h0m-1 13h0m0-1h0m-8-11h0m-1 1h0m0 3h0m-2 8h0m0-2h0m0-1h0m-1-3h0m0-1h0m0 4h0m0-10h0m-2 13h0m-1-5h0m0-1h0m0-7h0m-1 14h0m-2-6h0m0-5h0m-1-1h0m-4 0h0m0-2h0m-1 0h0m-1 4h0m-1 1h0m0-5h0m0 4h0m0 4h0m-1-3h0m0-5h0m-1 11h0m0-5h0m0 4h0m-1-4h0m0-3h0m-13 2h0m-1-1h0m0 3h0m0-5h0m-1 2h0m-1-2h0m-1-1h0m-1 1h0m0-1h0m-4 9h0m-1-2h0m0-7h0m0-1h0m-2 3h0m-3-3h0m-1 1h0m-1 4h0m-1 0h0m0-2h0m-2 5h0m-1-5h0m0 4h0m-1-4h0m-2 3h0m0-5h0m-2 4h0m0-2h0m-1-1h0m42 18h0m0-1h0m0-1h0m0 4h0m5-7h0m3 7h0m2-7h0m1 12h0m0-11h0m5-1h0m18 12h0m0-3h0m-2 6h0" stroke="#4aaef8" stroke-width="9.6" stroke-linecap="round" fill="none"/>
<circle cx="334.22" cy="846.61" r="2.6" fill="#111"/>
<text x="334.22" y="847.84" font-size="3.4" fill="#fff" text-anchor="middle">1</text>
<path d="M51 917.5V992.4" stroke="#777" stroke-width="0.6" fill="none"/>
<path d="M51 929.3h-1.8M51 952.3h-1.8M51 975.3h-1.8" stroke="#777" stroke-width="0.6" fill="none"/>
<g font-size="6.7" fill="#444" text-anchor="end">
<text x="48" y="931.7">0</text>
<text x="48" y="954.7">−5</text>
<text x="48" y="977.7">−10</text>
</g>
<text x="84.5" y="917" font-size="6.3" text-anchor="middle" fill="#222">VCT_TP63_5</text>
<path d="M59.26 927.92L61.02 927.37L71.2 927.37L74.3 925.94L76.81 924.84L83.15 924.24L88.31 923.96L92.74 924.47L96.87 925.48L100.85 926.68L104.39 928.01L107.93 929.99L111.62 932.61" stroke="#111" stroke-width="0.85" fill="none" stroke-linejoin="round"/>
<path d="M111.62 932.61L113.39 930.68L115.6 927.92L116.78 926.54" stroke="#111" stroke-width="0.85" fill="none" stroke-linejoin="round"/>
<path d="M111.62 932.61L109.7 950.18L107.78 966.38" stroke="#111" stroke-width="0.85" fill="none" stroke-linejoin="round"/>
<circle cx="111.62" cy="932.61" r="2.6" fill="#111"/>
<text x="111.62" y="933.84" font-size="3.4" fill="#fff" text-anchor="middle">1</text>
<path transform="scale(0.25)" d="M403 3686h0m-6 2h0m0-1h0m0-1h0m-1 0h0m-1 3h0m-5-4h0m-41 4h0m-2-4h0m-10 3h0m-1 0h0m-3 1h0m-6-1h0m-12-1h0m0 1h0m-1 0h0m-1 1h0m-1-2h0m-5 1h0m-1 1h0m0-2h0m-3 0h0m-83 17h0m2-3h0m1 2h0m2-2h0m0-1h0m1-4h0m0 8h0m1 0h0m1-7h0m1 2h0m0-2h0m2-1h0m1 5h0m2 1h0m4-1h0m1 0h0m1-3h0m0 2h0m2-2h0m9-4h0m0 8h0m4-1h0m1 3h0m1-1h0m1-2h0m0 3h0m2-2h0m0-5h0m1 4h0m0 2h0m1-3h0m4-4h0m1 6h0m1-4h0m1 3h0m0-4h0m2 5h0m1 0h0m0-1h0m0-2h0m2 2h0m0-1h0m0 4h0m0-7h0m1 0h0m0 7h0m3-5h0m1-2h0m1 0h0m3 4h0m0-2h0m0-5h0m4 7h0m1 0h0m0 2h0m0-1h0m14-4h0m1-4h0m0 9h0m0-6h0m0-2h0m0 1h0m1 2h0m1-5h0m1 7h0m0-5h0m0 9h0m0-6h0m0 4h0m0-5h0m0-5h0m0 9h0m1 0h0m0-5h0m1-3h0m0 3h0m0-5h0m1 3h0m1-1h0m0 9h0m0-6h0m0 4h0m0-1h0m0-5h0m0 4h0m3 3h0m0-5h0m0 3h0m1-6h0m1-2h0m0 2h0m0 8h0m1-8h0m0 1h0m1 1h0m0-1h0m0 9h0m0-5h0m0-5h0m0 4h0m4-1h0m2-2h0m1 9h0m0-5h0m0-5h0m0 3h0m0 4h0m4-7h0m1-2h0m0 9h0m0 3h0m4-4h0m0-5h0m0-2h0m2 9h0m0 3h0m1-9h0m0 8h0m0-2h0m1 0h0m0 3h0m0-5h0m1-2h0m0 4h0m0-7h0m1 3h0m1 1h0m0 3h0m0-1h0m0-5h0m1 2h0m1 3h0m0-10h0m0 2h0m1 9h0m0-6h0m1 9h0m2-4h0m1-9h0m0 8h0m0 4h0m0-5h0m0 4h0m0-5h0m0-5h0m2 11h0m0-10h0m0-1h0m0 8h0m0-1h0m7-1h0m0-5h0m1-1h0m1 7h0m0-5h0m0-3h0m1 12h0m0-9h0m1 8h0m0-1h0m0-5h0m1-6h0m2 10h0m0-1h0m4 2h0m0-7h0m3 10h0m11-3h0m0-1h0m0-5h0m0 3h0m3 1h0m1 2h0m6-9h0m6 10h0m0-1h0m1-1h0m1-5h0m3 0h0m0 9h0m1-6h0m10 2h0m0-1h0m1 0h0m1 5h0m3-1h0m0-6h0m1-1h0m45 5h0m3-1h0m1 2h0m1-1h0m2-9h0m0 6h0m3-4h0m-5 13h0m-3 0h0m-1-1h0m0-1h0m0 4h0m-1 1h0m-8 4h0m-17 1h0m-8 0h0m-9-1h0m-3 1h0m0-7h0m-4 1h0m0-3h0m0-1h0m-2 6h0m-3 5h0m-1-4h0m-10-7h0m-3 2h0m-12 0h0m-1-2h0m-12 0h0m-1 6h0m0-5h0m0 7h0m-3-3h0m0-2h0m-1-2h0m-3-1h0m-5 13h0m0-6h0m0 4h0m-1-3h0m-10-1h0m-3-7h0m-4 2h0m0-1h0m-3 13h0m-7-2h0m-2-12h0m0 3h0m0-2h0m-4 0h0m0-1h0m-21 1h0m0-1h0m-3 13h0m-2-1h0m-10-7h0m0 9h0m0-1h0m0-5h0m0 4h0m-2-9h0m0 9h0m0-7h0m0-5h0m-2 8h0m-1-1h0m0 2h0m0-1h0m-1-3h0m0 4h0m-2-2h0m-1-6h0m-1 4h0m-1 0h0m0 8h0m0-5h0m0 4h0m0-5h0m-1-3h0m0-3h0m-2 13h0m0-11h0m-1-2h0m-1 1h0m0 9h0m0-1h0m0-10h0m0 9h0m-1-6h0m-4 9h0m0-1h0m0-1h0m-1-10h0m-1 3h0m0 8h0m0-10h0m0 4h0m0 9h0m0-14h0m-4 14h0m0-10h0m-1 8h0m0-10h0m0-1h0m-2 0h0m0 12h0m0-1h0m0-10h0m-1 10h0m-1-1h0m0 3h0m-1-10h0m0 3h0m-1 1h0m0 2h0m0-6h0m-1 3h0m-10 7h0m-1-4h0m-1 2h0m0-6h0m-3 1h0m-4 2h0m-1-2h0m-1 6h0m-1-9h0m-1 3h0m-2-4h0m-2 5h0m0-3h0m-1 7h0m0-1h0m-1 0h0m0-11h0m-1 2h0m-1-2h0m0 2h0m-1 7h0m-2-6h0m-2-2h0m-1 4h0m-1 2h0m0-6h0m-1 4h0m0-2h0m4 14h0m2-1h0m1 0h0m3 2h0m0 5h0m1-5h0m0-1h0m2 7h0m0-6h0m2-2h0m0-1h0m2 4h0m1 2h0m3-4h0m0-1h0m4-1h0m0 7h0m0-1h0m1-5h0m2 0h0m0 4h0m12-1h0m1-2h0m3 3h0m0 3h0m3-5h0m1 0h0m3-1h0m0 9h0m0-1h0m2 2h0m1-1h0m1-8h0m3 7h0m0-7h0m2 1h0m0-1h0m3-3h0m2 1h0m4 10h0m1-6h0m1-5h0m1 7h0m0-1h0m0 7h0m1-12h0m3 5h0m0-6h0m2 9h0m9-8h0m32 10h0m0 2h0m15-6h0m0-1h0m0-1h0m2-5h0m1 1h0m0 4h0m81 0h0m2 3h0m0-8h0m6 3h0m2 2h0m13-5h0m-163 20h0m-3 6h0m-22-3h0m0-6h0m-7 6h0m-1-5h0m0 4h0m-3 0h0m0 4h0" stroke="#b78aff" stroke-width="9.6" stroke-linecap="round" fill="none"/>
<circle cx="111.62" cy="932.61" r="2.6" fill="#111"/>
<text x="111.62" y="933.84" font-size="3.4" fill="#fff" text-anchor="middle">1</text>
<text x="158.8" y="917" font-size="6.3" text-anchor="middle" fill="#222">VCT_TP63_2</text>
<path d="M133.45 927.92L135.22 927.37L145.4 927.37L148.5 925.94L151.01 924.84L157.35 924.24L162.51 923.96L166.94 924.47L171.07 925.48L175.05 926.68L178.59 928.01L182.13 929.99L185.82 932.61" stroke="#111" stroke-width="0.85" fill="none" stroke-linejoin="round"/>
<path d="M185.82 932.61L187.59 930.68L189.8 927.92L190.98 926.54" stroke="#111" stroke-width="0.85" fill="none" stroke-linejoin="round"/>
<path d="M185.82 932.61L183.9 950.18L181.98 966.38" stroke="#111" stroke-width="0.85" fill="none" stroke-linejoin="round"/>
<circle cx="185.82" cy="932.61" r="2.6" fill="#111"/>
<text x="185.82" y="933.84" font-size="3.4" fill="#fff" text-anchor="middle">1</text>
<path transform="scale(0.25)" d="M513 3701h0m1-1h0m0 3h0m1 0h0m1 0h0m0-3h0m2-2h0m1 2h0m0-3h0m2 5h0m0-6h0m0 4h0m1 2h0m1 0h0m1 1h0m1-7h0m0 3h0m0-1h0m1 0h0m0 4h0m0-7h0m1 2h0m1 4h0m0-1h0m0 4h0m0-5h0m1 0h0m1 0h0m1-1h0m0-1h0m1 2h0m0 2h0m0 3h0m1-5h0m0 3h0m0-5h0m1 6h0m1 0h0m0-1h0m1-2h0m0 4h0m0-5h0m0-1h0m1 5h0m0-1h0m0-1h0m1-2h0m0 4h0m1 0h0m8-3h0m1-5h0m3 6h0m6 1h0m6-4h0m8-2h0m0-1h0m5 4h0m0-1h0m1 2h0m3 1h0m4-3h0m1 5h0m16-7h0m2 1h0m2-4h0m0-2h0m0-1h0m2 2h0m7 6h0m6-1h0m1 1h0m0 7h0m-35 5h0m-6-2h0m-6-1h0m-1 6h0m-1 3h0m0-11h0m-1 2h0m-1 2h0m-1 10h0m0-5h0m-2-3h0m-1-2h0m-3 3h0m-1 3h0m0 4h0m-7-4h0m0-5h0m0-2h0m-2 2h0m-1-3h0m-1 4h0m0 3h0m-1-1h0m0-6h0m-1 10h0m0-11h0m-1 3h0m-1-3h0m0 1h0m0 4h0m-7 6h0m-1 0h0m-1-3h0m0-6h0m0 3h0m0-5h0m0 9h0m-1 3h0m0-5h0m0-7h0m-1 4h0m0 9h0m0-14h0m0 9h0m0-6h0m0 4h0m0-5h0m-1 0h0m0-1h0m0 9h0m-1 2h0m0-6h0m0-5h0m-1 9h0m0-10h0m0 9h0m0 4h0m-1 0h0m0-1h0m0-10h0m0 9h0m0-5h0m0-1h0m-1 1h0m0 4h0m0-5h0m0 9h0m0-5h0m0-5h0m0 9h0m-1-12h0m0 9h0m0-5h0m0 6h0m0-5h0m-1-4h0m0 9h0m0-11h0m-1 1h0m0 9h0m0-6h0m0 3h0m-1 6h0m0-11h0m0 9h0m0-6h0m0-5h0m-1 13h0m0-8h0m-1 5h0m0-5h0m0 9h0m0-5h0m0-5h0m0 8h0m-1 0h0m0-10h0m0 9h0m0-1h0m0 4h0m-1-12h0m0 9h0m0-10h0m0 9h0m0-10h0m0 13h0m-1-3h0m0-10h0m0 4h0m0 3h0m0-5h0m0 9h0m0-5h0m-1 0h0m0 8h0m-1-13h0m0-1h0m0 4h0m0 4h0m-1-4h0m0 3h0m0 4h0m0-1h0m0 4h0m-1-1h0m0-2h0m0 3h0m0-14h0m-1 8h0m0-2h0m-1 6h0m0-10h0m0 4h0m-1 3h0m-1-3h0m0 3h0m0-5h0m0 9h0m0-6h0m-1-6h0m0-1h0m-1 2h0m0-1h0m0 13h0m0-11h0m0 4h0m-1 7h0m0-11h0m0 8h0m0-10h0m-1 9h0m-1 0h0m2 5h0m1 2h0m0-1h0m1 1h0m0-2h0m1 4h0m1 2h0m0-1h0m1-3h0m0 4h0m0-5h0m0 3h0m1-3h0m1 5h0m0-5h0m0 13h0m0-14h0m0 4h0m1 3h0m0-6h0m0 13h0m0-14h0m1 4h0m0-1h0m0 3h0m1-5h0m0 7h0m1-4h0m0 4h0m0-5h0m0 3h0m1-1h0m0 1h0m1 6h0m0-12h0m1 14h0m1-7h0m0-6h0m0-1h0m0 9h0m1-3h0m0-6h0m0 9h0m0 4h0m1-4h0m0-8h0m1 6h0m0-7h0m1 8h0m1-1h0m1 1h0m1-3h0m0-1h0m0 3h0m0-1h0m1-4h0m0 4h0m0-6h0m0 8h0m0-5h0m1 2h0m1-1h0m0-3h0m1 1h0m0 4h0m0-2h0m1-2h0m0-1h0m0 3h0m1 0h0m0 2h0m1-5h0m13 12h0m1-3h0m0-10h0m0 4h0m0 4h0m4 1h0m1-8h0m2 12h0m1-6h0m0-5h0m0 6h0m0 4h0m2 2h0m1-7h0m0-4h0m1 0h0m0 8h0m3-2h0m0 4h0m0-2h0m0-1h0m0-5h0m4-5h0m7 12h0m0-1h0m3-1h0m0-10h0m5 10h0m0 17h0m0-6h0m0-5h0m-3 7h0m0 1h0m-21-1h0m0-6h0m-8 6h0m-3 1h0m0 2h0m-24-11h0m-7 4h0m0 9h0m0-7h0m-2 5h0m0-5h0m-1 0h0m-1-3h0m-1 3h0m-2-2h0m0-2h0m0 4h0m0 11h0m0-1h0m7 1h0m22 0h0m1 1h0m0 3h0m0-5h0m0-1h0m2 3h0m171 139h0" stroke="#ef6ceb" stroke-width="9.6" stroke-linecap="round" fill="none"/>
<circle cx="185.82" cy="932.61" r="2.6" fill="#111"/>
<text x="185.82" y="933.84" font-size="3.4" fill="#fff" text-anchor="middle">1</text>
<text x="236.3" y="917" font-size="6.3" text-anchor="middle" fill="#222">VCT_TP63_1</text>
<path d="M207.66 927.92L209.43 927.37L219.6 927.37L222.7 925.94L225.21 924.84L231.55 924.24L236.71 923.96L241.14 924.47L245.27 925.48L249.25 926.68L252.79 928.01L256.33 929.99L260.02 932.61" stroke="#111" stroke-width="0.85" fill="none" stroke-linejoin="round"/>
<path d="M260.02 932.61L261.79 930.68L264 927.92L265.18 926.54" stroke="#111" stroke-width="0.85" fill="none" stroke-linejoin="round"/>
<path d="M260.02 932.61L258.1 950.18L256.18 966.38" stroke="#111" stroke-width="0.85" fill="none" stroke-linejoin="round"/>
<circle cx="260.02" cy="932.61" r="2.6" fill="#111"/>
<text x="260.02" y="933.84" font-size="3.4" fill="#fff" text-anchor="middle">1</text>
<path transform="scale(0.25)" d="M807 3704h0m4-2h0m1-1h0m0 2h0m1-1h0m0 2h0m1-2h0m0-3h0m0 4h0m1-5h0m0 1h0m1-2h0m1 1h0m1 3h0m1 2h0m1-5h0m0 2h0m1 0h0m1-1h0m0-1h0m0 4h0m1 1h0m0-5h0m0 4h0m0-3h0m1 2h0m0-5h0m0 1h0m1 4h0m1-2h0m0 2h0m0-1h0m1-4h0m2 8h0m0-3h0m1 2h0m0-3h0m1 2h0m1 1h0m0-2h0m1 3h0m1-3h0m0-3h0m1 0h0m0 2h0m1 2h0m0-1h0m12 0h0m14-4h0m4 0h0m1-2h0m4 2h0m9 11h0m-21 2h0m-8-5h0m-1 3h0m-2 7h0m-4-6h0m-8 7h0m0-5h0m0-3h0m-1 5h0m0-7h0m-1 8h0m0-1h0m-1-1h0m0 2h0m0 4h0m0-7h0m-1 6h0m0-7h0m-1-3h0m0 11h0m0-7h0m0 6h0m0-3h0m-1-4h0m0 2h0m0 4h0m0-7h0m-1 9h0m0-7h0m0 6h0m-1-9h0m0 6h0m0 4h0m0-3h0m-2-4h0m0-5h0m0 13h0m0-12h0m-2 12h0m0-3h0m0-5h0m0-5h0m-1 4h0m0 1h0m-1-1h0m-1-3h0m0 4h0m0 6h0m-1-7h0m-1-4h0m0 9h0m0-1h0m-1 4h0m0-7h0m0-3h0m0 11h0m0-7h0m-1-2h0m0 4h0m0 2h0m0-7h0m-1 9h0m0-7h0m0-5h0m0 9h0m0-5h0m0 4h0m-1 0h0m0-7h0m0 2h0m0-3h0m-1 12h0m0 1h0m-1-13h0m0 6h0m0 6h0m-1-12h0m0 11h0m0-1h0m-1-7h0m0 9h0m0-5h0m-1-8h0m0 8h0m0-7h0m0 2h0m0 11h0m-1-7h0m0-3h0m-1 7h0m0 2h0m0-7h0m-1 2h0m0-5h0m0 2h0m-1 5h0m2 5h0m1 0h0m2 2h0m0-1h0m0-1h0m1 0h0m0 13h0m1-9h0m0 3h0m3 0h0m0-5h0m0 2h0m1-1h0m1 4h0m1 3h0m1-3h0m0-3h0m0 2h0m1-3h0m0 2h0m0-5h0m1 0h0m0 2h0m0 2h0m0 9h0m0-5h0m0-7h0m1 7h0m0-7h0m0 4h0m1 0h0m1-4h0m1 8h0m1-8h0m1 7h0m0-5h0m1 4h0m0-7h0m0 2h0m0 1h0m1-1h0m0 1h0m1-1h0m0 6h0m1-4h0m0-1h0m1 2h0m0-3h0m1 1h0m1 0h0m0 1h0m1-2h0m0 2h0m12-3h0m18 5h0m158-1h0m4-5h0m14 9h0m-223 13h0m0-2h0m-1 4h0m-4-5h0m0-4h0m-2 18h0m2 2h0m5-5h0" stroke="#fb68b6" stroke-width="9.6" stroke-linecap="round" fill="none"/>
<circle cx="260.02" cy="932.61" r="2.6" fill="#111"/>
<text x="260.02" y="933.84" font-size="3.4" fill="#fff" text-anchor="middle">1</text>
<path d="M49.4 993.3H271.5M273.5 907.6H345" stroke="#777" stroke-width="0.6" fill="none"/>
<g font-size="6.2" fill="#444" text-anchor="middle">
<text x="62.5" y="1000.9">−20</text>
<text x="77.25" y="1000.9">−10</text>
<text x="92" y="1000.9">0</text>
<text x="106.75" y="1000.9">10</text>
<text x="121.5" y="1000.9">20</text>
<text x="136.7" y="1000.9">−20</text>
<text x="151.45" y="1000.9">−10</text>
<text x="166.2" y="1000.9">0</text>
<text x="180.95" y="1000.9">10</text>
<text x="195.7" y="1000.9">20</text>
<text x="210.9" y="1000.9">−20</text>
<text x="225.65" y="1000.9">−10</text>
<text x="240.4" y="1000.9">0</text>
<text x="255.15" y="1000.9">10</text>
<text x="269.9" y="1000.9">20</text>
<text x="285.1" y="915.2">−20</text>
<text x="299.85" y="915.2">−10</text>
<text x="314.6" y="915.2">0</text>
<text x="329.35" y="915.2">10</text>
<text x="344.1" y="915.2">20</text>
</g>
<path d="M62.5 993.3v1.8M77.25 993.3v1.8M92 993.3v1.8M106.75 993.3v1.8M121.5 993.3v1.8M136.7 993.3v1.8M151.45 993.3v1.8M166.2 993.3v1.8M180.95 993.3v1.8M195.7 993.3v1.8M210.9 993.3v1.8M225.65 993.3v1.8M240.4 993.3v1.8M255.15 993.3v1.8M269.9 993.3v1.8M285.1 907.6v1.8M299.85 907.6v1.8M314.6 907.6v1.8M329.35 907.6v1.8M344.1 907.6v1.8" stroke="#777" stroke-width="0.6" fill="none"/>
<text x="196.6" y="1010.9" font-size="11" text-anchor="middle" fill="#111">Component 1</text>
<text x="33.2" y="868.8" font-size="11.4" text-anchor="middle" transform="rotate(-90 33.2 868.8)" fill="#111">Component 2</text>
</g>
<g id="pI">
<path d="M347.4 693L347.4 1016" stroke="#d4d4d4" stroke-width="0.9" fill="none"/>
<text x="375" y="712.3" font-size="6.15" fill="#111">NewFeature</text>
<circle cx="413.8" cy="699" r="1" fill="#f06b6a"/>
<text x="420.5" y="701.3" font-size="4.95" fill="#222">VCT_fusing</text>
<circle cx="413.8" cy="710.7" r="1" fill="#e0951c"/>
<text x="420.5" y="713" font-size="4.95" fill="#222">VCT_LDHA_5</text>
<circle cx="413.8" cy="722.1" r="1" fill="#b3a924"/>
<text x="420.5" y="724.4" font-size="4.95" fill="#222">VCT_LDHA_4</text>
<circle cx="482.4" cy="699" r="1" fill="#6cc12a"/>
<text x="489.1" y="701.3" font-size="4.95" fill="#222">VCT_LDHA_3</text>
<circle cx="482.4" cy="710.7" r="1" fill="#3ccf5f"/>
<text x="489.1" y="713" font-size="4.95" fill="#222">VCT_LDHA_2</text>
<circle cx="482.4" cy="722.1" r="1" fill="#5cd9b2"/>
<text x="489.1" y="724.4" font-size="4.95" fill="#222">VCT_LDHA_1</text>
<circle cx="542.7" cy="698.4" r="1" fill="#55cbe4"/>
<text x="548.8" y="700.7" font-size="4.95" fill="#222">VCT_TP63_4</text>
<circle cx="542.7" cy="709.9" r="1" fill="#4aaef8"/>
<text x="548.8" y="712.2" font-size="4.95" fill="#222">VCT_TP63_3</text>
<circle cx="542.7" cy="721.4" r="1" fill="#b78aff"/>
<text x="548.8" y="723.7" font-size="4.95" fill="#222">VCT_TP63_5</text>
<circle cx="612.2" cy="697.9" r="1" fill="#ef6ceb"/>
<text x="618.6" y="700.2" font-size="4.95" fill="#222">VCT_TP63_2</text>
<circle cx="612.2" cy="709.7" r="1" fill="#fb68b6"/>
<text x="618.6" y="712" font-size="4.95" fill="#222">VCT_TP63_1</text>
<path d="M380.4 746.6V864.6" stroke="#777" stroke-width="0.6" fill="none"/>
<path d="M380.4 765h-1.8M380.4 801h-1.8M380.4 837h-1.8" stroke="#777" stroke-width="0.6" fill="none"/>
<g font-size="6.7" fill="#444" text-anchor="end">
<text x="377.4" y="767.4">0</text>
<text x="377.4" y="803.4">−5</text>
<text x="377.4" y="839.4">−10</text>
</g>
<path d="M380.4 875V993" stroke="#777" stroke-width="0.6" fill="none"/>
<path d="M380.4 893.4h-1.8M380.4 929.4h-1.8M380.4 965.4h-1.8" stroke="#777" stroke-width="0.6" fill="none"/>
<g font-size="6.7" fill="#444" text-anchor="end">
<text x="377.4" y="895.8">0</text>
<text x="377.4" y="931.8">−5</text>
<text x="377.4" y="967.8">−10</text>
</g>
<path d="M378.5 993.7H685" stroke="#777" stroke-width="0.6" fill="none"/>
<g font-size="7" fill="#444" text-anchor="middle">
<text x="396.8" y="1001.5">−20</text>
<text x="416.55" y="1001.5">−10</text>
<text x="436.3" y="1001.5">0</text>
<text x="456.05" y="1001.5">10</text>
<text x="475.8" y="1001.5">20</text>
<text x="495.5" y="1001.5">−20</text>
<text x="515.25" y="1001.5">−10</text>
<text x="535" y="1001.5">0</text>
<text x="554.75" y="1001.5">10</text>
<text x="574.5" y="1001.5">20</text>
<text x="594.2" y="1001.5">−20</text>
<text x="613.95" y="1001.5">−10</text>
<text x="633.7" y="1001.5">0</text>
<text x="653.45" y="1001.5">10</text>
<text x="673.2" y="1001.5">20</text>
</g>
<path d="M396.8 993.7v1.8M416.55 993.7v1.8M436.3 993.7v1.8M456.05 993.7v1.8M475.8 993.7v1.8M495.5 993.7v1.8M515.25 993.7v1.8M535 993.7v1.8M554.75 993.7v1.8M574.5 993.7v1.8M594.2 993.7v1.8M613.95 993.7v1.8M633.7 993.7v1.8M653.45 993.7v1.8M673.2 993.7v1.8" stroke="#777" stroke-width="0.6" fill="none"/>
<text x="527.5" y="1011.4" font-size="11" text-anchor="middle" fill="#111">Component 1</text>
<text x="364" y="868" font-size="11.4" text-anchor="middle" transform="rotate(-90 364 868)" fill="#111">Component 2</text>
<text x="430.3" y="745" font-size="8.25" text-anchor="middle" fill="#222">SC01−F1</text>
<text x="534" y="745" font-size="8.25" text-anchor="middle" fill="#222">SC03−F1</text>
<text x="632" y="745" font-size="8.25" text-anchor="middle" fill="#222">SC06−F1</text>
<text x="430.1" y="876.2" font-size="8.25" text-anchor="middle" fill="#222">SC01−F2</text>
<text x="534.5" y="876.2" font-size="8.25" text-anchor="middle" fill="#222">SC03−F2</text>
<text x="631.9" y="876.2" font-size="8.25" text-anchor="middle" fill="#222">SC06−F2</text>
<path d="M392.46 762.84L394.82 761.98L408.45 761.98L412.6 759.74L415.96 758.02L424.45 757.08L431.36 756.65L437.29 757.44L442.82 759.02L448.15 760.9L452.89 762.98L457.63 766.08L462.57 770.18" stroke="#111" stroke-width="0.85" fill="none" stroke-linejoin="round"/>
<path d="M462.57 770.18L464.94 767.16L467.9 762.84L469.48 760.68" stroke="#111" stroke-width="0.85" fill="none" stroke-linejoin="round"/>
<path d="M462.57 770.18L460 797.69L457.43 823.03" stroke="#111" stroke-width="0.85" fill="none" stroke-linejoin="round"/>
<path transform="scale(0.25)" d="M1796 3022h0m-14 0h0m-12-6h0m-52 10h0m-15 2h0m-22 11h0m1-6h0m38 2h0m148 7h0m11 4h0m-52 6h0m-91 2h0m-19 2h0m0-7h0m-4 4h0m-3-4h0m-6 0h0m-1 7h0m0-7h0m-22-4h0m-4 2h0m-11 12h0m0-4h0m-5-9h0m-47 3h0m25 23h0m27-12h0m28 0h0m9 9h0m0 5h0m1-11h0m0 6h0m14-5h0m5-3h0m3 0h0m10 1h0m54 7h0m46-7h0m9 1h0m3 5h0m0 17h0m-4-5h0m-194-3h0m-9 7h0m-10 5h0m-19-14h0m-63 5h0m51 15h0m25-1h0m16-1h0m199 7h0m10-3h0m8 12h0m-1 10h0m0-7h0m0-3h0m-3 15h0m0 4h0m1-2h0m1-3h0m-7 71h0m2 3h0m-1 12h0m0-8h0m-2-4h0m0 36h0m-1 2h0m0-5h0m0-1h0m0 4h0m-1-1h0m0 2h0m-1 8h0m1-2h0m0 2h0m0 15h0m0 4h0m-1 6h0m0-8h0m-2 7h0m0 17h0m1-4h0m0 13h0m-2 2h0m0 2h0m0-8h0m-7 41h0m-2-13h0m0 9h0m0 1h0m-2-2h0m0 2h0m-6 2h0m-2-1h0m-2-10h0m0-2h0m-1 11h0m-4-5h0m-6 9h0m2 9h0m1 1h0m4 4h0m1-8h0m0 1h0m1 2h0m3 4h0m1-13h0m0 9h0m1 4h0m7-7h0m1 7h0m2-8h0m2 2h0m1 3h0m2-6h0m0 9h0m1-9h0m2 0h0m-5 19h0m-2 5h0m-9-2h0m-2-9h0m-1 2h0m-3 1h0m-2 1h0m-2 3h0m-3-4h0m-1-4h0m-1 5h0m-1 1h0m-10-3h0m-2 16h0m12 6h0m0-1h0m4-4h0m2 6h0m0-12h0m7 4h0m3-3h0m1 11h0m1-1h0m2 3h0m0-14h0m-6 18h0m-1 11h0m0-3h0m-2-3h0m-2-2h0m-1 6h0m-1-12h0m0 3h0m-1 4h0m-1-2h0m0 9h0m-4-7h0m-3-2h0m-3-2h0m-5 12h0m10 4h0m2 7h0m0-3h0m1-6h0m2 10h0m1 2h0m1-12h0m0 4h0m1 3h0m0-5h0m2 7h0m1-10h0m0 2h0m-3 14h0m-3-2h0m-2 10h0m0-1h0m-1 3h0m-2-12h0m-6 21h0m7 5h0" stroke="#f06b6a" stroke-width="8.4" stroke-linecap="round" fill="none"/>
<path transform="scale(0.25)" d="M1804 3023h0m-3 0h0m-1-1h0m-14 1h0m-9-5h0m-5 11h0m-78-6h0m83 12h0m7-4h0m5 12h0m12-13h0m1 4h0m4 2h0m4 2h0m3-3h0m0 3h0m4 6h0m53 14h0m-27 1h0m-9-3h0m-14-10h0m-2 13h0m-5-14h0m0 3h0m-8 4h0m0 5h0m-9-3h0m-19-6h0m6 26h0m0-1h0m0-1h0m24-3h0m4-8h0m6-1h0m1 11h0m13-8h0m1-3h0m2 1h0m3 9h0m13 5h0m-6 8h0m-7 4h0m0-10h0m-1 0h0m-53-1h0m67 21h0m7 21h0m0-12h0m-13 2h0m11 14h0m1 3h0m-2 24h0m-2 30h0m-1 3h0m1-2h0m-5 65h0" stroke="#e0951c" stroke-width="8.4" stroke-linecap="round" fill="none"/>
<path transform="scale(0.25)" d="M1803 3020h0m-21 2h0m0-7h0m-12 1h0m31 22h0m4 1h0m8 2h0m64 2h0m8-13h0m-53 27h0m-6 1h0m-8 0h0m-7-11h0m-7 1h0m13 17h0m10-5h0m14 2h0m3 12h0m3 8h0m0-1h0m-4 0h0m10 88h0m-2 21h0m1-7h0" stroke="#b3a924" stroke-width="8.4" stroke-linecap="round" fill="none"/>
<path transform="scale(0.25)" d="M1884 3028h0m-77 1h0m-4-4h0m-9-10h0m0 2h0m-4 6h0m-1 3h0m-65-11h0m0 11h0m-24 5h0m11 1h0m16 1h0m14 1h0m19 4h0m5 2h0m12 1h0m5 1h0m21-7h0m10 9h0m5-1h0m54-4h0m2-3h0m1-2h0m5 13h0m-1-1h0m-8 10h0m-43 0h0m-52-6h0m87 11h0m-12 17h0" stroke="#6cc12a" stroke-width="8.4" stroke-linecap="round" fill="none"/>
<path transform="scale(0.25)" d="M1736 3014h0m150 0h0m2 12h0m0-8h0m-1 7h0m-2-7h0m-72 11h0m-2-4h0m-10 2h0m-24 2h0m-17-2h0m-57 0h0m-7-11h0m6 28h0m6-13h0m5 10h0m26-4h0m43 6h0m7-1h0m24 2h0m65-5h0m2-7h0m2 8h0m5-3h0m-12 15h0m-4-6h0m-66 10h0m-40-6h0m-1 0h0m-2-2h0m-2 0h0m103 13h0m4-1h0" stroke="#3ccf5f" stroke-width="8.4" stroke-linecap="round" fill="none"/>
<path transform="scale(0.25)" d="M1698 3008h0m3 3h0m84 9h0m-1 0h0m-23 6h0m-3-6h0m0 1h0m-27-2h0m-4 10h0m0-5h0m-1 2h0m-2-5h0m-17 1h0m-6 5h0m-5-4h0m-5 5h0m-102 10h0m10-4h0m2 4h0m4 4h0m10-2h0m9-4h0m79 0h0m8-3h0m4-2h0m26 2h0m41 5h0m30-8h0m-52 16h0m0 9h0m0-7h0m-34 9h0m-93-7h0m-37 5h0m-8 7h0m12 12h0m31-9h0m175-2h0" stroke="#5cd9b2" stroke-width="8.4" stroke-linecap="round" fill="none"/>
<path transform="scale(0.25)" d="M1667 3044h0m8-6h0m7-3h0m12 0h0m21 8h0m-6 4h0m-16 3h0m-1 7h0m-32-12h0m0 2h0m0 3h0m-26 8h0m-3-6h0m-2 0h0m-10 7h0m-2-2h0m-7-4h0m0-4h0m-7-4h0m-5 10h0m-2 0h0m-52 6h0m15 8h0m1 5h0m8-8h0m6 4h0m31 2h0m9-7h0m0 6h0m2 1h0m5 2h0m7-8h0m1 4h0m5-3h0m4-6h0m0 10h0m2 0h0m1-2h0m1-2h0m52 1h0m-55 20h0m-7-9h0m0 8h0m-4-9h0m-4 6h0m0 3h0m0 2h0m-2-14h0m-5 6h0m-3-1h0m-2-3h0m-2 1h0m0 9h0m-3-9h0m0 6h0m-1-2h0m-6-2h0m-2 6h0m-1-11h0m-45 2h0m-10 4h0m59 19h0m6 1h0m0-10h0m0-1h0m3 14h0m14-5h0m1 0h0m4-4h0m3-4h0m0 6h0m-8 8h0m-64 9h0" stroke="#55cbe4" stroke-width="8.4" stroke-linecap="round" fill="none"/>
<path transform="scale(0.25)" d="M1688 3014h0m87-1h0m25 5h0m-40 10h0m-19-3h0m-1 2h0m-25-6h0m-14-5h0m0 13h0m-1-11h0m-11-1h0m-2 9h0m-1-4h0m-2 6h0m-2-1h0m0 2h0m-1-6h0m-2 5h0m-2-6h0m-2 0h0m-8 4h0m-4 0h0m0 1h0m-5-7h0m-111 10h0m10 2h0m12-2h0m8 3h0m1-3h0m11 8h0m33-7h0m7 13h0m2-1h0m2 1h0m3-10h0m4 7h0m2-7h0m20-3h0m1 0h0m7 2h0m5 1h0m2-1h0m0-3h0m7 1h0m17 4h0m7 4h0m4-8h0m1 0h0m0 2h0m2 6h0m5 0h0m7-5h0m4 9h0m1-1h0m31-6h0m33 3h0m-156 15h0m0-6h0m-10 7h0m-2 3h0m-2-4h0m-2-2h0m-12 3h0m-5-10h0m-9 1h0m-2 10h0m-8 0h0m-11-10h0m-2 2h0m-29 7h0m-8 7h0m35 6h0m15 6h0m13-9h0m6 4h0m1-3h0m5-4h0m11 8h0m2-5h0m3 4h0m2 2h0m0 2h0m-24 7h0m17 21h0" stroke="#4aaef8" stroke-width="8.4" stroke-linecap="round" fill="none"/>
<path transform="scale(0.25)" d="M1681 3014h0m94-2h0m28 17h0m-10-10h0m0 4h0m-48 4h0m-9-3h0m-23 4h0m-10-12h0m-13 5h0m-22-1h0m-8 3h0m-3 0h0m-109 20h0m7-1h0m17 1h0m2-4h0m18-9h0m4 0h0m1 13h0m1 0h0m4-9h0m5 0h0m12 4h0m3 6h0m2-14h0m7 4h0m0 9h0m0-7h0m36-6h0m0 6h0m8-5h0m0 4h0m2 3h0m1 0h0m1-6h0m10-2h0m11 2h0m3 8h0m10 3h0m1-11h0m1 10h0m4-6h0m5 0h0m7 2h0m33-4h0m26 6h0m20-6h0m10 7h0m21 18h0m-147-1h0m-58 0h0m-5-2h0m-22-2h0m-1 0h0m-8-9h0m-2 14h0m-32-7h0m-11 2h0m-7-7h0m-2 3h0m1 16h0m1 1h0m15 2h0m26-7h0m18 3h0m10 8h0m7-12h0m16 4h0m78 9h0m109-12h0m9 9h0m17 0h0m-239 10h0m-7-1h0m-14 16h0m7-3h0m248 1h0" stroke="#b78aff" stroke-width="8.4" stroke-linecap="round" fill="none"/>
<path transform="scale(0.25)" d="M1677 3020h0m-14 5h0m-114 10h0m1 8h0m8-5h0m7-5h0m1 0h0m4 3h0m3 3h0m4-6h0m0 6h0m21-8h0m14 3h0m24 0h0m39 4h0m-60 17h0m-11-6h0m-16 10h0m-15-5h0m-1-8h0m-2 4h0m-8-4h0m-11 12h0m-1-10h0m-1-3h0m-2 10h0m-8-10h0m-2 6h0m2 13h0m1-3h0m8 3h0m4 0h0m0 10h0m2-12h0m1 5h0m3 6h0m1-8h0m3 6h0m3-1h0m3-6h0m0-4h0m1 7h0m7 6h0m1-9h0m23 7h0m42 16h0m-18 0h0m-60-12h0m-3 13h0m0-4h0m-10 18h0m1 1h0m2-10h0m6 7h0m47-3h0m18-7h0m-33 26h0m-7-2h0m-24 14h0" stroke="#ef6ceb" stroke-width="8.4" stroke-linecap="round" fill="none"/>
<path transform="scale(0.25)" d="M1636 3029h0m-72-1h0m-22 12h0m5-4h0m1-1h0m14 8h0m8-6h0m1 5h0m6-2h0m55 10h0m-24 0h0m-33-2h0m-7 7h0m-1 4h0m-3-8h0m-5 3h0m-1-6h0m-2 3h0m-7-5h0m0-1h0m-1 3h0m-8-3h0m6 15h0m0 14h0m2-2h0m3-12h0m12 3h0m4 3h0m5 0h0m0 6h0m69-12h0m-87 36h0" stroke="#fb68b6" stroke-width="8.4" stroke-linecap="round" fill="none"/>
<path transform="scale(0.25)" d="M1789 3024h0m-17 2h0m-69 17h0m2-5h0m68 3h0m0-4h0m5 0h0m40 5h0m49 7h0m-130 7h0m-9 0h0m-6-2h0m-5 5h0m-2-10h0m-35-4h0m-2 3h0m-68-2h0m24 18h0m6-3h0m54-1h0m0 2h0m1 4h0m8-6h0m0 3h0m1 3h0m0-3h0m23 4h0m5-7h0m31 2h0m1 1h0m1 4h0m17 5h0m1-5h0m7-1h0m17-4h0m27 3h0m2 8h0m15 6h0m0 1h0m-3-5h0m-2 10h0m-9 3h0m-1-5h0m0-7h0m-215 11h0m-4-2h0m-11-5h0m-6-1h0m32 12h0m9-1h0m211 12h0m0-3h0m6 7h0m-15 3h0m-218-2h0m-41 17h0m271 20h0m-1 1h0m-1 16h0m1-8h0m0 4h0m-3 14h0m0-5h0m-1 24h0m1-5h0m0 13h0m-1 10h0m-2-9h0m0-3h0m2 17h0m-2 26h0m-2-2h0m-1 12h0m2-9h0m-1 18h0m-1-2h0m0 2h0m0 9h0m0-3h0m-1-5h0m0 6h0m-1 0h0m0 9h0m0 4h0m0 6h0m2-2h0m-2 5h0m-1 1h0m0 36h0m-6-4h0m-4 3h0m-1-2h0m-2 1h0m-2 0h0m-6-5h0m-3 11h0m-2 9h0m1 7h0m2-11h0m1 4h0m0 2h0m0-6h0m0 2h0m1 8h0m4-1h0m1-7h0m5-1h0m2 7h0m3 1h0m1-4h0m-2 16h0m0-7h0m0 2h0m-2-4h0m-1 12h0m-1-1h0m0 2h0m-2-7h0m-1 6h0m-7 2h0m-2-9h0m-3-5h0m-2 7h0m0 6h0m-1-5h0m-1-2h0m-3 3h0m0 2h0m0-11h0m-6 0h0m-1 16h0m9 8h0m3 2h0m1-4h0m0-3h0m3 5h0m1-2h0m2-7h0m0 6h0m1 6h0m4 2h0m3-13h0m3 0h0m3 0h0m-11 19h0m-2 4h0m0-1h0m0-3h0m-1 4h0m-4-4h0m-1 9h0m-4-6h0m-1 6h0m-6 10h0m4 2h0m1-7h0m1-4h0m2 8h0m0-4h0m1 7h0m2 3h0m4-5h0m-3 14h0m-3 0h0m0 4h0m-2-4h0m-2-1h0m0-5h0m0 15h0" stroke="#f06b6a" stroke-width="8.4" stroke-linecap="round" fill="none"/>
<path transform="scale(0.25)" d="M1794 3013h0m16 16h0m-25-3h0m-5-1h0m-1-7h0m-4-1h0m0 3h0m-2 2h0m-13 6h0m-14-3h0m-6 3h0m-4 1h0m-36 4h0m24 0h0m14 3h0m22-3h0m12 8h0m5-10h0m5 2h0m11 4h0m1 0h0m3 5h0m4-1h0m4-8h0m12 6h0m3 3h0m58 6h0m-6 7h0m-38-2h0m-2 4h0m-6-3h0m-6-6h0m-10 4h0m-7-6h0m-28 20h0m8 8h0m8-7h0m12-7h0m3 3h0m4-1h0m7 8h0m1-1h0m2 2h0m0 1h0m5-12h0m0 2h0m11 10h0m1 2h0m9-1h0m0-6h0m2 7h0m6-1h0m-3 7h0m-3 4h0m0-5h0m-2 7h0m-3-1h0m-6-10h0m-1 11h0m-4-11h0m-1 0h0m10 22h0m0 2h0m3 2h0m14 9h0m-1 3h0m-3 12h0m3-5h0m-3 17h0m-2 10h0m2 5h0m0 9h0m-6 68h0m-1 8h0" stroke="#e0951c" stroke-width="8.4" stroke-linecap="round" fill="none"/>
<path transform="scale(0.25)" d="M1806 3027h0m-3-2h0m-25 4h0m-8 3h0m103 12h0m6-13h0m-2 15h0m-6 1h0m-6 5h0m-40-2h0m-28 1h0m10 13h0m11 7h0m0-6h0m0 2h0m18-4h0m0 8h0m8-7h0m2-2h0m1 4h0m1 6h0m6 71h0m0-5h0m-5 53h0m3-10h0m0 2h0" stroke="#b3a924" stroke-width="8.4" stroke-linecap="round" fill="none"/>
<path transform="scale(0.25)" d="M1772 3024h0m-1 5h0m-1 0h0m-57 2h0m68 5h0m8 3h0m7-2h0m24 6h0m52-5h0m2 4h0m8-8h0m-11 19h0m-5 2h0m-2 0h0m-37-2h0m-2-2h0m-6 9h0m41 8h0m6-5h0m-23 12h0m-7 6h0" stroke="#6cc12a" stroke-width="8.4" stroke-linecap="round" fill="none"/>
<path transform="scale(0.25)" d="M1884 3022h0m-2 6h0m-3-1h0m-75-3h0m-31-3h0m-3-6h0m-10 12h0m-36-1h0m-7-1h0m3 13h0m45 6h0m11-1h0m18-12h0m11 5h0m65 6h0m1 1h0m4-6h0m1 7h0m9-5h0m2-1h0m-13 7h0m-1 2h0m-63 11h0m38 10h0m12-4h0m-16 18h0" stroke="#3ccf5f" stroke-width="8.4" stroke-linecap="round" fill="none"/>
<path transform="scale(0.25)" d="M1813 3027h0m-11 0h0m-18 2h0m-12-10h0m-41 6h0m-7-4h0m-9-1h0m-17 4h0m-3-6h0m-8 5h0m-8-6h0m-3 8h0m-80 2h0m7 9h0m14 2h0m2 4h0m11 2h0m21-5h0m8-9h0m15 4h0m26-2h0m10-1h0m1 7h0m4-4h0m2 0h0m7 3h0m14-5h0m24 6h0m2 4h0m0 1h0m1 1h0m12-11h0m36 0h0m-17 13h0m-32 0h0m-2-1h0m-40 9h0m-100-9h0m-73 26h0m51 1h0m248 7h0m-278-4h0" stroke="#5cd9b2" stroke-width="8.4" stroke-linecap="round" fill="none"/>
<path transform="scale(0.25)" d="M1682 3041h0m0-5h0m9 7h0m8-6h0m4 6h0m28 10h0m-19-6h0m0 8h0m-9-3h0m-1 4h0m-32-5h0m-1-3h0m-6 3h0m-22-1h0m-10 3h0m-3-1h0m-2 2h0m-21-6h0m-4 3h0m-1-3h0m-29 3h0m-6 4h0m-5-6h0m-4-1h0m-8-3h0m-10 28h0m28-11h0m4 1h0m24 10h0m3-3h0m3-3h0m10 2h0m1-5h0m1-1h0m2 7h0m5-2h0m5-6h0m0 1h0m10 4h0m1 7h0m1-8h0m4 6h0m25-12h0m19 1h0m26 0h0m-7 14h0m-60 9h0m-1 4h0m-3-5h0m-8 1h0m-2 4h0m-1-5h0m-4-1h0m0 6h0m0-3h0m-1-4h0m-6 6h0m-5 2h0m-4-9h0m-2-1h0m-3 5h0m-5-7h0m0 10h0m-3-8h0m0-1h0m-3 5h0m-18-5h0m-13 6h0m-8 5h0m-5 6h0m4-1h0m23-1h0m0 4h0m18-1h0m0-5h0m0 13h0m14-11h0m3 4h0m0-5h0m0 8h0m19-4h0m12-2h0m-17 16h0m-13-5h0m0 6h0m-58 8h0" stroke="#55cbe4" stroke-width="8.4" stroke-linecap="round" fill="none"/>
<path transform="scale(0.25)" d="M1697 3009h0m27 4h0m2 4h0m-7 10h0m-5-6h0m-7 0h0m-24 3h0m-3-3h0m0-5h0m-5 2h0m-3 1h0m-4 9h0m-8-3h0m-2-3h0m-31 2h0m-32 1h0m-36 19h0m6-12h0m12 1h0m16-2h0m11 3h0m4 3h0m0 6h0m9-2h0m0-5h0m12 0h0m11 0h0m1 0h0m26-5h0m3 0h0m0 6h0m9-4h0m22 3h0m0-6h0m6 5h0m2-3h0m15-1h0m36 21h0m-132 5h0m-1-12h0m-1 2h0m-9 2h0m-4 8h0m-1 2h0m-18-12h0m-21 8h0m-14-7h0m-1 7h0m-8 4h0m0-10h0m-2 7h0m-4-7h0m-1 10h0m3 9h0m6 0h0m9-5h0m10 2h0m5-2h0m17 3h0m2-6h0m12 1h0m0 6h0m19 4h0m5 5h0m-5-1h0m-37 4h0m0-1h0m-1 2h0m-30-1h0m52 15h0m1 9h0m14 8h0" stroke="#4aaef8" stroke-width="8.4" stroke-linecap="round" fill="none"/>
<path transform="scale(0.25)" d="M1736 3014h0m77 7h0m-10 2h0m-10-3h0m-52 7h0m-5-12h0m0 9h0m-9-4h0m-1 5h0m-6 1h0m-3-6h0m0 6h0m-14-7h0m0-2h0m-10 6h0m-2-6h0m0 3h0m-2 9h0m-14-1h0m0-7h0m-15 6h0m-58-4h0m-6 0h0m-8 6h0m-16 0h0m-30 14h0m26-2h0m28-7h0m2 0h0m13 4h0m1 6h0m5-11h0m12 5h0m31 0h0m0-1h0m10-5h0m4 1h0m3-1h0m7-1h0m9 3h0m1 5h0m8 0h0m8-1h0m5 0h0m5-8h0m7 0h0m151 7h0m-44 14h0m-38-3h0m0-1h0m-14 2h0m-129 9h0m-13-12h0m-14 10h0m-7-4h0m-2-7h0m-1 3h0m-6 6h0m-3-2h0m-33 2h0m-4 5h0m-1-2h0m-11-3h0m-4-6h0m-5 3h0m-1 3h0m-5-9h0m-2 23h0m11 3h0m2-1h0m4-9h0m6 0h0m12 12h0m17-11h0m36 12h0m7-12h0m87 0h0m-97 14h0m-19 10h0" stroke="#b78aff" stroke-width="8.4" stroke-linecap="round" fill="none"/>
<path transform="scale(0.25)" d="M1575 3029h0m-32 10h0m1-1h0m1-3h0m3 2h0m1-6h0m0 8h0m11 3h0m1 0h0m0-7h0m1 2h0m1-4h0m6 8h0m0-1h0m1-6h0m4 6h0m1-1h0m39-4h0m22 3h0m24-1h0m22-5h0m-50 24h0m-34 2h0m-30 0h0m-1-9h0m0-1h0m-6 9h0m-1-7h0m-6 7h0m-4-12h0m0 9h0m-1 1h0m-2-6h0m0 3h0m-3-2h0m-1-1h0m0 11h0m2 13h0m1-12h0m2 12h0m9-9h0m7-1h0m5-2h0m3 9h0m2 4h0m1-5h0m23-6h0m9 7h0m17-8h0m11 3h0m7 17h0m-25 6h0m-18-4h0m-7 3h0m-23-11h0m-4 0h0m-6 0h0m-1 1h0m-7 0h0m-4 8h0m7 13h0m30 15h0m-29-8h0" stroke="#ef6ceb" stroke-width="8.4" stroke-linecap="round" fill="none"/>
<path transform="scale(0.25)" d="M1612 3025h0m-45 4h0m-19 3h0m5 10h0m4-7h0m6 1h0m10 3h0m2-4h0m21 6h0m-21 12h0m-7 6h0m-2-1h0m-1 1h0m-8 0h0m-6-14h0m-13 14h0m-1-1h0m16 4h0m3-1h0m8 13h0m3-12h0m3-1h0m6 13h0m268 0h0m-290 15h0m-6-14h0" stroke="#fb68b6" stroke-width="8.4" stroke-linecap="round" fill="none"/>
<circle cx="462.57" cy="770.18" r="2.6" fill="#111"/><text x="462.57" y="771.41" font-size="3.4" fill="#fff" text-anchor="middle">1</text>
<path d="M491.15 762.84L493.52 761.98L507.15 761.98L511.3 759.74L514.66 758.02L523.15 757.08L530.06 756.65L535.99 757.44L541.52 759.02L546.85 760.9L551.59 762.98L556.33 766.08L561.27 770.18" stroke="#111" stroke-width="0.85" fill="none" stroke-linejoin="round"/>
<path d="M561.27 770.18L563.64 767.16L566.6 762.84L568.18 760.68" stroke="#111" stroke-width="0.85" fill="none" stroke-linejoin="round"/>
<path d="M561.27 770.18L558.7 797.69L556.13 823.03" stroke="#111" stroke-width="0.85" fill="none" stroke-linejoin="round"/>
<path transform="scale(0.25)" d="M2053 3043h0m2-5h0m25-2h0m22 1h0m106-4h0m2 7h0m8 11h0m-20 6h0m-95 0h0m-7 1h0m-5-3h0m-2-6h0m-2 7h0m-23-2h0m-65-9h0m36 18h0m81 2h0m6 8h0m9-12h0m29 7h0m17 2h0m13-2h0m25-3h0m11 7h0m22-2h0m-4 12h0m-112 0h0m-15-2h0m-85 7h0m-13-8h0m-7 2h0m0 3h0m-11-4h0m0 3h0m-16 0h0m-28 10h0m31 3h0m21 7h0m244 6h0m-2 7h0m-1-1h0m-263 1h0m0-2h0m-47 2h0m-1-6h0m308 54h0m1-4h0m0 5h0m-2 25h0m0 6h0m-2 8h0m0-5h0m0 8h0m-1 5h0m-3 25h0m0 6h0m1 0h0m2-2h0m-2 19h0m0 4h0m0 2h0m0-7h0m-1 2h0m0 8h0m-1-1h0m-2 11h0m1-1h0m0-7h0m1 12h0m0-12h0m0 16h0m-1 8h0m-1 0h0m-1-10h0m-21 29h0m22 11h0m-1-2h0m0 2h0m-2-9h0m-1 2h0m-1-3h0m0 11h0m0-7h0m0-3h0m0 4h0m-1-4h0m0 6h0m0 4h0m-1 3h0m-1-10h0m0-2h0m-1 3h0m-1-2h0m-1 7h0m0 2h0m-2 0h0m0 1h0m-1-2h0m-1-10h0m-2 13h0m-2-1h0m-2-10h0m-1 2h0m0-1h0m-3-3h0m-2 8h0m0-5h0m-12 20h0m3-7h0m8 1h0m1 7h0m1-4h0m0 2h0m1-8h0m0 14h0m0-13h0m0 6h0m3-1h0m2 8h0m4-10h0m1 3h0m0 1h0m0 2h0m1-4h0m0 2h0m0 2h0m2-3h0m0-6h0m1 1h0m3 6h0m0-3h0m1 5h0m1-2h0m0 6h0m1-11h0m0 1h0m1 0h0m0 3h0m0-7h0m1 12h0m2-10h0m0-1h0m0 7h0m-2 8h0m-4 4h0m-2 8h0m0-8h0m-2 2h0m0-3h0m-1-2h0m-1 0h0m-1 3h0m-1 1h0m-2-3h0m-1 3h0m-1 8h0m-2-5h0m-1-3h0m0 4h0m-3-4h0m0 8h0m-1-5h0m0 4h0m-4-4h0m0-8h0m-1 5h0m-3 3h0m-2-7h0m2 14h0m0 11h0m1-3h0m0-1h0m1-6h0m2 1h0m0 4h0m0-7h0m1 9h0m1-5h0m3-4h0m1 14h0m0-14h0m2 14h0m1-2h0m1-11h0m2 11h0m2-4h0m1 5h0m0-7h0m1-6h0m0 3h0m1 7h0m1 2h0m0-1h0m5-11h0m-4 17h0m-1-1h0m-1 0h0m0 2h0m-1 4h0m0-3h0m-2 2h0m-4-4h0m-1 9h0m-4-4h0m0-5h0m0 4h0m-3-6h0m0 2h0m-1 11h0m0-4h0m-1 2h0m-1 3h0m-1-12h0m0 2h0m0 6h0m-1 3h0m-7-1h0m6 8h0m0 4h0m1 0h0m0 2h0m0-5h0m1-2h0m0-4h0m1 14h0m1-8h0m1 1h0m0 6h0m1-6h0m0 6h0m1-4h0m0 2h0m2-8h0m1-1h0m1 12h0m1-10h0m1-2h0m1-1h0m1 1h0m0 7h0m1-8h0m0 4h0m-3 10h0m-2 5h0m0 2h0m0-5h0m-3 1h0m-1 9h0m0-1h0m0-3h0m-5 5h0m-7-13h0m7 23h0m0-3h0m0 6h0m3-5h0m0-1h0m1 1h0m-3 10h0" stroke="#f06b6a" stroke-width="8.4" stroke-linecap="round" fill="none"/>
<path transform="scale(0.25)" d="M2172 3006h0m12 5h0m21 18h0m-5-3h0m-4-1h0m-5-3h0m-15 2h0m0-6h0m-4 7h0m-24-2h0m-27 5h0m31 12h0m13-10h0m26 8h0m7-2h0m3-2h0m6 4h0m1-3h0m12 9h0m53-4h0m5-10h0m-10 16h0m-10 8h0m-38-8h0m-1 10h0m-4-2h0m-41-5h0m19 19h0m5 6h0m7-9h0m2-3h0m1 5h0m7 3h0m0 1h0m5-2h0m0 4h0m7-9h0m7 4h0m0 1h0m5 5h0m2-6h0m-10 12h0m-53-5h0m58 28h0m14 7h0m0-1h0m0 9h0m-14-9h0m13 23h0m1-5h0m-3 28h0m2 6h0m-1 18h0m-1 0h0m-1 0h0m-1-3h0m2 5h0" stroke="#e0951c" stroke-width="8.4" stroke-linecap="round" fill="none"/>
<path transform="scale(0.25)" d="M2203 3023h0m-7 3h0m-27-6h0m-4 3h0m100 19h0m8-10h0m-1 14h0m-11 10h0m-39-2h0m-7 3h0m0 1h0m-19-1h0m-17 6h0m18 10h0m29-9h0m15 10h0m2 3h0m0 8h0m0-10h0m-2 4h0m0-3h0m0 1h0m-9-1h0m4 25h0m13 16h0m-14-5h0m15 30h0" stroke="#b3a924" stroke-width="8.4" stroke-linecap="round" fill="none"/>
<path transform="scale(0.25)" d="M2282 3023h0m-3 2h0m-6 3h0m-69 1h0m-10-2h0m-3 1h0m-10-5h0m-4 3h0m-1-5h0m-4 3h0m-1 2h0m-1-4h0m-58 1h0m-10-6h0m-10 11h0m-1 5h0m35 6h0m22-8h0m26 5h0m3-6h0m28 6h0m2 8h0m2-7h0m1 1h0m10 3h0m45 2h0m3 4h0m-3 2h0m-2 3h0m0 6h0m-42-3h0m-11-2h0m-3 6h0m-2-11h0m-7 4h0m-20-1h0m-24-6h0m77 21h0m30-4h0" stroke="#6cc12a" stroke-width="8.4" stroke-linecap="round" fill="none"/>
<path transform="scale(0.25)" d="M2196 3022h0m-51 0h0m-5 19h0m5-8h0m55-3h0m66 14h0m7-3h0m2 0h0m0-5h0m3 5h0m-9 7h0m-1 5h0m-49 16h0m7-1h0m25 3h0m-10 10h0" stroke="#3ccf5f" stroke-width="8.4" stroke-linecap="round" fill="none"/>
<path transform="scale(0.25)" d="M2108 3021h0m-5 2h0m-5-2h0m-1 2h0m-4 4h0m-8-8h0m-16 3h0m-4 4h0m-5-1h0m-48 4h0m4 12h0m53-8h0m23 1h0m3 0h0m1 8h0m20-11h0m5 11h0m74 14h0m-41-10h0m-13-1h0m-38 9h0m-58 5h0m-5-14h0m-35 2h0m-17 10h0m-3-8h0m10 16h0m10 5h0m236 0h0" stroke="#5cd9b2" stroke-width="8.4" stroke-linecap="round" fill="none"/>
<path transform="scale(0.25)" d="M2088 3029h0m-9 9h0m1 4h0m7 0h0m6 2h0m4-2h0m9-9h0m22 0h0m2 4h0m-13 18h0m0 2h0m-36-12h0m0 1h0m0 4h0m0 9h0m-19-5h0m-50 4h0m-2-1h0m-3 0h0m-3-3h0m-7 3h0m-4-5h0m-1-3h0m-4 2h0m-26-6h0m-22 14h0m-6 11h0m16 3h0m4 1h0m18-4h0m18-5h0m10-2h0m5 5h0m9-4h0m0 2h0m14-5h0m1 1h0m2 7h0m1-3h0m90-1h0m-86 21h0m0-5h0m0 1h0m-3-7h0m-3 12h0m0-7h0m0 2h0m0 2h0m0-7h0m-1 10h0m-3-4h0m-7 3h0m0-7h0m-2-3h0m-1 10h0m0-5h0m-1 5h0m-3-2h0m-3-6h0m0 9h0m0 2h0m-2-5h0m-1-2h0m-1 1h0m0 1h0m-1 1h0m-2 0h0m0 2h0m-1-4h0m-3-3h0m-3 2h0m0 2h0m-1 5h0m-4-2h0m-3-6h0m-4 3h0m-45 0h0m-1-6h0m7 21h0m39-9h0m3 12h0m1-8h0m0 4h0m0 2h0m3-7h0m4-3h0m8 0h0m3 9h0m0-7h0m0 3h0m3-3h0m1 11h0m3-8h0m1 4h0" stroke="#55cbe4" stroke-width="8.4" stroke-linecap="round" fill="none"/>
<path transform="scale(0.25)" d="M2066 3013h0m6 0h0m30-4h0m9 2h0m1 2h0m13-3h0m-8 10h0m-5 6h0m-4-3h0m-17 1h0m-5 3h0m-5-3h0m-5 5h0m-3-6h0m-1-3h0m-5-2h0m0 6h0m-7-9h0m0 6h0m-5 5h0m-3-6h0m-22 9h0m-18 0h0m-10-1h0m-48 16h0m2-5h0m5 1h0m6-4h0m1 7h0m16 0h0m3-11h0m1-2h0m4 4h0m3 3h0m2 5h0m0-3h0m42-1h0m19-8h0m5 12h0m6-8h0m8-1h0m3 3h0m2-4h0m6 8h0m5 2h0m6-8h0m18 1h0m4 9h0m7-5h0m0-7h0m-93 20h0m-23 0h0m-5-1h0m-7 8h0m-3-6h0m-2 6h0m-5-4h0m-2 1h0m-23-10h0m-2 0h0m-10 11h0m-12-8h0m-6 3h0m4 21h0m13-6h0m8 3h0m35-6h0m4-4h0m5 12h0m27-11h0m-1 18h0m-29 9h0m-6-4h0m-5-6h0m-3 7h0m-37-10h0m-4 2h0m56 13h0m2 6h0m1-4h0m7 3h0m-3 13h0" stroke="#4aaef8" stroke-width="8.4" stroke-linecap="round" fill="none"/>
<path transform="scale(0.25)" d="M2107 3011h0m15 0h0m50 15h0m-32-4h0m0 4h0m-12-10h0m-4 11h0m-3-3h0m-9-2h0m-22-2h0m-2 4h0m-2-5h0m-7 6h0m-3 2h0m-4-3h0m-12-8h0m-5 4h0m-2 5h0m-32 1h0m-9 0h0m-5 3h0m-5 0h0m-66 10h0m11-3h0m4-6h0m15 11h0m18-10h0m2 13h0m2-2h0m7-10h0m4-2h0m3 5h0m2-4h0m1 2h0m2-1h0m9 3h0m19 4h0m1-6h0m26 8h0m1-4h0m2 2h0m0-1h0m0-7h0m4 2h0m12 1h0m12 9h0m23 1h0m1-6h0m5 0h0m18-7h0m65 2h0m4 1h0m70-1h0m-12 20h0m-52 0h0m-8 5h0m-16-9h0m-28-4h0m-23 5h0m-111 8h0m-1 0h0m-16-7h0m-8-2h0m-40-1h0m-9 11h0m-1-5h0m0 4h0m-8-2h0m-3-5h0m-6-4h0m14 18h0m15 9h0m17-6h0m58-5h0m62 8h0m116-10h0m20 21h0m-24-7h0m-181 5h0m-7 7h0m0 2h0m-1-3h0m-6-8h0m-15 5h0m-7-5h0m14 24h0m-3 3h0m0 4h0" stroke="#b78aff" stroke-width="8.4" stroke-linecap="round" fill="none"/>
<path transform="scale(0.25)" d="M2078 3021h0m-69 5h0m-40 3h0m-37 14h0m6-6h0m2 4h0m0-6h0m2 5h0m2 1h0m1-9h0m3 8h0m8-3h0m5-7h0m2 13h0m1-7h0m3 8h0m16-6h0m53 15h0m-36-5h0m-15-2h0m-18 3h0m-9 2h0m-5-4h0m-2 6h0m-2-2h0m0 7h0m-1-4h0m-6-9h0m-3 4h0m-6 3h0m0 5h0m9 3h0m7 6h0m3 2h0m1-1h0m1 1h0m2-3h0m4-3h0m3-2h0m2 2h0m0 11h0m2-10h0m0 8h0m22-11h0m6 14h0m10-5h0m4-8h0m8 6h0m-5 17h0m-3-3h0m-4 8h0m-10-7h0m-8 2h0m-28-5h0m-13 8h0m-7 9h0m1 2h0m9-6h0m6-1h0m49 8h0m4-3h0m2 4h0m2-10h0m-3 21h0m-22 6h0m-48-5h0" stroke="#ef6ceb" stroke-width="8.4" stroke-linecap="round" fill="none"/>
<path transform="scale(0.25)" d="M1968 3029h0m-11-1h0m-5-1h0m-19 17h0m4-4h0m2-7h0m2 6h0m5-4h0m3 5h0m1-7h0m2 5h0m0 6h0m3-4h0m4-4h0m6 5h0m2-1h0m23-8h0m227 22h0m-250-7h0m-1 12h0m-2-1h0m-3-6h0m-4-2h0m-4 1h0m-3 2h0m0 6h0m-1-4h0m-2-10h0m-9 5h0m-2-5h0m0 14h0m-3-3h0m6 15h0m6-9h0m5 12h0m3-6h0m1 1h0m1 5h0m1-8h0m6 7h0m4 1h0m276 9h0m-287-4h0m-5-2h0m-10 11h0m-1 0h0m0 12h0m10-6h0m-1 20h0" stroke="#fb68b6" stroke-width="8.4" stroke-linecap="round" fill="none"/>
<path transform="scale(0.25)" d="M2069 3028h0m-24 12h0m41-1h0m7 0h0m0 3h0m59 2h0m9-1h0m114 0h0m7-7h0m-18 10h0m-2 2h0m-41 4h0m-4 5h0m-10-9h0m-16-1h0m-14 0h0m-1 5h0m-17-1h0m-11 8h0m-17 0h0m-9-3h0m0 2h0m0-1h0m-5 0h0m-14-3h0m-10-4h0m-24 5h0m-55-3h0m-3 19h0m25-8h0m22 5h0m5-6h0m40 0h0m19 10h0m55-6h0m8 0h0m1 0h0m17-5h0m17-1h0m0 7h0m21 5h0m6-8h0m1 10h0m-1 14h0m-4-8h0m-21-3h0m0 2h0m-5 1h0m-85-3h0m-10 1h0m0 4h0m-1-2h0m-4 0h0m-14-5h0m-45 5h0m0 1h0m-26-5h0m-3 5h0m-9 6h0m-1-4h0m-4 0h0m-10 0h0m-7-4h0m0 9h0m0-3h0m-3-1h0m-46 4h0m-8-8h0m8 17h0m39-1h0m262 8h0m1 6h0m-15-1h0m0-3h0m-297 2h0m41 19h0m269-6h0m1 21h0m0 11h0m-6 41h0m2 5h0m-2 10h0m0-7h0m0 4h0m0 2h0m-2 7h0m0-1h0m1 1h0m0 17h0m-1-4h0m0 6h0m-1 5h0m0-5h0m-1 2h0m-1 18h0m4-8h0m-2 11h0m-1 4h0m-2 1h0m1 19h0m0 1h0m1-6h0m-2 13h0m0 2h0m0 1h0m-1-3h0m-11 24h0m9 7h0m-1-3h0m-1 5h0m0-1h0m-1 0h0m0 3h0m0-6h0m-1 5h0m-1-1h0m-1-6h0m-8 6h0m-2-3h0m0 9h0m-1-6h0m-2-2h0m0 9h0m-2 0h0m-1 0h0m-1-3h0m-15 18h0m3-3h0m7-2h0m5-8h0m1 7h0m0 2h0m0-3h0m1 5h0m0-12h0m1 1h0m2-1h0m0 9h0m1-4h0m1 9h0m0-14h0m1 3h0m0 4h0m1-2h0m0-1h0m1 9h0m3-5h0m2 4h0m2-3h0m1 2h0m0-7h0m0 9h0m1-12h0m1 11h0m1-6h0m0 1h0m4-5h0m-4 16h0m0 3h0m-1 2h0m-2 3h0m-1-9h0m-1 3h0m-2 9h0m0-10h0m-1 3h0m-1-4h0m-1-1h0m0 9h0m-2-5h0m-2-4h0m-1 11h0m-1 1h0m-1-14h0m-1 11h0m0-10h0m-1 0h0m0 2h0m0 2h0m0 9h0m0-7h0m0-7h0m-2 8h0m0 2h0m-1 4h0m0-2h0m-1-2h0m0 2h0m-5-10h0m-1 5h0m-1 6h0m-4 0h0m-4-2h0m8 10h0m0-5h0m5 12h0m3-5h0m0-7h0m0 4h0m1 6h0m1 1h0m1-11h0m1 4h0m0-5h0m0 1h0m5 12h0m0-10h0m1 5h0m3-1h0m0 2h0m3-2h0m0-5h0m-6 19h0m0-6h0m0 2h0m-1 12h0m-1-8h0m0-5h0m-1 11h0m-2-8h0m0 2h0m-1 7h0m0-5h0m0 2h0m-1 0h0m-1-5h0m-3 5h0m-2-9h0m0 2h0m0-1h0m-2 1h0m-1 4h0m0 6h0m0-3h0m-2-1h0m0-1h0m-2 1h0m-1-3h0m-7 5h0m-2-4h0m8 19h0m4-7h0m1-2h0m5 1h0m2 7h0m0 2h0m4 2h0m2-11h0m0 1h0m1 7h0m0-4h0m2-6h0m-5 20h0m-2 0h0m-1 3h0m-1 3h0m-2 1h0m-1-3h0m0 3h0m-1-9h0m-1 1h0m0 2h0m0 4h0m-1-10h0m-8 3h0m8 18h0m1-3h0m0 1h0m1-3h0m0 4h0m1-6h0" stroke="#f06b6a" stroke-width="8.4" stroke-linecap="round" fill="none"/>
<path transform="scale(0.25)" d="M2200 3019h0m-9 5h0m-4-1h0m-3 0h0m0-7h0m0 6h0m-5 3h0m-2 3h0m-2-3h0m-6-8h0m-4 11h0m-20-7h0m-57 1h0m57 19h0m7 1h0m3-2h0m36-6h0m7 2h0m1-3h0m73 7h0m-38 14h0m-15 2h0m-2-7h0m0 1h0m-2 4h0m0-1h0m-5-5h0m-1 10h0m-2 0h0m-4-6h0m-10 6h0m-46-6h0m23 13h0m32 5h0m20-1h0m6-8h0m1 6h0m9 5h0m5-2h0m0-1h0m5 10h0m-20-4h0m-9 0h0m-3 4h0m20 20h0m13 35h0m0-10h0m1 3h0m0 20h0m-1-9h0m0 11h0m-2 7h0m1 20h0m0-5h0m-1-4h0m-3 11h0m1 11h0m0-7h0m0 31h0" stroke="#e0951c" stroke-width="8.4" stroke-linecap="round" fill="none"/>
<path transform="scale(0.25)" d="M2279 3023h0m0-1h0m-3 2h0m-71 0h0m-31-8h0m-2 13h0m22 3h0m14 8h0m12 3h0m55-5h0m0-5h0m-7 21h0m-3-2h0m-39 4h0m-6 1h0m-10-10h0m-2-1h0m-15 10h0m-3-9h0m-5 26h0m8 1h0m3-13h0m19 5h0m7 0h0m5 7h0m19 9h0m-3-1h0m-5-1h0m-1 22h0m16 8h0m-4 12h0m-1 16h0m-1 27h0m-1 15h0" stroke="#b3a924" stroke-width="8.4" stroke-linecap="round" fill="none"/>
<path transform="scale(0.25)" d="M2183 3007h0m1 4h0m98 9h0m-3 5h0m-76-2h0m-27 6h0m-10-9h0m-68 8h0m31 7h0m33 3h0m12 5h0m1-8h0m2 3h0m9-4h0m9 3h0m8 0h0m62 5h0m3-7h0m3 0h0m0 2h0m3 7h0m1-4h0m0 5h0m-6 8h0m-1-3h0m-1 4h0m-4-5h0m-2 9h0m-52-3h0m-2-9h0m-11 3h0m-19 4h0m40 16h0m2 0h0m21 13h0" stroke="#6cc12a" stroke-width="8.4" stroke-linecap="round" fill="none"/>
<path transform="scale(0.25)" d="M2177 3012h0m26 11h0m-42 3h0m-39-11h0m-1 5h0m-14-3h0m-7 8h0m3 12h0m25-3h0m10-1h0m7 8h0m9-11h0m12 6h0m25-4h0m88 2h0m-65 16h0m-11-5h0m-26 1h0m-3-1h0m57 27h0m7 19h0" stroke="#3ccf5f" stroke-width="8.4" stroke-linecap="round" fill="none"/>
<path transform="scale(0.25)" d="M2093 3011h0m78-6h0m20 24h0m-79-2h0m-9-8h0m-5 6h0m-6-4h0m-4 5h0m-19-9h0m-9 1h0m-106 25h0m36-2h0m5-11h0m7 9h0m3 3h0m12-5h0m4 3h0m41-1h0m38-4h0m30-5h0m8 7h0m10-2h0m53-5h0m6 22h0m-90-2h0m-171-4h0m59 21h0m26-6h0m72 9h0m14-8h0m-84 17h0m-43-4h0m-42 2h0" stroke="#5cd9b2" stroke-width="8.4" stroke-linecap="round" fill="none"/>
<path transform="scale(0.25)" d="M2124 3026h0m-16 2h0m-87 15h0m32 1h0m2 0h0m5-14h0m9 12h0m10-1h0m18 2h0m9-4h0m15 17h0m0-10h0m-33 6h0m-11-4h0m-7 5h0m-5-5h0m-3 2h0m-26 8h0m-5-2h0m-10-9h0m-9 4h0m-2 0h0m-3 7h0m-2 0h0m0-6h0m-3 3h0m-2 3h0m-1-5h0m-4 0h0m-10-3h0m-2-2h0m-21 10h0m-13-9h0m-16 22h0m27-3h0m30 2h0m0-5h0m3 0h0m7 0h0m7 0h0m10-1h0m4-3h0m8 7h0m3 4h0m99-1h0m-9 14h0m-89-8h0m0 9h0m-4-10h0m-1 6h0m-9 5h0m-7-1h0m0-3h0m-4-4h0m0 9h0m-1-10h0m-1 7h0m-1-5h0m0 9h0m-3-3h0m0-6h0m0 9h0m-1-1h0m0-5h0m-1 3h0m-2 0h0m0-6h0m-3 9h0m-1-4h0m-6-2h0m-1 2h0m0-3h0m-2 4h0m-50-4h0m-3-7h0m30 20h0m25 8h0m0-3h0m1-4h0m0-3h0m13 4h0m1-5h0m3 9h0m0-10h0m1 6h0m2-1h0m1-6h0m2 0h0m1 4h0m-63 14h0m-10 10h0m0-5h0m0-7h0" stroke="#55cbe4" stroke-width="8.4" stroke-linecap="round" fill="none"/>
<path transform="scale(0.25)" d="M2170 3025h0m-25-3h0m-15 2h0m-1-3h0m0 8h0m-8 0h0m-18-10h0m-1-4h0m-2 0h0m-5 7h0m0 1h0m-5-1h0m-10 7h0m-1-14h0m-3 7h0m-4-4h0m-6-2h0m-3 12h0m-3-10h0m-3 11h0m0-7h0m-2 5h0m0-7h0m-2-5h0m-44 11h0m-64 6h0m43 11h0m3-6h0m6-3h0m0-3h0m3 11h0m0-3h0m2-6h0m4 7h0m1-9h0m2 2h0m2 3h0m20 1h0m4-3h0m27-1h0m1 3h0m2 0h0m11-1h0m20-4h0m2-1h0m23 2h0m10 1h0m9 0h0m0-3h0m5 1h0m14 14h0m-19 5h0m-52-3h0m-52 8h0m-3 0h0m-3-7h0m-23 4h0m-7 0h0m-8-6h0m-7 12h0m-20-12h0m-5 10h0m-5 2h0m-6-2h0m-11 0h0m5 12h0m40-4h0m3 4h0m4-5h0m5 11h0m12-12h0m10 5h0m200 0h0m12-3h0m-195 25h0m-1-11h0m0 2h0m-3 0h0m-29 2h0m-14 1h0m0-3h0m15 18h0m3 5h0m3 1h0m0-6h0" stroke="#4aaef8" stroke-width="8.4" stroke-linecap="round" fill="none"/>
<path transform="scale(0.25)" d="M2071 3012h0m17 1h0m5 1h0m9-4h0m5-2h0m24 6h0m41 0h0m28 6h0m-69-3h0m0 9h0m0-7h0m-2-2h0m-5-1h0m0 1h0m-3 2h0m0 2h0m-4 1h0m-5 4h0m-15 0h0m-2-5h0m-5 5h0m-18 2h0m-10 1h0m-2-4h0m-7-6h0m-95 9h0m-9 1h0m-1 9h0m16 1h0m8 3h0m18-5h0m0-1h0m1-2h0m4 1h0m7 8h0m3 1h0m7-9h0m9 6h0m7-6h0m35 5h0m0-6h0m13 0h0m18 10h0m5-5h0m2-5h0m21 0h0m4 10h0m3-6h0m21-2h0m9-4h0m6 2h0m0 8h0m25 1h0m20 0h0m63-6h0m-12 19h0m-41 3h0m-15-12h0m-10 8h0m-41-9h0m-2 0h0m-11 3h0m-110-4h0m-3 0h0m0 4h0m-12-3h0m-2 0h0m-5 12h0m-26-5h0m-17-8h0m-12 11h0m-17 1h0m1 9h0m15-3h0m47 3h0m28 0h0m4 1h0m182 1h0m2-4h0m1 5h0m26 10h0m-24-2h0m-5 0h0m-83 3h0m-119 5h0m-7 0h0m-17 2h0m-44-10h0m64 18h0m28-2h0" stroke="#b78aff" stroke-width="8.4" stroke-linecap="round" fill="none"/>
<path transform="scale(0.25)" d="M2056 3027h0m-36 1h0m-59 0h0m-5-1h0m-5 1h0m-11 15h0m3 0h0m17-4h0m2-9h0m1 14h0m2-4h0m2-7h0m5 3h0m25 2h0m1 5h0m35-5h0m-21 14h0m-2-2h0m-27 1h0m-14-5h0m-6 4h0m-4 6h0m-8-8h0m0 7h0m-4-4h0m0-4h0m-6 3h0m-1 8h0m-1 1h0m0-7h0m-2 6h0m-2 9h0m13-5h0m2 9h0m5-11h0m2 13h0m0-13h0m8 0h0m3 13h0m1-3h0m3 0h0m23 2h0m0-1h0m11-7h0m22 6h0m-2 10h0m-6 7h0m-5-5h0m-13-1h0m-4-2h0m-43 0h0m0 6h0m-5-8h0m-10 12h0m-1 13h0m0-1h0m0-1h0m10-8h0m0 3h0m39 3h0m17 5h0m3 0h0m-59 3h0m0 2h0m-10-1h0m0 5h0m1 9h0" stroke="#ef6ceb" stroke-width="8.4" stroke-linecap="round" fill="none"/>
<path transform="scale(0.25)" d="M1948 3029h0m-14 11h0m5 4h0m9-4h0m6-9h0m5 6h0m13 6h0m252 9h0m-236-2h0m-17 4h0m-4 2h0m-1 0h0m-2-8h0m-4 3h0m-5 2h0m-2-6h0m-5 1h0m-1 1h0m-1-4h0m-2 2h0m-4 9h0m0 3h0m-5-9h0m0 6h0m3 10h0m2 4h0m16-10h0m3 0h0m6 1h0m2 6h0m30 4h0" stroke="#fb68b6" stroke-width="8.4" stroke-linecap="round" fill="none"/>
<circle cx="561.27" cy="770.18" r="2.6" fill="#111"/><text x="561.27" y="771.41" font-size="3.4" fill="#fff" text-anchor="middle">1</text>
<path d="M589.86 762.84L592.23 761.98L605.85 761.98L610 759.74L613.36 758.02L621.85 757.08L628.76 756.65L634.69 757.44L640.22 759.02L645.55 760.9L650.29 762.98L655.03 766.08L659.97 770.18" stroke="#111" stroke-width="0.85" fill="none" stroke-linejoin="round"/>
<path d="M659.97 770.18L662.34 767.16L665.3 762.84L666.88 760.68" stroke="#111" stroke-width="0.85" fill="none" stroke-linejoin="round"/>
<path d="M659.97 770.18L657.4 797.69L654.83 823.03" stroke="#111" stroke-width="0.85" fill="none" stroke-linejoin="round"/>
<path transform="scale(0.25)" d="M2562 3013h0m41 10h0m-13 4h0m-23-11h0m-50 11h0m-6 0h0m-25-2h0m-3 2h0m-14 7h0m5 7h0m14-4h0m0-5h0m41 4h0m1 7h0m30-1h0m4 2h0m3-7h0m16-2h0m12 1h0m22 12h0m-7 3h0m-20-6h0m-59 9h0m-9 0h0m-20 4h0m-1-10h0m-10-2h0m-29-1h0m-10 12h0m0 2h0m-75 2h0m22 7h0m54-5h0m45-3h0m14 7h0m26-2h0m49 5h0m1 1h0m0-3h0m8-3h0m14 8h0m10-11h0m2 6h0m7 2h0m7 19h0m-14-13h0m-119 7h0m-1 1h0m-74 1h0m-48-5h0m-39 7h0m86 9h0m1 5h0m214 3h0m2-3h0m-262 24h0m251 145h0m0 5h0m-11 38h0m8 7h0m-11 0h0m-3-5h0m-11 9h0m-1-2h0m-5 18h0m5-10h0m1 6h0m6-1h0m11 0h0m6-1h0m1 4h0m1-1h0m-10 21h0m-2-11h0m-2 4h0m-1 1h0m-11-5h0m-1 5h0m-1-1h0m-2-2h0m-5 25h0m4-4h0m3-1h0m2 4h0m7-2h0m2-10h0m0 1h0m9 2h0m-16 19h0m-2-3h0m-1-1h0m-18 17h0m20-1h0m1 5h0m3-3h0m2 4h0m5-10h0m-8 22h0m-8 16h0m1-6h0" stroke="#f06b6a" stroke-width="8.4" stroke-linecap="round" fill="none"/>
<path transform="scale(0.25)" d="M2486 3010h0m28 4h0m50-2h0m35 14h0m-4-2h0m-5 5h0m-2-2h0m-2-6h0m0-1h0m-7 8h0m-2-5h0m0-1h0m-4 2h0m-1 0h0m-1-2h0m-4 6h0m0-11h0m-3 5h0m0-3h0m-2-4h0m-59 10h0m34 9h0m22 7h0m1-6h0m4 3h0m3-4h0m21-2h0m2 5h0m0-5h0m0 3h0m17 6h0m53 0h0m11-10h0m-15 20h0m-40 4h0m-2-8h0m-7 12h0m0-6h0m-21-5h0m-10 0h0m0 2h0m-4 0h0m-7-2h0m-6-2h0m-25 0h0m46 25h0m1 1h0m7-4h0m0-1h0m3 2h0m1-1h0m4 0h0m0 2h0m11-2h0m2 1h0m1-2h0m6 2h0m0-7h0m2-1h0m1 4h0m2-4h0m0 12h0m1-4h0m0 1h0m7 1h0m0-7h0m2 8h0m6-5h0m1 4h0m3 11h0m-1 6h0m0-7h0m-5 5h0m-1-6h0m-1 6h0m0 2h0m0-5h0m-11-6h0m-41-1h0m52 24h0m7-9h0m2 7h0" stroke="#e0951c" stroke-width="8.4" stroke-linecap="round" fill="none"/>
<path transform="scale(0.25)" d="M2564 3014h0m22 8h0m0 5h0m-21-10h0m-6 8h0m26 13h0m15-3h0m63 4h0m-5 18h0m-37 0h0m0-3h0m-2-4h0m0 2h0m-1 2h0m-3-9h0m-6 7h0m-14 4h0m-5-8h0m-2 21h0m42 4h0m8-6h0m2 3h0m2 78h0" stroke="#b3a924" stroke-width="8.4" stroke-linecap="round" fill="none"/>
<path transform="scale(0.25)" d="M2559 3008h0m2 6h0m25 9h0m-3 5h0m-3-2h0m-7-5h0m-9-1h0m-26 0h0m-1 1h0m-7 2h0m-11 5h0m41 4h0m7 3h0m4 9h0m1-12h0m5-1h0m1-1h0m6 7h0m4 4h0m0-10h0m2 5h0m5 1h0m5-3h0m2 7h0m60-3h0m2 4h0m1-8h0m9-4h0m-10 21h0m-2-3h0m0 3h0m-1 0h0m-9-1h0m0 9h0m-26 0h0m-5-5h0m-2-7h0m0 4h0m-3 4h0m-28-5h0m-12-1h0m24 11h0m29 3h0m7 8h0m-1 21h0" stroke="#6cc12a" stroke-width="8.4" stroke-linecap="round" fill="none"/>
<path transform="scale(0.25)" d="M2674 3024h0m-72 0h0m-36-3h0m-28-1h0m-38 6h0m5 9h0m55 1h0m5-6h0m1 4h0m22-1h0m7 2h0m72-4h0m2 2h0m1 4h0m5-5h0m-6 13h0m-11 2h0m0 7h0m-7 4h0m-30-5h0m-33 0h0m19 8h0m42 10h0m0-1h0" stroke="#3ccf5f" stroke-width="8.4" stroke-linecap="round" fill="none"/>
<path transform="scale(0.25)" d="M2502 3012h0m100 16h0m-2 0h0m-24-8h0m-9 1h0m-30-2h0m-21 3h0m-2 0h0m-12 0h0m-2-5h0m-5 8h0m-17-9h0m-4 6h0m-10 6h0m-7-8h0m-2 2h0m-25 7h0m-26 6h0m9 1h0m6 2h0m31-6h0m26 3h0m19-4h0m24 2h0m9 11h0m10-12h0m4-2h0m23 12h0m11 6h0m-189 3h0m0 5h0m-41 14h0m39 1h0m19-7h0m14 0h0m7-4h0m2 14h0m1-3h0m12-8h0m198 13h0m-222 3h0" stroke="#5cd9b2" stroke-width="8.4" stroke-linecap="round" fill="none"/>
<path transform="scale(0.25)" d="M2458 3037h0m27 6h0m18-1h0m10-8h0m1 14h0m-29 1h0m0 2h0m-14 8h0m0-8h0m-12-6h0m-7 13h0m-22-2h0m-24 2h0m-2-6h0m-6-2h0m-9-2h0m-12 5h0m-12-4h0m-9 9h0m-1-6h0m-16 21h0m8-13h0m5 10h0m26-7h0m2 8h0m5-10h0m16 9h0m1-10h0m9 5h0m5-3h0m8-2h0m2 6h0m1-6h0m3 14h0m59-8h0m-58 17h0m-3 1h0m0-3h0m-1 3h0m-8-5h0m-8-2h0m-4 3h0m0-1h0m0 2h0m-4 1h0m-1 0h0m-3 6h0m-2-4h0m-1-4h0m-6 4h0m-3-6h0m-6 2h0m-1-2h0m-48 0h0m-2-3h0m-1 0h0m-1 12h0m0-9h0m18 15h0m0 5h0m4-5h0m33 3h0m6 1h0m1 2h0m3 3h0m4-1h0m10-9h0m7-2h0m3 9h0m1-7h0m0 9h0m9-7h0m0 1h0m1 8h0m-21 6h0m-4 0h0m-21-1h0m0-3h0m-32 15h0" stroke="#55cbe4" stroke-width="8.4" stroke-linecap="round" fill="none"/>
<path transform="scale(0.25)" d="M2567 3017h0m-52-2h0m-3 6h0m-1 8h0m0-12h0m-6 6h0m0-1h0m-7 0h0m-4-1h0m0 2h0m-3 3h0m-5-10h0m-3 1h0m0-1h0m-3 0h0m-4 13h0m-3-8h0m-2 8h0m0-5h0m-2-9h0m-5 8h0m-2-3h0m-1-1h0m-6 3h0m0 1h0m-1-2h0m-2 2h0m-29 0h0m-33 3h0m-13-2h0m-29 3h0m-17 8h0m1 9h0m17-10h0m6-4h0m30 11h0m0-4h0m17 4h0m6-7h0m8-3h0m2 4h0m9 6h0m1-3h0m30-1h0m2 1h0m1-8h0m3 1h0m5 9h0m1-10h0m6 8h0m5-5h0m9-3h0m5 2h0m2 10h0m5-2h0m10-2h0m13 0h0m0-7h0m2 0h0m3 5h0m23-1h0m57 17h0m-15-3h0m-162-1h0m-5 5h0m-17 1h0m-2-1h0m-5-5h0m-7 4h0m-2-3h0m-14 7h0m-34 0h0m-4-8h0m0 6h0m-8-7h0m-4 16h0m11 5h0m2-1h0m33-1h0m7-3h0m1 8h0m3-1h0m14 1h0m2 0h0m0 2h0m10-6h0m9 1h0m198 3h0m13-2h0m-238 10h0m-18-1h0m-33-3h0m296 18h0" stroke="#4aaef8" stroke-width="8.4" stroke-linecap="round" fill="none"/>
<path transform="scale(0.25)" d="M2516 3012h0m86 10h0m-26-5h0m-9 7h0m-7-9h0m-30 13h0m-14-12h0m-14 8h0m-15-4h0m-1 5h0m-6-3h0m-2 0h0m-10-7h0m0 10h0m-1-8h0m-9 12h0m-1-5h0m-41-2h0m-5 2h0m0 4h0m-82 13h0m6-2h0m8-6h0m2-2h0m0 13h0m35-6h0m10-3h0m5 7h0m4-5h0m3 1h0m6 6h0m8-9h0m7 2h0m32-3h0m2-3h0m2 9h0m17 0h0m3 1h0m2-11h0m21 8h0m1 0h0m22-4h0m12 6h0m15-8h0m8 2h0m5-4h0m14 8h0m7 5h0m31 6h0m-9-1h0m-17 0h0m-148 10h0m-19-11h0m-1 8h0m-15-2h0m-13 0h0m-28 4h0m-13 0h0m-2-6h0m-9 7h0m-10-8h0m32 17h0m39 0h0m5-4h0m4 3h0m3-5h0m12-1h0m14 3h0m180 8h0m14 3h0m1-14h0m3 17h0m-224 1h0m-2-2h0m-32 10h0m14 12h0m10 5h0m12-11h0m10 4h0m208-5h0" stroke="#b78aff" stroke-width="8.4" stroke-linecap="round" fill="none"/>
<path transform="scale(0.25)" d="M2464 3022h0m-52 6h0m-18-1h0m-63 10h0m4 7h0m1-3h0m0-1h0m1-1h0m14-6h0m4 6h0m6 2h0m5-2h0m25 0h0m39-3h0m17-2h0m18-4h0m-37 17h0m-4 1h0m-30 2h0m-17-4h0m-12 12h0m-3-8h0m-2 9h0m-1-1h0m-2-6h0m-2-3h0m-3-2h0m-1-1h0m-7 1h0m-2 2h0m-2 10h0m-6-12h0m-1 6h0m-1-3h0m-5 1h0m3 9h0m3 4h0m1 0h0m6 9h0m1-1h0m2-8h0m5 2h0m1 4h0m2-9h0m2 2h0m8 7h0m1 3h0m1-3h0m2-3h0m62 4h0m1 2h0m-24 3h0m-8 3h0m-14-1h0m-29-1h0m-2-1h0m-1 11h0m0-8h0m-6 6h0m-2-10h0m8 29h0m46-7h0m22 0h0m-36 18h0m-32 1h0" stroke="#ef6ceb" stroke-width="8.4" stroke-linecap="round" fill="none"/>
<path transform="scale(0.25)" d="M2347 3028h0m-13 13h0m12 3h0m4-6h0m4 1h0m1-2h0m3-2h0m8 7h0m0-3h0m21 4h0m43 7h0m-7 7h0m-5-11h0m-12 7h0m-43 3h0m-7 0h0m-3-4h0m-11 2h0m0 15h0m1 1h0m4-7h0m0 3h0m2-6h0m0 12h0m1-12h0m8 11h0m3 0h0m2-6h0m2-3h0m1 8h0m262 7h0m-287-2h0m-6 26h0" stroke="#fb68b6" stroke-width="8.4" stroke-linecap="round" fill="none"/>
<path transform="scale(0.25)" d="M2579 3024h0m-2-5h0m-63 3h0m-120 18h0m5-3h0m87 3h0m0-7h0m14 8h0m18 3h0m1-4h0m7 1h0m51 2h0m2-9h0m6 2h0m3 7h0m19-5h0m7 1h0m47 18h0m-89-5h0m-34 7h0m-10-2h0m-3-5h0m-18 0h0m-44-7h0m-10 11h0m-28-10h0m-31 8h0m31 12h0m76-2h0m2 1h0m0 2h0m9-3h0m0-3h0m0 4h0m68 6h0m4-7h0m23 10h0m2-7h0m10 0h0m7 3h0m2-9h0m1 6h0m5 5h0m-8 10h0m0-3h0m-219 6h0m-1-1h0m-2 2h0m-8-4h0m-14 5h0m-4 2h0m40 11h0m216 0h0m0 3h0m-238 3h0m-14 15h0m262 31h0m-11 123h0m-13 38h0m10 8h0m-6 8h0m-2-4h0m-1-9h0m-11 9h0m-6-9h0m1 14h0m8 14h0m1-6h0m3 6h0m0-7h0m2-2h0m1 3h0m3-3h0m3 4h0m4-8h0m0 8h0m-3 12h0m-11 8h0m-1-7h0m-9 2h0m-2-8h0m-15 18h0m9-4h0m3 6h0m7-6h0m1 8h0m7-8h0m2 13h0m1-10h0m2 3h0m2-3h0m-6 23h0m-2-1h0m-3 2h0m-1-2h0m-5-5h0m-3 1h0m-4 6h0m-1-1h0m-9 14h0m10-10h0m1 14h0m8-5h0m0 2h0m0-5h0m1-1h0m0 2h0m1 0h0m-10 34h0m2-5h0m0 4h0m2-5h0" stroke="#f06b6a" stroke-width="8.4" stroke-linecap="round" fill="none"/>
<path transform="scale(0.25)" d="M2674 3020h0m-86 7h0m-2 0h0m-9-2h0m-1-1h0m-2-3h0m0-6h0m-2 8h0m-1 1h0m-7 4h0m0 1h0m-4-2h0m-70-2h0m-2 8h0m55 2h0m16 8h0m13-1h0m0-7h0m0 8h0m4-8h0m10-4h0m14 11h0m0-7h0m8 7h0m7 1h0m23 15h0m0 1h0m-17-3h0m-2-2h0m0-1h0m0-5h0m-2 8h0m-3-10h0m0-1h0m-7 6h0m-7-3h0m-12-2h0m-2 2h0m-1-1h0m-14 4h0m0 1h0m-6-4h0m-6-1h0m6 22h0m15-9h0m0 6h0m4-3h0m3 3h0m5 4h0m8-9h0m6 13h0m1-5h0m1-3h0m2 4h0m0 3h0m6-1h0m0-10h0m1 1h0m2 10h0m2-5h0m0 2h0m0 4h0m0-1h0m5-10h0m12-2h0m0 4h0m2 6h0m0 4h0m-2 7h0m-3 7h0m-2-8h0m-7 1h0m0-3h0m0 9h0m5 16h0m0-2h0m4-7h0m1-3h0m0 6h0m5 6h0m1-2h0m-4 109h0" stroke="#e0951c" stroke-width="8.4" stroke-linecap="round" fill="none"/>
<path transform="scale(0.25)" d="M2674 3017h0m-72 5h0m-2 7h0m-12 0h0m-2-2h0m-12-5h0m-14 21h0m4-6h0m1 0h0m2-2h0m0-1h0m4 9h0m1-8h0m6 0h0m12 7h0m72-4h0m1-2h0m2 14h0m-5 6h0m-3 2h0m-1-8h0m-37 1h0m-4-1h0m-6 1h0m0 4h0m-9 1h0m-9-11h0m-20 4h0m9 25h0m1-3h0m28-6h0m17 3h0m7 5h0m-4 7h0m12 86h0" stroke="#b3a924" stroke-width="8.4" stroke-linecap="round" fill="none"/>
<path transform="scale(0.25)" d="M2562 3007h0m0 1h0m3 5h0m111 10h0m-9 6h0m-67 0h0m-14-14h0m-1 3h0m-7 11h0m-1-5h0m-1 5h0m-9-12h0m-53 12h0m-24-2h0m0-2h0m-5-9h0m80 19h0m18 1h0m7-5h0m17 12h0m56-1h0m4-7h0m-1 13h0m-5-2h0m-39 6h0m-34-7h0m-3 0h0m-21 2h0m52 20h0m12-7h0m2 7h0m3 4h0m4-11h0m18 1h0m3-1h0m-25 16h0m-1 1h0" stroke="#6cc12a" stroke-width="8.4" stroke-linecap="round" fill="none"/>
<path transform="scale(0.25)" d="M2502 3012h0m168 12h0m0 5h0m-84-13h0m0 10h0m-15-11h0m-34 5h0m-4 22h0m4-2h0m23 3h0m18-12h0m82 10h0m5 3h0m4-7h0m3 5h0m2-9h0m2 1h0m0 2h0m-10 12h0m-5 4h0m-1-1h0m-1 2h0m-38 0h0m-4-4h0m-9-1h0m-75-3h0m102 34h0m-2 5h0m8 11h0" stroke="#3ccf5f" stroke-width="8.4" stroke-linecap="round" fill="none"/>
<path transform="scale(0.25)" d="M2499 3013h0m3 1h0m12-6h0m46 5h0m24 12h0m-10-3h0m-1 4h0m-13-7h0m-30-1h0m-11 6h0m-3 2h0m-21 1h0m-7-4h0m-7-3h0m-13 3h0m-9 0h0m-2-1h0m-8 5h0m-38-3h0m-34 6h0m13 14h0m9-14h0m56 2h0m4 3h0m3-5h0m16 1h0m10 5h0m14 5h0m3-1h0m0 3h0m11-6h0m0-2h0m3-5h0m9 4h0m0 2h0m4-3h0m5 0h0m1 10h0m0-11h0m27-1h0m7 4h0m23-2h0m0 5h0m-53 9h0m-10 3h0m-42-2h0m-102-2h0m-2 20h0m27-4h0m27 0h0m72 2h0m-9 19h0" stroke="#5cd9b2" stroke-width="8.4" stroke-linecap="round" fill="none"/>
<path transform="scale(0.25)" d="M2391 3044h0m64-5h0m14-2h0m3 5h0m47 14h0m-17 2h0m-7-9h0m-26 6h0m-53-8h0m0 9h0m-5-5h0m-3 2h0m-9 3h0m0 1h0m-4-4h0m-6 0h0m-36-2h0m-10 22h0m8 1h0m2-4h0m25-8h0m7 7h0m10-7h0m2 11h0m2-11h0m7 1h0m1 3h0m4 0h0m0 8h0m13-2h0m1 2h0m0-7h0m3 1h0m2 3h0m30-10h0m-29 22h0m-3 1h0m-3 3h0m0 1h0m-2-3h0m-5-5h0m-4 0h0m-3 8h0m-1-12h0m-3 4h0m-8 6h0m-2 0h0m-5 3h0m-7-9h0m-18 4h0m-2-1h0m-5 6h0m-23-12h0m-3 21h0m3-8h0m11 3h0m34 9h0m11 2h0m11-7h0m3-1h0m11 3h0m6 2h0m1-11h0m-22 16h0m0 3h0m-10-2h0m-11 1h0m-32 8h0" stroke="#55cbe4" stroke-width="8.4" stroke-linecap="round" fill="none"/>
<path transform="scale(0.25)" d="M2491 3012h0m88 14h0m-53 3h0m-10-14h0m-4 5h0m-1 5h0m0-5h0m-7 8h0m-2-8h0m-1 5h0m-1 2h0m-17-8h0m-2 6h0m-5 0h0m-3-1h0m-3-8h0m-6 5h0m-3 7h0m-2 0h0m-2-8h0m-8 4h0m-2 3h0m-113 10h0m2-1h0m3 4h0m11 4h0m0-6h0m8 2h0m4 3h0m25-5h0m8 0h0m4 4h0m4-2h0m3-5h0m5 0h0m11 3h0m6 3h0m32-11h0m11 7h0m1-6h0m4 5h0m9-5h0m5 0h0m1 13h0m109-11h0m7 8h0m-55 5h0m-62 0h0m-63 10h0m-9 1h0m-8-9h0m-8 8h0m0 1h0m-5-3h0m-9-9h0m-3 2h0m0 6h0m-20 4h0m-5-9h0m-23 11h0m-2 0h0m-6-7h0m9 9h0m14 1h0m12 12h0m23-5h0m1-9h0m9 8h0m3-7h0m24 8h0m2 1h0m2-7h0m0 6h0m2-6h0m-41 17h0m-7 3h0m-21-8h0m28 29h0m0-14h0m29 2h0m11 10h0" stroke="#4aaef8" stroke-width="8.4" stroke-linecap="round" fill="none"/>
<path transform="scale(0.25)" d="M2602 3028h0m-12-1h0m-1-1h0m-12-6h0m-1 7h0m-2-5h0m-15-2h0m-28 6h0m0-2h0m-14-9h0m-6 0h0m-8 7h0m-20-4h0m-2 2h0m-1-5h0m-11 9h0m-2-2h0m-3-2h0m-7 6h0m-34 1h0m-57 15h0m12-12h0m11 10h0m1-7h0m10 5h0m4-1h0m2 4h0m1 1h0m11-12h0m4 13h0m0 1h0m8-12h0m22 8h0m3-3h0m10-7h0m8 2h0m5 7h0m0-7h0m5 2h0m0 9h0m8-3h0m7-10h0m7 1h0m7 10h0m17-2h0m13-4h0m10-1h0m24 5h0m0-2h0m12 7h0m11-5h0m3-6h0m63 0h0m-44 16h0m-14-4h0m-42 3h0m-63 11h0m-77-4h0m-7 1h0m-7 2h0m-1-3h0m-1-8h0m0-1h0m-19 1h0m0 5h0m-10-2h0m-2 1h0m-43 14h0m9 0h0m4 6h0m54-4h0m15-1h0m85-4h0m94 0h0m25 10h0m9-3h0" stroke="#b78aff" stroke-width="8.4" stroke-linecap="round" fill="none"/>
<path transform="scale(0.25)" d="M2469 3020h0m-5 5h0m-117 1h0m-13 12h0m2 2h0m1-1h0m3-9h0m0 6h0m1 1h0m1-2h0m0-5h0m1 1h0m8 8h0m1-1h0m1-5h0m5 6h0m1-7h0m1 2h0m0 8h0m3-6h0m23 0h0m13-2h0m31 19h0m-22-1h0m-41-4h0m-2 3h0m-13 6h0m-3-5h0m-18 2h0m0-4h0m-1 6h0m-3 0h0m0 3h0m0-13h0m5 17h0m2-1h0m3 1h0m3 10h0m4-2h0m1-1h0m10-5h0m1-3h0m5 5h0m1-6h0m3 12h0m36-10h0m27 12h0m-76 3h0m-4 0h0m-5 0h0m-8 6h0m-2 17h0m1 1h0m1-11h0m54 3h0m-7 19h0m-32-2h0m-16-6h0" stroke="#ef6ceb" stroke-width="8.4" stroke-linecap="round" fill="none"/>
<path transform="scale(0.25)" d="M2401 3027h0m-71 17h0m6-6h0m8-6h0m7 3h0m2 2h0m9 7h0m4-11h0m262 22h0m-231-8h0m-31 6h0m-1 4h0m-4 2h0m-2-1h0m-3-6h0m-5 2h0m-7 0h0m-4 3h0m-2-10h0m-7 11h0m-3-1h0m5 4h0m5 10h0m2-3h0m2 6h0m1-14h0m1 12h0m9-5h0m12 2h0m1 5h0m-22 2h0m-7-1h0m13 46h0" stroke="#fb68b6" stroke-width="8.4" stroke-linecap="round" fill="none"/>
<circle cx="659.97" cy="770.18" r="2.6" fill="#111"/><text x="659.97" y="771.41" font-size="3.4" fill="#fff" text-anchor="middle">1</text>
<path d="M390.88 898.44L396.8 898.3L400.75 897.86L408.65 895.56L418.53 893.76L426.43 893.26L436.3 894.48L446.18 897.72L452.1 900.96L458.03 905.64" stroke="#111" stroke-width="0.85" fill="none" stroke-linejoin="round"/>
<path d="M458.03 905.64L460.99 900.6L464.35 895.56L466.91 891.96" stroke="#111" stroke-width="0.85" fill="none" stroke-linejoin="round"/>
<path d="M458.03 905.64L456.44 925.8L453.09 958.92" stroke="#111" stroke-width="0.85" fill="none" stroke-linejoin="round"/>
<path transform="scale(0.25)" d="M1837 3656h0m-4 25h0m-1 15h0m2 20h0m-1-11h0m-2 11h0m0 5h0m1 8h0m0 1h0m0-10h0m1 4h0m-1 23h0m0-11h0m0 3h0m-1 5h0m-2 1h0m-1 4h0m1 1h0m0 9h0m0-1h0m2-7h0m0 8h0m-1 16h0m-1-2h0m0-1h0m0 6h0m-1-5h0m0-1h0m-2 7h0m1 7h0m1-6h0m1 13h0m-2 6h0m0 8h0m0-3h0m-3 11h0m0 5h0m2-10h0m1 0h0" stroke="#f06b6a" stroke-width="8.4" stroke-linecap="round" fill="none"/>
<path transform="scale(0.25)" d="M1862 3576h0m2-3h0m-37 13h0m-5 10h0m0 9h0m2 6h0m1-7h0m13-4h0m-8 16h0m0 9h0m-2-7h0m8 17h0m1 14h0m0 5h0m0 2h0m-1 3h0m0-10h0m0 5h0m-1-1h0m0-7h0m0 6h0m-1 5h0m0-7h0m0 12h0m0 9h0m0 2h0m1-2h0m1-7h0m0 6h0m0-4h0m0 21h0m0-11h0m-1 6h0m-2 6h0m0 1h0m2 4h0m-4 43h0m0 3h0m-5 69h0" stroke="#e0951c" stroke-width="8.4" stroke-linecap="round" fill="none"/>
<path transform="scale(0.25)" d="M1865 3569h0m-2 0h0m-1-3h0m-1 1h0m-3 11h0m2 1h0m1-9h0m1 5h0m2-5h0m-9 17h0m-1 0h0m-1-1h0m-9 13h0m-9-11h0m-19 15h0m13 10h0m7-4h0m7-8h0m1 7h0m-6 8h0m-12 9h0m9 5h0m1 6h0m2 2h0m-2 9h0m-2 23h0m2-8h0m0 1h0m0 13h0m-1 10h0m-1-7h0m-1 2h0" stroke="#b3a924" stroke-width="8.4" stroke-linecap="round" fill="none"/>
<path transform="scale(0.25)" d="M1867 3564h0m-2 2h0m-4 2h0m-3 11h0m2-3h0m1 5h0m5-6h0m-12 13h0m-2 4h0m-7 2h0m-1 0h0" stroke="#6cc12a" stroke-width="8.4" stroke-linecap="round" fill="none"/>
<path transform="scale(0.25)" d="M1865 3565h0m-3 9h0m-8 16h0m-2 0h0m0 3h0m0-4h0m-3 7h0m-3-7h0m0 11h0m1 4h0m1-3h0" stroke="#3ccf5f" stroke-width="8.4" stroke-linecap="round" fill="none"/>

<path transform="scale(0.25)" d="M1774 3586h0m-3 11h0m24 6h0" stroke="#55cbe4" stroke-width="8.4" stroke-linecap="round" fill="none"/>
<path transform="scale(0.25)" d="M1761 3581h0m4 13h0m33 13h0m6 1h0m9-5h0m3 9h0m19-1h0m2 3h0m0-1h0m-5 3h0m-22-1h0" stroke="#4aaef8" stroke-width="8.4" stroke-linecap="round" fill="none"/>
<path transform="scale(0.25)" d="M1854 3579h0m8-8h0m-13 27h0m-1-6h0m-60 6h0m-8-3h0m-4 5h0m31 13h0m21 0h0m1-10h0m6 3h0m1-3h0m4 2h0m5-3h0m3-1h0m-16 17h0m-13 5h0" stroke="#b78aff" stroke-width="8.4" stroke-linecap="round" fill="none"/>
<path transform="scale(0.25)" d="M1835 3601h0m4 11h0m3 3h0" stroke="#ef6ceb" stroke-width="8.4" stroke-linecap="round" fill="none"/>

<circle cx="458.03" cy="905.64" r="2.6" fill="#111"/><text x="458.03" y="906.86" font-size="3.4" fill="#fff" text-anchor="middle">1</text>
<path d="M479.7 890.74L489.57 890.52L499.85 890.74L507.35 889.08L515.25 886.92L523.35 885.7L531.05 886.56L538.95 889.08L546.85 893.04L554.75 898.58" stroke="#111" stroke-width="0.85" fill="none" stroke-linejoin="round"/>
<path d="M554.75 898.58L557.71 894.12L560.67 889.08L563.24 885.12" stroke="#111" stroke-width="0.85" fill="none" stroke-linejoin="round"/>
<path d="M554.75 898.58L552.77 922.2L550.01 951.72" stroke="#111" stroke-width="0.85" fill="none" stroke-linejoin="round"/>
<path transform="scale(0.25)" d="M2104 3567h0m-4 14h0m2-4h0m0 19h0m121 22h0m0-3h0m1 28h0m1 9h0m0 15h0m0 21h0m0-7h0m-2 2h0m-1-2h0m-1 20h0m0-1h0m1 4h0m0-12h0m0 2h0m1 2h0m0 5h0m1-5h0m0-3h0m0 18h0m-1 4h0m-1-9h0m0 8h0m-2-2h0m-1 16h0m2 5h0m0-5h0m0-5h0m0 11h0m1-5h0m0-8h0m0 18h0m-1 4h0m0-7h0m0 2h0m-2 2h0m-1 1h0m0 2h0m-1 15h0m0-1h0m1 7h0m1-7h0m1 7h0m0-12h0m0 9h0m0 15h0m-1-7h0m0 8h0m-1-6h0m0-6h0m-1 14h0m0-8h0m-2 16h0m1 6h0m1-12h0m0 2h0m2 7h0m1-10h0m-17 42h0m7 5h0m-1 12h0m0-3h0m-4-8h0m-1 2h0m-1 0h0m-3 4h0m-1 1h0m-20 16h0m16 2h0m2-4h0m3 5h0m1-6h0m1 5h0m0-7h0m0 2h0m1 5h0m0 1h0m1-6h0m0 6h0m1-10h0m0 9h0m0-13h0m0 9h0m1-8h0m3 12h0m0-8h0m2-1h0m-3 11h0m-1 4h0m0 10h0m-1-11h0m0 9h0m-1-6h0m-1-4h0m-1 4h0m-1-2h0m-3-4h0m-19 11h0m-3 3h0m-6 12h0m3-4h0m0-3h0m0 10h0m2-13h0m1 6h0m1 6h0m0-7h0m3 3h0m0-3h0m0-5h0m1 2h0m3 9h0m21-11h0m-17 27h0m-9-12h0m0 2h0m0 10h0m-1-7h0m-1-4h0m0 1h0m-1 3h0m0 2h0m-1-7h0m-3 6h0m-1 2h0m1 13h0m6-6h0" stroke="#f06b6a" stroke-width="8.4" stroke-linecap="round" fill="none"/>
<path transform="scale(0.25)" d="M2255 3536h0m-11 12h0m1 5h0m1-5h0m-31 35h0m2 3h0m-1-1h0m-2 5h0m-2 6h0m-3 9h0m4-2h0m5-2h0m7 13h0m1-1h0m0 12h0m0-5h0m-1 2h0m-1-6h0m-1 4h0m0 5h0m1 13h0m1 1h0m0-9h0m-1 19h0m-1 8h0m0-7h0m0-3h0m-1 17h0m0 7h0m1-3h0m0-7h0m1-1h0m0 3h0m0 9h0m1-10h0m0 12h0m0-10h0m-1 13h0m-1 1h0" stroke="#e0951c" stroke-width="8.4" stroke-linecap="round" fill="none"/>
<path transform="scale(0.25)" d="M2255 3527h0m-1 7h0m-1 5h0m-2-4h0m0-7h0m-1 11h0m-3-1h0m1 8h0m0-4h0m1 2h0m0 4h0m-5 10h0m-3 9h0m-3-8h0m-14 33h0m-6-3h0m6 22h0m2 8h0m-1 14h0m-1 25h0m-1 7h0" stroke="#b3a924" stroke-width="8.4" stroke-linecap="round" fill="none"/>
<path transform="scale(0.25)" d="M2256 3530h0m-1-2h0m-1 0h0m0 9h0m-1-8h0m0 3h0m-5 1h0m-2 17h0m0-3h0m1-1h0m2-2h0m1 3h0m-4 8h0m-3 4h0m-2 4h0m-1 7h0" stroke="#6cc12a" stroke-width="8.4" stroke-linecap="round" fill="none"/>
<path transform="scale(0.25)" d="M2253 3531h0m-10 22h0m1 1h0m1-1h0m1-2h0m1-1h0m0-4h0m5-4h0m1 4h0m1-2h0m-13 22h0" stroke="#3ccf5f" stroke-width="8.4" stroke-linecap="round" fill="none"/>

<path transform="scale(0.25)" d="M1917 3545h0m56-1h0m11 6h0m16-9h0m37 2h0m5 10h0m6 0h0m27-5h0m16 2h0m17-4h0m35 8h0m24 3h0m-20 2h0m-61 3h0m-6 3h0m-13-8h0m-24 12h0m-19-8h0m-42 7h0m-2-4h0m-9-4h0m0 9h0m-41-6h0m-13 1h0m55 13h0m49-7h0m130 1h0m-170 18h0m-7 9h0m-46-11h0m-11 1h0m28 14h0m16 9h0m4-7h0m7 7h0m-14 16h0m-11-4h0m225 213h0m10 28h0" stroke="#55cbe4" stroke-width="8.4" stroke-linecap="round" fill="none"/>
<path transform="scale(0.25)" d="M2056 3553h0m7-7h0m14 4h0m71-9h0m2 7h0m0-7h0m1 1h0m-43 27h0m-140-13h0m241 22h0m4 0h0m-222 17h0m177 246h0" stroke="#4aaef8" stroke-width="8.4" stroke-linecap="round" fill="none"/>
<path transform="scale(0.25)" d="M1922 3539h0m13 7h0m106 8h0m109 0h0m-174 11h0m-28 2h0m-22-5h0m0 6h0m-5 3h0m7 3h0m5-2h0m47 1h0m5 2h0m232 8h0m1-5h0m1 7h0m-5 11h0m-9-11h0m-249 8h0m255 16h0m3-7h0m6 3h0" stroke="#b78aff" stroke-width="8.4" stroke-linecap="round" fill="none"/>
<path transform="scale(0.25)" d="M1917 3543h0m0 11h0m13-2h0m43-5h0m10 11h0m-10 2h0m-32-2h0m-7 2h0m-2 4h0m-6-7h0m-4 8h0m-4-3h0m-1-3h0m0 7h0m5 12h0m2-3h0m60-1h0m5 4h0m226 2h0m5 17h0m-282-8h0m-13-1h0m-9-1h0m44 19h0" stroke="#ef6ceb" stroke-width="8.4" stroke-linecap="round" fill="none"/>
<path transform="scale(0.25)" d="M1920 3546h0m8 9h0m-2 6h0m-1-5h0m-2 6h0m2 11h0m4 12h0" stroke="#fb68b6" stroke-width="8.4" stroke-linecap="round" fill="none"/>
<circle cx="554.75" cy="898.58" r="2.6" fill="#111"/><text x="554.75" y="899.81" font-size="3.4" fill="#fff" text-anchor="middle">1</text>
<path d="M589.26 891.38L598.15 891.1L608.03 889.8L617.9 887.28L626.99 885.7L635.68 886.92L643.58 889.8L651.48 893.76L660.56 898.58" stroke="#111" stroke-width="0.85" fill="none" stroke-linejoin="round"/>
<path d="M660.56 898.58L663.33 894.12L666.29 889.08L668.26 885.12" stroke="#111" stroke-width="0.85" fill="none" stroke-linejoin="round"/>
<path d="M660.56 898.58L658.59 922.2L655.23 951.72" stroke="#111" stroke-width="0.85" fill="none" stroke-linejoin="round"/>
<path transform="scale(0.25)" d="M2645 3610h0m0 8h0m-4 50h0m-2 28h0m2 6h0m-2 17h0m-1 12h0m0-11h0m1 5h0m0 4h0m0-5h0m0 16h0m-1 2h0m0 16h0m-3 7h0m0 2h0m-2 7h0m-5 62h0m-3-5h0m0 5h0m-1-1h0m-1-1h0m-3-4h0m-3 7h0m2 6h0m0 4h0m0-6h0m3 10h0m0-3h0m3-6h0m1 3h0m-5 22h0m-6-1h0m0-7h0m-1 6h0m-1 1h0m-5 14h0m1 1h0m0-5h0m4 2h0m0 3h0m5 2h0m2-2h0m2 3h0m-2 11h0m-1-8h0m-3 6h0m-2-1h0m0-6h0m-1 0h0m-1 5h0m-2-3h0m0 5h0m-3-1h0m-1 22h0m0-3h0m1-9h0m0 11h0m1-2h0m1 0h0m1-8h0m1 6h0m3-4h0m3 4h0m0-5h0m1 9h0m-1 2h0m-2 1h0m-1 6h0m-1 3h0m-2-5h0m-3 9h0m-5 3h0m1 3h0m2 7h0m1-6h0m0 2h0m1-8h0m1 14h0m0-14h0m3 2h0m-1 15h0m-2-2h0m-2 2h0m-2 3h0" stroke="#f06b6a" stroke-width="8.4" stroke-linecap="round" fill="none"/>
<path transform="scale(0.25)" d="M2634 3567h0m2 13h0m1 0h0m7-7h0m2-3h0m0 26h0m-5-5h0m3 38h0m-1 0h0m2 13h0m-2 4h0m-1 12h0m1 9h0m0 17h0m0-4h0m-2-5h0m-1 9h0" stroke="#e0951c" stroke-width="8.4" stroke-linecap="round" fill="none"/>
<path transform="scale(0.25)" d="M2674 3530h0m-2 5h0m-3 16h0m1-6h0m0-4h0m-4 20h0m-2-2h0m-2 1h0m-1 2h0m-19 9h0m10 6h0m5-5h0m-4 23h0m-12-5h0m1 46h0m0-3h0m2 7h0" stroke="#b3a924" stroke-width="8.4" stroke-linecap="round" fill="none"/>
<path transform="scale(0.25)" d="M2674 3532h0m-3 5h0m-6 15h0m1-5h0m1 0h0m0-1h0m1 2h0m1 0h0m2 0h0m0-6h0m1 2h0m-6 16h0m-3-1h0m-1 8h0m-1-8h0m-3 9h0m1 4h0" stroke="#6cc12a" stroke-width="8.4" stroke-linecap="round" fill="none"/>
<path transform="scale(0.25)" d="M2673 3527h0m-10 26h0m6-7h0m0 8h0m1-11h0m3-3h0m1 4h0m-9 11h0m-5 8h0m-52-1h0m50 12h0" stroke="#3ccf5f" stroke-width="8.4" stroke-linecap="round" fill="none"/>

<path transform="scale(0.25)" d="M2536 3569h0m-202 8h0m2 7h0m1 0h0m205-8h0m-203 13h0m-2 5h0m-1 0h0m-3-8h0m2 17h0m1-2h0m1 10h0m3-11h0m1 13h0m3 11h0m-3-7h0" stroke="#55cbe4" stroke-width="8.4" stroke-linecap="round" fill="none"/>
<path transform="scale(0.25)" d="M2337 3563h0m-4 0h0m6 21h0" stroke="#4aaef8" stroke-width="8.4" stroke-linecap="round" fill="none"/>
<path transform="scale(0.25)" d="M2343 3540h0m5 6h0m322 2h0m-7 12h0m-3 5h0m-319 2h0m-1-11h0m-10 7h0m3 14h0m300-3h0m6 2h0m-4 11h0m-1 1h0m-301-3h0m303 28h0" stroke="#b78aff" stroke-width="8.4" stroke-linecap="round" fill="none"/>
<path transform="scale(0.25)" d="M2513 3530h0m-176 17h0m1-1h0m4 4h0m1-9h0m1 3h0m291 25h0m-290-13h0m-3 2h0m-2 7h0m0-7h0m-1 10h0m-1-4h0m-2-5h0m-1 0h0m0 6h0m3 10h0m0 6h0m311 11h0m-312-7h0" stroke="#ef6ceb" stroke-width="8.4" stroke-linecap="round" fill="none"/>
<path transform="scale(0.25)" d="M2327 3544h0m6-1h0m2 6h0m12 17h0m-2 0h0m-6-8h0m3 20h0" stroke="#fb68b6" stroke-width="8.4" stroke-linecap="round" fill="none"/>
<circle cx="660.56" cy="898.58" r="2.6" fill="#111"/><text x="660.56" y="899.81" font-size="3.4" fill="#fff" text-anchor="middle">1</text>
</g>
</svg></body></html>
